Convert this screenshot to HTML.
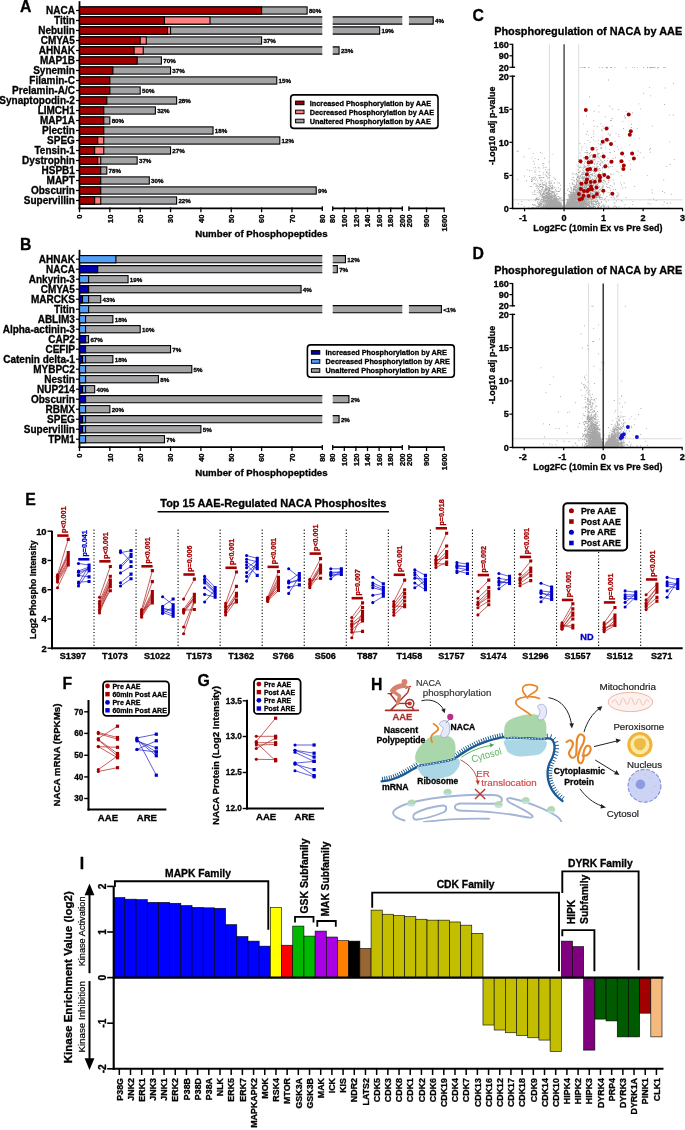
<!DOCTYPE html>
<html><head><meta charset="utf-8"><style>
html,body{margin:0;padding:0;background:#fff;}
svg{display:block;will-change:transform;}
text{font-family:"Liberation Sans",sans-serif;}
</style></head><body>
<svg width="685" height="1130" viewBox="0 0 685 1130">
<rect width="685" height="1130" fill="#fff"/>
<text x="20.10" y="11.90" font-size="15.8" font-weight="bold" stroke="#000" stroke-width="0.3" text-anchor="start" fill="#000">A</text>
<line x1="79.50" y1="1.20" x2="79.50" y2="209.20" stroke="#000" stroke-width="1.8"/>
<line x1="76.00" y1="10.50" x2="79.50" y2="10.50" stroke="#000" stroke-width="1.2"/>
<text x="74.90" y="14.00" font-size="10.0" font-weight="bold" stroke="#000" stroke-width="0.3" text-anchor="end" fill="#000">NACA</text>
<rect x="79.50" y="6.90" width="227.62" height="7.20" fill="#a3a3a6" stroke="#000" stroke-width="1.1"/>
<rect x="79.50" y="6.90" width="182.10" height="7.20" fill="#a00000" stroke="#000" stroke-width="1.1"/>
<line x1="79.50" y1="6.90" x2="79.50" y2="14.10" stroke="#000" stroke-width="1.1"/>
<text x="308.93" y="12.80" font-size="6.2" font-weight="bold" stroke="#000" stroke-width="0.3" text-anchor="start" fill="#000">80%</text>
<line x1="76.00" y1="20.50" x2="79.50" y2="20.50" stroke="#000" stroke-width="1.2"/>
<text x="74.90" y="24.00" font-size="10.0" font-weight="bold" stroke="#000" stroke-width="0.3" text-anchor="end" fill="#000">Titin</text>
<rect x="79.50" y="16.90" width="242.80" height="7.20" fill="#a3a3a6"/>
<line x1="79.50" y1="16.90" x2="322.30" y2="16.90" stroke="#000" stroke-width="1.1"/>
<line x1="79.50" y1="24.10" x2="322.30" y2="24.10" stroke="#000" stroke-width="1.1"/>
<rect x="332.70" y="16.90" width="69.60" height="7.20" fill="#a3a3a6"/>
<line x1="332.70" y1="16.90" x2="402.30" y2="16.90" stroke="#000" stroke-width="1.1"/>
<line x1="332.70" y1="24.10" x2="402.30" y2="24.10" stroke="#000" stroke-width="1.1"/>
<rect x="408.90" y="16.90" width="24.31" height="7.20" fill="#a3a3a6"/>
<path d="M408.90 16.90H433.21V24.10H408.90" fill="none" stroke="#000" stroke-width="1.1"/>
<rect x="79.50" y="16.90" width="130.50" height="7.20" fill="#ff8080" stroke="#000" stroke-width="1.1"/>
<rect x="79.50" y="16.90" width="84.98" height="7.20" fill="#a00000" stroke="#000" stroke-width="1.1"/>
<line x1="79.50" y1="16.90" x2="79.50" y2="24.10" stroke="#000" stroke-width="1.1"/>
<text x="435.01" y="22.80" font-size="6.2" font-weight="bold" stroke="#000" stroke-width="0.3" text-anchor="start" fill="#000">4%</text>
<line x1="76.00" y1="30.50" x2="79.50" y2="30.50" stroke="#000" stroke-width="1.2"/>
<text x="74.90" y="34.00" font-size="10.0" font-weight="bold" stroke="#000" stroke-width="0.3" text-anchor="end" fill="#000">Nebulin</text>
<rect x="79.50" y="26.90" width="242.80" height="7.20" fill="#a3a3a6"/>
<line x1="79.50" y1="26.90" x2="322.30" y2="26.90" stroke="#000" stroke-width="1.1"/>
<line x1="79.50" y1="34.10" x2="322.30" y2="34.10" stroke="#000" stroke-width="1.1"/>
<rect x="332.70" y="26.90" width="46.98" height="7.20" fill="#a3a3a6"/>
<path d="M332.70 26.90H379.68V34.10H332.70" fill="none" stroke="#000" stroke-width="1.1"/>
<rect x="79.50" y="26.90" width="91.05" height="7.20" fill="#ff8080" stroke="#000" stroke-width="1.1"/>
<rect x="79.50" y="26.90" width="88.01" height="7.20" fill="#a00000" stroke="#000" stroke-width="1.1"/>
<line x1="79.50" y1="26.90" x2="79.50" y2="34.10" stroke="#000" stroke-width="1.1"/>
<text x="381.48" y="32.80" font-size="6.2" font-weight="bold" stroke="#000" stroke-width="0.3" text-anchor="start" fill="#000">19%</text>
<line x1="76.00" y1="40.50" x2="79.50" y2="40.50" stroke="#000" stroke-width="1.2"/>
<text x="74.90" y="44.00" font-size="10.0" font-weight="bold" stroke="#000" stroke-width="0.3" text-anchor="end" fill="#000">CMYA5</text>
<rect x="79.50" y="36.90" width="182.10" height="7.20" fill="#a3a3a6" stroke="#000" stroke-width="1.1"/>
<rect x="79.50" y="36.90" width="66.77" height="7.20" fill="#ff8080" stroke="#000" stroke-width="1.1"/>
<rect x="79.50" y="36.90" width="60.70" height="7.20" fill="#a00000" stroke="#000" stroke-width="1.1"/>
<line x1="79.50" y1="36.90" x2="79.50" y2="44.10" stroke="#000" stroke-width="1.1"/>
<text x="263.40" y="42.80" font-size="6.2" font-weight="bold" stroke="#000" stroke-width="0.3" text-anchor="start" fill="#000">37%</text>
<line x1="76.00" y1="50.50" x2="79.50" y2="50.50" stroke="#000" stroke-width="1.2"/>
<text x="74.90" y="54.00" font-size="10.0" font-weight="bold" stroke="#000" stroke-width="0.3" text-anchor="end" fill="#000">AHNAK</text>
<rect x="79.50" y="46.90" width="242.80" height="7.20" fill="#a3a3a6"/>
<line x1="79.50" y1="46.90" x2="322.30" y2="46.90" stroke="#000" stroke-width="1.1"/>
<line x1="79.50" y1="54.10" x2="322.30" y2="54.10" stroke="#000" stroke-width="1.1"/>
<rect x="332.70" y="46.90" width="6.38" height="7.20" fill="#a3a3a6"/>
<path d="M332.70 46.90H339.08V54.10H332.70" fill="none" stroke="#000" stroke-width="1.1"/>
<rect x="79.50" y="46.90" width="63.74" height="7.20" fill="#ff8080" stroke="#000" stroke-width="1.1"/>
<rect x="79.50" y="46.90" width="54.63" height="7.20" fill="#a00000" stroke="#000" stroke-width="1.1"/>
<line x1="79.50" y1="46.90" x2="79.50" y2="54.10" stroke="#000" stroke-width="1.1"/>
<text x="340.88" y="52.80" font-size="6.2" font-weight="bold" stroke="#000" stroke-width="0.3" text-anchor="start" fill="#000">23%</text>
<line x1="76.00" y1="60.50" x2="79.50" y2="60.50" stroke="#000" stroke-width="1.2"/>
<text x="74.90" y="64.00" font-size="10.0" font-weight="bold" stroke="#000" stroke-width="0.3" text-anchor="end" fill="#000">MAP1B</text>
<rect x="79.50" y="56.90" width="81.94" height="7.20" fill="#a3a3a6" stroke="#000" stroke-width="1.1"/>
<rect x="79.50" y="56.90" width="57.67" height="7.20" fill="#a00000" stroke="#000" stroke-width="1.1"/>
<line x1="79.50" y1="56.90" x2="79.50" y2="64.10" stroke="#000" stroke-width="1.1"/>
<text x="163.25" y="62.80" font-size="6.2" font-weight="bold" stroke="#000" stroke-width="0.3" text-anchor="start" fill="#000">70%</text>
<line x1="76.00" y1="70.50" x2="79.50" y2="70.50" stroke="#000" stroke-width="1.2"/>
<text x="74.90" y="74.00" font-size="10.0" font-weight="bold" stroke="#000" stroke-width="0.3" text-anchor="end" fill="#000">Synemin</text>
<rect x="79.50" y="66.90" width="91.05" height="7.20" fill="#a3a3a6" stroke="#000" stroke-width="1.1"/>
<rect x="79.50" y="66.90" width="33.39" height="7.20" fill="#a00000" stroke="#000" stroke-width="1.1"/>
<line x1="79.50" y1="66.90" x2="79.50" y2="74.10" stroke="#000" stroke-width="1.1"/>
<text x="172.35" y="72.80" font-size="6.2" font-weight="bold" stroke="#000" stroke-width="0.3" text-anchor="start" fill="#000">37%</text>
<line x1="76.00" y1="80.50" x2="79.50" y2="80.50" stroke="#000" stroke-width="1.2"/>
<text x="74.90" y="84.00" font-size="10.0" font-weight="bold" stroke="#000" stroke-width="0.3" text-anchor="end" fill="#000">Filamin-C</text>
<rect x="79.50" y="76.90" width="197.27" height="7.20" fill="#a3a3a6" stroke="#000" stroke-width="1.1"/>
<rect x="79.50" y="76.90" width="30.35" height="7.20" fill="#a00000" stroke="#000" stroke-width="1.1"/>
<line x1="79.50" y1="76.90" x2="79.50" y2="84.10" stroke="#000" stroke-width="1.1"/>
<text x="278.57" y="82.80" font-size="6.2" font-weight="bold" stroke="#000" stroke-width="0.3" text-anchor="start" fill="#000">15%</text>
<line x1="76.00" y1="90.50" x2="79.50" y2="90.50" stroke="#000" stroke-width="1.2"/>
<text x="74.90" y="94.00" font-size="10.0" font-weight="bold" stroke="#000" stroke-width="0.3" text-anchor="end" fill="#000">Prelamin-A/C</text>
<rect x="79.50" y="86.90" width="60.70" height="7.20" fill="#a3a3a6" stroke="#000" stroke-width="1.1"/>
<rect x="79.50" y="86.90" width="30.35" height="7.20" fill="#a00000" stroke="#000" stroke-width="1.1"/>
<line x1="79.50" y1="86.90" x2="79.50" y2="94.10" stroke="#000" stroke-width="1.1"/>
<text x="142.00" y="92.80" font-size="6.2" font-weight="bold" stroke="#000" stroke-width="0.3" text-anchor="start" fill="#000">50%</text>
<line x1="76.00" y1="100.50" x2="79.50" y2="100.50" stroke="#000" stroke-width="1.2"/>
<text x="74.90" y="104.00" font-size="10.0" font-weight="bold" stroke="#000" stroke-width="0.3" text-anchor="end" fill="#000">Synaptopodin-2</text>
<rect x="79.50" y="96.90" width="97.12" height="7.20" fill="#a3a3a6" stroke="#000" stroke-width="1.1"/>
<rect x="79.50" y="96.90" width="27.31" height="7.20" fill="#a00000" stroke="#000" stroke-width="1.1"/>
<line x1="79.50" y1="96.90" x2="79.50" y2="104.10" stroke="#000" stroke-width="1.1"/>
<text x="178.42" y="102.80" font-size="6.2" font-weight="bold" stroke="#000" stroke-width="0.3" text-anchor="start" fill="#000">28%</text>
<line x1="76.00" y1="110.50" x2="79.50" y2="110.50" stroke="#000" stroke-width="1.2"/>
<text x="74.90" y="114.00" font-size="10.0" font-weight="bold" stroke="#000" stroke-width="0.3" text-anchor="end" fill="#000">LIMCH1</text>
<rect x="79.50" y="106.90" width="75.88" height="7.20" fill="#a3a3a6" stroke="#000" stroke-width="1.1"/>
<rect x="79.50" y="106.90" width="24.28" height="7.20" fill="#a00000" stroke="#000" stroke-width="1.1"/>
<line x1="79.50" y1="106.90" x2="79.50" y2="114.10" stroke="#000" stroke-width="1.1"/>
<text x="157.18" y="112.80" font-size="6.2" font-weight="bold" stroke="#000" stroke-width="0.3" text-anchor="start" fill="#000">32%</text>
<line x1="76.00" y1="120.50" x2="79.50" y2="120.50" stroke="#000" stroke-width="1.2"/>
<text x="74.90" y="124.00" font-size="10.0" font-weight="bold" stroke="#000" stroke-width="0.3" text-anchor="end" fill="#000">MAP1A</text>
<rect x="79.50" y="116.90" width="30.35" height="7.20" fill="#a3a3a6" stroke="#000" stroke-width="1.1"/>
<rect x="79.50" y="116.90" width="24.28" height="7.20" fill="#a00000" stroke="#000" stroke-width="1.1"/>
<line x1="79.50" y1="116.90" x2="79.50" y2="124.10" stroke="#000" stroke-width="1.1"/>
<text x="111.65" y="122.80" font-size="6.2" font-weight="bold" stroke="#000" stroke-width="0.3" text-anchor="start" fill="#000">80%</text>
<line x1="76.00" y1="130.50" x2="79.50" y2="130.50" stroke="#000" stroke-width="1.2"/>
<text x="74.90" y="134.00" font-size="10.0" font-weight="bold" stroke="#000" stroke-width="0.3" text-anchor="end" fill="#000">Plectin</text>
<rect x="79.50" y="126.90" width="133.54" height="7.20" fill="#a3a3a6" stroke="#000" stroke-width="1.1"/>
<rect x="79.50" y="126.90" width="24.28" height="7.20" fill="#a00000" stroke="#000" stroke-width="1.1"/>
<line x1="79.50" y1="126.90" x2="79.50" y2="134.10" stroke="#000" stroke-width="1.1"/>
<text x="214.84" y="132.80" font-size="6.2" font-weight="bold" stroke="#000" stroke-width="0.3" text-anchor="start" fill="#000">18%</text>
<line x1="76.00" y1="140.50" x2="79.50" y2="140.50" stroke="#000" stroke-width="1.2"/>
<text x="74.90" y="144.00" font-size="10.0" font-weight="bold" stroke="#000" stroke-width="0.3" text-anchor="end" fill="#000">SPEG</text>
<rect x="79.50" y="136.90" width="200.31" height="7.20" fill="#a3a3a6" stroke="#000" stroke-width="1.1"/>
<rect x="79.50" y="136.90" width="24.28" height="7.20" fill="#ff8080" stroke="#000" stroke-width="1.1"/>
<rect x="79.50" y="136.90" width="18.21" height="7.20" fill="#a00000" stroke="#000" stroke-width="1.1"/>
<line x1="79.50" y1="136.90" x2="79.50" y2="144.10" stroke="#000" stroke-width="1.1"/>
<text x="281.61" y="142.80" font-size="6.2" font-weight="bold" stroke="#000" stroke-width="0.3" text-anchor="start" fill="#000">12%</text>
<line x1="76.00" y1="150.50" x2="79.50" y2="150.50" stroke="#000" stroke-width="1.2"/>
<text x="74.90" y="154.00" font-size="10.0" font-weight="bold" stroke="#000" stroke-width="0.3" text-anchor="end" fill="#000">Tensin-1</text>
<rect x="79.50" y="146.90" width="91.05" height="7.20" fill="#a3a3a6" stroke="#000" stroke-width="1.1"/>
<rect x="79.50" y="146.90" width="24.28" height="7.20" fill="#ff8080" stroke="#000" stroke-width="1.1"/>
<rect x="79.50" y="146.90" width="15.17" height="7.20" fill="#a00000" stroke="#000" stroke-width="1.1"/>
<line x1="79.50" y1="146.90" x2="79.50" y2="154.10" stroke="#000" stroke-width="1.1"/>
<text x="172.35" y="152.80" font-size="6.2" font-weight="bold" stroke="#000" stroke-width="0.3" text-anchor="start" fill="#000">27%</text>
<line x1="76.00" y1="160.50" x2="79.50" y2="160.50" stroke="#000" stroke-width="1.2"/>
<text x="74.90" y="164.00" font-size="10.0" font-weight="bold" stroke="#000" stroke-width="0.3" text-anchor="end" fill="#000">Dystrophin</text>
<rect x="79.50" y="156.90" width="57.67" height="7.20" fill="#a3a3a6" stroke="#000" stroke-width="1.1"/>
<rect x="79.50" y="156.90" width="21.25" height="7.20" fill="#ff8080" stroke="#000" stroke-width="1.1"/>
<rect x="79.50" y="156.90" width="18.21" height="7.20" fill="#a00000" stroke="#000" stroke-width="1.1"/>
<line x1="79.50" y1="156.90" x2="79.50" y2="164.10" stroke="#000" stroke-width="1.1"/>
<text x="138.97" y="162.80" font-size="6.2" font-weight="bold" stroke="#000" stroke-width="0.3" text-anchor="start" fill="#000">37%</text>
<line x1="76.00" y1="170.50" x2="79.50" y2="170.50" stroke="#000" stroke-width="1.2"/>
<text x="74.90" y="174.00" font-size="10.0" font-weight="bold" stroke="#000" stroke-width="0.3" text-anchor="end" fill="#000">HSPB1</text>
<rect x="79.50" y="166.90" width="27.31" height="7.20" fill="#a3a3a6" stroke="#000" stroke-width="1.1"/>
<rect x="79.50" y="166.90" width="21.25" height="7.20" fill="#a00000" stroke="#000" stroke-width="1.1"/>
<line x1="79.50" y1="166.90" x2="79.50" y2="174.10" stroke="#000" stroke-width="1.1"/>
<text x="108.61" y="172.80" font-size="6.2" font-weight="bold" stroke="#000" stroke-width="0.3" text-anchor="start" fill="#000">78%</text>
<line x1="76.00" y1="180.50" x2="79.50" y2="180.50" stroke="#000" stroke-width="1.2"/>
<text x="74.90" y="184.00" font-size="10.0" font-weight="bold" stroke="#000" stroke-width="0.3" text-anchor="end" fill="#000">MAPT</text>
<rect x="79.50" y="176.90" width="69.81" height="7.20" fill="#a3a3a6" stroke="#000" stroke-width="1.1"/>
<rect x="79.50" y="176.90" width="21.25" height="7.20" fill="#a00000" stroke="#000" stroke-width="1.1"/>
<line x1="79.50" y1="176.90" x2="79.50" y2="184.10" stroke="#000" stroke-width="1.1"/>
<text x="151.11" y="182.80" font-size="6.2" font-weight="bold" stroke="#000" stroke-width="0.3" text-anchor="start" fill="#000">30%</text>
<line x1="76.00" y1="190.50" x2="79.50" y2="190.50" stroke="#000" stroke-width="1.2"/>
<text x="74.90" y="194.00" font-size="10.0" font-weight="bold" stroke="#000" stroke-width="0.3" text-anchor="end" fill="#000">Obscurin</text>
<rect x="79.50" y="186.90" width="236.73" height="7.20" fill="#a3a3a6" stroke="#000" stroke-width="1.1"/>
<rect x="79.50" y="186.90" width="21.25" height="7.20" fill="#a00000" stroke="#000" stroke-width="1.1"/>
<line x1="79.50" y1="186.90" x2="79.50" y2="194.10" stroke="#000" stroke-width="1.1"/>
<text x="318.03" y="192.80" font-size="6.2" font-weight="bold" stroke="#000" stroke-width="0.3" text-anchor="start" fill="#000">9%</text>
<line x1="76.00" y1="200.50" x2="79.50" y2="200.50" stroke="#000" stroke-width="1.2"/>
<text x="74.90" y="204.00" font-size="10.0" font-weight="bold" stroke="#000" stroke-width="0.3" text-anchor="end" fill="#000">Supervillin</text>
<rect x="79.50" y="196.90" width="97.12" height="7.20" fill="#a3a3a6" stroke="#000" stroke-width="1.1"/>
<rect x="79.50" y="196.90" width="21.25" height="7.20" fill="#ff8080" stroke="#000" stroke-width="1.1"/>
<rect x="79.50" y="196.90" width="15.17" height="7.20" fill="#a00000" stroke="#000" stroke-width="1.1"/>
<line x1="79.50" y1="196.90" x2="79.50" y2="204.10" stroke="#000" stroke-width="1.1"/>
<text x="178.42" y="202.80" font-size="6.2" font-weight="bold" stroke="#000" stroke-width="0.3" text-anchor="start" fill="#000">22%</text>
<line x1="78.60" y1="208.30" x2="322.30" y2="208.30" stroke="#000" stroke-width="1.8"/>
<line x1="332.70" y1="208.30" x2="402.30" y2="208.30" stroke="#000" stroke-width="1.8"/>
<line x1="408.90" y1="208.30" x2="444.20" y2="208.30" stroke="#000" stroke-width="1.8"/>
<line x1="79.50" y1="207.40" x2="79.50" y2="212.20" stroke="#000" stroke-width="1.3"/>
<text x="82.20" y="214.50" font-size="7.6" font-weight="bold" stroke="#000" stroke-width="0.3" text-anchor="end" fill="#000" transform="rotate(-90 82.20 214.50)">0</text>
<line x1="109.85" y1="207.40" x2="109.85" y2="212.20" stroke="#000" stroke-width="1.3"/>
<text x="112.55" y="214.50" font-size="7.6" font-weight="bold" stroke="#000" stroke-width="0.3" text-anchor="end" fill="#000" transform="rotate(-90 112.55 214.50)">10</text>
<line x1="140.20" y1="207.40" x2="140.20" y2="212.20" stroke="#000" stroke-width="1.3"/>
<text x="142.90" y="214.50" font-size="7.6" font-weight="bold" stroke="#000" stroke-width="0.3" text-anchor="end" fill="#000" transform="rotate(-90 142.90 214.50)">20</text>
<line x1="170.55" y1="207.40" x2="170.55" y2="212.20" stroke="#000" stroke-width="1.3"/>
<text x="173.25" y="214.50" font-size="7.6" font-weight="bold" stroke="#000" stroke-width="0.3" text-anchor="end" fill="#000" transform="rotate(-90 173.25 214.50)">30</text>
<line x1="200.90" y1="207.40" x2="200.90" y2="212.20" stroke="#000" stroke-width="1.3"/>
<text x="203.60" y="214.50" font-size="7.6" font-weight="bold" stroke="#000" stroke-width="0.3" text-anchor="end" fill="#000" transform="rotate(-90 203.60 214.50)">40</text>
<line x1="231.25" y1="207.40" x2="231.25" y2="212.20" stroke="#000" stroke-width="1.3"/>
<text x="233.95" y="214.50" font-size="7.6" font-weight="bold" stroke="#000" stroke-width="0.3" text-anchor="end" fill="#000" transform="rotate(-90 233.95 214.50)">50</text>
<line x1="261.60" y1="207.40" x2="261.60" y2="212.20" stroke="#000" stroke-width="1.3"/>
<text x="264.30" y="214.50" font-size="7.6" font-weight="bold" stroke="#000" stroke-width="0.3" text-anchor="end" fill="#000" transform="rotate(-90 264.30 214.50)">60</text>
<line x1="291.95" y1="207.40" x2="291.95" y2="212.20" stroke="#000" stroke-width="1.3"/>
<text x="294.65" y="214.50" font-size="7.6" font-weight="bold" stroke="#000" stroke-width="0.3" text-anchor="end" fill="#000" transform="rotate(-90 294.65 214.50)">70</text>
<line x1="322.30" y1="206.20" x2="322.30" y2="211.00" stroke="#000" stroke-width="1.3"/>
<text x="325.00" y="214.50" font-size="7.6" font-weight="bold" stroke="#000" stroke-width="0.3" text-anchor="end" fill="#000" transform="rotate(-90 325.00 214.50)">80</text>
<line x1="332.70" y1="206.20" x2="332.70" y2="211.00" stroke="#000" stroke-width="1.3"/>
<text x="335.40" y="214.50" font-size="7.6" font-weight="bold" stroke="#000" stroke-width="0.3" text-anchor="end" fill="#000" transform="rotate(-90 335.40 214.50)">80</text>
<line x1="344.30" y1="207.40" x2="344.30" y2="212.20" stroke="#000" stroke-width="1.3"/>
<text x="347.00" y="214.50" font-size="7.6" font-weight="bold" stroke="#000" stroke-width="0.3" text-anchor="end" fill="#000" transform="rotate(-90 347.00 214.50)">100</text>
<line x1="355.90" y1="207.40" x2="355.90" y2="212.20" stroke="#000" stroke-width="1.3"/>
<text x="358.60" y="214.50" font-size="7.6" font-weight="bold" stroke="#000" stroke-width="0.3" text-anchor="end" fill="#000" transform="rotate(-90 358.60 214.50)">120</text>
<line x1="367.50" y1="207.40" x2="367.50" y2="212.20" stroke="#000" stroke-width="1.3"/>
<text x="370.20" y="214.50" font-size="7.6" font-weight="bold" stroke="#000" stroke-width="0.3" text-anchor="end" fill="#000" transform="rotate(-90 370.20 214.50)">140</text>
<line x1="379.10" y1="207.40" x2="379.10" y2="212.20" stroke="#000" stroke-width="1.3"/>
<text x="381.80" y="214.50" font-size="7.6" font-weight="bold" stroke="#000" stroke-width="0.3" text-anchor="end" fill="#000" transform="rotate(-90 381.80 214.50)">160</text>
<line x1="390.70" y1="207.40" x2="390.70" y2="212.20" stroke="#000" stroke-width="1.3"/>
<text x="393.40" y="214.50" font-size="7.6" font-weight="bold" stroke="#000" stroke-width="0.3" text-anchor="end" fill="#000" transform="rotate(-90 393.40 214.50)">180</text>
<line x1="402.30" y1="206.20" x2="402.30" y2="211.00" stroke="#000" stroke-width="1.3"/>
<text x="405.00" y="214.50" font-size="7.6" font-weight="bold" stroke="#000" stroke-width="0.3" text-anchor="end" fill="#000" transform="rotate(-90 405.00 214.50)">200</text>
<line x1="408.90" y1="206.20" x2="408.90" y2="211.00" stroke="#000" stroke-width="1.3"/>
<text x="411.60" y="214.50" font-size="7.6" font-weight="bold" stroke="#000" stroke-width="0.3" text-anchor="end" fill="#000" transform="rotate(-90 411.60 214.50)">200</text>
<line x1="426.55" y1="207.40" x2="426.55" y2="212.20" stroke="#000" stroke-width="1.3"/>
<text x="429.25" y="214.50" font-size="7.6" font-weight="bold" stroke="#000" stroke-width="0.3" text-anchor="end" fill="#000" transform="rotate(-90 429.25 214.50)">900</text>
<line x1="444.20" y1="207.40" x2="444.20" y2="212.20" stroke="#000" stroke-width="1.3"/>
<text x="446.90" y="214.50" font-size="7.6" font-weight="bold" stroke="#000" stroke-width="0.3" text-anchor="end" fill="#000" transform="rotate(-90 446.90 214.50)">1600</text>
<text x="261.40" y="237.10" font-size="9.7" font-weight="bold" stroke="#000" stroke-width="0.3" text-anchor="middle" fill="#000">Number of Phosphopeptides</text>
<text x="20.10" y="249.80" font-size="15.8" font-weight="bold" stroke="#000" stroke-width="0.3" text-anchor="start" fill="#000">B</text>
<line x1="79.50" y1="249.80" x2="79.50" y2="448.10" stroke="#000" stroke-width="1.8"/>
<line x1="76.00" y1="259.20" x2="79.50" y2="259.20" stroke="#000" stroke-width="1.2"/>
<text x="74.90" y="262.70" font-size="10.0" font-weight="bold" stroke="#000" stroke-width="0.3" text-anchor="end" fill="#000">AHNAK</text>
<rect x="79.50" y="255.60" width="242.80" height="7.20" fill="#a3a3a6"/>
<line x1="79.50" y1="255.60" x2="322.30" y2="255.60" stroke="#000" stroke-width="1.1"/>
<line x1="79.50" y1="262.80" x2="322.30" y2="262.80" stroke="#000" stroke-width="1.1"/>
<rect x="332.70" y="255.60" width="12.76" height="7.20" fill="#a3a3a6"/>
<path d="M332.70 255.60H345.46V262.80H332.70" fill="none" stroke="#000" stroke-width="1.1"/>
<rect x="79.50" y="255.60" width="36.42" height="7.20" fill="#52a0fa" stroke="#000" stroke-width="1.1"/>
<line x1="79.50" y1="255.60" x2="79.50" y2="262.80" stroke="#000" stroke-width="1.1"/>
<text x="347.26" y="261.50" font-size="6.2" font-weight="bold" stroke="#000" stroke-width="0.3" text-anchor="start" fill="#000">12%</text>
<line x1="76.00" y1="269.20" x2="79.50" y2="269.20" stroke="#000" stroke-width="1.2"/>
<text x="74.90" y="272.70" font-size="10.0" font-weight="bold" stroke="#000" stroke-width="0.3" text-anchor="end" fill="#000">NACA</text>
<rect x="79.50" y="265.60" width="242.80" height="7.20" fill="#a3a3a6"/>
<line x1="79.50" y1="265.60" x2="322.30" y2="265.60" stroke="#000" stroke-width="1.1"/>
<line x1="79.50" y1="272.80" x2="322.30" y2="272.80" stroke="#000" stroke-width="1.1"/>
<rect x="332.70" y="265.60" width="4.64" height="7.20" fill="#a3a3a6"/>
<path d="M332.70 265.60H337.34V272.80H332.70" fill="none" stroke="#000" stroke-width="1.1"/>
<rect x="79.50" y="265.60" width="18.21" height="7.20" fill="#0000b4" stroke="#000" stroke-width="1.1"/>
<line x1="79.50" y1="265.60" x2="79.50" y2="272.80" stroke="#000" stroke-width="1.1"/>
<text x="339.14" y="271.50" font-size="6.2" font-weight="bold" stroke="#000" stroke-width="0.3" text-anchor="start" fill="#000">7%</text>
<line x1="76.00" y1="279.20" x2="79.50" y2="279.20" stroke="#000" stroke-width="1.2"/>
<text x="74.90" y="282.70" font-size="10.0" font-weight="bold" stroke="#000" stroke-width="0.3" text-anchor="end" fill="#000">Ankyrin-3</text>
<rect x="79.50" y="275.60" width="48.56" height="7.20" fill="#a3a3a6" stroke="#000" stroke-width="1.1"/>
<rect x="79.50" y="275.60" width="9.11" height="7.20" fill="#52a0fa" stroke="#000" stroke-width="1.1"/>
<line x1="79.50" y1="275.60" x2="79.50" y2="282.80" stroke="#000" stroke-width="1.1"/>
<text x="129.86" y="281.50" font-size="6.2" font-weight="bold" stroke="#000" stroke-width="0.3" text-anchor="start" fill="#000">19%</text>
<line x1="76.00" y1="289.20" x2="79.50" y2="289.20" stroke="#000" stroke-width="1.2"/>
<text x="74.90" y="292.70" font-size="10.0" font-weight="bold" stroke="#000" stroke-width="0.3" text-anchor="end" fill="#000">CMYA5</text>
<rect x="79.50" y="285.60" width="221.56" height="7.20" fill="#a3a3a6" stroke="#000" stroke-width="1.1"/>
<rect x="79.50" y="285.60" width="9.11" height="7.20" fill="#0000b4" stroke="#000" stroke-width="1.1"/>
<line x1="79.50" y1="285.60" x2="79.50" y2="292.80" stroke="#000" stroke-width="1.1"/>
<text x="302.86" y="291.50" font-size="6.2" font-weight="bold" stroke="#000" stroke-width="0.3" text-anchor="start" fill="#000">4%</text>
<line x1="76.00" y1="299.20" x2="79.50" y2="299.20" stroke="#000" stroke-width="1.2"/>
<text x="74.90" y="302.70" font-size="10.0" font-weight="bold" stroke="#000" stroke-width="0.3" text-anchor="end" fill="#000">MARCKS</text>
<rect x="79.50" y="295.60" width="21.25" height="7.20" fill="#a3a3a6" stroke="#000" stroke-width="1.1"/>
<rect x="79.50" y="295.60" width="9.11" height="7.20" fill="#52a0fa" stroke="#000" stroke-width="1.1"/>
<rect x="79.50" y="295.60" width="3.03" height="7.20" fill="#0000b4" stroke="#000" stroke-width="1.1"/>
<line x1="79.50" y1="295.60" x2="79.50" y2="302.80" stroke="#000" stroke-width="1.1"/>
<text x="102.55" y="301.50" font-size="6.2" font-weight="bold" stroke="#000" stroke-width="0.3" text-anchor="start" fill="#000">43%</text>
<line x1="76.00" y1="309.20" x2="79.50" y2="309.20" stroke="#000" stroke-width="1.2"/>
<text x="74.90" y="312.70" font-size="10.0" font-weight="bold" stroke="#000" stroke-width="0.3" text-anchor="end" fill="#000">Titin</text>
<rect x="79.50" y="305.60" width="242.80" height="7.20" fill="#a3a3a6"/>
<line x1="79.50" y1="305.60" x2="322.30" y2="305.60" stroke="#000" stroke-width="1.1"/>
<line x1="79.50" y1="312.80" x2="322.30" y2="312.80" stroke="#000" stroke-width="1.1"/>
<rect x="332.70" y="305.60" width="69.60" height="7.20" fill="#a3a3a6"/>
<line x1="332.70" y1="305.60" x2="402.30" y2="305.60" stroke="#000" stroke-width="1.1"/>
<line x1="332.70" y1="312.80" x2="402.30" y2="312.80" stroke="#000" stroke-width="1.1"/>
<rect x="408.90" y="305.60" width="32.50" height="7.20" fill="#a3a3a6"/>
<path d="M408.90 305.60H441.40V312.80H408.90" fill="none" stroke="#000" stroke-width="1.1"/>
<rect x="79.50" y="305.60" width="9.11" height="7.20" fill="#52a0fa" stroke="#000" stroke-width="1.1"/>
<line x1="79.50" y1="305.60" x2="79.50" y2="312.80" stroke="#000" stroke-width="1.1"/>
<text x="443.20" y="311.50" font-size="6.2" font-weight="bold" stroke="#000" stroke-width="0.3" text-anchor="start" fill="#000">&lt;1%</text>
<line x1="76.00" y1="319.20" x2="79.50" y2="319.20" stroke="#000" stroke-width="1.2"/>
<text x="74.90" y="322.70" font-size="10.0" font-weight="bold" stroke="#000" stroke-width="0.3" text-anchor="end" fill="#000">ABLIM3</text>
<rect x="79.50" y="315.60" width="33.39" height="7.20" fill="#a3a3a6" stroke="#000" stroke-width="1.1"/>
<rect x="79.50" y="315.60" width="6.07" height="7.20" fill="#52a0fa" stroke="#000" stroke-width="1.1"/>
<line x1="79.50" y1="315.60" x2="79.50" y2="322.80" stroke="#000" stroke-width="1.1"/>
<text x="114.69" y="321.50" font-size="6.2" font-weight="bold" stroke="#000" stroke-width="0.3" text-anchor="start" fill="#000">18%</text>
<line x1="76.00" y1="329.20" x2="79.50" y2="329.20" stroke="#000" stroke-width="1.2"/>
<text x="74.90" y="332.70" font-size="10.0" font-weight="bold" stroke="#000" stroke-width="0.3" text-anchor="end" fill="#000">Alpha-actinin-3</text>
<rect x="79.50" y="325.60" width="60.70" height="7.20" fill="#a3a3a6" stroke="#000" stroke-width="1.1"/>
<rect x="79.50" y="325.60" width="6.07" height="7.20" fill="#52a0fa" stroke="#000" stroke-width="1.1"/>
<line x1="79.50" y1="325.60" x2="79.50" y2="332.80" stroke="#000" stroke-width="1.1"/>
<text x="142.00" y="331.50" font-size="6.2" font-weight="bold" stroke="#000" stroke-width="0.3" text-anchor="start" fill="#000">10%</text>
<line x1="76.00" y1="339.20" x2="79.50" y2="339.20" stroke="#000" stroke-width="1.2"/>
<text x="74.90" y="342.70" font-size="10.0" font-weight="bold" stroke="#000" stroke-width="0.3" text-anchor="end" fill="#000">CAP2</text>
<rect x="79.50" y="335.60" width="9.11" height="7.20" fill="#a3a3a6" stroke="#000" stroke-width="1.1"/>
<rect x="79.50" y="335.60" width="6.07" height="7.20" fill="#0000b4" stroke="#000" stroke-width="1.1"/>
<line x1="79.50" y1="335.60" x2="79.50" y2="342.80" stroke="#000" stroke-width="1.1"/>
<text x="90.41" y="341.50" font-size="6.2" font-weight="bold" stroke="#000" stroke-width="0.3" text-anchor="start" fill="#000">67%</text>
<line x1="76.00" y1="349.20" x2="79.50" y2="349.20" stroke="#000" stroke-width="1.2"/>
<text x="74.90" y="352.70" font-size="10.0" font-weight="bold" stroke="#000" stroke-width="0.3" text-anchor="end" fill="#000">CEFIP</text>
<rect x="79.50" y="345.60" width="91.05" height="7.20" fill="#a3a3a6" stroke="#000" stroke-width="1.1"/>
<rect x="79.50" y="345.60" width="6.07" height="7.20" fill="#0000b4" stroke="#000" stroke-width="1.1"/>
<line x1="79.50" y1="345.60" x2="79.50" y2="352.80" stroke="#000" stroke-width="1.1"/>
<text x="172.35" y="351.50" font-size="6.2" font-weight="bold" stroke="#000" stroke-width="0.3" text-anchor="start" fill="#000">7%</text>
<line x1="76.00" y1="359.20" x2="79.50" y2="359.20" stroke="#000" stroke-width="1.2"/>
<text x="74.90" y="362.70" font-size="10.0" font-weight="bold" stroke="#000" stroke-width="0.3" text-anchor="end" fill="#000">Catenin delta-1</text>
<rect x="79.50" y="355.60" width="33.39" height="7.20" fill="#a3a3a6" stroke="#000" stroke-width="1.1"/>
<rect x="79.50" y="355.60" width="6.07" height="7.20" fill="#52a0fa" stroke="#000" stroke-width="1.1"/>
<rect x="79.50" y="355.60" width="3.03" height="7.20" fill="#0000b4" stroke="#000" stroke-width="1.1"/>
<line x1="79.50" y1="355.60" x2="79.50" y2="362.80" stroke="#000" stroke-width="1.1"/>
<text x="114.69" y="361.50" font-size="6.2" font-weight="bold" stroke="#000" stroke-width="0.3" text-anchor="start" fill="#000">18%</text>
<line x1="76.00" y1="369.20" x2="79.50" y2="369.20" stroke="#000" stroke-width="1.2"/>
<text x="74.90" y="372.70" font-size="10.0" font-weight="bold" stroke="#000" stroke-width="0.3" text-anchor="end" fill="#000">MYBPC2</text>
<rect x="79.50" y="365.60" width="112.30" height="7.20" fill="#a3a3a6" stroke="#000" stroke-width="1.1"/>
<rect x="79.50" y="365.60" width="6.07" height="7.20" fill="#52a0fa" stroke="#000" stroke-width="1.1"/>
<line x1="79.50" y1="365.60" x2="79.50" y2="372.80" stroke="#000" stroke-width="1.1"/>
<text x="193.60" y="371.50" font-size="6.2" font-weight="bold" stroke="#000" stroke-width="0.3" text-anchor="start" fill="#000">5%</text>
<line x1="76.00" y1="379.20" x2="79.50" y2="379.20" stroke="#000" stroke-width="1.2"/>
<text x="74.90" y="382.70" font-size="10.0" font-weight="bold" stroke="#000" stroke-width="0.3" text-anchor="end" fill="#000">Nestin</text>
<rect x="79.50" y="375.60" width="78.91" height="7.20" fill="#a3a3a6" stroke="#000" stroke-width="1.1"/>
<rect x="79.50" y="375.60" width="6.07" height="7.20" fill="#52a0fa" stroke="#000" stroke-width="1.1"/>
<line x1="79.50" y1="375.60" x2="79.50" y2="382.80" stroke="#000" stroke-width="1.1"/>
<text x="160.21" y="381.50" font-size="6.2" font-weight="bold" stroke="#000" stroke-width="0.3" text-anchor="start" fill="#000">8%</text>
<line x1="76.00" y1="389.20" x2="79.50" y2="389.20" stroke="#000" stroke-width="1.2"/>
<text x="74.90" y="392.70" font-size="10.0" font-weight="bold" stroke="#000" stroke-width="0.3" text-anchor="end" fill="#000">NUP214</text>
<rect x="79.50" y="385.60" width="15.17" height="7.20" fill="#a3a3a6" stroke="#000" stroke-width="1.1"/>
<rect x="79.50" y="385.60" width="6.07" height="7.20" fill="#52a0fa" stroke="#000" stroke-width="1.1"/>
<rect x="79.50" y="385.60" width="3.03" height="7.20" fill="#0000b4" stroke="#000" stroke-width="1.1"/>
<line x1="79.50" y1="385.60" x2="79.50" y2="392.80" stroke="#000" stroke-width="1.1"/>
<text x="96.47" y="391.50" font-size="6.2" font-weight="bold" stroke="#000" stroke-width="0.3" text-anchor="start" fill="#000">40%</text>
<line x1="76.00" y1="399.20" x2="79.50" y2="399.20" stroke="#000" stroke-width="1.2"/>
<text x="74.90" y="402.70" font-size="10.0" font-weight="bold" stroke="#000" stroke-width="0.3" text-anchor="end" fill="#000">Obscurin</text>
<rect x="79.50" y="395.60" width="242.80" height="7.20" fill="#a3a3a6"/>
<line x1="79.50" y1="395.60" x2="322.30" y2="395.60" stroke="#000" stroke-width="1.1"/>
<line x1="79.50" y1="402.80" x2="322.30" y2="402.80" stroke="#000" stroke-width="1.1"/>
<rect x="332.70" y="395.60" width="16.24" height="7.20" fill="#a3a3a6"/>
<path d="M332.70 395.60H348.94V402.80H332.70" fill="none" stroke="#000" stroke-width="1.1"/>
<rect x="79.50" y="395.60" width="6.07" height="7.20" fill="#0000b4" stroke="#000" stroke-width="1.1"/>
<line x1="79.50" y1="395.60" x2="79.50" y2="402.80" stroke="#000" stroke-width="1.1"/>
<text x="350.74" y="401.50" font-size="6.2" font-weight="bold" stroke="#000" stroke-width="0.3" text-anchor="start" fill="#000">2%</text>
<line x1="76.00" y1="409.20" x2="79.50" y2="409.20" stroke="#000" stroke-width="1.2"/>
<text x="74.90" y="412.70" font-size="10.0" font-weight="bold" stroke="#000" stroke-width="0.3" text-anchor="end" fill="#000">RBMX</text>
<rect x="79.50" y="405.60" width="30.35" height="7.20" fill="#a3a3a6" stroke="#000" stroke-width="1.1"/>
<rect x="79.50" y="405.60" width="6.07" height="7.20" fill="#52a0fa" stroke="#000" stroke-width="1.1"/>
<line x1="79.50" y1="405.60" x2="79.50" y2="412.80" stroke="#000" stroke-width="1.1"/>
<text x="111.65" y="411.50" font-size="6.2" font-weight="bold" stroke="#000" stroke-width="0.3" text-anchor="start" fill="#000">20%</text>
<line x1="76.00" y1="419.20" x2="79.50" y2="419.20" stroke="#000" stroke-width="1.2"/>
<text x="74.90" y="422.70" font-size="10.0" font-weight="bold" stroke="#000" stroke-width="0.3" text-anchor="end" fill="#000">SPEG</text>
<rect x="79.50" y="415.60" width="242.80" height="7.20" fill="#a3a3a6"/>
<line x1="79.50" y1="415.60" x2="322.30" y2="415.60" stroke="#000" stroke-width="1.1"/>
<line x1="79.50" y1="422.80" x2="322.30" y2="422.80" stroke="#000" stroke-width="1.1"/>
<rect x="332.70" y="415.60" width="6.38" height="7.20" fill="#a3a3a6"/>
<path d="M332.70 415.60H339.08V422.80H332.70" fill="none" stroke="#000" stroke-width="1.1"/>
<rect x="79.50" y="415.60" width="6.07" height="7.20" fill="#52a0fa" stroke="#000" stroke-width="1.1"/>
<rect x="79.50" y="415.60" width="3.03" height="7.20" fill="#0000b4" stroke="#000" stroke-width="1.1"/>
<line x1="79.50" y1="415.60" x2="79.50" y2="422.80" stroke="#000" stroke-width="1.1"/>
<text x="340.88" y="421.50" font-size="6.2" font-weight="bold" stroke="#000" stroke-width="0.3" text-anchor="start" fill="#000">2%</text>
<line x1="76.00" y1="429.20" x2="79.50" y2="429.20" stroke="#000" stroke-width="1.2"/>
<text x="74.90" y="432.70" font-size="10.0" font-weight="bold" stroke="#000" stroke-width="0.3" text-anchor="end" fill="#000">Supervillin</text>
<rect x="79.50" y="425.60" width="121.40" height="7.20" fill="#a3a3a6" stroke="#000" stroke-width="1.1"/>
<rect x="79.50" y="425.60" width="6.07" height="7.20" fill="#52a0fa" stroke="#000" stroke-width="1.1"/>
<rect x="79.50" y="425.60" width="3.03" height="7.20" fill="#0000b4" stroke="#000" stroke-width="1.1"/>
<line x1="79.50" y1="425.60" x2="79.50" y2="432.80" stroke="#000" stroke-width="1.1"/>
<text x="202.70" y="431.50" font-size="6.2" font-weight="bold" stroke="#000" stroke-width="0.3" text-anchor="start" fill="#000">5%</text>
<line x1="76.00" y1="439.20" x2="79.50" y2="439.20" stroke="#000" stroke-width="1.2"/>
<text x="74.90" y="442.70" font-size="10.0" font-weight="bold" stroke="#000" stroke-width="0.3" text-anchor="end" fill="#000">TPM1</text>
<rect x="79.50" y="435.60" width="84.98" height="7.20" fill="#a3a3a6" stroke="#000" stroke-width="1.1"/>
<rect x="79.50" y="435.60" width="6.07" height="7.20" fill="#52a0fa" stroke="#000" stroke-width="1.1"/>
<line x1="79.50" y1="435.60" x2="79.50" y2="442.80" stroke="#000" stroke-width="1.1"/>
<text x="166.28" y="441.50" font-size="6.2" font-weight="bold" stroke="#000" stroke-width="0.3" text-anchor="start" fill="#000">7%</text>
<line x1="78.60" y1="447.20" x2="322.30" y2="447.20" stroke="#000" stroke-width="1.8"/>
<line x1="332.70" y1="447.20" x2="402.30" y2="447.20" stroke="#000" stroke-width="1.8"/>
<line x1="408.90" y1="447.20" x2="444.20" y2="447.20" stroke="#000" stroke-width="1.8"/>
<line x1="79.50" y1="446.30" x2="79.50" y2="451.10" stroke="#000" stroke-width="1.3"/>
<text x="82.20" y="453.40" font-size="7.6" font-weight="bold" stroke="#000" stroke-width="0.3" text-anchor="end" fill="#000" transform="rotate(-90 82.20 453.40)">0</text>
<line x1="109.85" y1="446.30" x2="109.85" y2="451.10" stroke="#000" stroke-width="1.3"/>
<text x="112.55" y="453.40" font-size="7.6" font-weight="bold" stroke="#000" stroke-width="0.3" text-anchor="end" fill="#000" transform="rotate(-90 112.55 453.40)">10</text>
<line x1="140.20" y1="446.30" x2="140.20" y2="451.10" stroke="#000" stroke-width="1.3"/>
<text x="142.90" y="453.40" font-size="7.6" font-weight="bold" stroke="#000" stroke-width="0.3" text-anchor="end" fill="#000" transform="rotate(-90 142.90 453.40)">20</text>
<line x1="170.55" y1="446.30" x2="170.55" y2="451.10" stroke="#000" stroke-width="1.3"/>
<text x="173.25" y="453.40" font-size="7.6" font-weight="bold" stroke="#000" stroke-width="0.3" text-anchor="end" fill="#000" transform="rotate(-90 173.25 453.40)">30</text>
<line x1="200.90" y1="446.30" x2="200.90" y2="451.10" stroke="#000" stroke-width="1.3"/>
<text x="203.60" y="453.40" font-size="7.6" font-weight="bold" stroke="#000" stroke-width="0.3" text-anchor="end" fill="#000" transform="rotate(-90 203.60 453.40)">40</text>
<line x1="231.25" y1="446.30" x2="231.25" y2="451.10" stroke="#000" stroke-width="1.3"/>
<text x="233.95" y="453.40" font-size="7.6" font-weight="bold" stroke="#000" stroke-width="0.3" text-anchor="end" fill="#000" transform="rotate(-90 233.95 453.40)">50</text>
<line x1="261.60" y1="446.30" x2="261.60" y2="451.10" stroke="#000" stroke-width="1.3"/>
<text x="264.30" y="453.40" font-size="7.6" font-weight="bold" stroke="#000" stroke-width="0.3" text-anchor="end" fill="#000" transform="rotate(-90 264.30 453.40)">60</text>
<line x1="291.95" y1="446.30" x2="291.95" y2="451.10" stroke="#000" stroke-width="1.3"/>
<text x="294.65" y="453.40" font-size="7.6" font-weight="bold" stroke="#000" stroke-width="0.3" text-anchor="end" fill="#000" transform="rotate(-90 294.65 453.40)">70</text>
<line x1="322.30" y1="445.10" x2="322.30" y2="449.90" stroke="#000" stroke-width="1.3"/>
<text x="325.00" y="453.40" font-size="7.6" font-weight="bold" stroke="#000" stroke-width="0.3" text-anchor="end" fill="#000" transform="rotate(-90 325.00 453.40)">80</text>
<line x1="332.70" y1="445.10" x2="332.70" y2="449.90" stroke="#000" stroke-width="1.3"/>
<text x="335.40" y="453.40" font-size="7.6" font-weight="bold" stroke="#000" stroke-width="0.3" text-anchor="end" fill="#000" transform="rotate(-90 335.40 453.40)">80</text>
<line x1="344.30" y1="446.30" x2="344.30" y2="451.10" stroke="#000" stroke-width="1.3"/>
<text x="347.00" y="453.40" font-size="7.6" font-weight="bold" stroke="#000" stroke-width="0.3" text-anchor="end" fill="#000" transform="rotate(-90 347.00 453.40)">100</text>
<line x1="355.90" y1="446.30" x2="355.90" y2="451.10" stroke="#000" stroke-width="1.3"/>
<text x="358.60" y="453.40" font-size="7.6" font-weight="bold" stroke="#000" stroke-width="0.3" text-anchor="end" fill="#000" transform="rotate(-90 358.60 453.40)">120</text>
<line x1="367.50" y1="446.30" x2="367.50" y2="451.10" stroke="#000" stroke-width="1.3"/>
<text x="370.20" y="453.40" font-size="7.6" font-weight="bold" stroke="#000" stroke-width="0.3" text-anchor="end" fill="#000" transform="rotate(-90 370.20 453.40)">140</text>
<line x1="379.10" y1="446.30" x2="379.10" y2="451.10" stroke="#000" stroke-width="1.3"/>
<text x="381.80" y="453.40" font-size="7.6" font-weight="bold" stroke="#000" stroke-width="0.3" text-anchor="end" fill="#000" transform="rotate(-90 381.80 453.40)">160</text>
<line x1="390.70" y1="446.30" x2="390.70" y2="451.10" stroke="#000" stroke-width="1.3"/>
<text x="393.40" y="453.40" font-size="7.6" font-weight="bold" stroke="#000" stroke-width="0.3" text-anchor="end" fill="#000" transform="rotate(-90 393.40 453.40)">180</text>
<line x1="402.30" y1="445.10" x2="402.30" y2="449.90" stroke="#000" stroke-width="1.3"/>
<text x="405.00" y="453.40" font-size="7.6" font-weight="bold" stroke="#000" stroke-width="0.3" text-anchor="end" fill="#000" transform="rotate(-90 405.00 453.40)">200</text>
<line x1="408.90" y1="445.10" x2="408.90" y2="449.90" stroke="#000" stroke-width="1.3"/>
<text x="411.60" y="453.40" font-size="7.6" font-weight="bold" stroke="#000" stroke-width="0.3" text-anchor="end" fill="#000" transform="rotate(-90 411.60 453.40)">200</text>
<line x1="426.55" y1="446.30" x2="426.55" y2="451.10" stroke="#000" stroke-width="1.3"/>
<text x="429.25" y="453.40" font-size="7.6" font-weight="bold" stroke="#000" stroke-width="0.3" text-anchor="end" fill="#000" transform="rotate(-90 429.25 453.40)">900</text>
<line x1="444.20" y1="446.30" x2="444.20" y2="451.10" stroke="#000" stroke-width="1.3"/>
<text x="446.90" y="453.40" font-size="7.6" font-weight="bold" stroke="#000" stroke-width="0.3" text-anchor="end" fill="#000" transform="rotate(-90 446.90 453.40)">1600</text>
<text x="261.40" y="476.00" font-size="9.7" font-weight="bold" stroke="#000" stroke-width="0.3" text-anchor="middle" fill="#000">Number of Phosphopeptides</text>
<rect x="290.70" y="94.90" width="147.30" height="33.50" rx="3.2" fill="#fff" stroke="#000" stroke-width="1.6"/>
<rect x="295.60" y="101.10" width="8.40" height="3.60" fill="#a00000" stroke="#000" stroke-width="1"/>
<text x="309.80" y="105.60" font-size="7.3" font-weight="bold" stroke="#000" stroke-width="0.3" text-anchor="start" fill="#000">Increased Phosphorylation by AAE</text>
<rect x="295.60" y="110.15" width="8.40" height="3.60" fill="#ff8080" stroke="#000" stroke-width="1"/>
<text x="309.80" y="114.65" font-size="7.3" font-weight="bold" stroke="#000" stroke-width="0.3" text-anchor="start" fill="#000">Decreased Phosphorylation by AAE</text>
<rect x="295.60" y="119.20" width="8.40" height="3.60" fill="#a3a3a6" stroke="#000" stroke-width="1"/>
<text x="309.80" y="123.70" font-size="7.3" font-weight="bold" stroke="#000" stroke-width="0.3" text-anchor="start" fill="#000">Unaltered Phosphorylation by AAE</text>
<rect x="307.40" y="344.90" width="146.90" height="32.30" rx="3.2" fill="#fff" stroke="#000" stroke-width="1.6"/>
<rect x="311.40" y="350.60" width="8.40" height="3.60" fill="#0000b4" stroke="#000" stroke-width="1"/>
<text x="325.60" y="355.10" font-size="7.3" font-weight="bold" stroke="#000" stroke-width="0.3" text-anchor="start" fill="#000">Increased Phosphorylation by ARE</text>
<rect x="311.40" y="359.65" width="8.40" height="3.60" fill="#52a0fa" stroke="#000" stroke-width="1"/>
<text x="325.60" y="364.15" font-size="7.3" font-weight="bold" stroke="#000" stroke-width="0.3" text-anchor="start" fill="#000">Decreased Phosphorylation by ARE</text>
<rect x="311.40" y="368.70" width="8.40" height="3.60" fill="#a3a3a6" stroke="#000" stroke-width="1"/>
<text x="325.60" y="373.20" font-size="7.3" font-weight="bold" stroke="#000" stroke-width="0.3" text-anchor="start" fill="#000">Unaltered Phosphorylation by ARE</text>
<text x="472.50" y="20.60" font-size="15.8" font-weight="bold" stroke="#000" stroke-width="0.3" text-anchor="start" fill="#000">C</text>
<text x="588.20" y="35.30" font-size="10.9" font-weight="bold" stroke="#000" stroke-width="0.3" text-anchor="middle" fill="#000">Phosphoregulation of NACA by AAE</text>
<line x1="549.49" y1="44.30" x2="549.49" y2="208.40" stroke="#d0d0d0" stroke-width="0.75"/>
<line x1="578.72" y1="44.30" x2="578.72" y2="208.40" stroke="#d0d0d0" stroke-width="0.75"/>
<line x1="512.60" y1="199.81" x2="682.70" y2="199.81" stroke="#d0d0d0" stroke-width="0.75"/>
<path d="M576.4 202.7h.9v.9h-.9zM569.1 205.2h.9v.9h-.9zM550.1 205.1h.9v.9h-.9zM581.4 208.1h.9v.9h-.9zM539.8 193.8h.9v.9h-.9zM588.7 207.1h.9v.9h-.9zM575.3 200.5h.9v.9h-.9zM582.5 196.6h.9v.9h-.9zM568.8 207.3h.9v.9h-.9zM535.9 185.9h.9v.9h-.9zM576.3 207.4h.9v.9h-.9zM563.5 208.0h.9v.9h-.9zM550.9 206.1h.9v.9h-.9zM555.4 204.1h.9v.9h-.9zM566.2 208.0h.9v.9h-.9zM567.2 199.4h.9v.9h-.9zM575.3 207.7h.9v.9h-.9zM546.6 195.7h.9v.9h-.9zM574.5 200.3h.9v.9h-.9zM568.4 206.8h.9v.9h-.9zM548.8 196.5h.9v.9h-.9zM570.1 199.0h.9v.9h-.9zM582.8 202.7h.9v.9h-.9zM554.2 207.8h.9v.9h-.9zM568.0 205.4h.9v.9h-.9zM579.8 194.2h.9v.9h-.9zM579.9 206.3h.9v.9h-.9zM548.6 206.5h.9v.9h-.9zM546.2 189.3h.9v.9h-.9zM557.6 208.0h.9v.9h-.9zM583.1 189.2h.9v.9h-.9zM581.8 204.4h.9v.9h-.9zM574.4 206.1h.9v.9h-.9zM584.3 204.0h.9v.9h-.9zM550.7 204.9h.9v.9h-.9zM581.6 199.2h.9v.9h-.9zM582.3 173.6h.9v.9h-.9zM557.8 206.0h.9v.9h-.9zM577.2 188.6h.9v.9h-.9zM549.5 198.2h.9v.9h-.9zM574.0 196.7h.9v.9h-.9zM570.4 200.8h.9v.9h-.9zM555.1 203.3h.9v.9h-.9zM565.7 207.4h.9v.9h-.9zM580.7 202.0h.9v.9h-.9zM558.8 203.3h.9v.9h-.9zM575.5 202.3h.9v.9h-.9zM560.9 205.3h.9v.9h-.9zM577.6 194.7h.9v.9h-.9zM565.0 208.2h.9v.9h-.9zM562.0 206.0h.9v.9h-.9zM584.5 186.9h.9v.9h-.9zM586.8 160.1h.9v.9h-.9zM582.8 193.3h.9v.9h-.9zM571.2 194.0h.9v.9h-.9zM558.9 206.2h.9v.9h-.9zM574.1 194.5h.9v.9h-.9zM545.0 206.0h.9v.9h-.9zM574.0 201.2h.9v.9h-.9zM557.9 202.1h.9v.9h-.9zM554.0 208.2h.9v.9h-.9zM539.1 190.1h.9v.9h-.9zM575.7 206.9h.9v.9h-.9zM595.7 198.5h.9v.9h-.9zM590.1 189.7h.9v.9h-.9zM559.1 205.1h.9v.9h-.9zM548.3 204.8h.9v.9h-.9zM570.3 207.1h.9v.9h-.9zM565.5 206.7h.9v.9h-.9zM575.6 198.8h.9v.9h-.9zM535.4 169.5h.9v.9h-.9zM567.9 201.8h.9v.9h-.9zM573.7 199.8h.9v.9h-.9zM562.2 208.0h.9v.9h-.9zM546.4 199.7h.9v.9h-.9zM600.3 178.0h.9v.9h-.9zM577.6 194.1h.9v.9h-.9zM553.0 202.7h.9v.9h-.9zM576.6 208.2h.9v.9h-.9zM538.0 203.6h.9v.9h-.9zM576.6 206.8h.9v.9h-.9zM571.7 204.7h.9v.9h-.9zM557.9 208.0h.9v.9h-.9zM566.1 206.2h.9v.9h-.9zM562.1 207.3h.9v.9h-.9zM568.7 196.9h.9v.9h-.9zM592.4 199.4h.9v.9h-.9zM579.3 191.1h.9v.9h-.9zM603.9 173.4h.9v.9h-.9zM579.6 201.8h.9v.9h-.9zM542.1 197.2h.9v.9h-.9zM545.5 200.5h.9v.9h-.9zM571.6 193.5h.9v.9h-.9zM572.2 199.0h.9v.9h-.9zM541.6 208.0h.9v.9h-.9zM577.6 198.4h.9v.9h-.9zM571.4 201.2h.9v.9h-.9zM566.8 207.8h.9v.9h-.9zM565.3 207.7h.9v.9h-.9zM579.2 190.6h.9v.9h-.9zM562.0 207.2h.9v.9h-.9zM549.7 181.6h.9v.9h-.9zM553.8 192.4h.9v.9h-.9zM598.3 203.8h.9v.9h-.9zM573.9 207.7h.9v.9h-.9zM563.4 208.3h.9v.9h-.9zM574.3 206.3h.9v.9h-.9zM533.4 206.9h.9v.9h-.9zM575.8 200.8h.9v.9h-.9zM579.9 207.9h.9v.9h-.9zM567.3 207.9h.9v.9h-.9zM581.2 149.5h.9v.9h-.9zM548.7 188.8h.9v.9h-.9zM576.1 203.0h.9v.9h-.9zM566.6 208.4h.9v.9h-.9zM548.3 202.4h.9v.9h-.9zM555.4 207.1h.9v.9h-.9zM598.4 161.1h.9v.9h-.9zM543.9 203.1h.9v.9h-.9zM584.5 183.1h.9v.9h-.9zM590.7 185.5h.9v.9h-.9zM563.2 206.8h.9v.9h-.9zM549.6 205.4h.9v.9h-.9zM544.5 197.3h.9v.9h-.9zM565.4 206.5h.9v.9h-.9zM590.6 199.1h.9v.9h-.9zM559.9 207.1h.9v.9h-.9zM558.8 205.5h.9v.9h-.9zM540.3 186.2h.9v.9h-.9zM572.3 206.5h.9v.9h-.9zM582.0 176.8h.9v.9h-.9zM581.9 194.4h.9v.9h-.9zM560.4 208.3h.9v.9h-.9zM575.4 193.2h.9v.9h-.9zM568.5 205.2h.9v.9h-.9zM600.0 179.6h.9v.9h-.9zM566.5 207.7h.9v.9h-.9zM557.1 203.2h.9v.9h-.9zM583.4 207.8h.9v.9h-.9zM575.5 197.2h.9v.9h-.9zM528.6 148.2h.9v.9h-.9zM584.9 197.5h.9v.9h-.9zM550.7 183.1h.9v.9h-.9zM555.6 198.1h.9v.9h-.9zM586.8 187.8h.9v.9h-.9zM588.0 204.9h.9v.9h-.9zM569.1 207.3h.9v.9h-.9zM569.8 202.3h.9v.9h-.9zM538.8 204.0h.9v.9h-.9zM590.3 192.7h.9v.9h-.9zM572.9 195.2h.9v.9h-.9zM565.4 208.2h.9v.9h-.9zM599.6 163.3h.9v.9h-.9zM583.3 196.0h.9v.9h-.9zM543.2 207.1h.9v.9h-.9zM568.9 205.5h.9v.9h-.9zM567.6 206.8h.9v.9h-.9zM549.4 207.3h.9v.9h-.9zM560.7 208.0h.9v.9h-.9zM574.1 198.4h.9v.9h-.9zM544.1 196.8h.9v.9h-.9zM543.7 202.4h.9v.9h-.9zM578.3 207.5h.9v.9h-.9zM569.8 206.2h.9v.9h-.9zM546.2 193.2h.9v.9h-.9zM569.3 198.4h.9v.9h-.9zM581.6 182.0h.9v.9h-.9zM588.0 178.2h.9v.9h-.9zM534.8 198.9h.9v.9h-.9zM553.4 202.5h.9v.9h-.9zM546.4 203.2h.9v.9h-.9zM567.9 205.8h.9v.9h-.9zM571.2 204.2h.9v.9h-.9zM555.6 201.5h.9v.9h-.9zM551.4 200.8h.9v.9h-.9zM579.3 198.7h.9v.9h-.9zM541.9 183.2h.9v.9h-.9zM590.9 154.3h.9v.9h-.9zM571.1 201.6h.9v.9h-.9zM550.9 192.7h.9v.9h-.9zM576.2 204.9h.9v.9h-.9zM555.4 205.1h.9v.9h-.9zM555.6 206.9h.9v.9h-.9zM558.8 205.8h.9v.9h-.9zM535.9 197.8h.9v.9h-.9zM570.2 206.7h.9v.9h-.9zM586.2 146.7h.9v.9h-.9zM578.9 197.7h.9v.9h-.9zM579.0 202.8h.9v.9h-.9zM564.5 208.4h.9v.9h-.9zM567.2 203.1h.9v.9h-.9zM580.6 203.6h.9v.9h-.9zM572.1 207.2h.9v.9h-.9zM573.8 193.7h.9v.9h-.9zM572.5 203.9h.9v.9h-.9zM593.8 201.1h.9v.9h-.9zM587.4 203.2h.9v.9h-.9zM594.0 196.4h.9v.9h-.9zM566.3 204.8h.9v.9h-.9zM551.0 201.6h.9v.9h-.9zM580.2 200.5h.9v.9h-.9zM580.5 201.6h.9v.9h-.9zM562.3 206.2h.9v.9h-.9zM569.0 202.8h.9v.9h-.9zM584.4 195.1h.9v.9h-.9zM573.0 206.9h.9v.9h-.9zM580.1 191.7h.9v.9h-.9zM555.7 201.5h.9v.9h-.9zM538.6 201.7h.9v.9h-.9zM568.8 202.4h.9v.9h-.9zM573.5 204.2h.9v.9h-.9zM572.9 202.0h.9v.9h-.9zM565.5 205.5h.9v.9h-.9zM551.8 204.1h.9v.9h-.9zM550.3 197.5h.9v.9h-.9zM595.0 201.5h.9v.9h-.9zM572.5 199.0h.9v.9h-.9zM569.4 200.9h.9v.9h-.9zM580.7 195.5h.9v.9h-.9zM562.8 208.1h.9v.9h-.9zM547.4 207.2h.9v.9h-.9zM552.4 204.7h.9v.9h-.9zM553.9 206.6h.9v.9h-.9zM583.2 206.8h.9v.9h-.9zM559.5 204.3h.9v.9h-.9zM547.7 204.8h.9v.9h-.9zM586.3 183.7h.9v.9h-.9zM548.2 202.3h.9v.9h-.9zM570.2 200.2h.9v.9h-.9zM565.7 205.7h.9v.9h-.9zM554.6 201.1h.9v.9h-.9zM558.1 205.6h.9v.9h-.9zM567.7 207.6h.9v.9h-.9zM548.4 193.8h.9v.9h-.9zM550.0 204.8h.9v.9h-.9zM571.9 199.9h.9v.9h-.9zM569.6 199.0h.9v.9h-.9zM586.6 194.7h.9v.9h-.9zM573.0 173.2h.9v.9h-.9zM554.3 199.9h.9v.9h-.9zM581.7 196.1h.9v.9h-.9zM547.1 207.0h.9v.9h-.9zM589.0 96.3h.9v.9h-.9zM555.2 195.1h.9v.9h-.9zM569.8 208.4h.9v.9h-.9zM569.1 205.7h.9v.9h-.9zM581.3 200.0h.9v.9h-.9zM567.3 208.3h.9v.9h-.9zM538.8 171.1h.9v.9h-.9zM566.2 205.5h.9v.9h-.9zM551.0 198.1h.9v.9h-.9zM546.1 202.6h.9v.9h-.9zM586.3 195.8h.9v.9h-.9zM583.2 207.7h.9v.9h-.9zM540.7 197.9h.9v.9h-.9zM554.6 207.7h.9v.9h-.9zM565.4 207.6h.9v.9h-.9zM570.6 207.3h.9v.9h-.9zM568.7 208.1h.9v.9h-.9zM539.6 185.7h.9v.9h-.9zM577.8 196.2h.9v.9h-.9zM579.3 191.3h.9v.9h-.9zM579.4 208.4h.9v.9h-.9zM572.2 207.8h.9v.9h-.9zM547.9 204.5h.9v.9h-.9zM577.8 187.7h.9v.9h-.9zM578.8 184.2h.9v.9h-.9zM577.7 180.1h.9v.9h-.9zM546.0 195.7h.9v.9h-.9zM585.9 133.5h.9v.9h-.9zM570.3 201.1h.9v.9h-.9zM589.1 193.8h.9v.9h-.9zM542.5 207.0h.9v.9h-.9zM543.1 207.5h.9v.9h-.9zM569.0 206.5h.9v.9h-.9zM576.7 180.2h.9v.9h-.9zM565.1 208.0h.9v.9h-.9zM567.2 200.9h.9v.9h-.9zM572.1 196.9h.9v.9h-.9zM566.4 208.3h.9v.9h-.9zM573.3 192.6h.9v.9h-.9zM571.1 204.5h.9v.9h-.9zM568.4 202.6h.9v.9h-.9zM542.5 187.6h.9v.9h-.9zM586.9 204.7h.9v.9h-.9zM568.8 205.0h.9v.9h-.9zM560.4 204.8h.9v.9h-.9zM557.9 207.6h.9v.9h-.9zM545.6 202.3h.9v.9h-.9zM578.0 199.8h.9v.9h-.9zM567.4 205.6h.9v.9h-.9zM589.7 176.7h.9v.9h-.9zM580.0 206.3h.9v.9h-.9zM564.8 207.9h.9v.9h-.9zM576.4 192.6h.9v.9h-.9zM571.9 206.6h.9v.9h-.9zM573.9 204.1h.9v.9h-.9zM557.2 204.1h.9v.9h-.9zM578.1 205.0h.9v.9h-.9zM567.6 206.3h.9v.9h-.9zM566.2 207.8h.9v.9h-.9zM542.2 186.4h.9v.9h-.9zM545.7 185.8h.9v.9h-.9zM576.5 204.2h.9v.9h-.9zM571.7 207.6h.9v.9h-.9zM593.9 175.0h.9v.9h-.9zM574.9 203.3h.9v.9h-.9zM584.7 200.8h.9v.9h-.9zM552.8 204.2h.9v.9h-.9zM544.3 190.4h.9v.9h-.9zM563.3 208.1h.9v.9h-.9zM581.1 193.3h.9v.9h-.9zM571.1 201.6h.9v.9h-.9zM577.4 197.2h.9v.9h-.9zM586.1 174.0h.9v.9h-.9zM548.9 207.3h.9v.9h-.9zM555.2 208.3h.9v.9h-.9zM574.3 185.4h.9v.9h-.9zM551.9 206.3h.9v.9h-.9zM559.6 202.1h.9v.9h-.9zM544.2 200.5h.9v.9h-.9zM582.4 191.0h.9v.9h-.9zM585.6 201.5h.9v.9h-.9zM583.8 207.7h.9v.9h-.9zM565.4 208.2h.9v.9h-.9zM551.9 190.9h.9v.9h-.9zM577.7 188.1h.9v.9h-.9zM569.8 205.9h.9v.9h-.9zM570.8 208.1h.9v.9h-.9zM565.4 207.3h.9v.9h-.9zM554.6 189.4h.9v.9h-.9zM569.0 203.9h.9v.9h-.9zM550.0 206.9h.9v.9h-.9zM572.1 204.0h.9v.9h-.9zM566.2 208.0h.9v.9h-.9zM568.6 203.7h.9v.9h-.9zM583.6 194.8h.9v.9h-.9zM568.0 206.1h.9v.9h-.9zM543.3 200.6h.9v.9h-.9zM572.1 202.4h.9v.9h-.9zM565.5 207.9h.9v.9h-.9zM566.4 204.6h.9v.9h-.9zM571.7 204.5h.9v.9h-.9zM585.2 192.4h.9v.9h-.9zM549.6 202.6h.9v.9h-.9zM567.5 203.1h.9v.9h-.9zM563.8 208.4h.9v.9h-.9zM565.7 207.7h.9v.9h-.9zM548.0 204.5h.9v.9h-.9zM551.0 200.6h.9v.9h-.9zM576.0 189.8h.9v.9h-.9zM565.1 207.5h.9v.9h-.9zM554.7 194.5h.9v.9h-.9zM571.5 204.1h.9v.9h-.9zM549.0 199.9h.9v.9h-.9zM565.4 208.0h.9v.9h-.9zM556.7 206.9h.9v.9h-.9zM581.0 205.1h.9v.9h-.9zM579.8 190.0h.9v.9h-.9zM571.2 202.6h.9v.9h-.9zM590.1 207.8h.9v.9h-.9zM572.8 204.1h.9v.9h-.9zM551.2 200.9h.9v.9h-.9zM576.4 200.9h.9v.9h-.9zM568.3 203.2h.9v.9h-.9zM549.8 204.0h.9v.9h-.9zM550.5 208.3h.9v.9h-.9zM602.5 204.9h.9v.9h-.9zM560.8 206.7h.9v.9h-.9zM548.6 195.7h.9v.9h-.9zM583.9 183.9h.9v.9h-.9zM545.9 208.1h.9v.9h-.9zM564.5 208.2h.9v.9h-.9zM547.7 203.6h.9v.9h-.9zM578.2 206.0h.9v.9h-.9zM563.5 208.3h.9v.9h-.9zM595.3 191.8h.9v.9h-.9zM582.3 208.1h.9v.9h-.9zM584.8 197.8h.9v.9h-.9zM564.7 208.2h.9v.9h-.9zM596.6 190.9h.9v.9h-.9zM580.4 167.1h.9v.9h-.9zM583.7 200.6h.9v.9h-.9zM553.2 201.4h.9v.9h-.9zM555.6 200.5h.9v.9h-.9zM542.5 187.2h.9v.9h-.9zM550.2 206.4h.9v.9h-.9zM584.5 180.0h.9v.9h-.9zM573.6 206.2h.9v.9h-.9zM541.4 185.8h.9v.9h-.9zM551.8 200.5h.9v.9h-.9zM548.5 208.1h.9v.9h-.9zM561.2 207.5h.9v.9h-.9zM540.8 203.4h.9v.9h-.9zM564.1 208.3h.9v.9h-.9zM568.5 207.3h.9v.9h-.9zM552.6 204.1h.9v.9h-.9zM547.9 190.3h.9v.9h-.9zM549.4 206.5h.9v.9h-.9zM573.8 201.4h.9v.9h-.9zM569.2 195.8h.9v.9h-.9zM582.3 191.6h.9v.9h-.9zM586.9 173.3h.9v.9h-.9zM567.5 207.5h.9v.9h-.9zM564.9 208.3h.9v.9h-.9zM573.9 204.5h.9v.9h-.9zM559.2 207.1h.9v.9h-.9zM591.7 192.9h.9v.9h-.9zM570.2 200.9h.9v.9h-.9zM562.3 207.5h.9v.9h-.9zM577.0 189.9h.9v.9h-.9zM590.4 190.4h.9v.9h-.9zM574.3 207.4h.9v.9h-.9zM593.2 197.3h.9v.9h-.9zM543.1 186.9h.9v.9h-.9zM588.0 202.1h.9v.9h-.9zM562.1 207.5h.9v.9h-.9zM552.1 207.9h.9v.9h-.9zM552.5 200.1h.9v.9h-.9zM574.6 206.5h.9v.9h-.9zM572.5 202.5h.9v.9h-.9zM556.9 201.5h.9v.9h-.9zM549.8 198.8h.9v.9h-.9zM546.7 206.7h.9v.9h-.9zM565.6 204.6h.9v.9h-.9zM579.7 177.8h.9v.9h-.9zM578.6 186.5h.9v.9h-.9zM568.6 205.6h.9v.9h-.9zM569.4 208.4h.9v.9h-.9zM568.9 205.7h.9v.9h-.9zM572.8 207.5h.9v.9h-.9zM555.1 207.6h.9v.9h-.9zM556.8 207.5h.9v.9h-.9zM555.7 206.8h.9v.9h-.9zM569.9 202.2h.9v.9h-.9zM580.0 201.5h.9v.9h-.9zM584.7 189.0h.9v.9h-.9zM567.2 204.7h.9v.9h-.9zM585.3 200.2h.9v.9h-.9zM561.0 205.2h.9v.9h-.9zM585.8 199.7h.9v.9h-.9zM584.0 189.2h.9v.9h-.9zM550.8 206.4h.9v.9h-.9zM551.2 202.0h.9v.9h-.9zM544.8 201.0h.9v.9h-.9zM578.9 202.1h.9v.9h-.9zM572.4 206.4h.9v.9h-.9zM549.4 198.3h.9v.9h-.9zM567.2 206.7h.9v.9h-.9zM560.6 206.2h.9v.9h-.9zM562.8 206.9h.9v.9h-.9zM548.1 200.8h.9v.9h-.9zM570.8 199.6h.9v.9h-.9zM571.0 204.2h.9v.9h-.9zM546.9 194.2h.9v.9h-.9zM551.4 199.3h.9v.9h-.9zM550.4 202.9h.9v.9h-.9zM592.1 189.0h.9v.9h-.9zM567.0 205.1h.9v.9h-.9zM577.4 201.5h.9v.9h-.9zM569.9 208.0h.9v.9h-.9zM569.9 205.1h.9v.9h-.9zM582.5 195.9h.9v.9h-.9zM573.9 207.2h.9v.9h-.9zM539.3 174.9h.9v.9h-.9zM569.9 202.9h.9v.9h-.9zM581.5 185.3h.9v.9h-.9zM552.1 203.0h.9v.9h-.9zM582.4 172.1h.9v.9h-.9zM549.7 202.9h.9v.9h-.9zM574.8 188.8h.9v.9h-.9zM569.1 200.9h.9v.9h-.9zM559.5 204.3h.9v.9h-.9zM569.6 205.2h.9v.9h-.9zM564.4 208.2h.9v.9h-.9zM571.8 197.7h.9v.9h-.9zM566.8 207.1h.9v.9h-.9zM583.8 198.7h.9v.9h-.9zM577.4 190.8h.9v.9h-.9zM577.0 208.3h.9v.9h-.9zM585.4 191.3h.9v.9h-.9zM570.4 199.3h.9v.9h-.9zM566.4 205.7h.9v.9h-.9zM582.2 201.4h.9v.9h-.9zM563.2 207.9h.9v.9h-.9zM573.2 195.6h.9v.9h-.9zM554.3 195.4h.9v.9h-.9zM552.8 199.3h.9v.9h-.9zM565.2 207.2h.9v.9h-.9zM532.8 177.0h.9v.9h-.9zM593.2 191.6h.9v.9h-.9zM533.5 207.0h.9v.9h-.9zM563.3 208.0h.9v.9h-.9zM570.0 205.8h.9v.9h-.9zM547.5 190.3h.9v.9h-.9zM554.8 207.6h.9v.9h-.9zM588.7 176.2h.9v.9h-.9zM564.8 207.1h.9v.9h-.9zM583.9 208.1h.9v.9h-.9zM564.9 206.5h.9v.9h-.9zM571.1 202.5h.9v.9h-.9zM574.8 201.2h.9v.9h-.9zM571.4 204.4h.9v.9h-.9zM564.3 208.3h.9v.9h-.9zM557.6 203.5h.9v.9h-.9zM556.8 205.8h.9v.9h-.9zM573.4 206.7h.9v.9h-.9zM580.0 196.0h.9v.9h-.9zM564.7 207.7h.9v.9h-.9zM559.8 207.4h.9v.9h-.9zM545.7 185.3h.9v.9h-.9zM570.6 205.2h.9v.9h-.9zM590.9 137.0h.9v.9h-.9zM539.8 201.6h.9v.9h-.9zM567.8 208.0h.9v.9h-.9zM562.4 207.2h.9v.9h-.9zM563.8 207.9h.9v.9h-.9zM586.3 204.1h.9v.9h-.9zM588.8 200.5h.9v.9h-.9zM575.1 199.2h.9v.9h-.9zM573.2 199.4h.9v.9h-.9zM542.7 165.3h.9v.9h-.9zM570.4 204.4h.9v.9h-.9zM539.1 204.2h.9v.9h-.9zM584.8 186.2h.9v.9h-.9zM565.0 207.3h.9v.9h-.9zM561.3 207.5h.9v.9h-.9zM580.2 184.8h.9v.9h-.9zM535.7 205.4h.9v.9h-.9zM599.4 177.5h.9v.9h-.9zM540.2 207.1h.9v.9h-.9zM581.5 197.3h.9v.9h-.9zM549.0 207.9h.9v.9h-.9zM580.6 196.6h.9v.9h-.9zM580.8 191.5h.9v.9h-.9zM586.4 186.0h.9v.9h-.9zM555.0 206.1h.9v.9h-.9zM567.4 206.2h.9v.9h-.9zM537.1 186.6h.9v.9h-.9zM567.8 204.4h.9v.9h-.9zM572.5 208.0h.9v.9h-.9zM577.9 206.9h.9v.9h-.9zM549.4 208.2h.9v.9h-.9zM554.7 204.6h.9v.9h-.9zM551.0 207.8h.9v.9h-.9zM536.3 198.3h.9v.9h-.9zM574.1 195.7h.9v.9h-.9zM564.6 208.2h.9v.9h-.9zM556.6 199.7h.9v.9h-.9zM580.1 194.7h.9v.9h-.9zM554.0 198.7h.9v.9h-.9zM566.8 204.8h.9v.9h-.9zM576.2 201.3h.9v.9h-.9zM557.5 206.3h.9v.9h-.9zM575.9 206.2h.9v.9h-.9zM585.8 198.6h.9v.9h-.9zM543.3 206.3h.9v.9h-.9zM549.6 198.9h.9v.9h-.9zM571.7 193.6h.9v.9h-.9zM575.9 200.6h.9v.9h-.9zM597.7 201.3h.9v.9h-.9zM595.4 184.7h.9v.9h-.9zM580.7 191.8h.9v.9h-.9zM549.6 194.7h.9v.9h-.9zM553.9 206.6h.9v.9h-.9zM581.6 174.7h.9v.9h-.9zM579.2 207.6h.9v.9h-.9zM577.5 196.3h.9v.9h-.9zM570.1 205.0h.9v.9h-.9zM546.2 207.4h.9v.9h-.9zM576.8 204.7h.9v.9h-.9zM568.2 206.0h.9v.9h-.9zM542.4 195.0h.9v.9h-.9zM556.1 198.5h.9v.9h-.9zM537.8 196.7h.9v.9h-.9zM578.7 187.8h.9v.9h-.9zM582.9 183.8h.9v.9h-.9zM568.1 207.9h.9v.9h-.9zM574.1 204.9h.9v.9h-.9zM566.6 205.1h.9v.9h-.9zM567.3 203.2h.9v.9h-.9zM564.9 208.1h.9v.9h-.9zM549.1 169.3h.9v.9h-.9zM546.1 175.2h.9v.9h-.9zM583.6 199.0h.9v.9h-.9zM589.9 188.2h.9v.9h-.9zM571.2 204.3h.9v.9h-.9zM586.9 199.3h.9v.9h-.9zM566.4 206.5h.9v.9h-.9zM554.4 203.1h.9v.9h-.9zM571.5 207.3h.9v.9h-.9zM592.3 197.3h.9v.9h-.9zM549.3 196.2h.9v.9h-.9zM565.6 205.4h.9v.9h-.9zM566.1 205.7h.9v.9h-.9zM571.1 206.2h.9v.9h-.9zM543.8 200.4h.9v.9h-.9zM547.4 199.6h.9v.9h-.9zM544.6 197.8h.9v.9h-.9zM577.2 199.3h.9v.9h-.9zM579.1 195.3h.9v.9h-.9zM552.8 200.8h.9v.9h-.9zM597.4 196.6h.9v.9h-.9zM568.8 204.3h.9v.9h-.9zM542.1 207.1h.9v.9h-.9zM549.4 200.7h.9v.9h-.9zM590.0 193.8h.9v.9h-.9zM573.7 206.6h.9v.9h-.9zM549.5 184.7h.9v.9h-.9zM557.9 206.9h.9v.9h-.9zM565.1 207.5h.9v.9h-.9zM597.0 200.4h.9v.9h-.9zM562.3 207.6h.9v.9h-.9zM572.7 198.9h.9v.9h-.9zM584.1 199.4h.9v.9h-.9zM551.1 197.6h.9v.9h-.9zM573.2 208.0h.9v.9h-.9zM579.6 195.8h.9v.9h-.9zM568.4 205.1h.9v.9h-.9zM545.0 188.3h.9v.9h-.9zM561.7 206.1h.9v.9h-.9zM551.1 181.7h.9v.9h-.9zM582.2 206.8h.9v.9h-.9zM566.8 205.7h.9v.9h-.9zM556.8 198.4h.9v.9h-.9zM559.2 208.0h.9v.9h-.9zM597.4 207.2h.9v.9h-.9zM573.1 198.5h.9v.9h-.9zM565.9 205.7h.9v.9h-.9zM565.3 207.7h.9v.9h-.9zM573.7 208.1h.9v.9h-.9zM579.4 200.3h.9v.9h-.9zM596.8 126.0h.9v.9h-.9zM567.0 204.5h.9v.9h-.9zM572.6 193.0h.9v.9h-.9zM565.7 205.5h.9v.9h-.9zM579.6 203.2h.9v.9h-.9zM564.2 208.3h.9v.9h-.9zM556.8 200.4h.9v.9h-.9zM575.5 200.3h.9v.9h-.9zM599.4 185.7h.9v.9h-.9zM566.5 207.9h.9v.9h-.9zM540.1 193.2h.9v.9h-.9zM570.6 202.2h.9v.9h-.9zM585.2 186.4h.9v.9h-.9zM569.3 206.1h.9v.9h-.9zM577.2 176.1h.9v.9h-.9zM578.5 197.0h.9v.9h-.9zM547.0 200.5h.9v.9h-.9zM550.1 203.8h.9v.9h-.9zM571.2 205.0h.9v.9h-.9zM542.1 196.9h.9v.9h-.9zM545.0 197.7h.9v.9h-.9zM568.5 204.3h.9v.9h-.9zM554.4 201.4h.9v.9h-.9zM584.4 188.6h.9v.9h-.9zM589.5 169.5h.9v.9h-.9zM575.4 204.8h.9v.9h-.9zM556.5 207.0h.9v.9h-.9zM566.5 208.3h.9v.9h-.9zM571.7 206.0h.9v.9h-.9zM545.6 206.0h.9v.9h-.9zM592.0 162.3h.9v.9h-.9zM570.1 208.3h.9v.9h-.9zM547.6 197.6h.9v.9h-.9zM559.5 206.7h.9v.9h-.9zM570.5 196.1h.9v.9h-.9zM578.3 206.7h.9v.9h-.9zM570.6 199.6h.9v.9h-.9zM564.2 208.2h.9v.9h-.9zM553.2 205.4h.9v.9h-.9zM547.6 169.2h.9v.9h-.9zM569.9 200.4h.9v.9h-.9zM573.8 196.9h.9v.9h-.9zM570.9 208.2h.9v.9h-.9zM590.1 174.1h.9v.9h-.9zM577.0 194.0h.9v.9h-.9zM572.8 191.7h.9v.9h-.9zM566.2 206.6h.9v.9h-.9zM569.8 205.8h.9v.9h-.9zM584.6 189.9h.9v.9h-.9zM591.4 179.0h.9v.9h-.9zM566.4 202.5h.9v.9h-.9zM557.6 206.4h.9v.9h-.9zM565.1 207.6h.9v.9h-.9zM572.1 198.3h.9v.9h-.9zM584.4 207.9h.9v.9h-.9zM555.8 207.3h.9v.9h-.9zM544.9 199.4h.9v.9h-.9zM558.7 204.8h.9v.9h-.9zM533.5 179.1h.9v.9h-.9zM575.7 182.1h.9v.9h-.9zM567.1 203.8h.9v.9h-.9zM528.8 208.0h.9v.9h-.9zM565.2 208.2h.9v.9h-.9zM586.1 186.0h.9v.9h-.9zM569.2 205.5h.9v.9h-.9zM553.6 204.6h.9v.9h-.9zM567.6 203.2h.9v.9h-.9zM578.2 202.3h.9v.9h-.9zM575.9 195.3h.9v.9h-.9zM587.8 198.0h.9v.9h-.9zM553.2 208.2h.9v.9h-.9zM577.0 206.0h.9v.9h-.9zM581.6 167.4h.9v.9h-.9zM573.9 204.2h.9v.9h-.9zM563.3 208.4h.9v.9h-.9zM568.3 206.3h.9v.9h-.9zM547.4 177.5h.9v.9h-.9zM570.7 192.1h.9v.9h-.9zM578.3 201.8h.9v.9h-.9zM557.8 206.7h.9v.9h-.9zM560.4 205.4h.9v.9h-.9zM564.3 208.3h.9v.9h-.9zM606.2 183.5h.9v.9h-.9zM584.0 162.6h.9v.9h-.9zM566.1 206.1h.9v.9h-.9zM575.7 191.6h.9v.9h-.9zM577.1 205.9h.9v.9h-.9zM583.7 194.1h.9v.9h-.9zM551.5 197.5h.9v.9h-.9zM576.8 208.1h.9v.9h-.9zM553.5 208.1h.9v.9h-.9zM563.0 208.4h.9v.9h-.9zM573.5 207.1h.9v.9h-.9zM570.9 207.4h.9v.9h-.9zM570.7 202.0h.9v.9h-.9zM565.6 208.3h.9v.9h-.9zM578.6 208.3h.9v.9h-.9zM557.8 205.4h.9v.9h-.9zM545.8 188.5h.9v.9h-.9zM568.7 208.3h.9v.9h-.9zM570.3 193.9h.9v.9h-.9zM546.6 202.3h.9v.9h-.9zM550.7 194.9h.9v.9h-.9zM546.1 199.3h.9v.9h-.9zM542.8 191.5h.9v.9h-.9zM544.9 194.5h.9v.9h-.9zM564.8 208.3h.9v.9h-.9zM540.8 201.0h.9v.9h-.9zM569.5 205.6h.9v.9h-.9zM544.9 201.7h.9v.9h-.9zM545.4 202.0h.9v.9h-.9zM574.9 208.4h.9v.9h-.9zM571.0 193.3h.9v.9h-.9zM539.6 202.0h.9v.9h-.9zM571.4 203.2h.9v.9h-.9zM570.6 204.7h.9v.9h-.9zM562.8 208.2h.9v.9h-.9zM545.9 196.6h.9v.9h-.9zM586.3 203.5h.9v.9h-.9zM561.7 206.2h.9v.9h-.9zM577.6 199.3h.9v.9h-.9zM555.1 202.5h.9v.9h-.9zM587.2 207.8h.9v.9h-.9zM581.6 207.4h.9v.9h-.9zM585.6 166.6h.9v.9h-.9zM587.2 169.3h.9v.9h-.9zM560.9 205.6h.9v.9h-.9zM544.6 191.6h.9v.9h-.9zM552.2 202.4h.9v.9h-.9zM564.6 208.2h.9v.9h-.9zM585.4 175.4h.9v.9h-.9zM549.3 203.4h.9v.9h-.9zM578.8 193.1h.9v.9h-.9zM565.0 207.8h.9v.9h-.9zM543.4 207.2h.9v.9h-.9zM548.4 200.3h.9v.9h-.9zM576.2 205.5h.9v.9h-.9zM581.0 208.3h.9v.9h-.9zM555.2 207.5h.9v.9h-.9zM551.1 199.8h.9v.9h-.9zM567.3 208.2h.9v.9h-.9zM553.3 196.4h.9v.9h-.9zM590.8 188.5h.9v.9h-.9zM549.7 208.1h.9v.9h-.9zM566.0 205.4h.9v.9h-.9zM572.5 197.2h.9v.9h-.9zM556.2 203.2h.9v.9h-.9zM550.4 201.9h.9v.9h-.9zM579.0 192.7h.9v.9h-.9zM566.0 208.1h.9v.9h-.9zM550.6 204.4h.9v.9h-.9zM552.3 207.7h.9v.9h-.9zM585.2 180.1h.9v.9h-.9zM556.1 206.9h.9v.9h-.9zM554.3 201.5h.9v.9h-.9zM567.4 206.5h.9v.9h-.9zM543.1 194.2h.9v.9h-.9zM566.2 205.9h.9v.9h-.9zM565.8 204.3h.9v.9h-.9zM546.7 199.4h.9v.9h-.9zM573.1 194.9h.9v.9h-.9zM553.6 207.1h.9v.9h-.9zM568.1 208.2h.9v.9h-.9zM575.6 196.1h.9v.9h-.9zM567.8 207.0h.9v.9h-.9zM572.0 208.1h.9v.9h-.9zM548.8 206.7h.9v.9h-.9zM592.5 173.2h.9v.9h-.9zM567.3 206.9h.9v.9h-.9zM566.1 204.6h.9v.9h-.9zM594.8 190.8h.9v.9h-.9zM576.9 199.7h.9v.9h-.9zM584.7 204.2h.9v.9h-.9zM562.3 206.9h.9v.9h-.9zM556.5 203.5h.9v.9h-.9zM545.8 196.9h.9v.9h-.9zM571.3 205.1h.9v.9h-.9zM549.5 207.0h.9v.9h-.9zM590.1 184.8h.9v.9h-.9zM567.0 207.3h.9v.9h-.9zM558.6 198.0h.9v.9h-.9zM570.5 199.7h.9v.9h-.9zM573.1 193.0h.9v.9h-.9zM559.2 207.3h.9v.9h-.9zM574.4 206.5h.9v.9h-.9zM579.6 187.4h.9v.9h-.9zM596.1 193.4h.9v.9h-.9zM589.1 206.6h.9v.9h-.9zM543.4 206.8h.9v.9h-.9zM579.3 179.9h.9v.9h-.9zM555.1 205.2h.9v.9h-.9zM564.6 208.0h.9v.9h-.9zM565.0 207.9h.9v.9h-.9zM568.3 207.4h.9v.9h-.9zM577.2 201.0h.9v.9h-.9zM579.6 199.2h.9v.9h-.9zM550.0 204.5h.9v.9h-.9zM572.9 199.1h.9v.9h-.9zM554.7 207.6h.9v.9h-.9zM575.9 198.5h.9v.9h-.9zM546.6 202.5h.9v.9h-.9zM551.6 204.3h.9v.9h-.9zM572.4 205.5h.9v.9h-.9zM541.7 187.8h.9v.9h-.9zM539.5 196.1h.9v.9h-.9zM546.2 198.2h.9v.9h-.9zM553.3 199.1h.9v.9h-.9zM553.6 205.7h.9v.9h-.9zM576.1 191.6h.9v.9h-.9zM545.7 190.6h.9v.9h-.9zM575.7 207.9h.9v.9h-.9zM564.5 208.1h.9v.9h-.9zM591.6 195.9h.9v.9h-.9zM568.9 208.2h.9v.9h-.9zM573.5 208.2h.9v.9h-.9zM597.7 191.0h.9v.9h-.9zM572.8 207.6h.9v.9h-.9zM559.7 207.2h.9v.9h-.9zM563.1 207.4h.9v.9h-.9zM552.9 205.4h.9v.9h-.9zM564.9 207.6h.9v.9h-.9zM538.6 186.7h.9v.9h-.9zM578.1 199.8h.9v.9h-.9zM581.4 195.3h.9v.9h-.9zM575.5 200.2h.9v.9h-.9zM576.1 205.4h.9v.9h-.9zM541.2 204.8h.9v.9h-.9zM570.6 208.2h.9v.9h-.9zM553.1 203.0h.9v.9h-.9zM593.4 133.5h.9v.9h-.9zM566.8 205.3h.9v.9h-.9zM569.5 203.4h.9v.9h-.9zM574.7 199.0h.9v.9h-.9zM548.4 205.8h.9v.9h-.9zM565.8 207.9h.9v.9h-.9zM551.7 207.6h.9v.9h-.9zM572.6 208.3h.9v.9h-.9zM576.1 173.0h.9v.9h-.9zM598.3 105.3h.9v.9h-.9zM564.0 208.3h.9v.9h-.9zM573.4 193.4h.9v.9h-.9zM571.2 198.8h.9v.9h-.9zM579.3 143.1h.9v.9h-.9zM542.7 197.5h.9v.9h-.9zM591.2 159.9h.9v.9h-.9zM548.4 194.5h.9v.9h-.9zM601.7 197.6h.9v.9h-.9zM557.2 207.0h.9v.9h-.9zM535.6 174.4h.9v.9h-.9zM556.3 204.5h.9v.9h-.9zM554.7 208.4h.9v.9h-.9zM575.4 204.6h.9v.9h-.9zM566.9 207.1h.9v.9h-.9zM585.4 192.3h.9v.9h-.9zM569.0 208.0h.9v.9h-.9zM539.8 175.2h.9v.9h-.9zM562.3 207.1h.9v.9h-.9zM542.3 208.3h.9v.9h-.9zM567.3 206.8h.9v.9h-.9zM596.0 178.1h.9v.9h-.9zM563.9 208.3h.9v.9h-.9zM560.8 206.8h.9v.9h-.9zM570.4 193.8h.9v.9h-.9zM572.5 207.0h.9v.9h-.9zM570.7 201.9h.9v.9h-.9zM578.4 191.9h.9v.9h-.9zM567.4 208.4h.9v.9h-.9zM582.4 198.2h.9v.9h-.9zM573.8 207.5h.9v.9h-.9zM570.8 191.9h.9v.9h-.9zM564.0 208.4h.9v.9h-.9zM587.7 156.8h.9v.9h-.9zM550.3 201.7h.9v.9h-.9zM554.4 198.2h.9v.9h-.9zM571.5 196.9h.9v.9h-.9zM571.0 207.1h.9v.9h-.9zM567.6 205.6h.9v.9h-.9zM534.5 176.5h.9v.9h-.9zM577.3 198.8h.9v.9h-.9zM597.1 201.0h.9v.9h-.9zM551.4 196.6h.9v.9h-.9zM590.6 197.0h.9v.9h-.9zM592.1 207.5h.9v.9h-.9zM590.0 206.2h.9v.9h-.9zM553.2 201.4h.9v.9h-.9zM564.6 208.2h.9v.9h-.9zM583.0 190.4h.9v.9h-.9zM575.4 190.0h.9v.9h-.9zM540.6 207.5h.9v.9h-.9zM589.7 180.5h.9v.9h-.9zM552.7 205.5h.9v.9h-.9zM587.9 193.8h.9v.9h-.9zM584.3 184.4h.9v.9h-.9zM577.3 195.8h.9v.9h-.9zM539.4 202.3h.9v.9h-.9zM544.7 206.0h.9v.9h-.9zM599.2 164.0h.9v.9h-.9zM585.2 172.9h.9v.9h-.9zM574.2 192.2h.9v.9h-.9zM584.2 202.9h.9v.9h-.9zM565.1 208.3h.9v.9h-.9zM586.4 175.3h.9v.9h-.9zM578.8 202.5h.9v.9h-.9zM541.0 194.9h.9v.9h-.9zM539.5 204.5h.9v.9h-.9zM566.2 206.6h.9v.9h-.9zM571.2 208.2h.9v.9h-.9zM594.9 176.1h.9v.9h-.9zM581.9 188.9h.9v.9h-.9zM550.9 207.1h.9v.9h-.9zM580.1 202.1h.9v.9h-.9zM571.4 207.6h.9v.9h-.9zM565.4 207.4h.9v.9h-.9zM573.1 200.8h.9v.9h-.9zM586.4 190.1h.9v.9h-.9zM593.0 182.7h.9v.9h-.9zM549.5 207.7h.9v.9h-.9zM554.3 205.2h.9v.9h-.9zM594.6 191.9h.9v.9h-.9zM545.5 197.4h.9v.9h-.9zM565.2 208.1h.9v.9h-.9zM571.5 204.0h.9v.9h-.9zM570.8 197.4h.9v.9h-.9zM559.3 208.2h.9v.9h-.9zM558.4 207.9h.9v.9h-.9zM580.3 207.2h.9v.9h-.9zM588.6 169.3h.9v.9h-.9zM555.5 206.4h.9v.9h-.9zM560.9 206.7h.9v.9h-.9zM578.8 178.6h.9v.9h-.9zM556.2 208.2h.9v.9h-.9zM574.5 204.4h.9v.9h-.9zM577.8 190.7h.9v.9h-.9zM550.3 199.2h.9v.9h-.9zM571.4 203.7h.9v.9h-.9zM568.0 204.6h.9v.9h-.9zM586.5 187.5h.9v.9h-.9zM589.2 201.8h.9v.9h-.9zM552.5 208.1h.9v.9h-.9zM575.4 191.8h.9v.9h-.9zM575.4 204.5h.9v.9h-.9zM544.0 195.8h.9v.9h-.9zM589.3 191.2h.9v.9h-.9zM564.7 208.1h.9v.9h-.9zM542.8 205.8h.9v.9h-.9zM567.2 202.5h.9v.9h-.9zM568.0 205.4h.9v.9h-.9zM560.4 207.8h.9v.9h-.9zM574.5 186.3h.9v.9h-.9zM565.0 208.0h.9v.9h-.9zM576.3 205.7h.9v.9h-.9zM577.3 207.2h.9v.9h-.9zM582.6 181.2h.9v.9h-.9zM561.9 207.7h.9v.9h-.9zM572.3 201.2h.9v.9h-.9zM590.3 189.4h.9v.9h-.9zM552.9 201.2h.9v.9h-.9zM552.0 197.3h.9v.9h-.9zM551.2 199.1h.9v.9h-.9zM576.9 196.8h.9v.9h-.9zM561.4 207.6h.9v.9h-.9zM560.0 206.7h.9v.9h-.9zM554.3 201.3h.9v.9h-.9zM558.3 203.8h.9v.9h-.9zM564.8 208.3h.9v.9h-.9zM545.6 203.9h.9v.9h-.9zM579.9 186.6h.9v.9h-.9zM599.1 189.4h.9v.9h-.9zM555.6 205.3h.9v.9h-.9zM578.9 198.5h.9v.9h-.9zM571.6 203.2h.9v.9h-.9zM589.5 201.2h.9v.9h-.9zM577.5 196.5h.9v.9h-.9zM573.6 205.2h.9v.9h-.9zM566.3 207.5h.9v.9h-.9zM563.3 207.5h.9v.9h-.9zM588.9 198.6h.9v.9h-.9zM572.4 202.7h.9v.9h-.9zM580.7 190.1h.9v.9h-.9zM564.8 207.7h.9v.9h-.9zM578.2 197.1h.9v.9h-.9zM577.1 207.9h.9v.9h-.9zM551.4 206.4h.9v.9h-.9zM576.4 206.4h.9v.9h-.9zM584.2 192.9h.9v.9h-.9zM560.3 207.1h.9v.9h-.9zM553.8 205.5h.9v.9h-.9zM594.5 171.8h.9v.9h-.9zM573.0 205.3h.9v.9h-.9zM582.1 204.0h.9v.9h-.9zM572.1 201.9h.9v.9h-.9zM575.3 207.1h.9v.9h-.9zM560.1 207.7h.9v.9h-.9zM572.0 208.2h.9v.9h-.9zM568.1 207.2h.9v.9h-.9zM555.3 201.0h.9v.9h-.9zM557.2 205.5h.9v.9h-.9zM543.8 205.9h.9v.9h-.9zM547.8 198.4h.9v.9h-.9zM566.8 204.7h.9v.9h-.9zM585.8 202.8h.9v.9h-.9zM559.0 207.9h.9v.9h-.9zM540.4 203.1h.9v.9h-.9zM568.3 201.4h.9v.9h-.9zM566.2 208.1h.9v.9h-.9zM551.2 204.2h.9v.9h-.9zM568.3 205.3h.9v.9h-.9zM554.6 203.8h.9v.9h-.9zM567.2 203.2h.9v.9h-.9zM544.9 205.7h.9v.9h-.9zM576.9 188.2h.9v.9h-.9zM551.9 197.5h.9v.9h-.9zM538.1 207.0h.9v.9h-.9zM578.5 206.4h.9v.9h-.9zM579.8 201.4h.9v.9h-.9zM581.7 193.8h.9v.9h-.9zM568.3 204.5h.9v.9h-.9zM563.9 208.3h.9v.9h-.9zM536.3 184.8h.9v.9h-.9zM556.7 207.9h.9v.9h-.9zM550.9 194.9h.9v.9h-.9zM567.8 206.8h.9v.9h-.9zM545.9 204.1h.9v.9h-.9zM567.2 203.8h.9v.9h-.9zM546.5 196.7h.9v.9h-.9zM568.2 206.4h.9v.9h-.9zM559.8 205.4h.9v.9h-.9zM584.1 194.9h.9v.9h-.9zM540.0 152.0h.9v.9h-.9zM551.4 193.7h.9v.9h-.9zM567.3 200.2h.9v.9h-.9zM548.6 201.7h.9v.9h-.9zM565.8 205.4h.9v.9h-.9zM572.1 206.4h.9v.9h-.9zM565.9 206.9h.9v.9h-.9zM591.5 190.7h.9v.9h-.9zM548.3 195.6h.9v.9h-.9zM591.2 207.6h.9v.9h-.9zM556.3 201.0h.9v.9h-.9zM545.0 205.5h.9v.9h-.9zM565.1 207.5h.9v.9h-.9zM575.1 208.2h.9v.9h-.9zM574.3 198.4h.9v.9h-.9zM570.2 201.6h.9v.9h-.9zM579.8 189.1h.9v.9h-.9zM545.5 204.3h.9v.9h-.9zM567.9 206.1h.9v.9h-.9zM571.2 198.5h.9v.9h-.9zM572.4 199.5h.9v.9h-.9zM555.2 203.7h.9v.9h-.9zM560.1 208.2h.9v.9h-.9zM567.9 208.4h.9v.9h-.9zM543.7 195.9h.9v.9h-.9zM554.1 202.0h.9v.9h-.9zM566.7 205.3h.9v.9h-.9zM573.9 186.6h.9v.9h-.9zM575.8 189.0h.9v.9h-.9zM544.9 189.3h.9v.9h-.9zM569.2 208.2h.9v.9h-.9zM579.3 204.3h.9v.9h-.9zM577.1 198.1h.9v.9h-.9zM549.2 193.8h.9v.9h-.9zM583.3 198.3h.9v.9h-.9zM560.7 207.2h.9v.9h-.9zM579.9 193.8h.9v.9h-.9zM565.6 208.1h.9v.9h-.9zM599.2 168.0h.9v.9h-.9zM573.5 204.7h.9v.9h-.9zM567.6 205.8h.9v.9h-.9zM573.7 194.6h.9v.9h-.9zM570.8 198.6h.9v.9h-.9zM574.6 207.9h.9v.9h-.9zM597.2 187.1h.9v.9h-.9zM562.7 208.3h.9v.9h-.9zM566.5 206.6h.9v.9h-.9zM570.9 204.7h.9v.9h-.9zM571.5 206.3h.9v.9h-.9zM546.5 176.0h.9v.9h-.9zM573.3 201.0h.9v.9h-.9zM567.7 208.3h.9v.9h-.9zM573.3 191.2h.9v.9h-.9zM563.2 208.4h.9v.9h-.9zM541.2 199.1h.9v.9h-.9zM569.3 207.1h.9v.9h-.9zM553.3 201.1h.9v.9h-.9zM554.0 198.7h.9v.9h-.9zM565.3 208.2h.9v.9h-.9zM577.8 207.9h.9v.9h-.9zM554.1 199.3h.9v.9h-.9zM577.4 191.8h.9v.9h-.9zM574.8 206.3h.9v.9h-.9zM573.1 204.3h.9v.9h-.9zM574.9 197.8h.9v.9h-.9zM553.1 204.9h.9v.9h-.9zM549.4 201.8h.9v.9h-.9zM555.0 208.0h.9v.9h-.9zM544.3 206.3h.9v.9h-.9zM546.2 202.9h.9v.9h-.9zM546.5 192.6h.9v.9h-.9zM551.4 193.1h.9v.9h-.9zM542.5 207.5h.9v.9h-.9zM559.9 206.4h.9v.9h-.9zM587.3 195.1h.9v.9h-.9zM548.6 197.6h.9v.9h-.9zM593.2 200.5h.9v.9h-.9zM565.4 206.9h.9v.9h-.9zM572.1 207.7h.9v.9h-.9zM556.2 206.2h.9v.9h-.9zM573.8 206.0h.9v.9h-.9zM579.5 197.7h.9v.9h-.9zM545.1 198.1h.9v.9h-.9zM578.5 208.3h.9v.9h-.9zM577.7 195.9h.9v.9h-.9zM571.1 203.0h.9v.9h-.9zM572.5 206.6h.9v.9h-.9zM565.3 206.5h.9v.9h-.9zM568.5 204.2h.9v.9h-.9zM568.0 205.0h.9v.9h-.9zM602.7 182.3h.9v.9h-.9zM573.5 206.3h.9v.9h-.9zM588.5 191.2h.9v.9h-.9zM547.7 205.0h.9v.9h-.9zM580.2 184.2h.9v.9h-.9zM606.1 186.2h.9v.9h-.9zM557.3 207.9h.9v.9h-.9zM573.7 195.0h.9v.9h-.9zM573.2 207.9h.9v.9h-.9zM581.5 198.1h.9v.9h-.9zM591.3 180.1h.9v.9h-.9zM557.9 207.8h.9v.9h-.9zM585.4 199.1h.9v.9h-.9zM538.4 205.6h.9v.9h-.9zM582.1 194.6h.9v.9h-.9zM566.9 207.9h.9v.9h-.9zM558.5 200.3h.9v.9h-.9zM566.0 204.9h.9v.9h-.9zM548.2 208.2h.9v.9h-.9zM580.6 195.4h.9v.9h-.9zM578.5 199.0h.9v.9h-.9zM536.7 192.2h.9v.9h-.9zM571.2 207.3h.9v.9h-.9zM549.6 207.4h.9v.9h-.9zM582.1 205.1h.9v.9h-.9zM571.2 206.9h.9v.9h-.9zM575.3 195.3h.9v.9h-.9zM545.7 206.8h.9v.9h-.9zM565.4 207.5h.9v.9h-.9zM576.0 207.2h.9v.9h-.9zM571.1 199.3h.9v.9h-.9zM538.6 167.8h.9v.9h-.9zM567.4 206.8h.9v.9h-.9zM575.2 201.0h.9v.9h-.9zM578.0 158.9h.9v.9h-.9zM578.5 196.6h.9v.9h-.9zM558.8 205.4h.9v.9h-.9zM570.4 200.7h.9v.9h-.9zM573.2 200.3h.9v.9h-.9zM552.9 203.1h.9v.9h-.9zM541.8 195.6h.9v.9h-.9zM578.8 203.9h.9v.9h-.9zM565.6 206.8h.9v.9h-.9zM545.7 195.6h.9v.9h-.9zM569.9 208.0h.9v.9h-.9zM547.6 197.5h.9v.9h-.9zM565.2 207.8h.9v.9h-.9zM545.2 194.9h.9v.9h-.9zM541.6 208.1h.9v.9h-.9zM577.5 166.2h.9v.9h-.9zM576.2 193.9h.9v.9h-.9zM594.8 206.9h.9v.9h-.9zM553.9 193.0h.9v.9h-.9zM566.8 200.7h.9v.9h-.9zM541.8 182.2h.9v.9h-.9zM552.0 207.8h.9v.9h-.9zM574.3 201.4h.9v.9h-.9zM589.5 163.2h.9v.9h-.9zM583.9 200.0h.9v.9h-.9zM576.1 192.8h.9v.9h-.9zM551.7 203.9h.9v.9h-.9zM548.0 196.1h.9v.9h-.9zM548.0 199.0h.9v.9h-.9zM561.7 208.3h.9v.9h-.9zM568.3 208.1h.9v.9h-.9zM570.7 204.3h.9v.9h-.9zM589.4 156.8h.9v.9h-.9zM547.5 198.1h.9v.9h-.9zM583.7 196.9h.9v.9h-.9zM546.9 201.2h.9v.9h-.9zM567.8 204.8h.9v.9h-.9zM598.3 203.9h.9v.9h-.9zM571.4 199.7h.9v.9h-.9zM542.9 205.4h.9v.9h-.9zM582.7 194.7h.9v.9h-.9zM567.4 207.7h.9v.9h-.9zM579.7 194.3h.9v.9h-.9zM579.3 178.4h.9v.9h-.9zM580.0 199.5h.9v.9h-.9zM568.0 208.0h.9v.9h-.9zM575.0 201.9h.9v.9h-.9zM572.3 206.2h.9v.9h-.9zM584.0 167.0h.9v.9h-.9zM547.6 202.5h.9v.9h-.9zM585.7 192.8h.9v.9h-.9zM585.0 195.5h.9v.9h-.9zM571.7 195.6h.9v.9h-.9zM572.3 194.4h.9v.9h-.9zM567.9 207.2h.9v.9h-.9zM553.9 206.6h.9v.9h-.9zM540.1 204.2h.9v.9h-.9zM565.3 206.9h.9v.9h-.9zM548.7 193.9h.9v.9h-.9zM582.5 177.2h.9v.9h-.9zM551.8 208.3h.9v.9h-.9zM555.1 198.3h.9v.9h-.9zM577.5 193.0h.9v.9h-.9zM579.3 202.8h.9v.9h-.9zM585.9 208.4h.9v.9h-.9zM547.3 208.0h.9v.9h-.9zM576.5 207.6h.9v.9h-.9zM570.1 205.7h.9v.9h-.9zM574.8 196.6h.9v.9h-.9zM575.2 194.3h.9v.9h-.9zM584.6 152.1h.9v.9h-.9zM595.8 201.0h.9v.9h-.9zM553.0 205.8h.9v.9h-.9zM582.9 192.9h.9v.9h-.9zM568.7 207.5h.9v.9h-.9zM590.3 189.8h.9v.9h-.9zM571.8 207.5h.9v.9h-.9zM553.4 200.2h.9v.9h-.9zM547.2 202.6h.9v.9h-.9zM571.6 196.0h.9v.9h-.9zM538.1 199.1h.9v.9h-.9zM544.3 195.7h.9v.9h-.9zM583.9 203.9h.9v.9h-.9zM565.4 206.5h.9v.9h-.9zM555.2 208.1h.9v.9h-.9zM558.1 206.0h.9v.9h-.9zM578.3 204.9h.9v.9h-.9zM553.9 202.2h.9v.9h-.9zM575.5 200.8h.9v.9h-.9zM558.1 204.9h.9v.9h-.9zM545.5 194.5h.9v.9h-.9zM572.2 202.0h.9v.9h-.9zM551.8 197.2h.9v.9h-.9zM578.6 193.5h.9v.9h-.9zM549.6 199.4h.9v.9h-.9zM552.0 186.7h.9v.9h-.9zM558.1 207.1h.9v.9h-.9zM571.3 199.6h.9v.9h-.9zM563.0 208.4h.9v.9h-.9zM583.8 171.6h.9v.9h-.9zM577.3 203.7h.9v.9h-.9zM554.5 196.5h.9v.9h-.9zM543.7 181.5h.9v.9h-.9zM567.6 194.7h.9v.9h-.9zM562.0 207.6h.9v.9h-.9zM573.1 195.8h.9v.9h-.9zM584.9 161.1h.9v.9h-.9zM557.4 207.7h.9v.9h-.9zM588.5 207.8h.9v.9h-.9zM582.6 192.7h.9v.9h-.9zM580.1 180.7h.9v.9h-.9zM547.4 205.9h.9v.9h-.9zM546.6 195.3h.9v.9h-.9zM537.5 202.8h.9v.9h-.9zM535.4 183.6h.9v.9h-.9zM548.3 204.7h.9v.9h-.9zM588.2 208.1h.9v.9h-.9zM587.1 198.6h.9v.9h-.9zM550.8 200.4h.9v.9h-.9zM532.5 194.0h.9v.9h-.9zM544.1 202.6h.9v.9h-.9zM564.4 208.3h.9v.9h-.9zM546.2 199.5h.9v.9h-.9zM552.9 204.9h.9v.9h-.9zM573.8 205.0h.9v.9h-.9zM542.0 206.9h.9v.9h-.9zM569.7 207.8h.9v.9h-.9zM550.9 207.1h.9v.9h-.9zM554.4 199.3h.9v.9h-.9zM588.5 207.1h.9v.9h-.9zM560.4 207.1h.9v.9h-.9zM577.4 196.8h.9v.9h-.9zM534.9 208.1h.9v.9h-.9zM544.4 196.9h.9v.9h-.9zM594.6 179.8h.9v.9h-.9zM546.5 204.7h.9v.9h-.9zM549.4 202.9h.9v.9h-.9zM587.6 205.0h.9v.9h-.9zM559.5 202.5h.9v.9h-.9zM564.4 208.2h.9v.9h-.9zM571.1 204.9h.9v.9h-.9zM553.2 207.5h.9v.9h-.9zM585.6 181.2h.9v.9h-.9zM553.5 202.0h.9v.9h-.9zM587.6 188.9h.9v.9h-.9zM554.5 203.4h.9v.9h-.9zM567.1 208.0h.9v.9h-.9zM574.1 189.4h.9v.9h-.9zM594.0 172.9h.9v.9h-.9zM582.6 206.6h.9v.9h-.9zM565.1 206.6h.9v.9h-.9zM578.7 189.7h.9v.9h-.9zM564.3 208.3h.9v.9h-.9zM553.1 203.1h.9v.9h-.9zM564.5 208.1h.9v.9h-.9zM551.6 204.5h.9v.9h-.9zM574.3 204.5h.9v.9h-.9zM573.1 192.7h.9v.9h-.9zM542.3 201.3h.9v.9h-.9zM566.3 206.2h.9v.9h-.9zM565.7 206.4h.9v.9h-.9zM582.1 207.4h.9v.9h-.9zM593.5 183.3h.9v.9h-.9zM566.0 208.1h.9v.9h-.9zM582.2 189.4h.9v.9h-.9zM561.2 207.4h.9v.9h-.9zM548.6 194.7h.9v.9h-.9zM559.4 205.1h.9v.9h-.9zM562.2 206.3h.9v.9h-.9zM558.8 203.8h.9v.9h-.9zM543.3 201.5h.9v.9h-.9zM547.8 203.5h.9v.9h-.9zM573.3 202.0h.9v.9h-.9zM550.5 204.4h.9v.9h-.9zM547.5 172.6h.9v.9h-.9zM534.9 200.4h.9v.9h-.9zM567.6 207.9h.9v.9h-.9zM566.4 206.9h.9v.9h-.9zM578.2 200.3h.9v.9h-.9zM562.2 208.2h.9v.9h-.9zM569.0 206.8h.9v.9h-.9zM553.3 200.2h.9v.9h-.9zM547.6 193.4h.9v.9h-.9zM571.9 194.4h.9v.9h-.9zM567.9 203.4h.9v.9h-.9zM573.8 202.0h.9v.9h-.9zM586.5 182.0h.9v.9h-.9zM578.0 186.8h.9v.9h-.9zM574.5 196.9h.9v.9h-.9zM570.9 201.6h.9v.9h-.9zM567.5 205.8h.9v.9h-.9zM556.3 198.5h.9v.9h-.9zM571.4 202.5h.9v.9h-.9zM581.2 198.0h.9v.9h-.9zM583.2 204.9h.9v.9h-.9zM572.5 202.5h.9v.9h-.9zM568.9 205.7h.9v.9h-.9zM561.2 208.3h.9v.9h-.9zM568.2 207.0h.9v.9h-.9zM550.6 201.1h.9v.9h-.9zM593.2 139.6h.9v.9h-.9zM549.8 207.8h.9v.9h-.9zM570.9 203.0h.9v.9h-.9zM570.1 200.6h.9v.9h-.9zM577.8 200.9h.9v.9h-.9zM571.9 195.9h.9v.9h-.9zM571.4 208.4h.9v.9h-.9zM540.8 191.3h.9v.9h-.9zM584.7 208.2h.9v.9h-.9zM576.3 181.6h.9v.9h-.9zM580.1 204.8h.9v.9h-.9zM572.2 205.7h.9v.9h-.9zM559.2 206.5h.9v.9h-.9zM577.4 208.3h.9v.9h-.9zM572.1 195.5h.9v.9h-.9zM542.9 172.3h.9v.9h-.9zM590.1 168.9h.9v.9h-.9zM564.3 208.2h.9v.9h-.9zM561.8 207.6h.9v.9h-.9zM549.9 205.9h.9v.9h-.9zM590.8 206.9h.9v.9h-.9zM566.5 207.4h.9v.9h-.9zM562.4 208.0h.9v.9h-.9zM560.6 207.0h.9v.9h-.9zM560.1 207.2h.9v.9h-.9zM573.6 203.8h.9v.9h-.9zM573.4 198.4h.9v.9h-.9zM583.2 203.3h.9v.9h-.9zM570.6 203.9h.9v.9h-.9zM548.5 191.0h.9v.9h-.9zM552.0 200.9h.9v.9h-.9zM573.0 194.2h.9v.9h-.9zM551.5 195.3h.9v.9h-.9zM561.5 205.1h.9v.9h-.9zM577.2 188.4h.9v.9h-.9zM577.8 202.5h.9v.9h-.9zM551.6 208.3h.9v.9h-.9zM545.3 195.7h.9v.9h-.9zM545.6 182.3h.9v.9h-.9zM589.4 206.0h.9v.9h-.9zM573.3 208.3h.9v.9h-.9zM583.4 177.6h.9v.9h-.9zM573.9 193.4h.9v.9h-.9zM551.2 193.8h.9v.9h-.9zM564.2 208.4h.9v.9h-.9zM575.7 205.7h.9v.9h-.9zM585.5 205.5h.9v.9h-.9zM559.2 205.3h.9v.9h-.9zM548.8 201.2h.9v.9h-.9zM592.7 185.3h.9v.9h-.9zM600.4 123.3h.9v.9h-.9zM543.1 192.7h.9v.9h-.9zM576.4 187.5h.9v.9h-.9zM574.8 205.4h.9v.9h-.9zM569.9 202.5h.9v.9h-.9zM553.1 207.5h.9v.9h-.9zM575.6 201.3h.9v.9h-.9zM577.6 188.0h.9v.9h-.9zM580.2 205.1h.9v.9h-.9zM573.9 207.0h.9v.9h-.9zM555.8 207.9h.9v.9h-.9zM556.3 205.4h.9v.9h-.9zM582.4 199.4h.9v.9h-.9zM563.3 207.8h.9v.9h-.9zM572.2 206.1h.9v.9h-.9zM538.2 175.3h.9v.9h-.9zM564.0 208.4h.9v.9h-.9zM545.7 196.7h.9v.9h-.9zM563.6 208.1h.9v.9h-.9zM571.3 207.2h.9v.9h-.9zM576.1 192.6h.9v.9h-.9zM564.2 208.2h.9v.9h-.9zM581.6 172.6h.9v.9h-.9zM553.5 203.9h.9v.9h-.9zM548.7 189.5h.9v.9h-.9zM564.2 208.3h.9v.9h-.9zM550.6 200.7h.9v.9h-.9zM567.3 208.2h.9v.9h-.9zM579.6 206.0h.9v.9h-.9zM595.8 195.7h.9v.9h-.9zM568.5 196.4h.9v.9h-.9zM543.7 207.3h.9v.9h-.9zM544.6 196.5h.9v.9h-.9zM570.5 201.2h.9v.9h-.9zM569.3 208.3h.9v.9h-.9zM568.2 199.0h.9v.9h-.9zM548.3 201.1h.9v.9h-.9zM580.2 208.3h.9v.9h-.9zM581.6 200.3h.9v.9h-.9zM591.9 195.7h.9v.9h-.9zM551.2 196.5h.9v.9h-.9zM552.6 202.4h.9v.9h-.9zM592.4 179.3h.9v.9h-.9zM586.0 180.8h.9v.9h-.9zM584.4 195.1h.9v.9h-.9zM573.3 198.5h.9v.9h-.9zM571.5 205.9h.9v.9h-.9zM603.1 185.5h.9v.9h-.9zM583.6 198.7h.9v.9h-.9zM567.7 205.8h.9v.9h-.9zM593.5 159.7h.9v.9h-.9zM565.2 207.6h.9v.9h-.9zM574.3 204.6h.9v.9h-.9zM547.2 202.4h.9v.9h-.9zM553.2 202.7h.9v.9h-.9zM552.1 197.7h.9v.9h-.9zM568.3 206.9h.9v.9h-.9zM566.1 206.5h.9v.9h-.9zM578.0 207.3h.9v.9h-.9zM579.3 205.2h.9v.9h-.9zM556.8 198.8h.9v.9h-.9zM572.0 203.1h.9v.9h-.9zM557.2 204.1h.9v.9h-.9zM568.8 203.3h.9v.9h-.9zM531.1 181.0h.9v.9h-.9zM549.5 206.5h.9v.9h-.9zM552.5 198.0h.9v.9h-.9zM571.7 204.5h.9v.9h-.9zM552.5 199.6h.9v.9h-.9zM568.0 207.9h.9v.9h-.9zM548.1 189.4h.9v.9h-.9zM570.5 202.4h.9v.9h-.9zM572.8 196.0h.9v.9h-.9zM583.6 206.3h.9v.9h-.9zM579.1 205.7h.9v.9h-.9zM554.9 206.3h.9v.9h-.9zM566.8 208.1h.9v.9h-.9zM568.9 204.6h.9v.9h-.9zM578.6 186.5h.9v.9h-.9zM585.5 187.3h.9v.9h-.9zM575.7 200.0h.9v.9h-.9zM587.4 153.7h.9v.9h-.9zM575.2 197.9h.9v.9h-.9zM552.2 207.9h.9v.9h-.9zM547.5 193.8h.9v.9h-.9zM538.2 208.1h.9v.9h-.9zM577.1 196.5h.9v.9h-.9zM582.6 190.3h.9v.9h-.9zM587.5 195.8h.9v.9h-.9zM559.1 207.8h.9v.9h-.9zM557.2 202.2h.9v.9h-.9zM574.8 204.5h.9v.9h-.9zM552.5 153.7h.9v.9h-.9zM552.3 200.5h.9v.9h-.9zM560.9 205.7h.9v.9h-.9zM581.9 194.1h.9v.9h-.9zM547.2 206.6h.9v.9h-.9zM579.6 194.6h.9v.9h-.9zM547.2 198.8h.9v.9h-.9zM582.5 183.0h.9v.9h-.9zM540.4 207.2h.9v.9h-.9zM574.0 207.5h.9v.9h-.9zM554.6 206.9h.9v.9h-.9zM562.6 208.1h.9v.9h-.9zM552.9 207.8h.9v.9h-.9zM582.7 184.6h.9v.9h-.9zM578.0 176.8h.9v.9h-.9zM564.8 208.4h.9v.9h-.9zM583.9 199.0h.9v.9h-.9zM557.2 206.0h.9v.9h-.9zM580.2 185.5h.9v.9h-.9zM575.6 192.5h.9v.9h-.9zM572.4 179.6h.9v.9h-.9zM594.2 158.9h.9v.9h-.9zM570.2 199.9h.9v.9h-.9zM582.8 204.8h.9v.9h-.9zM538.7 208.2h.9v.9h-.9zM578.8 166.9h.9v.9h-.9zM567.0 208.4h.9v.9h-.9zM554.0 194.9h.9v.9h-.9zM572.5 201.4h.9v.9h-.9zM583.7 198.1h.9v.9h-.9zM536.4 187.9h.9v.9h-.9zM624.6 204.6h.9v.9h-.9zM581.6 203.1h.9v.9h-.9zM581.7 199.9h.9v.9h-.9zM572.5 176.8h.9v.9h-.9zM547.0 204.4h.9v.9h-.9zM565.5 206.6h.9v.9h-.9zM581.3 199.9h.9v.9h-.9zM589.6 141.5h.9v.9h-.9zM565.8 207.0h.9v.9h-.9zM576.3 193.6h.9v.9h-.9zM573.0 201.6h.9v.9h-.9zM566.7 203.4h.9v.9h-.9zM575.9 206.4h.9v.9h-.9zM537.9 166.9h.9v.9h-.9zM570.9 202.1h.9v.9h-.9zM568.4 205.9h.9v.9h-.9zM556.3 197.7h.9v.9h-.9zM546.4 171.0h.9v.9h-.9zM568.1 204.8h.9v.9h-.9zM570.1 201.8h.9v.9h-.9zM575.9 195.9h.9v.9h-.9zM589.1 201.7h.9v.9h-.9zM577.0 181.0h.9v.9h-.9zM550.0 199.8h.9v.9h-.9zM573.1 199.0h.9v.9h-.9zM587.2 194.6h.9v.9h-.9zM575.7 203.3h.9v.9h-.9zM574.7 206.8h.9v.9h-.9zM585.2 198.0h.9v.9h-.9zM576.9 192.7h.9v.9h-.9zM572.1 200.5h.9v.9h-.9zM562.2 208.3h.9v.9h-.9zM573.2 200.3h.9v.9h-.9zM577.9 207.7h.9v.9h-.9zM540.7 205.0h.9v.9h-.9zM566.1 205.8h.9v.9h-.9zM574.0 205.2h.9v.9h-.9zM563.7 208.2h.9v.9h-.9zM567.1 206.7h.9v.9h-.9zM586.0 205.8h.9v.9h-.9zM576.9 193.1h.9v.9h-.9zM557.3 200.6h.9v.9h-.9zM572.3 196.7h.9v.9h-.9zM546.5 192.7h.9v.9h-.9zM559.3 204.3h.9v.9h-.9zM598.9 196.1h.9v.9h-.9zM574.6 187.6h.9v.9h-.9zM568.6 202.5h.9v.9h-.9zM558.0 205.1h.9v.9h-.9zM569.9 201.3h.9v.9h-.9zM548.3 161.4h.9v.9h-.9zM548.8 206.5h.9v.9h-.9zM575.9 203.9h.9v.9h-.9zM549.9 208.2h.9v.9h-.9zM563.4 207.7h.9v.9h-.9zM597.3 153.6h.9v.9h-.9zM574.3 193.5h.9v.9h-.9zM591.9 196.5h.9v.9h-.9zM575.1 200.6h.9v.9h-.9zM576.3 204.1h.9v.9h-.9zM579.0 202.6h.9v.9h-.9zM573.6 207.4h.9v.9h-.9zM571.8 207.7h.9v.9h-.9zM575.4 189.1h.9v.9h-.9zM567.9 204.9h.9v.9h-.9zM547.3 194.4h.9v.9h-.9zM581.4 205.6h.9v.9h-.9zM577.3 174.6h.9v.9h-.9zM570.5 203.9h.9v.9h-.9zM568.0 205.7h.9v.9h-.9zM548.8 194.8h.9v.9h-.9zM553.8 200.5h.9v.9h-.9zM535.3 185.9h.9v.9h-.9zM559.9 208.3h.9v.9h-.9zM569.3 205.5h.9v.9h-.9zM562.0 207.4h.9v.9h-.9zM585.9 208.1h.9v.9h-.9zM568.7 205.3h.9v.9h-.9zM587.7 201.5h.9v.9h-.9zM565.9 206.5h.9v.9h-.9zM591.8 187.1h.9v.9h-.9zM566.4 207.4h.9v.9h-.9zM575.0 197.2h.9v.9h-.9zM555.6 205.5h.9v.9h-.9zM563.6 208.3h.9v.9h-.9zM572.3 202.4h.9v.9h-.9zM540.1 180.4h.9v.9h-.9zM540.1 194.3h.9v.9h-.9zM567.0 206.9h.9v.9h-.9zM559.1 206.0h.9v.9h-.9zM543.6 199.5h.9v.9h-.9zM580.8 207.1h.9v.9h-.9zM586.2 176.1h.9v.9h-.9zM582.5 198.9h.9v.9h-.9zM585.0 204.6h.9v.9h-.9zM570.7 188.3h.9v.9h-.9zM576.9 177.3h.9v.9h-.9zM539.5 203.0h.9v.9h-.9zM550.6 192.4h.9v.9h-.9zM550.1 202.2h.9v.9h-.9zM553.8 196.0h.9v.9h-.9zM583.0 204.1h.9v.9h-.9zM569.9 198.6h.9v.9h-.9zM535.2 180.2h.9v.9h-.9zM550.4 205.2h.9v.9h-.9zM585.2 201.2h.9v.9h-.9zM541.6 199.0h.9v.9h-.9zM580.8 205.0h.9v.9h-.9zM545.9 197.6h.9v.9h-.9zM573.3 198.5h.9v.9h-.9zM573.9 195.9h.9v.9h-.9zM572.5 201.8h.9v.9h-.9zM581.2 203.0h.9v.9h-.9zM542.6 195.4h.9v.9h-.9zM581.6 207.9h.9v.9h-.9zM572.7 204.5h.9v.9h-.9zM560.4 205.2h.9v.9h-.9zM541.8 194.1h.9v.9h-.9zM593.8 176.6h.9v.9h-.9zM574.6 198.2h.9v.9h-.9zM576.2 186.9h.9v.9h-.9zM559.0 203.3h.9v.9h-.9zM562.9 207.6h.9v.9h-.9zM577.2 202.9h.9v.9h-.9zM545.6 205.1h.9v.9h-.9zM554.3 207.8h.9v.9h-.9zM551.3 202.5h.9v.9h-.9zM594.5 159.5h.9v.9h-.9zM576.6 164.7h.9v.9h-.9zM548.5 194.8h.9v.9h-.9zM545.7 167.1h.9v.9h-.9zM548.3 206.5h.9v.9h-.9zM547.7 187.1h.9v.9h-.9zM557.6 201.8h.9v.9h-.9zM556.1 207.1h.9v.9h-.9zM566.5 208.0h.9v.9h-.9zM559.2 206.4h.9v.9h-.9zM588.8 182.5h.9v.9h-.9zM539.8 205.6h.9v.9h-.9zM559.7 199.7h.9v.9h-.9zM578.5 193.0h.9v.9h-.9zM568.2 205.6h.9v.9h-.9zM580.0 200.5h.9v.9h-.9zM571.7 203.7h.9v.9h-.9zM551.3 206.9h.9v.9h-.9zM573.7 208.2h.9v.9h-.9zM539.1 206.3h.9v.9h-.9zM579.6 202.2h.9v.9h-.9zM554.4 198.7h.9v.9h-.9zM565.3 208.0h.9v.9h-.9zM564.0 208.4h.9v.9h-.9zM543.9 194.1h.9v.9h-.9zM546.7 208.3h.9v.9h-.9zM544.0 195.7h.9v.9h-.9zM564.8 207.3h.9v.9h-.9zM557.2 203.8h.9v.9h-.9zM559.6 203.4h.9v.9h-.9zM575.9 201.6h.9v.9h-.9zM541.9 185.9h.9v.9h-.9zM564.4 208.4h.9v.9h-.9zM589.8 192.1h.9v.9h-.9zM544.2 203.9h.9v.9h-.9zM573.4 192.3h.9v.9h-.9zM568.1 205.7h.9v.9h-.9zM546.6 200.1h.9v.9h-.9zM546.6 200.8h.9v.9h-.9zM578.6 199.1h.9v.9h-.9zM582.5 176.5h.9v.9h-.9zM558.2 187.6h.9v.9h-.9zM569.2 206.9h.9v.9h-.9zM549.1 208.4h.9v.9h-.9zM573.4 207.4h.9v.9h-.9zM597.8 192.0h.9v.9h-.9zM593.8 200.2h.9v.9h-.9zM569.9 192.0h.9v.9h-.9zM571.4 198.4h.9v.9h-.9zM550.7 204.7h.9v.9h-.9zM571.9 204.6h.9v.9h-.9zM575.1 207.1h.9v.9h-.9zM560.0 204.8h.9v.9h-.9zM579.4 182.2h.9v.9h-.9zM561.5 207.7h.9v.9h-.9zM560.2 207.6h.9v.9h-.9zM571.8 202.7h.9v.9h-.9zM577.3 201.6h.9v.9h-.9zM572.0 208.1h.9v.9h-.9zM568.7 204.3h.9v.9h-.9zM553.1 207.6h.9v.9h-.9zM574.9 200.3h.9v.9h-.9zM564.1 208.4h.9v.9h-.9zM584.5 194.4h.9v.9h-.9zM588.8 181.3h.9v.9h-.9zM558.7 206.0h.9v.9h-.9zM578.7 188.1h.9v.9h-.9zM567.1 207.0h.9v.9h-.9zM596.2 204.2h.9v.9h-.9zM542.3 197.3h.9v.9h-.9zM571.6 200.2h.9v.9h-.9zM549.0 207.0h.9v.9h-.9zM552.0 201.2h.9v.9h-.9zM543.6 197.2h.9v.9h-.9zM591.2 200.3h.9v.9h-.9zM554.1 198.0h.9v.9h-.9zM575.8 203.9h.9v.9h-.9zM567.7 208.1h.9v.9h-.9zM584.0 191.5h.9v.9h-.9zM561.8 208.1h.9v.9h-.9zM585.3 177.4h.9v.9h-.9zM569.1 206.6h.9v.9h-.9zM586.0 194.5h.9v.9h-.9zM577.9 192.5h.9v.9h-.9zM575.5 202.6h.9v.9h-.9zM555.6 198.7h.9v.9h-.9zM576.4 202.4h.9v.9h-.9zM579.0 199.1h.9v.9h-.9zM588.2 178.7h.9v.9h-.9zM575.9 203.9h.9v.9h-.9zM531.8 191.7h.9v.9h-.9zM564.9 207.7h.9v.9h-.9zM570.1 202.5h.9v.9h-.9zM543.7 191.4h.9v.9h-.9zM540.5 179.6h.9v.9h-.9zM571.0 196.6h.9v.9h-.9zM565.5 206.8h.9v.9h-.9zM564.5 208.3h.9v.9h-.9zM556.7 208.1h.9v.9h-.9zM542.5 204.0h.9v.9h-.9zM576.6 198.6h.9v.9h-.9zM575.0 206.4h.9v.9h-.9zM555.7 199.6h.9v.9h-.9zM574.8 206.3h.9v.9h-.9zM559.5 205.4h.9v.9h-.9zM587.9 165.5h.9v.9h-.9zM581.1 200.3h.9v.9h-.9zM547.2 192.4h.9v.9h-.9zM573.8 195.6h.9v.9h-.9zM571.9 205.7h.9v.9h-.9zM564.7 208.3h.9v.9h-.9zM566.6 206.5h.9v.9h-.9zM549.5 175.0h.9v.9h-.9zM571.9 201.2h.9v.9h-.9zM555.5 197.9h.9v.9h-.9zM570.4 204.9h.9v.9h-.9zM567.0 206.0h.9v.9h-.9zM546.7 207.6h.9v.9h-.9zM567.4 205.5h.9v.9h-.9zM579.2 207.8h.9v.9h-.9zM573.8 192.5h.9v.9h-.9zM564.1 208.4h.9v.9h-.9zM586.9 181.5h.9v.9h-.9zM569.7 208.3h.9v.9h-.9zM577.4 201.7h.9v.9h-.9zM584.2 203.2h.9v.9h-.9zM581.9 204.5h.9v.9h-.9zM559.9 207.1h.9v.9h-.9zM555.3 189.3h.9v.9h-.9zM566.5 206.2h.9v.9h-.9zM572.9 201.5h.9v.9h-.9zM556.4 206.3h.9v.9h-.9zM580.7 200.9h.9v.9h-.9zM551.5 207.5h.9v.9h-.9zM609.8 160.6h.9v.9h-.9zM550.9 206.4h.9v.9h-.9zM569.6 207.0h.9v.9h-.9zM572.5 205.2h.9v.9h-.9zM548.5 208.4h.9v.9h-.9zM539.7 193.2h.9v.9h-.9zM573.4 198.0h.9v.9h-.9zM544.8 187.4h.9v.9h-.9zM587.4 140.2h.9v.9h-.9zM549.6 208.3h.9v.9h-.9zM566.3 202.0h.9v.9h-.9zM564.2 208.4h.9v.9h-.9zM578.5 207.9h.9v.9h-.9zM542.3 199.4h.9v.9h-.9zM580.9 190.6h.9v.9h-.9zM552.8 185.9h.9v.9h-.9zM588.2 184.5h.9v.9h-.9zM565.8 207.8h.9v.9h-.9zM559.2 202.3h.9v.9h-.9zM569.8 204.7h.9v.9h-.9zM567.4 205.3h.9v.9h-.9zM570.1 207.7h.9v.9h-.9zM584.5 201.7h.9v.9h-.9zM548.7 187.3h.9v.9h-.9zM582.2 185.9h.9v.9h-.9zM581.2 202.4h.9v.9h-.9zM570.5 207.6h.9v.9h-.9zM575.1 196.1h.9v.9h-.9zM556.0 205.6h.9v.9h-.9zM566.5 205.1h.9v.9h-.9zM598.9 189.3h.9v.9h-.9zM546.5 206.4h.9v.9h-.9zM554.1 208.4h.9v.9h-.9zM568.1 207.5h.9v.9h-.9zM545.6 203.9h.9v.9h-.9zM569.0 197.5h.9v.9h-.9zM566.1 205.8h.9v.9h-.9zM573.0 207.5h.9v.9h-.9zM547.8 174.3h.9v.9h-.9zM575.9 205.8h.9v.9h-.9zM544.9 174.4h.9v.9h-.9zM583.1 194.5h.9v.9h-.9zM570.7 204.5h.9v.9h-.9zM548.5 182.5h.9v.9h-.9zM546.7 208.2h.9v.9h-.9zM554.6 203.4h.9v.9h-.9zM571.2 200.7h.9v.9h-.9zM556.4 205.6h.9v.9h-.9zM597.8 143.3h.9v.9h-.9zM546.9 203.7h.9v.9h-.9zM581.7 208.4h.9v.9h-.9zM554.1 207.8h.9v.9h-.9zM574.9 206.9h.9v.9h-.9zM579.3 205.1h.9v.9h-.9zM584.3 197.2h.9v.9h-.9zM580.1 207.0h.9v.9h-.9zM592.6 204.3h.9v.9h-.9zM586.1 152.0h.9v.9h-.9zM546.6 205.8h.9v.9h-.9zM539.5 177.1h.9v.9h-.9zM558.4 206.1h.9v.9h-.9zM563.4 208.0h.9v.9h-.9zM556.2 205.6h.9v.9h-.9zM578.1 201.3h.9v.9h-.9zM571.1 202.0h.9v.9h-.9zM573.5 207.5h.9v.9h-.9zM535.2 177.2h.9v.9h-.9zM559.4 206.8h.9v.9h-.9zM571.8 200.2h.9v.9h-.9zM534.0 190.6h.9v.9h-.9zM569.0 202.1h.9v.9h-.9zM556.0 197.2h.9v.9h-.9zM589.7 189.2h.9v.9h-.9zM579.8 205.7h.9v.9h-.9zM575.2 198.6h.9v.9h-.9zM558.1 203.7h.9v.9h-.9zM549.5 195.1h.9v.9h-.9zM554.1 204.4h.9v.9h-.9zM593.0 202.4h.9v.9h-.9zM578.2 191.1h.9v.9h-.9zM590.5 183.6h.9v.9h-.9zM544.4 206.5h.9v.9h-.9zM549.5 202.6h.9v.9h-.9zM557.7 205.7h.9v.9h-.9zM581.2 195.0h.9v.9h-.9zM582.0 208.3h.9v.9h-.9zM557.8 206.8h.9v.9h-.9zM559.3 206.4h.9v.9h-.9zM568.3 203.9h.9v.9h-.9zM564.9 208.2h.9v.9h-.9zM573.6 207.5h.9v.9h-.9zM565.2 207.4h.9v.9h-.9zM550.2 199.0h.9v.9h-.9zM567.7 207.0h.9v.9h-.9zM574.3 205.6h.9v.9h-.9zM564.1 208.4h.9v.9h-.9zM535.4 206.8h.9v.9h-.9zM548.1 206.8h.9v.9h-.9zM586.8 131.0h.9v.9h-.9zM580.4 185.5h.9v.9h-.9zM565.7 207.6h.9v.9h-.9zM548.4 202.1h.9v.9h-.9zM548.5 206.1h.9v.9h-.9zM577.0 177.1h.9v.9h-.9zM566.3 206.4h.9v.9h-.9zM562.3 207.3h.9v.9h-.9zM578.8 200.8h.9v.9h-.9zM558.1 207.5h.9v.9h-.9zM574.9 202.9h.9v.9h-.9zM555.4 200.8h.9v.9h-.9zM555.3 204.3h.9v.9h-.9zM569.8 203.7h.9v.9h-.9zM549.3 204.2h.9v.9h-.9zM583.3 199.4h.9v.9h-.9zM574.1 207.1h.9v.9h-.9zM549.7 202.9h.9v.9h-.9zM575.5 195.3h.9v.9h-.9zM551.5 201.2h.9v.9h-.9zM575.5 205.8h.9v.9h-.9zM586.2 206.9h.9v.9h-.9zM590.7 176.7h.9v.9h-.9zM570.8 207.8h.9v.9h-.9zM545.6 205.1h.9v.9h-.9zM542.2 196.4h.9v.9h-.9zM602.1 184.4h.9v.9h-.9zM584.3 192.4h.9v.9h-.9zM556.9 207.2h.9v.9h-.9zM563.3 208.3h.9v.9h-.9zM580.2 199.9h.9v.9h-.9zM580.2 197.4h.9v.9h-.9zM579.1 190.2h.9v.9h-.9zM572.0 199.9h.9v.9h-.9zM568.4 207.5h.9v.9h-.9zM551.8 196.4h.9v.9h-.9zM545.7 205.8h.9v.9h-.9zM575.5 191.4h.9v.9h-.9zM575.2 205.0h.9v.9h-.9zM545.3 195.5h.9v.9h-.9zM579.9 207.3h.9v.9h-.9zM566.4 207.7h.9v.9h-.9zM589.4 185.9h.9v.9h-.9zM564.7 208.4h.9v.9h-.9zM564.8 207.7h.9v.9h-.9zM597.7 153.3h.9v.9h-.9zM555.2 207.5h.9v.9h-.9zM570.2 205.6h.9v.9h-.9zM582.9 199.6h.9v.9h-.9zM543.9 200.2h.9v.9h-.9zM555.0 206.7h.9v.9h-.9zM579.2 186.4h.9v.9h-.9zM547.9 204.4h.9v.9h-.9zM543.1 199.9h.9v.9h-.9zM561.1 207.3h.9v.9h-.9zM588.1 204.1h.9v.9h-.9zM572.3 183.4h.9v.9h-.9zM565.7 207.1h.9v.9h-.9zM570.5 205.0h.9v.9h-.9zM568.2 204.3h.9v.9h-.9zM570.9 201.3h.9v.9h-.9zM574.2 195.9h.9v.9h-.9zM551.3 204.5h.9v.9h-.9zM544.5 196.7h.9v.9h-.9zM565.2 208.2h.9v.9h-.9zM569.9 203.6h.9v.9h-.9zM566.4 206.2h.9v.9h-.9zM585.2 183.3h.9v.9h-.9zM578.0 198.8h.9v.9h-.9zM559.1 208.0h.9v.9h-.9zM573.7 184.2h.9v.9h-.9zM550.4 201.9h.9v.9h-.9zM588.6 172.1h.9v.9h-.9zM584.1 203.6h.9v.9h-.9zM566.5 208.1h.9v.9h-.9zM593.6 194.7h.9v.9h-.9zM565.2 207.4h.9v.9h-.9zM566.6 207.9h.9v.9h-.9zM566.2 206.0h.9v.9h-.9zM560.0 204.1h.9v.9h-.9zM583.0 205.6h.9v.9h-.9zM548.9 208.1h.9v.9h-.9zM591.8 173.6h.9v.9h-.9zM574.4 207.0h.9v.9h-.9zM548.7 177.1h.9v.9h-.9zM559.1 206.1h.9v.9h-.9zM578.1 198.0h.9v.9h-.9zM575.9 206.5h.9v.9h-.9zM558.9 202.0h.9v.9h-.9zM570.3 205.8h.9v.9h-.9zM564.5 208.1h.9v.9h-.9zM557.5 202.8h.9v.9h-.9zM562.1 208.0h.9v.9h-.9zM580.5 204.7h.9v.9h-.9zM577.5 195.6h.9v.9h-.9zM579.7 152.5h.9v.9h-.9zM584.7 206.5h.9v.9h-.9zM554.3 208.0h.9v.9h-.9zM569.8 202.7h.9v.9h-.9zM585.8 194.8h.9v.9h-.9zM566.1 206.6h.9v.9h-.9zM575.3 207.0h.9v.9h-.9zM532.0 204.1h.9v.9h-.9zM579.6 186.0h.9v.9h-.9zM570.2 200.4h.9v.9h-.9zM577.5 188.6h.9v.9h-.9zM565.3 208.0h.9v.9h-.9zM560.9 205.2h.9v.9h-.9zM549.0 204.9h.9v.9h-.9zM566.6 204.9h.9v.9h-.9zM566.5 207.1h.9v.9h-.9zM563.1 208.0h.9v.9h-.9zM547.0 194.5h.9v.9h-.9zM549.5 182.9h.9v.9h-.9zM581.5 190.7h.9v.9h-.9zM596.4 196.2h.9v.9h-.9zM564.7 208.3h.9v.9h-.9zM559.5 207.3h.9v.9h-.9zM555.4 198.8h.9v.9h-.9zM586.7 187.6h.9v.9h-.9zM560.0 204.1h.9v.9h-.9zM549.1 199.5h.9v.9h-.9zM578.0 203.9h.9v.9h-.9zM573.6 204.0h.9v.9h-.9zM571.6 206.7h.9v.9h-.9zM573.8 196.6h.9v.9h-.9zM551.0 207.7h.9v.9h-.9zM540.6 191.0h.9v.9h-.9zM559.3 205.7h.9v.9h-.9zM546.0 197.1h.9v.9h-.9zM566.7 205.1h.9v.9h-.9zM577.0 192.4h.9v.9h-.9zM572.4 189.9h.9v.9h-.9zM572.6 202.9h.9v.9h-.9zM536.8 202.4h.9v.9h-.9zM570.6 199.7h.9v.9h-.9zM549.0 201.2h.9v.9h-.9zM549.6 206.1h.9v.9h-.9zM584.5 183.9h.9v.9h-.9zM569.3 204.5h.9v.9h-.9zM569.6 201.8h.9v.9h-.9zM590.6 173.7h.9v.9h-.9zM584.2 159.4h.9v.9h-.9zM558.0 204.0h.9v.9h-.9zM589.9 195.6h.9v.9h-.9zM550.1 203.5h.9v.9h-.9zM567.3 207.7h.9v.9h-.9zM590.1 188.7h.9v.9h-.9zM570.3 207.6h.9v.9h-.9zM576.6 207.8h.9v.9h-.9zM560.8 208.4h.9v.9h-.9zM601.0 129.5h.9v.9h-.9zM562.4 208.3h.9v.9h-.9zM557.4 208.4h.9v.9h-.9zM581.7 197.3h.9v.9h-.9zM552.1 202.2h.9v.9h-.9zM548.8 194.3h.9v.9h-.9zM552.9 206.1h.9v.9h-.9zM585.4 203.8h.9v.9h-.9zM566.8 200.5h.9v.9h-.9zM554.3 198.0h.9v.9h-.9zM586.5 190.3h.9v.9h-.9zM573.5 205.4h.9v.9h-.9zM587.7 206.9h.9v.9h-.9zM579.1 184.8h.9v.9h-.9zM558.4 207.8h.9v.9h-.9zM578.5 201.9h.9v.9h-.9zM576.2 191.2h.9v.9h-.9zM584.9 186.6h.9v.9h-.9zM575.7 191.9h.9v.9h-.9zM574.5 208.3h.9v.9h-.9zM588.7 198.5h.9v.9h-.9zM567.3 205.7h.9v.9h-.9zM534.8 171.5h.9v.9h-.9zM544.5 205.0h.9v.9h-.9zM552.0 205.2h.9v.9h-.9zM544.7 185.1h.9v.9h-.9zM577.1 204.0h.9v.9h-.9zM548.8 208.1h.9v.9h-.9zM596.6 154.2h.9v.9h-.9zM567.6 206.9h.9v.9h-.9zM569.2 207.3h.9v.9h-.9zM571.9 205.2h.9v.9h-.9zM584.2 186.7h.9v.9h-.9zM534.8 199.9h.9v.9h-.9zM569.3 206.9h.9v.9h-.9zM560.0 208.4h.9v.9h-.9zM546.9 194.2h.9v.9h-.9zM587.4 191.7h.9v.9h-.9zM579.9 201.3h.9v.9h-.9zM598.8 203.6h.9v.9h-.9zM577.7 208.4h.9v.9h-.9zM549.7 190.3h.9v.9h-.9zM542.7 174.4h.9v.9h-.9zM538.4 188.8h.9v.9h-.9zM569.8 204.9h.9v.9h-.9zM585.1 190.5h.9v.9h-.9zM547.5 203.9h.9v.9h-.9zM584.2 179.9h.9v.9h-.9zM560.6 208.1h.9v.9h-.9zM583.8 191.5h.9v.9h-.9zM559.1 203.8h.9v.9h-.9zM570.9 207.9h.9v.9h-.9zM584.2 202.4h.9v.9h-.9zM566.1 206.6h.9v.9h-.9zM555.6 197.3h.9v.9h-.9zM553.6 199.8h.9v.9h-.9zM592.8 207.0h.9v.9h-.9zM582.5 207.7h.9v.9h-.9zM585.4 187.9h.9v.9h-.9zM549.6 190.0h.9v.9h-.9zM594.9 200.6h.9v.9h-.9zM548.7 206.2h.9v.9h-.9zM545.9 208.1h.9v.9h-.9zM556.4 207.2h.9v.9h-.9zM561.3 208.3h.9v.9h-.9zM573.8 205.8h.9v.9h-.9zM567.6 208.3h.9v.9h-.9zM564.6 208.2h.9v.9h-.9zM544.8 197.2h.9v.9h-.9zM585.0 196.3h.9v.9h-.9zM556.8 204.9h.9v.9h-.9zM547.7 207.8h.9v.9h-.9zM552.1 202.4h.9v.9h-.9zM560.9 202.2h.9v.9h-.9zM543.3 207.6h.9v.9h-.9zM551.6 179.9h.9v.9h-.9zM574.2 200.9h.9v.9h-.9zM548.5 206.0h.9v.9h-.9zM557.6 202.5h.9v.9h-.9zM578.9 204.8h.9v.9h-.9zM538.3 199.2h.9v.9h-.9zM556.0 202.0h.9v.9h-.9zM550.2 203.1h.9v.9h-.9zM566.6 206.3h.9v.9h-.9zM551.5 208.2h.9v.9h-.9zM568.4 199.8h.9v.9h-.9zM581.6 208.1h.9v.9h-.9zM580.5 191.7h.9v.9h-.9zM579.5 203.5h.9v.9h-.9zM565.4 207.7h.9v.9h-.9zM584.4 177.3h.9v.9h-.9zM553.2 205.9h.9v.9h-.9zM580.6 196.2h.9v.9h-.9zM572.8 188.5h.9v.9h-.9zM544.8 184.8h.9v.9h-.9zM570.6 207.4h.9v.9h-.9zM571.6 197.9h.9v.9h-.9zM584.0 207.4h.9v.9h-.9zM568.2 205.5h.9v.9h-.9zM581.9 202.1h.9v.9h-.9zM549.0 202.1h.9v.9h-.9zM576.0 207.7h.9v.9h-.9zM565.3 208.4h.9v.9h-.9zM567.2 201.2h.9v.9h-.9zM565.0 208.0h.9v.9h-.9zM569.9 202.1h.9v.9h-.9zM580.9 205.2h.9v.9h-.9zM572.1 203.1h.9v.9h-.9zM568.4 205.9h.9v.9h-.9zM583.3 198.9h.9v.9h-.9zM567.9 202.3h.9v.9h-.9zM572.4 206.3h.9v.9h-.9zM589.4 180.1h.9v.9h-.9zM557.2 204.8h.9v.9h-.9zM546.1 194.7h.9v.9h-.9zM551.0 200.3h.9v.9h-.9zM567.4 207.5h.9v.9h-.9zM552.4 206.6h.9v.9h-.9zM589.3 198.3h.9v.9h-.9zM571.4 208.3h.9v.9h-.9zM561.2 205.5h.9v.9h-.9zM580.2 204.1h.9v.9h-.9zM571.9 193.7h.9v.9h-.9zM581.7 194.2h.9v.9h-.9zM541.7 207.2h.9v.9h-.9zM579.3 199.7h.9v.9h-.9zM570.5 208.2h.9v.9h-.9zM564.5 207.9h.9v.9h-.9zM567.8 208.4h.9v.9h-.9zM578.0 202.1h.9v.9h-.9zM552.1 201.8h.9v.9h-.9zM571.5 207.2h.9v.9h-.9zM564.5 208.2h.9v.9h-.9zM582.0 202.9h.9v.9h-.9zM587.0 168.6h.9v.9h-.9zM553.0 205.3h.9v.9h-.9zM570.6 208.2h.9v.9h-.9zM578.5 177.5h.9v.9h-.9zM560.7 208.4h.9v.9h-.9zM585.2 185.2h.9v.9h-.9zM580.0 188.6h.9v.9h-.9zM543.7 197.5h.9v.9h-.9zM581.8 198.8h.9v.9h-.9zM556.9 207.7h.9v.9h-.9zM560.0 207.9h.9v.9h-.9zM570.9 204.5h.9v.9h-.9zM572.4 196.2h.9v.9h-.9zM542.4 189.3h.9v.9h-.9zM597.6 207.4h.9v.9h-.9zM584.0 187.1h.9v.9h-.9zM542.1 201.4h.9v.9h-.9zM540.7 208.0h.9v.9h-.9zM578.0 181.9h.9v.9h-.9zM553.5 203.6h.9v.9h-.9zM573.7 205.2h.9v.9h-.9zM566.0 206.1h.9v.9h-.9zM566.6 205.2h.9v.9h-.9zM568.8 208.1h.9v.9h-.9zM570.6 205.4h.9v.9h-.9zM598.5 201.9h.9v.9h-.9zM552.5 196.1h.9v.9h-.9zM585.9 207.8h.9v.9h-.9zM572.5 202.1h.9v.9h-.9zM574.3 197.9h.9v.9h-.9zM575.1 206.2h.9v.9h-.9zM595.0 186.3h.9v.9h-.9zM568.4 201.9h.9v.9h-.9zM567.0 207.7h.9v.9h-.9zM572.7 203.9h.9v.9h-.9zM570.1 186.9h.9v.9h-.9zM580.3 187.5h.9v.9h-.9zM571.6 202.0h.9v.9h-.9zM579.6 203.2h.9v.9h-.9zM578.9 206.0h.9v.9h-.9zM567.5 208.4h.9v.9h-.9zM566.7 205.9h.9v.9h-.9zM570.6 207.9h.9v.9h-.9zM534.6 194.0h.9v.9h-.9zM566.5 207.4h.9v.9h-.9zM560.1 206.7h.9v.9h-.9zM564.2 208.4h.9v.9h-.9zM588.7 204.0h.9v.9h-.9zM563.3 208.2h.9v.9h-.9zM549.7 206.4h.9v.9h-.9zM556.7 196.2h.9v.9h-.9zM564.0 208.4h.9v.9h-.9zM573.1 205.6h.9v.9h-.9zM579.0 208.1h.9v.9h-.9zM569.0 197.8h.9v.9h-.9zM565.9 207.0h.9v.9h-.9zM582.8 199.8h.9v.9h-.9zM574.8 205.3h.9v.9h-.9zM595.5 208.4h.9v.9h-.9zM590.4 208.2h.9v.9h-.9zM573.3 205.8h.9v.9h-.9zM578.8 193.0h.9v.9h-.9zM574.0 197.3h.9v.9h-.9zM531.5 157.4h.9v.9h-.9zM574.0 206.4h.9v.9h-.9zM570.5 207.9h.9v.9h-.9zM576.7 206.4h.9v.9h-.9zM554.1 197.0h.9v.9h-.9zM575.7 190.9h.9v.9h-.9zM564.6 207.8h.9v.9h-.9zM548.0 200.3h.9v.9h-.9zM583.9 208.2h.9v.9h-.9zM583.9 206.3h.9v.9h-.9zM560.3 206.7h.9v.9h-.9zM564.3 208.1h.9v.9h-.9zM555.5 200.6h.9v.9h-.9zM549.5 194.9h.9v.9h-.9zM583.7 198.2h.9v.9h-.9zM566.2 208.4h.9v.9h-.9zM586.6 198.9h.9v.9h-.9zM545.8 201.3h.9v.9h-.9zM591.9 181.8h.9v.9h-.9zM544.1 157.8h.9v.9h-.9zM578.4 201.3h.9v.9h-.9zM567.6 205.6h.9v.9h-.9zM582.1 207.6h.9v.9h-.9zM575.6 204.1h.9v.9h-.9zM551.4 203.6h.9v.9h-.9zM554.4 206.1h.9v.9h-.9zM569.9 205.1h.9v.9h-.9zM575.8 195.0h.9v.9h-.9zM557.8 207.8h.9v.9h-.9zM570.5 207.8h.9v.9h-.9zM576.6 203.8h.9v.9h-.9zM585.2 201.1h.9v.9h-.9zM568.7 205.7h.9v.9h-.9zM594.9 206.6h.9v.9h-.9zM538.1 188.2h.9v.9h-.9zM565.6 207.2h.9v.9h-.9zM587.3 200.5h.9v.9h-.9zM554.2 196.1h.9v.9h-.9zM581.5 198.8h.9v.9h-.9zM555.3 203.1h.9v.9h-.9zM554.4 195.2h.9v.9h-.9zM578.4 199.4h.9v.9h-.9zM550.4 186.5h.9v.9h-.9zM581.0 207.9h.9v.9h-.9zM576.9 207.8h.9v.9h-.9zM576.2 202.9h.9v.9h-.9zM583.2 193.8h.9v.9h-.9zM549.7 201.8h.9v.9h-.9zM575.1 186.6h.9v.9h-.9zM590.5 207.2h.9v.9h-.9zM576.2 200.7h.9v.9h-.9zM568.3 204.4h.9v.9h-.9zM556.0 206.8h.9v.9h-.9zM588.4 207.6h.9v.9h-.9zM546.5 207.4h.9v.9h-.9zM559.4 203.2h.9v.9h-.9zM566.1 207.7h.9v.9h-.9zM542.7 196.7h.9v.9h-.9zM563.9 208.2h.9v.9h-.9zM545.7 208.2h.9v.9h-.9zM580.6 207.0h.9v.9h-.9zM560.8 204.6h.9v.9h-.9zM549.6 207.4h.9v.9h-.9zM580.5 204.3h.9v.9h-.9zM575.3 192.3h.9v.9h-.9zM575.2 197.5h.9v.9h-.9zM592.4 157.6h.9v.9h-.9zM531.4 208.4h.9v.9h-.9zM566.4 207.4h.9v.9h-.9zM572.2 191.9h.9v.9h-.9zM574.0 201.8h.9v.9h-.9zM553.2 200.7h.9v.9h-.9zM553.0 206.0h.9v.9h-.9zM570.0 207.5h.9v.9h-.9zM590.1 187.2h.9v.9h-.9zM574.5 203.0h.9v.9h-.9zM554.9 205.5h.9v.9h-.9zM581.4 207.5h.9v.9h-.9zM565.3 208.4h.9v.9h-.9zM573.1 200.6h.9v.9h-.9zM541.8 208.3h.9v.9h-.9zM545.3 189.0h.9v.9h-.9zM556.6 208.0h.9v.9h-.9zM555.2 201.6h.9v.9h-.9zM552.0 196.7h.9v.9h-.9zM543.1 198.3h.9v.9h-.9zM567.7 205.3h.9v.9h-.9zM551.6 185.1h.9v.9h-.9zM552.2 203.7h.9v.9h-.9zM581.0 205.0h.9v.9h-.9zM546.7 191.7h.9v.9h-.9zM548.9 195.8h.9v.9h-.9zM555.4 196.4h.9v.9h-.9zM572.6 207.3h.9v.9h-.9zM597.1 207.4h.9v.9h-.9zM534.5 190.3h.9v.9h-.9zM543.8 197.2h.9v.9h-.9zM567.3 207.4h.9v.9h-.9zM564.5 207.1h.9v.9h-.9zM597.4 169.8h.9v.9h-.9zM564.7 207.5h.9v.9h-.9zM585.5 200.4h.9v.9h-.9zM584.7 198.3h.9v.9h-.9zM582.7 195.2h.9v.9h-.9zM576.6 204.9h.9v.9h-.9zM552.5 194.5h.9v.9h-.9zM584.9 188.2h.9v.9h-.9zM550.4 198.6h.9v.9h-.9zM566.3 205.8h.9v.9h-.9zM559.9 201.6h.9v.9h-.9zM565.2 208.2h.9v.9h-.9zM574.3 185.5h.9v.9h-.9zM567.1 204.0h.9v.9h-.9zM546.7 205.3h.9v.9h-.9zM567.9 200.6h.9v.9h-.9zM573.4 203.9h.9v.9h-.9zM576.7 179.4h.9v.9h-.9zM579.2 203.5h.9v.9h-.9zM545.1 197.1h.9v.9h-.9zM573.8 198.2h.9v.9h-.9zM566.2 206.4h.9v.9h-.9zM562.2 207.9h.9v.9h-.9zM581.0 207.5h.9v.9h-.9zM543.2 196.6h.9v.9h-.9zM570.0 201.8h.9v.9h-.9zM559.9 206.3h.9v.9h-.9zM583.1 192.6h.9v.9h-.9zM578.4 200.7h.9v.9h-.9zM567.1 207.9h.9v.9h-.9zM586.8 203.6h.9v.9h-.9zM572.7 193.8h.9v.9h-.9zM539.8 183.5h.9v.9h-.9zM565.5 208.2h.9v.9h-.9zM567.9 204.9h.9v.9h-.9zM580.7 191.6h.9v.9h-.9zM531.8 178.3h.9v.9h-.9zM550.3 196.9h.9v.9h-.9zM549.2 188.9h.9v.9h-.9zM585.1 197.9h.9v.9h-.9zM579.9 176.3h.9v.9h-.9zM579.0 186.8h.9v.9h-.9zM568.6 207.8h.9v.9h-.9zM528.3 208.3h.9v.9h-.9zM569.5 207.6h.9v.9h-.9zM554.7 208.1h.9v.9h-.9zM598.5 111.6h.9v.9h-.9zM570.9 194.4h.9v.9h-.9zM565.5 207.0h.9v.9h-.9zM574.8 208.3h.9v.9h-.9zM566.0 205.1h.9v.9h-.9zM598.8 196.7h.9v.9h-.9zM548.2 194.9h.9v.9h-.9zM577.4 207.2h.9v.9h-.9zM568.8 207.5h.9v.9h-.9zM578.5 204.6h.9v.9h-.9zM574.1 199.4h.9v.9h-.9zM546.9 196.1h.9v.9h-.9zM592.1 198.0h.9v.9h-.9zM567.8 206.2h.9v.9h-.9zM577.6 207.4h.9v.9h-.9zM579.0 205.1h.9v.9h-.9zM565.5 208.0h.9v.9h-.9zM556.3 200.7h.9v.9h-.9zM583.4 207.4h.9v.9h-.9zM583.5 197.9h.9v.9h-.9zM573.9 188.7h.9v.9h-.9zM605.5 204.4h.9v.9h-.9zM550.9 197.1h.9v.9h-.9zM586.0 115.6h.9v.9h-.9zM582.2 203.3h.9v.9h-.9zM547.1 194.3h.9v.9h-.9zM580.0 162.9h.9v.9h-.9zM568.8 203.0h.9v.9h-.9zM599.1 192.3h.9v.9h-.9zM561.4 204.9h.9v.9h-.9zM584.7 192.2h.9v.9h-.9zM550.1 208.4h.9v.9h-.9zM582.4 182.4h.9v.9h-.9zM580.0 201.6h.9v.9h-.9zM564.1 208.4h.9v.9h-.9zM578.9 191.5h.9v.9h-.9zM576.3 205.8h.9v.9h-.9zM576.3 178.3h.9v.9h-.9zM574.8 203.6h.9v.9h-.9zM568.7 205.9h.9v.9h-.9zM550.1 185.4h.9v.9h-.9zM557.5 206.1h.9v.9h-.9zM556.5 191.1h.9v.9h-.9zM559.3 202.9h.9v.9h-.9zM537.9 159.1h.9v.9h-.9zM571.8 199.3h.9v.9h-.9zM570.0 198.7h.9v.9h-.9zM580.5 199.5h.9v.9h-.9zM579.0 206.6h.9v.9h-.9zM575.5 195.4h.9v.9h-.9zM561.4 207.4h.9v.9h-.9zM550.5 204.4h.9v.9h-.9zM584.7 182.6h.9v.9h-.9zM571.4 195.3h.9v.9h-.9zM548.4 192.5h.9v.9h-.9zM571.3 205.7h.9v.9h-.9zM578.1 201.2h.9v.9h-.9zM578.8 207.0h.9v.9h-.9zM581.7 146.6h.9v.9h-.9zM578.5 208.0h.9v.9h-.9zM581.8 204.6h.9v.9h-.9zM559.6 202.8h.9v.9h-.9zM557.7 207.7h.9v.9h-.9zM608.9 161.8h.9v.9h-.9zM542.0 179.9h.9v.9h-.9zM566.0 207.4h.9v.9h-.9zM559.3 202.6h.9v.9h-.9zM572.8 206.8h.9v.9h-.9zM580.5 204.0h.9v.9h-.9zM598.8 175.7h.9v.9h-.9zM544.6 200.8h.9v.9h-.9zM539.4 204.1h.9v.9h-.9zM547.2 198.2h.9v.9h-.9zM597.7 177.1h.9v.9h-.9zM579.7 190.8h.9v.9h-.9zM573.4 203.1h.9v.9h-.9zM548.6 206.6h.9v.9h-.9zM551.7 202.5h.9v.9h-.9zM565.8 206.6h.9v.9h-.9zM561.8 205.8h.9v.9h-.9zM587.9 207.1h.9v.9h-.9zM577.9 208.3h.9v.9h-.9zM578.6 207.3h.9v.9h-.9zM565.0 208.0h.9v.9h-.9zM597.0 199.8h.9v.9h-.9zM552.6 201.1h.9v.9h-.9zM534.3 171.5h.9v.9h-.9zM570.1 198.6h.9v.9h-.9zM586.7 198.5h.9v.9h-.9zM580.6 186.0h.9v.9h-.9zM571.8 203.2h.9v.9h-.9zM550.5 199.8h.9v.9h-.9zM548.6 206.7h.9v.9h-.9zM584.0 185.6h.9v.9h-.9zM580.5 208.0h.9v.9h-.9zM572.1 202.7h.9v.9h-.9zM556.5 200.8h.9v.9h-.9zM572.1 208.1h.9v.9h-.9zM569.8 208.2h.9v.9h-.9zM574.1 204.0h.9v.9h-.9zM550.1 198.1h.9v.9h-.9zM542.6 199.9h.9v.9h-.9zM547.2 200.1h.9v.9h-.9zM569.4 207.4h.9v.9h-.9zM586.8 208.3h.9v.9h-.9zM569.7 201.4h.9v.9h-.9zM548.7 200.3h.9v.9h-.9zM588.0 188.5h.9v.9h-.9zM538.4 199.5h.9v.9h-.9zM574.4 200.6h.9v.9h-.9zM531.8 208.4h.9v.9h-.9zM553.4 192.0h.9v.9h-.9zM577.9 181.7h.9v.9h-.9zM572.6 202.3h.9v.9h-.9zM576.7 201.9h.9v.9h-.9zM557.5 208.1h.9v.9h-.9zM575.0 205.0h.9v.9h-.9zM563.9 208.1h.9v.9h-.9zM574.2 186.1h.9v.9h-.9zM570.1 202.6h.9v.9h-.9zM561.7 205.6h.9v.9h-.9zM589.6 191.6h.9v.9h-.9zM596.9 176.2h.9v.9h-.9zM578.6 199.3h.9v.9h-.9zM571.7 206.8h.9v.9h-.9zM588.4 167.3h.9v.9h-.9zM555.0 200.1h.9v.9h-.9zM577.9 207.9h.9v.9h-.9zM588.7 188.8h.9v.9h-.9zM557.1 208.4h.9v.9h-.9zM553.1 200.9h.9v.9h-.9zM540.1 189.9h.9v.9h-.9zM575.0 199.7h.9v.9h-.9zM569.6 195.3h.9v.9h-.9zM569.0 204.0h.9v.9h-.9zM572.9 207.4h.9v.9h-.9zM552.3 192.3h.9v.9h-.9zM582.2 205.5h.9v.9h-.9zM582.0 184.6h.9v.9h-.9zM575.3 206.7h.9v.9h-.9zM573.4 199.2h.9v.9h-.9zM573.4 207.2h.9v.9h-.9zM583.5 194.5h.9v.9h-.9zM573.8 206.4h.9v.9h-.9zM576.8 202.0h.9v.9h-.9zM579.9 196.0h.9v.9h-.9zM548.0 204.7h.9v.9h-.9zM552.0 206.8h.9v.9h-.9zM572.7 200.2h.9v.9h-.9zM577.9 204.9h.9v.9h-.9zM547.3 187.4h.9v.9h-.9zM571.2 206.7h.9v.9h-.9zM544.8 204.4h.9v.9h-.9zM555.8 206.0h.9v.9h-.9zM584.6 182.9h.9v.9h-.9zM572.7 207.3h.9v.9h-.9zM572.4 208.3h.9v.9h-.9zM580.6 203.7h.9v.9h-.9zM575.1 196.8h.9v.9h-.9zM573.8 195.1h.9v.9h-.9zM549.1 189.1h.9v.9h-.9zM572.7 201.9h.9v.9h-.9zM550.4 200.6h.9v.9h-.9zM551.9 199.7h.9v.9h-.9zM573.7 204.7h.9v.9h-.9zM550.5 190.6h.9v.9h-.9zM587.6 207.7h.9v.9h-.9zM551.8 188.6h.9v.9h-.9zM566.9 204.3h.9v.9h-.9zM609.0 149.2h.9v.9h-.9zM547.7 203.8h.9v.9h-.9zM533.8 163.5h.9v.9h-.9zM565.1 207.2h.9v.9h-.9zM570.3 197.3h.9v.9h-.9zM583.6 199.3h.9v.9h-.9zM583.1 206.2h.9v.9h-.9zM583.3 201.4h.9v.9h-.9zM563.9 208.4h.9v.9h-.9zM579.5 194.0h.9v.9h-.9zM579.8 198.1h.9v.9h-.9zM576.3 183.3h.9v.9h-.9zM583.8 200.8h.9v.9h-.9zM560.3 207.9h.9v.9h-.9zM568.5 208.4h.9v.9h-.9zM582.1 194.6h.9v.9h-.9zM587.5 203.4h.9v.9h-.9zM540.4 194.5h.9v.9h-.9zM546.6 208.4h.9v.9h-.9zM585.5 195.8h.9v.9h-.9zM553.8 203.8h.9v.9h-.9zM552.5 203.7h.9v.9h-.9zM547.7 187.0h.9v.9h-.9zM551.7 205.5h.9v.9h-.9zM551.1 205.1h.9v.9h-.9zM565.0 208.4h.9v.9h-.9zM576.8 208.4h.9v.9h-.9zM555.6 199.1h.9v.9h-.9zM578.2 199.9h.9v.9h-.9zM541.7 206.7h.9v.9h-.9zM576.3 206.6h.9v.9h-.9zM606.4 196.0h.9v.9h-.9zM569.5 201.1h.9v.9h-.9zM566.5 207.9h.9v.9h-.9zM581.0 192.4h.9v.9h-.9zM568.1 203.6h.9v.9h-.9zM553.7 201.5h.9v.9h-.9zM565.3 206.3h.9v.9h-.9zM565.0 208.3h.9v.9h-.9zM548.1 187.9h.9v.9h-.9zM562.2 208.0h.9v.9h-.9zM576.8 196.0h.9v.9h-.9zM575.6 185.4h.9v.9h-.9zM573.1 207.8h.9v.9h-.9zM556.7 206.7h.9v.9h-.9zM536.3 178.5h.9v.9h-.9zM570.9 206.5h.9v.9h-.9zM577.5 207.4h.9v.9h-.9zM553.1 200.0h.9v.9h-.9zM586.2 206.0h.9v.9h-.9zM549.0 207.4h.9v.9h-.9zM567.2 205.1h.9v.9h-.9zM547.7 204.9h.9v.9h-.9zM565.8 206.8h.9v.9h-.9zM554.7 203.9h.9v.9h-.9zM566.7 207.1h.9v.9h-.9zM581.6 202.7h.9v.9h-.9zM580.7 203.1h.9v.9h-.9zM568.0 204.7h.9v.9h-.9zM560.7 205.0h.9v.9h-.9zM583.4 180.2h.9v.9h-.9zM566.1 208.4h.9v.9h-.9zM565.9 208.3h.9v.9h-.9zM560.1 202.8h.9v.9h-.9zM548.1 205.4h.9v.9h-.9zM574.6 187.4h.9v.9h-.9zM553.4 198.0h.9v.9h-.9zM569.5 201.7h.9v.9h-.9zM565.3 206.1h.9v.9h-.9zM564.2 208.3h.9v.9h-.9zM591.7 199.1h.9v.9h-.9zM567.3 204.6h.9v.9h-.9zM554.3 194.2h.9v.9h-.9zM575.3 206.3h.9v.9h-.9zM584.4 184.5h.9v.9h-.9zM569.8 199.9h.9v.9h-.9zM550.1 197.6h.9v.9h-.9zM572.6 203.9h.9v.9h-.9zM561.5 208.3h.9v.9h-.9zM587.0 152.1h.9v.9h-.9zM574.0 195.3h.9v.9h-.9zM593.1 207.4h.9v.9h-.9zM567.7 205.7h.9v.9h-.9zM550.4 195.9h.9v.9h-.9zM576.3 204.0h.9v.9h-.9zM601.9 167.8h.9v.9h-.9zM568.4 202.0h.9v.9h-.9zM550.6 208.3h.9v.9h-.9zM573.2 203.0h.9v.9h-.9zM577.2 203.2h.9v.9h-.9zM570.3 195.9h.9v.9h-.9zM572.0 205.0h.9v.9h-.9zM543.3 193.5h.9v.9h-.9zM549.4 193.0h.9v.9h-.9zM540.7 200.2h.9v.9h-.9zM580.1 204.0h.9v.9h-.9zM579.8 189.3h.9v.9h-.9zM549.8 200.2h.9v.9h-.9zM570.4 206.3h.9v.9h-.9zM545.0 205.1h.9v.9h-.9zM549.6 196.1h.9v.9h-.9zM584.8 192.1h.9v.9h-.9zM566.0 204.8h.9v.9h-.9zM575.6 198.8h.9v.9h-.9zM552.6 195.3h.9v.9h-.9zM554.8 208.3h.9v.9h-.9zM581.9 206.1h.9v.9h-.9zM590.9 183.9h.9v.9h-.9zM559.8 206.5h.9v.9h-.9zM579.2 191.4h.9v.9h-.9zM580.0 206.9h.9v.9h-.9zM576.1 199.0h.9v.9h-.9zM566.4 203.9h.9v.9h-.9zM563.6 207.8h.9v.9h-.9zM552.2 196.6h.9v.9h-.9zM571.2 198.7h.9v.9h-.9zM567.1 207.0h.9v.9h-.9zM579.0 207.2h.9v.9h-.9zM574.9 201.0h.9v.9h-.9zM566.8 208.4h.9v.9h-.9zM574.3 207.6h.9v.9h-.9zM555.6 207.6h.9v.9h-.9zM573.4 207.7h.9v.9h-.9zM575.3 202.1h.9v.9h-.9zM579.5 206.2h.9v.9h-.9zM570.8 207.6h.9v.9h-.9zM558.6 206.5h.9v.9h-.9zM583.1 157.3h.9v.9h-.9zM552.4 191.3h.9v.9h-.9zM561.5 205.6h.9v.9h-.9zM552.2 203.8h.9v.9h-.9zM584.8 207.1h.9v.9h-.9zM577.8 201.0h.9v.9h-.9zM572.6 195.6h.9v.9h-.9zM555.2 206.3h.9v.9h-.9zM556.0 201.7h.9v.9h-.9zM551.2 207.9h.9v.9h-.9zM561.4 207.5h.9v.9h-.9zM551.8 191.7h.9v.9h-.9zM560.8 207.2h.9v.9h-.9zM573.2 205.3h.9v.9h-.9zM571.9 208.3h.9v.9h-.9zM571.2 207.0h.9v.9h-.9zM570.3 198.9h.9v.9h-.9zM576.9 199.1h.9v.9h-.9zM566.1 207.9h.9v.9h-.9zM542.6 195.6h.9v.9h-.9zM560.4 205.0h.9v.9h-.9zM595.5 202.0h.9v.9h-.9zM550.3 187.9h.9v.9h-.9zM550.1 185.7h.9v.9h-.9zM567.8 207.5h.9v.9h-.9zM584.5 201.6h.9v.9h-.9zM555.7 205.2h.9v.9h-.9zM587.8 206.6h.9v.9h-.9zM584.6 191.0h.9v.9h-.9zM550.9 203.3h.9v.9h-.9zM578.8 206.1h.9v.9h-.9zM569.5 205.7h.9v.9h-.9zM586.7 164.7h.9v.9h-.9zM552.1 205.9h.9v.9h-.9zM558.4 206.7h.9v.9h-.9zM568.6 205.6h.9v.9h-.9zM550.9 187.4h.9v.9h-.9zM569.0 206.3h.9v.9h-.9zM563.8 208.3h.9v.9h-.9zM587.5 207.9h.9v.9h-.9zM579.3 207.9h.9v.9h-.9zM568.4 208.2h.9v.9h-.9zM544.7 189.0h.9v.9h-.9zM569.7 198.7h.9v.9h-.9zM584.6 207.8h.9v.9h-.9zM564.1 208.4h.9v.9h-.9zM547.2 192.5h.9v.9h-.9zM584.2 205.9h.9v.9h-.9zM575.8 203.7h.9v.9h-.9zM568.4 204.4h.9v.9h-.9zM543.4 177.3h.9v.9h-.9zM586.5 183.4h.9v.9h-.9zM583.9 166.6h.9v.9h-.9zM542.6 177.0h.9v.9h-.9zM552.7 195.2h.9v.9h-.9zM549.3 201.0h.9v.9h-.9zM587.0 191.1h.9v.9h-.9zM594.7 178.2h.9v.9h-.9zM557.4 205.9h.9v.9h-.9zM575.7 207.2h.9v.9h-.9zM571.8 200.6h.9v.9h-.9zM553.3 208.2h.9v.9h-.9zM577.9 194.9h.9v.9h-.9zM561.8 207.7h.9v.9h-.9zM579.3 202.0h.9v.9h-.9zM538.5 191.4h.9v.9h-.9zM570.7 207.4h.9v.9h-.9zM585.4 207.7h.9v.9h-.9zM568.5 204.3h.9v.9h-.9zM547.9 190.0h.9v.9h-.9zM550.2 196.5h.9v.9h-.9zM579.8 198.2h.9v.9h-.9zM583.3 203.6h.9v.9h-.9zM586.0 207.9h.9v.9h-.9zM543.4 162.9h.9v.9h-.9zM571.3 196.9h.9v.9h-.9zM556.0 207.2h.9v.9h-.9zM576.5 205.0h.9v.9h-.9zM560.8 205.9h.9v.9h-.9zM574.3 207.4h.9v.9h-.9zM567.2 206.1h.9v.9h-.9zM578.7 201.6h.9v.9h-.9zM566.8 207.7h.9v.9h-.9zM554.4 196.8h.9v.9h-.9zM583.7 198.1h.9v.9h-.9zM566.6 208.3h.9v.9h-.9zM599.9 194.3h.9v.9h-.9zM573.5 203.3h.9v.9h-.9zM545.6 200.1h.9v.9h-.9zM565.3 207.8h.9v.9h-.9zM550.4 196.5h.9v.9h-.9zM550.6 207.1h.9v.9h-.9zM559.4 207.8h.9v.9h-.9zM554.2 182.5h.9v.9h-.9zM553.6 205.1h.9v.9h-.9zM574.1 198.4h.9v.9h-.9zM595.6 177.2h.9v.9h-.9zM548.8 172.5h.9v.9h-.9zM547.1 200.3h.9v.9h-.9zM585.6 185.1h.9v.9h-.9zM549.2 187.8h.9v.9h-.9zM554.1 198.4h.9v.9h-.9zM560.7 204.2h.9v.9h-.9zM577.7 208.0h.9v.9h-.9zM580.4 206.4h.9v.9h-.9zM579.4 203.1h.9v.9h-.9zM572.2 196.6h.9v.9h-.9zM536.7 205.9h.9v.9h-.9zM570.9 202.8h.9v.9h-.9zM578.5 175.8h.9v.9h-.9zM564.2 208.4h.9v.9h-.9zM576.6 202.2h.9v.9h-.9zM563.2 207.9h.9v.9h-.9zM587.6 195.6h.9v.9h-.9zM547.8 193.4h.9v.9h-.9zM585.6 166.6h.9v.9h-.9zM546.0 200.9h.9v.9h-.9zM585.9 203.0h.9v.9h-.9zM578.6 195.7h.9v.9h-.9zM593.3 179.4h.9v.9h-.9zM579.8 165.8h.9v.9h-.9zM551.5 199.8h.9v.9h-.9zM574.5 192.3h.9v.9h-.9zM582.8 202.2h.9v.9h-.9zM568.2 206.6h.9v.9h-.9zM581.1 201.9h.9v.9h-.9zM567.6 208.3h.9v.9h-.9zM536.7 185.0h.9v.9h-.9zM564.5 208.1h.9v.9h-.9zM571.0 195.6h.9v.9h-.9zM577.5 204.7h.9v.9h-.9zM576.3 198.1h.9v.9h-.9zM553.4 205.6h.9v.9h-.9zM542.4 196.9h.9v.9h-.9zM568.6 199.5h.9v.9h-.9zM544.0 199.6h.9v.9h-.9zM568.1 204.7h.9v.9h-.9zM565.7 206.8h.9v.9h-.9zM571.3 203.7h.9v.9h-.9zM534.5 157.9h.9v.9h-.9zM553.2 191.5h.9v.9h-.9zM593.3 135.9h.9v.9h-.9zM557.8 205.3h.9v.9h-.9zM553.5 194.6h.9v.9h-.9zM572.3 200.7h.9v.9h-.9zM545.0 192.8h.9v.9h-.9zM581.5 202.6h.9v.9h-.9zM587.8 134.7h.9v.9h-.9zM539.2 205.5h.9v.9h-.9zM576.1 207.4h.9v.9h-.9zM574.4 202.9h.9v.9h-.9zM575.2 192.4h.9v.9h-.9zM567.3 205.0h.9v.9h-.9zM564.5 208.1h.9v.9h-.9zM559.0 204.9h.9v.9h-.9zM547.2 185.9h.9v.9h-.9zM541.2 189.3h.9v.9h-.9zM578.4 193.4h.9v.9h-.9zM562.0 207.1h.9v.9h-.9zM548.6 194.4h.9v.9h-.9zM552.4 200.2h.9v.9h-.9zM572.8 206.9h.9v.9h-.9zM568.3 208.4h.9v.9h-.9zM554.2 203.9h.9v.9h-.9zM569.5 185.4h.9v.9h-.9zM541.0 206.7h.9v.9h-.9zM585.9 166.6h.9v.9h-.9zM549.7 207.9h.9v.9h-.9zM571.0 207.9h.9v.9h-.9zM574.7 202.0h.9v.9h-.9zM579.7 190.9h.9v.9h-.9zM569.7 206.5h.9v.9h-.9zM568.8 191.2h.9v.9h-.9zM586.9 175.3h.9v.9h-.9zM553.2 208.2h.9v.9h-.9zM575.0 185.0h.9v.9h-.9zM543.2 192.9h.9v.9h-.9zM551.1 207.3h.9v.9h-.9zM559.9 208.3h.9v.9h-.9zM558.0 207.9h.9v.9h-.9zM552.4 202.6h.9v.9h-.9zM551.8 208.0h.9v.9h-.9zM558.9 202.3h.9v.9h-.9zM548.7 203.3h.9v.9h-.9zM550.7 197.8h.9v.9h-.9zM538.0 207.8h.9v.9h-.9zM584.2 201.3h.9v.9h-.9zM556.9 206.1h.9v.9h-.9zM581.1 198.3h.9v.9h-.9zM586.4 190.3h.9v.9h-.9zM572.8 189.7h.9v.9h-.9zM576.6 205.3h.9v.9h-.9zM592.0 190.9h.9v.9h-.9zM540.7 186.0h.9v.9h-.9zM573.4 206.8h.9v.9h-.9zM564.6 208.4h.9v.9h-.9zM565.3 208.2h.9v.9h-.9zM580.5 204.1h.9v.9h-.9zM549.9 201.4h.9v.9h-.9zM584.0 206.5h.9v.9h-.9zM550.3 203.7h.9v.9h-.9zM563.5 208.4h.9v.9h-.9zM582.4 187.9h.9v.9h-.9zM576.9 202.1h.9v.9h-.9zM560.6 206.9h.9v.9h-.9zM564.9 207.8h.9v.9h-.9zM578.8 188.6h.9v.9h-.9zM580.4 207.9h.9v.9h-.9zM566.2 207.6h.9v.9h-.9zM565.8 206.4h.9v.9h-.9zM550.6 202.7h.9v.9h-.9zM568.1 208.1h.9v.9h-.9zM585.2 174.6h.9v.9h-.9zM575.1 192.3h.9v.9h-.9zM593.3 147.0h.9v.9h-.9zM564.7 208.1h.9v.9h-.9zM545.3 208.3h.9v.9h-.9zM539.3 191.8h.9v.9h-.9zM587.5 181.5h.9v.9h-.9zM547.6 208.4h.9v.9h-.9zM542.7 207.0h.9v.9h-.9zM576.4 201.2h.9v.9h-.9zM571.7 200.6h.9v.9h-.9zM581.9 169.5h.9v.9h-.9zM543.3 184.9h.9v.9h-.9zM574.5 207.7h.9v.9h-.9zM533.1 167.4h.9v.9h-.9zM557.1 204.2h.9v.9h-.9zM566.6 204.3h.9v.9h-.9zM573.3 201.1h.9v.9h-.9zM566.9 205.1h.9v.9h-.9zM574.7 173.8h.9v.9h-.9zM551.2 200.2h.9v.9h-.9zM566.8 207.0h.9v.9h-.9zM565.7 207.6h.9v.9h-.9zM578.4 206.0h.9v.9h-.9zM584.3 196.1h.9v.9h-.9zM598.1 204.7h.9v.9h-.9zM583.2 194.9h.9v.9h-.9zM545.1 206.3h.9v.9h-.9zM573.4 203.3h.9v.9h-.9zM568.4 206.5h.9v.9h-.9zM589.0 203.1h.9v.9h-.9zM568.8 205.0h.9v.9h-.9zM569.4 207.6h.9v.9h-.9zM557.9 204.2h.9v.9h-.9zM573.8 203.7h.9v.9h-.9zM563.4 208.4h.9v.9h-.9zM564.2 208.3h.9v.9h-.9zM569.1 208.3h.9v.9h-.9zM573.0 187.7h.9v.9h-.9zM546.7 198.0h.9v.9h-.9zM549.8 204.1h.9v.9h-.9zM585.2 206.3h.9v.9h-.9zM572.9 202.1h.9v.9h-.9zM544.0 197.8h.9v.9h-.9zM579.0 183.2h.9v.9h-.9zM572.8 192.1h.9v.9h-.9zM589.7 178.3h.9v.9h-.9zM553.3 207.6h.9v.9h-.9zM597.6 181.9h.9v.9h-.9zM576.0 208.4h.9v.9h-.9zM572.3 204.3h.9v.9h-.9zM579.6 197.0h.9v.9h-.9zM558.2 207.7h.9v.9h-.9zM564.2 208.4h.9v.9h-.9zM549.6 201.3h.9v.9h-.9zM554.1 193.9h.9v.9h-.9zM569.0 208.4h.9v.9h-.9zM593.3 170.7h.9v.9h-.9zM574.0 203.7h.9v.9h-.9zM547.2 193.0h.9v.9h-.9zM544.3 192.8h.9v.9h-.9zM564.7 208.1h.9v.9h-.9zM573.2 198.0h.9v.9h-.9zM590.9 190.0h.9v.9h-.9zM569.4 205.6h.9v.9h-.9zM575.5 186.6h.9v.9h-.9zM551.0 195.8h.9v.9h-.9zM564.5 208.4h.9v.9h-.9zM552.7 203.0h.9v.9h-.9zM557.8 207.8h.9v.9h-.9zM552.1 206.6h.9v.9h-.9zM584.0 194.4h.9v.9h-.9zM588.6 207.8h.9v.9h-.9zM565.1 207.8h.9v.9h-.9zM548.7 201.8h.9v.9h-.9zM593.0 207.5h.9v.9h-.9zM586.2 205.2h.9v.9h-.9zM571.5 208.4h.9v.9h-.9zM570.6 205.6h.9v.9h-.9zM583.0 182.7h.9v.9h-.9zM580.2 193.4h.9v.9h-.9zM532.0 180.8h.9v.9h-.9zM550.7 195.3h.9v.9h-.9zM566.6 208.1h.9v.9h-.9zM579.9 207.2h.9v.9h-.9zM577.7 183.2h.9v.9h-.9zM554.2 206.7h.9v.9h-.9zM571.6 200.9h.9v.9h-.9zM549.2 198.1h.9v.9h-.9zM553.5 182.5h.9v.9h-.9zM548.9 191.9h.9v.9h-.9zM546.0 172.3h.9v.9h-.9zM591.0 189.3h.9v.9h-.9zM536.6 194.4h.9v.9h-.9zM551.0 207.0h.9v.9h-.9zM578.2 198.3h.9v.9h-.9zM566.1 207.9h.9v.9h-.9zM548.0 196.9h.9v.9h-.9zM563.0 208.3h.9v.9h-.9zM540.2 184.0h.9v.9h-.9zM550.6 204.4h.9v.9h-.9zM575.6 207.1h.9v.9h-.9zM558.9 206.9h.9v.9h-.9zM554.7 198.8h.9v.9h-.9zM557.2 203.8h.9v.9h-.9zM571.2 207.7h.9v.9h-.9zM539.2 191.5h.9v.9h-.9zM577.9 205.7h.9v.9h-.9zM587.5 167.1h.9v.9h-.9zM559.0 204.7h.9v.9h-.9zM569.4 200.8h.9v.9h-.9zM579.5 187.6h.9v.9h-.9zM576.5 187.2h.9v.9h-.9zM546.5 208.0h.9v.9h-.9zM571.4 202.8h.9v.9h-.9zM560.9 203.6h.9v.9h-.9zM565.3 207.8h.9v.9h-.9zM554.7 199.3h.9v.9h-.9zM561.5 205.5h.9v.9h-.9zM582.0 201.7h.9v.9h-.9zM569.2 207.9h.9v.9h-.9zM578.4 198.4h.9v.9h-.9zM568.6 208.1h.9v.9h-.9zM581.4 192.5h.9v.9h-.9zM581.5 201.2h.9v.9h-.9zM558.6 204.9h.9v.9h-.9zM547.1 196.6h.9v.9h-.9zM555.0 194.8h.9v.9h-.9zM583.7 182.9h.9v.9h-.9zM570.4 204.9h.9v.9h-.9zM541.8 202.6h.9v.9h-.9zM574.4 202.5h.9v.9h-.9zM588.6 175.1h.9v.9h-.9zM544.5 206.8h.9v.9h-.9zM578.7 198.9h.9v.9h-.9zM554.8 207.6h.9v.9h-.9zM588.0 199.0h.9v.9h-.9zM550.8 206.2h.9v.9h-.9zM590.0 192.9h.9v.9h-.9zM552.0 199.4h.9v.9h-.9zM583.2 201.1h.9v.9h-.9zM552.8 197.9h.9v.9h-.9zM573.4 207.5h.9v.9h-.9zM552.7 208.2h.9v.9h-.9zM558.3 207.8h.9v.9h-.9zM567.3 206.5h.9v.9h-.9zM565.9 206.4h.9v.9h-.9zM581.3 208.3h.9v.9h-.9zM565.9 206.8h.9v.9h-.9zM561.2 204.8h.9v.9h-.9zM574.9 198.0h.9v.9h-.9zM561.9 207.8h.9v.9h-.9zM557.0 208.0h.9v.9h-.9zM573.0 200.9h.9v.9h-.9zM587.5 192.1h.9v.9h-.9zM580.6 207.1h.9v.9h-.9zM544.3 206.0h.9v.9h-.9zM576.7 189.5h.9v.9h-.9zM565.4 207.2h.9v.9h-.9zM573.1 198.6h.9v.9h-.9zM543.6 196.1h.9v.9h-.9zM578.1 203.5h.9v.9h-.9zM583.1 201.3h.9v.9h-.9zM561.1 204.0h.9v.9h-.9zM590.0 191.3h.9v.9h-.9zM558.9 206.8h.9v.9h-.9zM583.6 202.2h.9v.9h-.9zM581.6 195.7h.9v.9h-.9zM552.5 205.9h.9v.9h-.9zM571.9 207.6h.9v.9h-.9zM564.4 208.3h.9v.9h-.9zM550.8 199.4h.9v.9h-.9zM577.8 202.2h.9v.9h-.9zM578.4 198.5h.9v.9h-.9zM565.7 207.7h.9v.9h-.9zM569.6 204.3h.9v.9h-.9zM585.8 208.1h.9v.9h-.9zM569.7 205.4h.9v.9h-.9zM571.5 197.4h.9v.9h-.9zM570.5 197.8h.9v.9h-.9zM578.8 199.5h.9v.9h-.9zM575.8 197.5h.9v.9h-.9zM579.4 191.2h.9v.9h-.9zM565.2 207.7h.9v.9h-.9zM569.0 205.3h.9v.9h-.9zM551.1 202.8h.9v.9h-.9zM573.4 207.7h.9v.9h-.9zM540.1 207.5h.9v.9h-.9zM569.3 204.3h.9v.9h-.9zM553.6 204.8h.9v.9h-.9zM576.2 197.2h.9v.9h-.9zM579.6 207.9h.9v.9h-.9zM548.8 190.4h.9v.9h-.9zM545.9 200.6h.9v.9h-.9zM581.3 188.3h.9v.9h-.9zM544.4 189.3h.9v.9h-.9zM570.6 201.6h.9v.9h-.9zM553.5 208.4h.9v.9h-.9zM552.5 199.5h.9v.9h-.9zM546.7 188.2h.9v.9h-.9zM546.0 206.4h.9v.9h-.9zM552.6 205.3h.9v.9h-.9zM565.7 208.4h.9v.9h-.9zM545.2 207.2h.9v.9h-.9zM578.0 208.4h.9v.9h-.9zM571.4 202.9h.9v.9h-.9zM545.8 190.0h.9v.9h-.9zM567.9 208.0h.9v.9h-.9zM590.1 171.9h.9v.9h-.9zM573.5 203.0h.9v.9h-.9zM557.6 207.0h.9v.9h-.9zM545.9 192.4h.9v.9h-.9zM582.9 188.5h.9v.9h-.9zM574.1 197.6h.9v.9h-.9zM543.1 206.8h.9v.9h-.9zM566.7 205.8h.9v.9h-.9zM595.1 178.8h.9v.9h-.9zM576.1 191.0h.9v.9h-.9zM565.1 207.3h.9v.9h-.9zM540.5 192.5h.9v.9h-.9zM574.3 195.4h.9v.9h-.9zM542.2 201.1h.9v.9h-.9zM592.2 193.0h.9v.9h-.9zM587.1 177.9h.9v.9h-.9zM554.0 208.1h.9v.9h-.9zM546.7 205.3h.9v.9h-.9zM554.3 204.9h.9v.9h-.9zM550.1 202.9h.9v.9h-.9zM556.2 208.0h.9v.9h-.9zM578.6 204.1h.9v.9h-.9zM547.6 190.7h.9v.9h-.9zM571.7 201.0h.9v.9h-.9zM582.4 201.6h.9v.9h-.9zM556.5 208.1h.9v.9h-.9zM541.9 184.3h.9v.9h-.9zM548.0 208.1h.9v.9h-.9zM550.4 207.5h.9v.9h-.9zM555.3 206.7h.9v.9h-.9zM581.7 177.6h.9v.9h-.9zM560.0 206.4h.9v.9h-.9zM566.2 208.1h.9v.9h-.9zM563.9 208.1h.9v.9h-.9zM590.1 184.7h.9v.9h-.9zM582.9 208.4h.9v.9h-.9zM580.3 204.5h.9v.9h-.9zM583.5 192.7h.9v.9h-.9zM593.6 186.7h.9v.9h-.9zM571.8 198.2h.9v.9h-.9zM567.9 202.7h.9v.9h-.9zM546.2 201.8h.9v.9h-.9zM555.7 200.4h.9v.9h-.9zM540.5 180.6h.9v.9h-.9zM556.3 204.7h.9v.9h-.9zM586.0 189.4h.9v.9h-.9zM576.4 206.5h.9v.9h-.9zM572.2 194.3h.9v.9h-.9zM599.8 190.6h.9v.9h-.9zM583.0 202.4h.9v.9h-.9zM576.2 195.5h.9v.9h-.9zM576.3 189.5h.9v.9h-.9zM554.8 206.8h.9v.9h-.9zM554.0 202.1h.9v.9h-.9zM588.1 168.2h.9v.9h-.9zM581.8 205.1h.9v.9h-.9zM578.6 188.1h.9v.9h-.9zM578.2 198.8h.9v.9h-.9zM573.2 204.6h.9v.9h-.9zM603.5 207.9h.9v.9h-.9zM568.1 206.9h.9v.9h-.9zM574.0 205.8h.9v.9h-.9zM586.2 181.6h.9v.9h-.9zM575.8 197.0h.9v.9h-.9zM588.8 153.1h.9v.9h-.9zM552.8 206.6h.9v.9h-.9zM587.6 184.0h.9v.9h-.9zM575.0 200.3h.9v.9h-.9zM543.1 199.3h.9v.9h-.9zM567.1 207.3h.9v.9h-.9zM583.3 191.8h.9v.9h-.9zM576.6 208.4h.9v.9h-.9zM565.3 207.7h.9v.9h-.9zM574.2 207.9h.9v.9h-.9zM550.3 199.3h.9v.9h-.9zM570.3 204.1h.9v.9h-.9zM537.5 182.7h.9v.9h-.9zM569.3 206.5h.9v.9h-.9zM579.2 205.5h.9v.9h-.9zM575.5 194.4h.9v.9h-.9zM577.1 207.9h.9v.9h-.9zM574.1 206.3h.9v.9h-.9zM557.5 201.3h.9v.9h-.9zM551.1 205.8h.9v.9h-.9zM571.5 206.0h.9v.9h-.9zM566.3 207.1h.9v.9h-.9zM557.7 207.1h.9v.9h-.9zM570.4 192.0h.9v.9h-.9zM556.0 206.4h.9v.9h-.9zM554.2 203.0h.9v.9h-.9zM555.8 198.3h.9v.9h-.9zM551.5 204.3h.9v.9h-.9zM570.2 204.9h.9v.9h-.9zM566.7 207.0h.9v.9h-.9zM564.2 208.2h.9v.9h-.9zM596.9 193.1h.9v.9h-.9zM579.3 190.0h.9v.9h-.9zM562.1 207.2h.9v.9h-.9zM552.6 203.8h.9v.9h-.9zM552.2 205.3h.9v.9h-.9zM557.2 205.3h.9v.9h-.9zM547.5 198.5h.9v.9h-.9zM577.8 180.3h.9v.9h-.9zM547.6 208.3h.9v.9h-.9zM578.8 204.7h.9v.9h-.9zM547.7 203.1h.9v.9h-.9zM564.9 208.1h.9v.9h-.9zM581.5 198.5h.9v.9h-.9zM549.9 193.0h.9v.9h-.9zM573.8 196.7h.9v.9h-.9zM574.9 204.2h.9v.9h-.9zM556.6 200.6h.9v.9h-.9zM564.2 208.4h.9v.9h-.9zM573.0 205.0h.9v.9h-.9zM559.0 207.6h.9v.9h-.9zM574.3 203.8h.9v.9h-.9zM553.4 201.0h.9v.9h-.9zM548.0 206.8h.9v.9h-.9zM585.6 196.3h.9v.9h-.9zM561.0 207.2h.9v.9h-.9zM556.3 201.7h.9v.9h-.9zM573.6 199.0h.9v.9h-.9zM577.9 187.3h.9v.9h-.9zM566.7 205.3h.9v.9h-.9zM574.3 196.1h.9v.9h-.9zM571.9 207.4h.9v.9h-.9zM571.9 208.3h.9v.9h-.9zM581.3 192.5h.9v.9h-.9zM569.2 203.4h.9v.9h-.9zM587.1 170.7h.9v.9h-.9zM545.6 186.3h.9v.9h-.9zM573.7 207.4h.9v.9h-.9zM580.4 199.7h.9v.9h-.9zM550.8 191.0h.9v.9h-.9zM581.8 189.4h.9v.9h-.9zM567.1 207.9h.9v.9h-.9zM548.3 194.2h.9v.9h-.9zM566.7 205.8h.9v.9h-.9zM576.4 174.4h.9v.9h-.9zM573.1 204.0h.9v.9h-.9zM543.2 205.1h.9v.9h-.9zM577.7 199.7h.9v.9h-.9zM537.0 201.2h.9v.9h-.9zM545.8 203.6h.9v.9h-.9zM552.4 200.0h.9v.9h-.9zM547.7 200.2h.9v.9h-.9zM582.0 204.7h.9v.9h-.9zM548.8 192.6h.9v.9h-.9zM566.0 207.2h.9v.9h-.9zM570.3 207.3h.9v.9h-.9zM585.5 201.8h.9v.9h-.9zM596.5 196.9h.9v.9h-.9zM560.7 207.7h.9v.9h-.9zM577.9 207.6h.9v.9h-.9zM558.4 203.0h.9v.9h-.9zM550.4 203.2h.9v.9h-.9zM568.3 207.4h.9v.9h-.9zM581.3 203.8h.9v.9h-.9zM566.6 206.1h.9v.9h-.9zM579.5 203.4h.9v.9h-.9zM578.0 195.7h.9v.9h-.9zM555.3 202.6h.9v.9h-.9zM569.4 208.0h.9v.9h-.9zM542.5 197.2h.9v.9h-.9zM553.9 187.3h.9v.9h-.9zM576.8 206.5h.9v.9h-.9zM558.0 205.9h.9v.9h-.9zM549.0 197.9h.9v.9h-.9zM580.8 182.3h.9v.9h-.9zM558.0 205.5h.9v.9h-.9zM547.5 201.9h.9v.9h-.9zM564.6 207.7h.9v.9h-.9zM571.1 208.0h.9v.9h-.9zM590.2 206.6h.9v.9h-.9zM569.8 200.8h.9v.9h-.9zM583.8 207.7h.9v.9h-.9zM584.1 182.0h.9v.9h-.9zM576.8 207.0h.9v.9h-.9zM577.8 187.6h.9v.9h-.9zM570.0 206.4h.9v.9h-.9zM572.8 206.9h.9v.9h-.9zM581.7 205.7h.9v.9h-.9zM567.6 207.1h.9v.9h-.9zM573.3 207.0h.9v.9h-.9zM567.8 206.2h.9v.9h-.9zM543.3 201.4h.9v.9h-.9zM553.3 201.3h.9v.9h-.9zM573.0 201.9h.9v.9h-.9zM590.1 188.4h.9v.9h-.9zM583.1 203.9h.9v.9h-.9zM543.9 207.3h.9v.9h-.9zM549.2 206.7h.9v.9h-.9zM575.1 205.5h.9v.9h-.9zM555.1 208.1h.9v.9h-.9zM588.1 175.7h.9v.9h-.9zM540.1 202.7h.9v.9h-.9zM560.0 207.9h.9v.9h-.9zM574.2 200.8h.9v.9h-.9zM539.0 184.6h.9v.9h-.9zM578.9 167.4h.9v.9h-.9zM575.5 198.6h.9v.9h-.9zM589.8 202.5h.9v.9h-.9zM575.0 204.8h.9v.9h-.9zM564.9 207.8h.9v.9h-.9zM582.7 202.8h.9v.9h-.9zM581.8 208.4h.9v.9h-.9zM569.2 208.3h.9v.9h-.9zM579.5 196.1h.9v.9h-.9zM586.0 191.5h.9v.9h-.9zM568.9 203.9h.9v.9h-.9zM581.9 197.9h.9v.9h-.9zM590.5 195.6h.9v.9h-.9zM572.7 199.6h.9v.9h-.9zM576.8 190.6h.9v.9h-.9zM575.0 201.4h.9v.9h-.9zM566.3 208.1h.9v.9h-.9zM544.5 204.7h.9v.9h-.9zM569.6 203.9h.9v.9h-.9zM577.7 200.0h.9v.9h-.9zM583.8 204.9h.9v.9h-.9zM543.6 166.9h.9v.9h-.9zM586.4 170.3h.9v.9h-.9zM548.8 206.2h.9v.9h-.9zM558.6 206.1h.9v.9h-.9zM558.0 205.2h.9v.9h-.9zM584.3 199.4h.9v.9h-.9zM581.5 182.2h.9v.9h-.9zM569.3 207.0h.9v.9h-.9zM592.1 169.9h.9v.9h-.9zM538.7 204.9h.9v.9h-.9zM560.6 206.6h.9v.9h-.9zM558.2 203.3h.9v.9h-.9zM592.0 177.9h.9v.9h-.9zM578.2 186.4h.9v.9h-.9zM573.0 196.6h.9v.9h-.9zM572.9 191.7h.9v.9h-.9zM571.3 203.4h.9v.9h-.9zM588.4 173.5h.9v.9h-.9zM565.0 207.4h.9v.9h-.9zM570.5 206.8h.9v.9h-.9zM578.3 192.6h.9v.9h-.9zM571.4 205.8h.9v.9h-.9zM547.4 205.1h.9v.9h-.9zM577.6 202.5h.9v.9h-.9zM549.2 200.5h.9v.9h-.9zM583.5 206.5h.9v.9h-.9zM568.4 206.0h.9v.9h-.9zM551.7 206.6h.9v.9h-.9zM542.1 193.3h.9v.9h-.9zM567.5 204.7h.9v.9h-.9zM573.5 191.9h.9v.9h-.9zM581.9 196.6h.9v.9h-.9zM547.6 197.2h.9v.9h-.9zM577.1 190.5h.9v.9h-.9zM545.8 187.6h.9v.9h-.9zM576.0 205.9h.9v.9h-.9zM544.6 205.5h.9v.9h-.9zM576.1 201.5h.9v.9h-.9zM581.8 202.7h.9v.9h-.9zM571.0 198.8h.9v.9h-.9zM549.8 197.4h.9v.9h-.9zM565.4 206.2h.9v.9h-.9zM568.6 207.8h.9v.9h-.9zM577.7 199.2h.9v.9h-.9zM565.1 208.3h.9v.9h-.9zM598.4 157.6h.9v.9h-.9zM552.9 207.0h.9v.9h-.9zM551.3 200.9h.9v.9h-.9zM557.6 202.3h.9v.9h-.9zM574.9 186.5h.9v.9h-.9zM564.8 207.7h.9v.9h-.9zM559.0 205.4h.9v.9h-.9zM566.8 204.2h.9v.9h-.9zM564.9 207.4h.9v.9h-.9zM584.7 207.7h.9v.9h-.9zM544.7 205.0h.9v.9h-.9zM590.9 203.9h.9v.9h-.9zM571.5 195.0h.9v.9h-.9zM575.3 202.0h.9v.9h-.9zM586.6 193.5h.9v.9h-.9zM597.7 182.3h.9v.9h-.9zM552.2 201.4h.9v.9h-.9zM548.9 207.3h.9v.9h-.9zM581.4 200.2h.9v.9h-.9zM549.0 194.2h.9v.9h-.9zM578.4 202.4h.9v.9h-.9zM569.9 196.8h.9v.9h-.9zM548.9 203.8h.9v.9h-.9zM533.6 204.0h.9v.9h-.9zM585.1 198.4h.9v.9h-.9zM545.6 202.3h.9v.9h-.9zM568.0 206.6h.9v.9h-.9zM554.4 199.7h.9v.9h-.9zM572.3 202.9h.9v.9h-.9zM584.7 166.3h.9v.9h-.9zM583.7 203.0h.9v.9h-.9zM578.3 188.5h.9v.9h-.9zM573.2 190.2h.9v.9h-.9zM570.8 197.2h.9v.9h-.9zM569.6 204.4h.9v.9h-.9zM554.1 208.0h.9v.9h-.9zM579.3 198.4h.9v.9h-.9zM532.5 207.4h.9v.9h-.9zM545.1 200.2h.9v.9h-.9zM575.1 206.0h.9v.9h-.9zM563.0 206.9h.9v.9h-.9zM565.7 208.4h.9v.9h-.9zM583.5 207.3h.9v.9h-.9zM575.5 200.3h.9v.9h-.9zM607.6 192.2h.9v.9h-.9zM586.7 190.8h.9v.9h-.9zM577.6 207.6h.9v.9h-.9zM573.3 199.6h.9v.9h-.9zM580.5 200.3h.9v.9h-.9zM558.2 196.1h.9v.9h-.9zM547.8 207.7h.9v.9h-.9zM568.0 206.5h.9v.9h-.9zM573.6 208.2h.9v.9h-.9zM555.9 204.8h.9v.9h-.9zM567.1 208.4h.9v.9h-.9zM567.3 202.7h.9v.9h-.9zM574.1 201.4h.9v.9h-.9zM567.8 208.1h.9v.9h-.9zM572.7 207.4h.9v.9h-.9zM556.3 202.2h.9v.9h-.9zM565.0 207.7h.9v.9h-.9zM559.3 208.3h.9v.9h-.9zM572.0 199.5h.9v.9h-.9zM548.5 201.6h.9v.9h-.9zM555.1 204.5h.9v.9h-.9zM584.4 205.5h.9v.9h-.9zM586.1 195.0h.9v.9h-.9zM559.0 204.9h.9v.9h-.9zM576.6 193.2h.9v.9h-.9zM578.8 197.7h.9v.9h-.9zM566.0 207.9h.9v.9h-.9zM567.6 204.3h.9v.9h-.9zM549.3 189.5h.9v.9h-.9zM582.6 206.9h.9v.9h-.9zM566.7 208.1h.9v.9h-.9zM571.9 205.9h.9v.9h-.9zM547.9 191.0h.9v.9h-.9zM567.2 206.2h.9v.9h-.9zM554.7 205.0h.9v.9h-.9zM586.0 203.7h.9v.9h-.9zM590.9 196.5h.9v.9h-.9zM536.8 198.8h.9v.9h-.9zM559.8 204.3h.9v.9h-.9zM543.7 190.5h.9v.9h-.9zM550.5 206.3h.9v.9h-.9zM555.7 199.5h.9v.9h-.9zM585.7 199.4h.9v.9h-.9zM556.3 194.1h.9v.9h-.9zM583.8 156.9h.9v.9h-.9zM589.3 189.4h.9v.9h-.9zM576.3 207.1h.9v.9h-.9zM576.8 206.3h.9v.9h-.9zM578.4 198.9h.9v.9h-.9zM554.7 201.0h.9v.9h-.9zM559.3 208.3h.9v.9h-.9zM567.9 205.0h.9v.9h-.9zM545.3 200.3h.9v.9h-.9zM557.4 207.4h.9v.9h-.9zM565.6 207.0h.9v.9h-.9zM568.4 203.7h.9v.9h-.9zM552.1 207.8h.9v.9h-.9zM592.3 194.1h.9v.9h-.9zM536.5 198.4h.9v.9h-.9zM559.7 207.8h.9v.9h-.9zM593.2 182.9h.9v.9h-.9zM550.8 205.5h.9v.9h-.9zM569.6 204.8h.9v.9h-.9zM557.4 207.7h.9v.9h-.9zM578.5 194.4h.9v.9h-.9zM567.6 207.3h.9v.9h-.9zM553.2 207.4h.9v.9h-.9zM569.3 207.8h.9v.9h-.9zM589.4 192.4h.9v.9h-.9zM537.9 204.3h.9v.9h-.9zM583.3 183.7h.9v.9h-.9zM553.0 208.4h.9v.9h-.9zM548.0 206.7h.9v.9h-.9zM555.9 201.8h.9v.9h-.9zM554.3 206.5h.9v.9h-.9zM567.5 207.4h.9v.9h-.9zM566.7 208.0h.9v.9h-.9zM582.0 200.9h.9v.9h-.9zM568.8 208.2h.9v.9h-.9zM567.8 206.3h.9v.9h-.9zM590.2 206.6h.9v.9h-.9zM554.9 206.1h.9v.9h-.9zM587.6 204.5h.9v.9h-.9zM580.2 170.7h.9v.9h-.9zM574.6 202.7h.9v.9h-.9zM565.1 208.0h.9v.9h-.9zM582.2 207.5h.9v.9h-.9zM568.0 208.4h.9v.9h-.9zM580.6 199.2h.9v.9h-.9zM565.7 206.5h.9v.9h-.9zM570.3 202.7h.9v.9h-.9zM565.6 208.1h.9v.9h-.9zM547.2 202.3h.9v.9h-.9zM565.0 207.0h.9v.9h-.9zM587.9 208.3h.9v.9h-.9zM564.0 208.4h.9v.9h-.9zM569.1 205.2h.9v.9h-.9zM557.6 198.8h.9v.9h-.9zM579.7 191.1h.9v.9h-.9zM543.2 191.6h.9v.9h-.9zM584.3 192.1h.9v.9h-.9zM545.7 205.6h.9v.9h-.9zM578.8 190.8h.9v.9h-.9zM545.2 208.3h.9v.9h-.9zM571.4 198.5h.9v.9h-.9zM566.6 206.5h.9v.9h-.9zM582.4 174.0h.9v.9h-.9zM602.0 189.8h.9v.9h-.9zM583.8 204.4h.9v.9h-.9zM567.3 200.6h.9v.9h-.9zM572.5 200.8h.9v.9h-.9zM580.4 205.0h.9v.9h-.9zM566.2 203.6h.9v.9h-.9zM561.5 206.5h.9v.9h-.9zM545.4 197.5h.9v.9h-.9zM549.2 194.9h.9v.9h-.9zM573.2 186.3h.9v.9h-.9zM549.7 196.9h.9v.9h-.9zM551.2 205.4h.9v.9h-.9zM586.1 201.4h.9v.9h-.9zM547.8 191.8h.9v.9h-.9zM559.4 207.1h.9v.9h-.9zM575.4 207.8h.9v.9h-.9zM583.8 203.6h.9v.9h-.9zM573.2 201.1h.9v.9h-.9zM551.9 203.5h.9v.9h-.9zM577.7 200.2h.9v.9h-.9zM575.9 198.0h.9v.9h-.9zM567.5 208.0h.9v.9h-.9zM569.9 198.6h.9v.9h-.9zM573.9 199.8h.9v.9h-.9zM567.8 205.4h.9v.9h-.9zM534.2 183.2h.9v.9h-.9zM546.4 207.6h.9v.9h-.9zM581.2 204.6h.9v.9h-.9zM579.7 201.6h.9v.9h-.9zM551.9 206.1h.9v.9h-.9zM566.6 206.0h.9v.9h-.9zM559.7 206.1h.9v.9h-.9zM592.0 194.1h.9v.9h-.9zM555.1 198.4h.9v.9h-.9zM551.3 192.4h.9v.9h-.9zM559.9 203.1h.9v.9h-.9zM578.4 189.5h.9v.9h-.9zM583.7 203.2h.9v.9h-.9zM556.0 201.8h.9v.9h-.9zM571.4 204.6h.9v.9h-.9zM578.4 184.4h.9v.9h-.9zM583.2 196.5h.9v.9h-.9zM552.7 204.5h.9v.9h-.9zM568.0 208.3h.9v.9h-.9zM573.6 204.7h.9v.9h-.9zM555.9 202.8h.9v.9h-.9zM582.4 180.6h.9v.9h-.9zM569.5 208.0h.9v.9h-.9zM574.8 199.1h.9v.9h-.9zM547.1 189.2h.9v.9h-.9zM569.9 205.3h.9v.9h-.9zM572.4 206.8h.9v.9h-.9zM556.0 196.4h.9v.9h-.9zM578.6 195.9h.9v.9h-.9zM565.0 208.2h.9v.9h-.9zM546.5 188.6h.9v.9h-.9zM538.7 183.7h.9v.9h-.9zM577.5 208.4h.9v.9h-.9zM574.2 188.0h.9v.9h-.9zM561.7 205.8h.9v.9h-.9zM584.8 187.3h.9v.9h-.9zM584.5 186.7h.9v.9h-.9zM532.0 207.7h.9v.9h-.9zM572.2 203.2h.9v.9h-.9zM597.9 176.5h.9v.9h-.9zM578.5 187.0h.9v.9h-.9zM583.2 197.1h.9v.9h-.9zM564.2 208.4h.9v.9h-.9zM567.2 205.1h.9v.9h-.9zM568.5 207.9h.9v.9h-.9zM565.0 207.5h.9v.9h-.9zM571.1 196.9h.9v.9h-.9zM531.4 180.0h.9v.9h-.9zM570.6 202.3h.9v.9h-.9zM571.3 208.1h.9v.9h-.9zM561.8 206.3h.9v.9h-.9zM592.4 179.0h.9v.9h-.9zM570.5 198.6h.9v.9h-.9zM563.5 208.2h.9v.9h-.9zM535.1 167.2h.9v.9h-.9zM572.1 202.5h.9v.9h-.9zM582.3 186.0h.9v.9h-.9zM585.9 199.3h.9v.9h-.9zM565.0 206.2h.9v.9h-.9zM581.8 194.8h.9v.9h-.9zM565.4 206.6h.9v.9h-.9zM578.6 187.7h.9v.9h-.9zM557.9 207.5h.9v.9h-.9zM599.8 170.1h.9v.9h-.9zM561.4 207.2h.9v.9h-.9zM582.8 203.1h.9v.9h-.9zM575.3 195.9h.9v.9h-.9zM537.1 206.7h.9v.9h-.9zM571.1 201.9h.9v.9h-.9zM573.9 201.5h.9v.9h-.9zM548.5 194.1h.9v.9h-.9zM562.2 205.7h.9v.9h-.9zM567.8 205.7h.9v.9h-.9zM573.4 202.0h.9v.9h-.9zM574.0 196.3h.9v.9h-.9zM553.2 207.2h.9v.9h-.9zM558.8 207.7h.9v.9h-.9zM577.6 204.9h.9v.9h-.9zM574.8 205.2h.9v.9h-.9zM548.4 198.3h.9v.9h-.9zM570.2 207.1h.9v.9h-.9zM590.5 196.7h.9v.9h-.9zM590.7 193.1h.9v.9h-.9zM571.1 202.5h.9v.9h-.9zM574.1 207.1h.9v.9h-.9zM548.8 202.9h.9v.9h-.9zM565.1 206.2h.9v.9h-.9zM584.2 186.3h.9v.9h-.9zM556.2 190.5h.9v.9h-.9zM549.2 201.8h.9v.9h-.9zM581.0 205.7h.9v.9h-.9zM564.2 208.4h.9v.9h-.9zM573.7 180.0h.9v.9h-.9zM533.3 205.0h.9v.9h-.9zM561.0 208.1h.9v.9h-.9zM560.0 208.1h.9v.9h-.9zM578.4 201.4h.9v.9h-.9zM549.3 188.6h.9v.9h-.9zM576.1 181.9h.9v.9h-.9zM545.5 205.8h.9v.9h-.9zM552.2 205.8h.9v.9h-.9zM546.0 193.4h.9v.9h-.9zM574.9 206.2h.9v.9h-.9zM582.6 201.6h.9v.9h-.9zM541.8 208.2h.9v.9h-.9zM581.6 201.0h.9v.9h-.9zM583.1 195.3h.9v.9h-.9zM560.0 208.2h.9v.9h-.9zM583.7 192.1h.9v.9h-.9zM588.5 176.6h.9v.9h-.9zM548.8 176.9h.9v.9h-.9zM561.3 199.8h.9v.9h-.9zM557.9 201.2h.9v.9h-.9zM574.5 206.9h.9v.9h-.9zM573.3 205.4h.9v.9h-.9zM569.6 204.7h.9v.9h-.9zM549.0 205.0h.9v.9h-.9zM583.5 192.9h.9v.9h-.9zM582.9 190.0h.9v.9h-.9zM564.1 208.4h.9v.9h-.9zM558.3 206.1h.9v.9h-.9zM590.1 208.1h.9v.9h-.9zM567.8 206.3h.9v.9h-.9zM570.6 206.0h.9v.9h-.9zM560.8 204.7h.9v.9h-.9zM585.9 195.3h.9v.9h-.9zM547.6 196.1h.9v.9h-.9zM580.2 207.7h.9v.9h-.9zM546.1 192.5h.9v.9h-.9zM568.0 206.7h.9v.9h-.9zM542.5 193.0h.9v.9h-.9zM575.9 207.9h.9v.9h-.9zM543.8 206.7h.9v.9h-.9zM584.2 189.0h.9v.9h-.9zM570.4 207.7h.9v.9h-.9zM577.8 203.9h.9v.9h-.9zM566.3 208.2h.9v.9h-.9zM555.8 187.4h.9v.9h-.9zM580.6 201.1h.9v.9h-.9zM568.2 206.7h.9v.9h-.9zM547.8 201.7h.9v.9h-.9zM590.9 198.2h.9v.9h-.9zM567.9 204.3h.9v.9h-.9zM576.0 179.1h.9v.9h-.9zM591.2 208.1h.9v.9h-.9zM571.7 191.9h.9v.9h-.9zM556.8 206.6h.9v.9h-.9zM564.4 208.2h.9v.9h-.9zM548.6 203.7h.9v.9h-.9zM591.9 203.6h.9v.9h-.9zM567.2 203.6h.9v.9h-.9zM554.6 206.0h.9v.9h-.9zM590.5 196.6h.9v.9h-.9zM545.2 190.0h.9v.9h-.9zM554.0 202.9h.9v.9h-.9zM593.8 163.0h.9v.9h-.9zM593.5 200.4h.9v.9h-.9zM574.5 189.3h.9v.9h-.9zM542.5 167.7h.9v.9h-.9zM584.6 200.6h.9v.9h-.9zM586.6 196.1h.9v.9h-.9zM586.8 188.6h.9v.9h-.9zM535.3 198.5h.9v.9h-.9zM543.1 184.1h.9v.9h-.9zM541.6 194.0h.9v.9h-.9zM552.9 203.3h.9v.9h-.9zM555.9 201.4h.9v.9h-.9zM546.7 202.2h.9v.9h-.9zM548.5 201.2h.9v.9h-.9zM570.9 189.5h.9v.9h-.9zM558.2 205.5h.9v.9h-.9zM581.0 197.1h.9v.9h-.9zM581.0 187.2h.9v.9h-.9zM556.5 201.3h.9v.9h-.9zM570.1 203.7h.9v.9h-.9zM561.7 208.2h.9v.9h-.9zM558.9 191.1h.9v.9h-.9zM583.5 171.5h.9v.9h-.9zM577.6 202.6h.9v.9h-.9zM571.9 200.4h.9v.9h-.9zM588.5 198.6h.9v.9h-.9zM590.6 195.2h.9v.9h-.9zM575.1 196.1h.9v.9h-.9zM559.2 208.3h.9v.9h-.9zM574.5 194.8h.9v.9h-.9zM591.4 187.2h.9v.9h-.9zM587.8 162.6h.9v.9h-.9zM564.4 208.3h.9v.9h-.9zM558.3 204.7h.9v.9h-.9zM571.1 206.0h.9v.9h-.9zM587.9 179.1h.9v.9h-.9zM549.3 207.3h.9v.9h-.9zM555.7 205.7h.9v.9h-.9zM541.2 177.2h.9v.9h-.9zM572.0 198.4h.9v.9h-.9zM578.4 204.4h.9v.9h-.9zM568.8 205.9h.9v.9h-.9zM549.9 193.1h.9v.9h-.9zM542.4 189.8h.9v.9h-.9zM551.9 188.2h.9v.9h-.9zM570.7 203.6h.9v.9h-.9zM573.6 200.0h.9v.9h-.9zM554.7 208.1h.9v.9h-.9zM587.1 194.0h.9v.9h-.9zM596.9 200.6h.9v.9h-.9zM568.4 208.0h.9v.9h-.9zM578.9 182.5h.9v.9h-.9zM545.7 184.2h.9v.9h-.9zM561.6 208.3h.9v.9h-.9zM569.6 207.0h.9v.9h-.9zM551.6 203.1h.9v.9h-.9zM575.0 187.2h.9v.9h-.9zM569.0 207.7h.9v.9h-.9zM549.2 199.5h.9v.9h-.9zM588.5 197.1h.9v.9h-.9zM567.0 205.7h.9v.9h-.9zM597.4 156.2h.9v.9h-.9zM572.8 196.9h.9v.9h-.9zM582.8 198.2h.9v.9h-.9zM583.2 171.6h.9v.9h-.9zM577.3 202.1h.9v.9h-.9zM575.6 203.1h.9v.9h-.9zM579.9 207.6h.9v.9h-.9zM552.7 206.9h.9v.9h-.9zM583.8 207.9h.9v.9h-.9zM555.5 203.7h.9v.9h-.9zM540.3 200.3h.9v.9h-.9zM572.0 204.2h.9v.9h-.9zM578.8 204.6h.9v.9h-.9zM576.4 185.1h.9v.9h-.9zM577.7 206.3h.9v.9h-.9zM562.5 207.5h.9v.9h-.9zM569.7 208.4h.9v.9h-.9zM566.1 207.4h.9v.9h-.9zM572.9 198.9h.9v.9h-.9zM586.2 197.3h.9v.9h-.9zM579.0 192.8h.9v.9h-.9zM564.9 207.9h.9v.9h-.9zM562.6 206.4h.9v.9h-.9zM580.2 181.6h.9v.9h-.9zM574.2 206.0h.9v.9h-.9zM578.4 201.0h.9v.9h-.9zM586.6 178.8h.9v.9h-.9zM582.9 187.2h.9v.9h-.9zM574.0 195.6h.9v.9h-.9zM551.9 206.5h.9v.9h-.9zM597.6 176.3h.9v.9h-.9zM574.1 208.0h.9v.9h-.9zM558.3 203.6h.9v.9h-.9zM570.5 203.9h.9v.9h-.9zM538.3 206.0h.9v.9h-.9zM573.1 206.1h.9v.9h-.9zM559.0 207.8h.9v.9h-.9zM546.0 201.7h.9v.9h-.9zM550.5 199.9h.9v.9h-.9zM592.9 197.9h.9v.9h-.9zM582.7 200.9h.9v.9h-.9zM545.1 204.0h.9v.9h-.9zM560.5 205.5h.9v.9h-.9zM546.4 207.7h.9v.9h-.9zM578.7 207.4h.9v.9h-.9zM571.0 201.3h.9v.9h-.9zM543.1 204.7h.9v.9h-.9zM564.5 208.3h.9v.9h-.9zM538.6 204.4h.9v.9h-.9zM599.6 189.2h.9v.9h-.9zM586.6 205.2h.9v.9h-.9zM579.1 206.8h.9v.9h-.9zM587.3 159.1h.9v.9h-.9zM583.6 202.6h.9v.9h-.9zM591.4 194.5h.9v.9h-.9zM565.4 208.3h.9v.9h-.9zM562.1 206.6h.9v.9h-.9zM564.8 207.6h.9v.9h-.9zM592.5 208.0h.9v.9h-.9zM558.0 191.1h.9v.9h-.9zM564.3 208.1h.9v.9h-.9zM552.3 201.8h.9v.9h-.9zM586.8 195.4h.9v.9h-.9zM568.9 206.4h.9v.9h-.9zM573.7 188.8h.9v.9h-.9zM572.8 208.4h.9v.9h-.9zM584.4 143.2h.9v.9h-.9zM574.6 205.9h.9v.9h-.9zM597.2 206.7h.9v.9h-.9zM571.2 179.2h.9v.9h-.9zM546.3 205.9h.9v.9h-.9zM571.0 196.6h.9v.9h-.9zM560.4 206.5h.9v.9h-.9zM567.6 207.3h.9v.9h-.9zM591.0 203.4h.9v.9h-.9zM583.5 179.9h.9v.9h-.9zM575.1 197.1h.9v.9h-.9zM576.0 201.4h.9v.9h-.9zM595.6 140.9h.9v.9h-.9zM566.5 208.4h.9v.9h-.9zM555.2 202.2h.9v.9h-.9zM558.4 207.3h.9v.9h-.9zM541.6 153.2h.9v.9h-.9zM574.5 208.1h.9v.9h-.9zM574.2 201.2h.9v.9h-.9zM584.1 198.2h.9v.9h-.9zM548.3 181.3h.9v.9h-.9zM549.2 204.2h.9v.9h-.9zM549.3 200.2h.9v.9h-.9zM564.8 208.4h.9v.9h-.9zM555.4 201.5h.9v.9h-.9zM579.0 208.0h.9v.9h-.9zM547.4 193.0h.9v.9h-.9zM544.9 179.7h.9v.9h-.9zM562.4 206.3h.9v.9h-.9zM570.8 205.7h.9v.9h-.9zM560.0 206.0h.9v.9h-.9zM581.4 185.4h.9v.9h-.9zM575.8 195.6h.9v.9h-.9zM575.4 204.2h.9v.9h-.9zM573.0 206.4h.9v.9h-.9zM545.8 195.7h.9v.9h-.9zM547.8 208.0h.9v.9h-.9zM559.1 203.7h.9v.9h-.9zM574.9 190.6h.9v.9h-.9zM550.1 198.8h.9v.9h-.9zM556.6 199.4h.9v.9h-.9zM579.6 199.4h.9v.9h-.9zM573.1 189.6h.9v.9h-.9zM585.8 208.0h.9v.9h-.9zM558.3 202.4h.9v.9h-.9zM538.6 208.1h.9v.9h-.9zM577.5 194.4h.9v.9h-.9zM583.3 193.2h.9v.9h-.9zM540.2 177.7h.9v.9h-.9zM556.6 200.6h.9v.9h-.9zM558.9 207.6h.9v.9h-.9zM550.0 208.2h.9v.9h-.9zM566.7 207.6h.9v.9h-.9zM548.7 200.8h.9v.9h-.9zM583.9 197.9h.9v.9h-.9zM575.4 198.7h.9v.9h-.9zM549.6 203.6h.9v.9h-.9zM565.0 208.2h.9v.9h-.9zM587.6 183.4h.9v.9h-.9zM586.5 175.5h.9v.9h-.9zM559.1 201.5h.9v.9h-.9zM579.7 195.0h.9v.9h-.9zM547.8 204.2h.9v.9h-.9zM570.9 208.0h.9v.9h-.9zM550.8 200.7h.9v.9h-.9zM542.1 206.8h.9v.9h-.9zM550.9 207.8h.9v.9h-.9zM588.3 207.5h.9v.9h-.9zM569.9 200.8h.9v.9h-.9zM577.0 190.8h.9v.9h-.9zM577.9 193.4h.9v.9h-.9zM561.0 204.9h.9v.9h-.9zM573.9 197.4h.9v.9h-.9zM555.3 205.7h.9v.9h-.9zM547.0 208.4h.9v.9h-.9zM543.3 199.8h.9v.9h-.9zM581.1 177.3h.9v.9h-.9zM589.2 189.9h.9v.9h-.9zM556.9 196.2h.9v.9h-.9zM551.5 207.8h.9v.9h-.9zM541.0 202.6h.9v.9h-.9zM577.7 204.0h.9v.9h-.9zM573.9 207.2h.9v.9h-.9zM576.0 197.2h.9v.9h-.9zM586.6 207.6h.9v.9h-.9zM571.5 194.3h.9v.9h-.9zM577.1 192.7h.9v.9h-.9zM539.7 186.5h.9v.9h-.9zM579.9 190.5h.9v.9h-.9zM585.2 203.2h.9v.9h-.9zM581.0 197.6h.9v.9h-.9zM545.7 203.7h.9v.9h-.9zM550.8 207.4h.9v.9h-.9zM584.2 203.4h.9v.9h-.9zM576.1 191.5h.9v.9h-.9zM550.9 206.6h.9v.9h-.9zM553.1 191.3h.9v.9h-.9zM571.3 202.8h.9v.9h-.9zM543.2 203.5h.9v.9h-.9zM571.3 206.5h.9v.9h-.9zM546.5 205.5h.9v.9h-.9zM588.7 165.0h.9v.9h-.9zM570.8 204.3h.9v.9h-.9zM564.3 208.1h.9v.9h-.9zM590.0 180.6h.9v.9h-.9zM570.1 204.8h.9v.9h-.9zM587.7 203.6h.9v.9h-.9zM555.5 203.4h.9v.9h-.9zM555.6 200.9h.9v.9h-.9zM587.5 207.3h.9v.9h-.9zM593.7 190.9h.9v.9h-.9zM578.6 204.9h.9v.9h-.9zM581.1 173.8h.9v.9h-.9zM565.0 208.2h.9v.9h-.9zM571.8 205.9h.9v.9h-.9zM558.7 207.1h.9v.9h-.9zM548.2 203.1h.9v.9h-.9zM581.2 205.5h.9v.9h-.9zM565.5 207.9h.9v.9h-.9zM553.3 207.8h.9v.9h-.9zM535.0 198.9h.9v.9h-.9zM548.7 206.1h.9v.9h-.9zM586.2 204.1h.9v.9h-.9zM578.1 206.3h.9v.9h-.9zM566.0 207.0h.9v.9h-.9zM585.1 189.3h.9v.9h-.9zM546.6 193.4h.9v.9h-.9zM560.1 198.0h.9v.9h-.9zM562.7 208.4h.9v.9h-.9zM555.5 204.1h.9v.9h-.9zM543.5 198.7h.9v.9h-.9zM567.8 204.0h.9v.9h-.9zM573.9 207.2h.9v.9h-.9zM568.5 203.9h.9v.9h-.9zM577.3 201.8h.9v.9h-.9zM566.3 204.8h.9v.9h-.9zM570.7 195.6h.9v.9h-.9zM582.9 207.0h.9v.9h-.9zM557.3 203.0h.9v.9h-.9zM577.6 188.4h.9v.9h-.9zM554.4 202.5h.9v.9h-.9zM573.4 195.6h.9v.9h-.9zM580.7 184.4h.9v.9h-.9zM569.0 199.6h.9v.9h-.9zM572.3 206.7h.9v.9h-.9zM551.7 199.2h.9v.9h-.9zM564.1 208.4h.9v.9h-.9zM541.4 196.8h.9v.9h-.9zM556.0 207.2h.9v.9h-.9zM582.4 198.5h.9v.9h-.9zM590.0 198.1h.9v.9h-.9zM543.3 207.1h.9v.9h-.9zM547.4 199.6h.9v.9h-.9zM575.7 187.1h.9v.9h-.9zM550.2 205.0h.9v.9h-.9zM576.7 201.8h.9v.9h-.9zM549.8 206.8h.9v.9h-.9zM600.4 205.9h.9v.9h-.9zM564.3 208.3h.9v.9h-.9zM549.4 204.6h.9v.9h-.9zM569.0 207.5h.9v.9h-.9zM574.7 196.3h.9v.9h-.9zM576.1 183.6h.9v.9h-.9zM548.2 205.3h.9v.9h-.9zM572.5 205.0h.9v.9h-.9zM547.0 196.4h.9v.9h-.9zM568.7 202.3h.9v.9h-.9zM547.9 200.7h.9v.9h-.9zM580.5 197.5h.9v.9h-.9zM569.2 205.3h.9v.9h-.9zM563.3 207.5h.9v.9h-.9zM575.0 201.7h.9v.9h-.9zM572.0 182.5h.9v.9h-.9zM550.1 205.4h.9v.9h-.9zM575.9 205.1h.9v.9h-.9zM553.0 206.5h.9v.9h-.9zM545.0 205.4h.9v.9h-.9zM586.0 184.4h.9v.9h-.9zM552.3 202.9h.9v.9h-.9zM600.8 147.3h.9v.9h-.9zM552.7 207.2h.9v.9h-.9zM573.0 177.0h.9v.9h-.9zM589.6 206.7h.9v.9h-.9zM542.6 177.0h.9v.9h-.9zM589.1 205.7h.9v.9h-.9zM554.2 204.6h.9v.9h-.9zM580.5 202.8h.9v.9h-.9zM542.3 205.8h.9v.9h-.9zM590.7 160.2h.9v.9h-.9zM562.5 207.2h.9v.9h-.9zM564.5 207.7h.9v.9h-.9zM552.9 207.4h.9v.9h-.9zM572.1 199.5h.9v.9h-.9zM579.6 203.3h.9v.9h-.9zM580.2 196.9h.9v.9h-.9zM573.3 205.7h.9v.9h-.9zM572.1 200.7h.9v.9h-.9zM573.5 197.2h.9v.9h-.9zM554.6 201.5h.9v.9h-.9zM578.6 196.7h.9v.9h-.9zM564.5 208.3h.9v.9h-.9zM564.9 207.7h.9v.9h-.9zM550.3 193.6h.9v.9h-.9zM558.3 198.8h.9v.9h-.9zM572.6 206.6h.9v.9h-.9zM589.5 208.4h.9v.9h-.9zM576.0 197.7h.9v.9h-.9zM566.4 206.9h.9v.9h-.9zM547.0 204.1h.9v.9h-.9zM581.8 193.6h.9v.9h-.9zM568.2 201.4h.9v.9h-.9zM537.4 206.0h.9v.9h-.9zM554.8 207.4h.9v.9h-.9zM574.9 200.5h.9v.9h-.9zM582.5 178.4h.9v.9h-.9zM556.1 200.2h.9v.9h-.9zM563.9 208.3h.9v.9h-.9zM582.6 178.3h.9v.9h-.9zM550.7 201.5h.9v.9h-.9zM574.4 204.3h.9v.9h-.9zM565.4 207.6h.9v.9h-.9zM566.9 205.1h.9v.9h-.9zM579.6 190.6h.9v.9h-.9zM581.2 195.0h.9v.9h-.9zM568.8 198.3h.9v.9h-.9zM557.4 205.3h.9v.9h-.9zM590.9 147.6h.9v.9h-.9zM547.3 208.4h.9v.9h-.9zM564.2 208.3h.9v.9h-.9zM576.2 202.3h.9v.9h-.9zM572.8 208.3h.9v.9h-.9zM595.3 204.5h.9v.9h-.9zM548.5 196.0h.9v.9h-.9zM570.8 206.1h.9v.9h-.9zM579.5 205.3h.9v.9h-.9zM578.2 172.0h.9v.9h-.9zM542.4 163.3h.9v.9h-.9zM560.6 205.5h.9v.9h-.9zM576.1 191.6h.9v.9h-.9zM553.5 201.0h.9v.9h-.9zM567.1 205.9h.9v.9h-.9zM547.7 203.1h.9v.9h-.9zM540.8 204.3h.9v.9h-.9zM549.3 197.4h.9v.9h-.9zM573.0 197.8h.9v.9h-.9zM565.2 208.0h.9v.9h-.9zM568.5 206.1h.9v.9h-.9zM577.8 200.9h.9v.9h-.9zM569.3 206.8h.9v.9h-.9zM582.0 201.4h.9v.9h-.9zM571.0 204.3h.9v.9h-.9zM571.6 204.3h.9v.9h-.9zM567.8 207.9h.9v.9h-.9zM555.3 198.6h.9v.9h-.9zM540.9 206.9h.9v.9h-.9zM568.1 202.0h.9v.9h-.9zM558.0 205.7h.9v.9h-.9zM575.2 196.2h.9v.9h-.9zM567.4 200.9h.9v.9h-.9zM579.0 189.4h.9v.9h-.9zM534.1 178.5h.9v.9h-.9zM576.8 198.7h.9v.9h-.9zM569.0 201.9h.9v.9h-.9zM576.5 202.5h.9v.9h-.9zM568.2 202.7h.9v.9h-.9zM574.6 204.3h.9v.9h-.9zM548.2 201.6h.9v.9h-.9zM575.9 197.9h.9v.9h-.9zM552.4 202.4h.9v.9h-.9zM567.3 205.3h.9v.9h-.9zM575.6 200.4h.9v.9h-.9zM584.2 183.4h.9v.9h-.9zM570.5 204.1h.9v.9h-.9zM571.0 206.0h.9v.9h-.9zM568.0 206.8h.9v.9h-.9zM591.3 199.2h.9v.9h-.9zM555.7 207.7h.9v.9h-.9zM567.2 204.8h.9v.9h-.9zM581.9 180.4h.9v.9h-.9zM589.1 204.9h.9v.9h-.9zM576.4 196.9h.9v.9h-.9zM576.9 185.7h.9v.9h-.9zM549.1 205.5h.9v.9h-.9zM543.8 184.0h.9v.9h-.9zM596.3 168.2h.9v.9h-.9zM584.2 198.8h.9v.9h-.9zM571.4 203.6h.9v.9h-.9zM573.7 205.7h.9v.9h-.9zM545.6 207.1h.9v.9h-.9zM538.5 192.4h.9v.9h-.9zM545.1 204.4h.9v.9h-.9zM589.0 207.4h.9v.9h-.9zM571.7 202.0h.9v.9h-.9zM579.6 201.7h.9v.9h-.9zM554.4 207.1h.9v.9h-.9zM574.1 200.6h.9v.9h-.9zM587.9 203.5h.9v.9h-.9zM546.0 186.1h.9v.9h-.9zM589.8 169.0h.9v.9h-.9zM568.8 205.9h.9v.9h-.9zM579.4 180.8h.9v.9h-.9zM573.4 190.4h.9v.9h-.9zM597.3 161.4h.9v.9h-.9zM588.9 205.3h.9v.9h-.9zM575.1 202.8h.9v.9h-.9zM581.1 196.7h.9v.9h-.9zM560.9 207.1h.9v.9h-.9zM550.0 203.5h.9v.9h-.9zM570.1 207.1h.9v.9h-.9zM552.1 202.9h.9v.9h-.9zM563.0 208.0h.9v.9h-.9zM555.0 202.7h.9v.9h-.9zM583.2 201.3h.9v.9h-.9zM588.9 175.8h.9v.9h-.9zM590.7 202.7h.9v.9h-.9zM577.8 194.2h.9v.9h-.9zM582.3 198.8h.9v.9h-.9zM543.3 197.4h.9v.9h-.9zM579.3 177.8h.9v.9h-.9zM578.5 198.9h.9v.9h-.9zM567.7 208.2h.9v.9h-.9zM543.8 206.5h.9v.9h-.9zM569.6 207.6h.9v.9h-.9zM568.0 203.9h.9v.9h-.9zM579.7 171.2h.9v.9h-.9zM565.2 206.0h.9v.9h-.9zM569.3 207.7h.9v.9h-.9zM552.7 195.4h.9v.9h-.9zM575.4 198.3h.9v.9h-.9zM547.0 197.0h.9v.9h-.9zM564.2 208.3h.9v.9h-.9zM594.6 185.7h.9v.9h-.9zM552.8 196.3h.9v.9h-.9zM572.1 199.6h.9v.9h-.9zM551.6 203.2h.9v.9h-.9zM550.5 199.6h.9v.9h-.9zM533.3 161.0h.9v.9h-.9zM555.3 205.9h.9v.9h-.9zM578.3 193.4h.9v.9h-.9zM566.7 207.1h.9v.9h-.9zM558.1 201.7h.9v.9h-.9zM592.7 203.6h.9v.9h-.9zM547.4 193.4h.9v.9h-.9zM588.4 160.2h.9v.9h-.9zM575.5 206.9h.9v.9h-.9zM579.4 206.5h.9v.9h-.9zM550.6 208.3h.9v.9h-.9zM578.6 198.7h.9v.9h-.9zM570.3 207.7h.9v.9h-.9zM558.6 201.8h.9v.9h-.9zM548.4 191.2h.9v.9h-.9zM536.0 199.3h.9v.9h-.9zM564.4 208.2h.9v.9h-.9zM585.1 180.3h.9v.9h-.9zM578.3 208.1h.9v.9h-.9zM581.6 178.6h.9v.9h-.9zM592.1 175.0h.9v.9h-.9zM601.0 202.1h.9v.9h-.9zM581.8 195.5h.9v.9h-.9zM589.6 187.7h.9v.9h-.9zM579.3 203.8h.9v.9h-.9zM600.2 143.3h.9v.9h-.9zM612.4 160.7h.9v.9h-.9zM616.4 195.5h.9v.9h-.9zM596.9 168.0h.9v.9h-.9zM610.2 173.4h.9v.9h-.9zM592.4 175.7h.9v.9h-.9zM576.0 184.2h.9v.9h-.9zM587.7 199.8h.9v.9h-.9zM600.6 173.9h.9v.9h-.9zM576.4 191.9h.9v.9h-.9zM590.9 184.1h.9v.9h-.9zM596.0 178.7h.9v.9h-.9zM576.5 195.8h.9v.9h-.9zM613.5 182.4h.9v.9h-.9zM599.1 205.0h.9v.9h-.9zM603.5 127.9h.9v.9h-.9zM574.6 198.1h.9v.9h-.9zM612.5 158.1h.9v.9h-.9zM597.6 207.1h.9v.9h-.9zM596.9 184.0h.9v.9h-.9zM591.0 204.3h.9v.9h-.9zM594.8 186.3h.9v.9h-.9zM597.4 194.7h.9v.9h-.9zM593.2 179.2h.9v.9h-.9zM583.2 123.4h.9v.9h-.9zM567.8 207.5h.9v.9h-.9zM609.7 162.7h.9v.9h-.9zM576.8 185.4h.9v.9h-.9zM592.3 157.1h.9v.9h-.9zM597.4 203.0h.9v.9h-.9zM577.6 186.1h.9v.9h-.9zM591.1 195.6h.9v.9h-.9zM589.9 186.4h.9v.9h-.9zM581.5 201.3h.9v.9h-.9zM576.1 205.1h.9v.9h-.9zM598.4 194.7h.9v.9h-.9zM577.7 203.7h.9v.9h-.9zM582.6 164.6h.9v.9h-.9zM595.0 190.3h.9v.9h-.9zM582.4 185.0h.9v.9h-.9zM587.4 191.1h.9v.9h-.9zM587.4 179.5h.9v.9h-.9zM582.4 206.0h.9v.9h-.9zM608.9 140.1h.9v.9h-.9zM614.4 203.2h.9v.9h-.9zM570.2 201.7h.9v.9h-.9zM586.0 207.4h.9v.9h-.9zM587.5 188.6h.9v.9h-.9zM570.9 202.3h.9v.9h-.9zM602.4 161.2h.9v.9h-.9zM588.5 197.3h.9v.9h-.9zM603.1 204.6h.9v.9h-.9zM613.7 201.9h.9v.9h-.9zM587.3 151.7h.9v.9h-.9zM571.8 200.9h.9v.9h-.9zM600.3 207.3h.9v.9h-.9zM575.0 207.0h.9v.9h-.9zM580.3 199.9h.9v.9h-.9zM585.9 176.6h.9v.9h-.9zM588.5 203.3h.9v.9h-.9zM592.5 159.3h.9v.9h-.9zM606.2 166.6h.9v.9h-.9zM593.0 180.9h.9v.9h-.9zM592.3 186.9h.9v.9h-.9zM592.5 193.4h.9v.9h-.9zM583.6 176.4h.9v.9h-.9zM572.1 204.2h.9v.9h-.9zM565.2 205.2h.9v.9h-.9zM601.9 167.0h.9v.9h-.9zM581.3 197.3h.9v.9h-.9zM602.2 136.7h.9v.9h-.9zM578.2 198.6h.9v.9h-.9zM577.6 194.9h.9v.9h-.9zM597.8 176.2h.9v.9h-.9zM603.5 179.6h.9v.9h-.9zM587.1 197.0h.9v.9h-.9zM583.3 178.4h.9v.9h-.9zM573.0 203.0h.9v.9h-.9zM578.8 196.6h.9v.9h-.9zM570.9 203.9h.9v.9h-.9zM569.9 196.7h.9v.9h-.9zM599.5 177.3h.9v.9h-.9zM580.4 197.5h.9v.9h-.9zM610.0 120.0h.9v.9h-.9zM573.2 201.9h.9v.9h-.9zM573.3 204.9h.9v.9h-.9zM595.3 202.3h.9v.9h-.9zM594.0 191.7h.9v.9h-.9zM570.4 193.0h.9v.9h-.9zM583.2 205.3h.9v.9h-.9zM590.4 163.7h.9v.9h-.9zM592.1 166.7h.9v.9h-.9zM582.2 197.5h.9v.9h-.9zM596.0 197.1h.9v.9h-.9zM564.5 207.8h.9v.9h-.9zM605.4 166.7h.9v.9h-.9zM602.6 125.8h.9v.9h-.9zM588.2 190.4h.9v.9h-.9zM594.8 168.5h.9v.9h-.9zM575.7 196.4h.9v.9h-.9zM591.9 182.3h.9v.9h-.9zM586.9 193.5h.9v.9h-.9zM580.5 199.0h.9v.9h-.9zM595.5 195.4h.9v.9h-.9zM609.8 185.1h.9v.9h-.9zM565.3 207.6h.9v.9h-.9zM588.9 201.5h.9v.9h-.9zM614.2 197.8h.9v.9h-.9zM572.9 206.1h.9v.9h-.9zM596.4 191.4h.9v.9h-.9zM579.0 186.5h.9v.9h-.9zM593.9 181.2h.9v.9h-.9zM579.0 197.4h.9v.9h-.9zM600.0 194.5h.9v.9h-.9zM584.4 197.2h.9v.9h-.9zM596.3 194.4h.9v.9h-.9zM593.2 130.6h.9v.9h-.9zM617.0 146.4h.9v.9h-.9zM582.7 207.6h.9v.9h-.9zM603.4 206.3h.9v.9h-.9zM594.6 204.1h.9v.9h-.9zM597.3 202.9h.9v.9h-.9zM600.3 164.6h.9v.9h-.9zM600.2 155.8h.9v.9h-.9zM574.4 202.6h.9v.9h-.9zM609.2 194.8h.9v.9h-.9zM574.7 203.8h.9v.9h-.9zM578.7 188.1h.9v.9h-.9zM579.4 206.7h.9v.9h-.9zM583.1 185.4h.9v.9h-.9zM585.5 199.1h.9v.9h-.9zM605.0 146.7h.9v.9h-.9zM608.1 182.0h.9v.9h-.9zM597.6 193.8h.9v.9h-.9zM586.1 191.9h.9v.9h-.9zM580.5 183.8h.9v.9h-.9zM596.1 195.9h.9v.9h-.9zM585.5 188.8h.9v.9h-.9zM593.3 194.0h.9v.9h-.9zM589.2 175.0h.9v.9h-.9zM591.5 198.9h.9v.9h-.9zM594.1 189.1h.9v.9h-.9zM582.2 173.6h.9v.9h-.9zM597.6 183.0h.9v.9h-.9zM585.7 206.9h.9v.9h-.9zM581.9 187.6h.9v.9h-.9zM589.0 158.9h.9v.9h-.9zM595.9 188.5h.9v.9h-.9zM600.6 206.9h.9v.9h-.9zM597.2 186.1h.9v.9h-.9zM570.1 196.7h.9v.9h-.9zM568.8 198.2h.9v.9h-.9zM589.0 184.3h.9v.9h-.9zM598.3 182.6h.9v.9h-.9zM569.2 197.3h.9v.9h-.9zM599.0 197.0h.9v.9h-.9zM594.5 147.6h.9v.9h-.9zM608.2 206.8h.9v.9h-.9zM590.5 159.1h.9v.9h-.9zM585.1 188.3h.9v.9h-.9zM603.9 139.0h.9v.9h-.9zM586.7 193.9h.9v.9h-.9zM569.5 206.8h.9v.9h-.9zM588.4 184.3h.9v.9h-.9zM587.3 190.5h.9v.9h-.9zM584.7 183.6h.9v.9h-.9zM586.7 194.9h.9v.9h-.9zM593.2 197.3h.9v.9h-.9zM564.2 208.4h.9v.9h-.9zM591.4 190.2h.9v.9h-.9zM570.7 199.9h.9v.9h-.9zM597.3 149.2h.9v.9h-.9zM602.8 180.1h.9v.9h-.9zM577.5 198.3h.9v.9h-.9zM586.5 169.7h.9v.9h-.9zM596.7 189.6h.9v.9h-.9zM569.9 200.7h.9v.9h-.9zM568.5 204.1h.9v.9h-.9zM577.3 202.1h.9v.9h-.9zM597.3 183.9h.9v.9h-.9zM581.8 185.2h.9v.9h-.9zM616.7 171.1h.9v.9h-.9zM579.7 194.3h.9v.9h-.9zM592.9 182.1h.9v.9h-.9zM582.7 193.6h.9v.9h-.9zM594.8 186.3h.9v.9h-.9zM596.4 164.4h.9v.9h-.9zM587.6 203.3h.9v.9h-.9zM576.0 190.3h.9v.9h-.9zM586.2 201.8h.9v.9h-.9zM574.4 205.2h.9v.9h-.9zM581.8 178.2h.9v.9h-.9zM575.9 205.1h.9v.9h-.9zM579.5 199.3h.9v.9h-.9zM601.7 130.3h.9v.9h-.9zM597.0 200.6h.9v.9h-.9zM601.0 181.2h.9v.9h-.9zM595.8 165.7h.9v.9h-.9zM601.5 174.0h.9v.9h-.9zM573.5 184.1h.9v.9h-.9zM568.5 195.5h.9v.9h-.9zM579.3 194.2h.9v.9h-.9zM571.0 202.0h.9v.9h-.9zM597.8 202.7h.9v.9h-.9zM576.3 208.3h.9v.9h-.9zM583.2 206.3h.9v.9h-.9zM585.2 204.7h.9v.9h-.9zM586.9 208.3h.9v.9h-.9zM580.2 184.4h.9v.9h-.9zM582.1 198.7h.9v.9h-.9zM581.3 199.4h.9v.9h-.9zM567.5 198.8h.9v.9h-.9zM591.6 179.2h.9v.9h-.9zM594.3 195.9h.9v.9h-.9zM577.5 169.3h.9v.9h-.9zM565.0 207.7h.9v.9h-.9zM593.8 193.6h.9v.9h-.9zM581.1 193.5h.9v.9h-.9zM599.2 198.2h.9v.9h-.9zM584.0 207.0h.9v.9h-.9zM582.9 207.1h.9v.9h-.9zM580.0 175.0h.9v.9h-.9zM576.2 203.9h.9v.9h-.9zM590.0 152.1h.9v.9h-.9zM590.1 193.5h.9v.9h-.9zM570.2 200.9h.9v.9h-.9zM577.7 207.6h.9v.9h-.9zM564.8 207.8h.9v.9h-.9zM591.4 202.6h.9v.9h-.9zM590.6 193.9h.9v.9h-.9zM588.9 188.3h.9v.9h-.9zM607.0 187.2h.9v.9h-.9zM589.0 203.1h.9v.9h-.9zM595.3 204.7h.9v.9h-.9zM601.6 187.8h.9v.9h-.9zM594.9 194.8h.9v.9h-.9zM564.1 208.4h.9v.9h-.9zM589.5 196.9h.9v.9h-.9zM599.3 158.4h.9v.9h-.9zM597.7 156.6h.9v.9h-.9zM601.2 200.9h.9v.9h-.9zM598.2 182.0h.9v.9h-.9zM593.0 206.0h.9v.9h-.9zM568.3 204.6h.9v.9h-.9zM573.7 207.5h.9v.9h-.9zM602.8 175.6h.9v.9h-.9zM586.2 150.1h.9v.9h-.9zM567.1 206.6h.9v.9h-.9zM592.1 191.0h.9v.9h-.9zM589.6 205.5h.9v.9h-.9zM589.1 180.9h.9v.9h-.9zM578.1 205.8h.9v.9h-.9zM588.1 204.3h.9v.9h-.9zM594.7 184.2h.9v.9h-.9zM569.1 207.6h.9v.9h-.9zM581.0 207.9h.9v.9h-.9zM606.9 183.7h.9v.9h-.9zM605.6 200.4h.9v.9h-.9zM565.7 205.1h.9v.9h-.9zM572.4 201.9h.9v.9h-.9zM607.5 157.9h.9v.9h-.9zM584.0 176.2h.9v.9h-.9zM580.8 203.9h.9v.9h-.9zM581.1 193.7h.9v.9h-.9zM581.5 184.4h.9v.9h-.9zM590.6 170.9h.9v.9h-.9zM580.5 191.9h.9v.9h-.9zM585.0 202.0h.9v.9h-.9zM581.3 201.8h.9v.9h-.9zM589.3 178.6h.9v.9h-.9zM598.1 173.3h.9v.9h-.9zM570.7 203.5h.9v.9h-.9zM612.7 189.0h.9v.9h-.9zM602.6 176.9h.9v.9h-.9zM583.5 192.3h.9v.9h-.9zM602.6 153.9h.9v.9h-.9zM590.1 192.0h.9v.9h-.9zM584.5 203.2h.9v.9h-.9zM593.7 110.8h.9v.9h-.9zM580.6 196.2h.9v.9h-.9zM597.8 174.0h.9v.9h-.9zM572.3 202.1h.9v.9h-.9zM576.1 197.4h.9v.9h-.9zM607.8 205.5h.9v.9h-.9zM602.7 140.4h.9v.9h-.9zM567.8 203.9h.9v.9h-.9zM569.5 203.7h.9v.9h-.9zM600.3 177.0h.9v.9h-.9zM590.3 196.1h.9v.9h-.9zM573.3 201.7h.9v.9h-.9zM580.3 190.2h.9v.9h-.9zM583.2 194.4h.9v.9h-.9zM574.3 200.7h.9v.9h-.9zM582.2 200.4h.9v.9h-.9zM574.2 200.0h.9v.9h-.9zM591.2 170.0h.9v.9h-.9zM599.4 197.5h.9v.9h-.9zM579.0 182.4h.9v.9h-.9zM609.4 105.8h.9v.9h-.9zM571.9 206.3h.9v.9h-.9zM591.8 185.7h.9v.9h-.9zM592.9 182.4h.9v.9h-.9zM566.2 206.5h.9v.9h-.9zM619.3 159.8h.9v.9h-.9zM595.7 198.2h.9v.9h-.9zM586.4 186.8h.9v.9h-.9zM591.5 192.3h.9v.9h-.9zM565.5 207.8h.9v.9h-.9zM618.2 109.1h.9v.9h-.9zM590.1 182.3h.9v.9h-.9zM589.9 176.5h.9v.9h-.9zM585.0 197.6h.9v.9h-.9zM580.5 155.6h.9v.9h-.9zM581.8 207.4h.9v.9h-.9zM595.6 174.8h.9v.9h-.9zM578.9 206.6h.9v.9h-.9zM580.8 201.9h.9v.9h-.9zM571.8 205.7h.9v.9h-.9zM582.4 200.5h.9v.9h-.9zM565.5 204.1h.9v.9h-.9zM582.9 204.8h.9v.9h-.9zM570.5 198.4h.9v.9h-.9zM583.0 182.7h.9v.9h-.9zM582.0 190.3h.9v.9h-.9zM573.1 206.6h.9v.9h-.9zM573.1 196.5h.9v.9h-.9zM583.3 169.9h.9v.9h-.9zM593.8 193.9h.9v.9h-.9zM608.1 79.5h.9v.9h-.9zM569.8 196.1h.9v.9h-.9zM609.2 207.8h.9v.9h-.9zM591.1 180.0h.9v.9h-.9zM620.0 182.4h.9v.9h-.9zM576.9 192.6h.9v.9h-.9zM586.5 157.3h.9v.9h-.9zM586.5 184.9h.9v.9h-.9zM581.6 204.4h.9v.9h-.9zM583.1 167.8h.9v.9h-.9zM595.5 173.7h.9v.9h-.9zM584.8 169.3h.9v.9h-.9zM569.5 207.7h.9v.9h-.9zM590.2 177.7h.9v.9h-.9zM592.8 205.1h.9v.9h-.9zM603.4 179.6h.9v.9h-.9zM578.3 191.4h.9v.9h-.9zM589.4 198.6h.9v.9h-.9zM600.6 144.5h.9v.9h-.9zM584.4 194.7h.9v.9h-.9zM585.4 175.1h.9v.9h-.9zM592.8 183.5h.9v.9h-.9zM585.8 200.5h.9v.9h-.9zM572.1 198.9h.9v.9h-.9zM574.3 199.4h.9v.9h-.9zM591.5 208.0h.9v.9h-.9zM594.3 194.1h.9v.9h-.9zM600.3 162.9h.9v.9h-.9zM586.9 162.5h.9v.9h-.9zM601.8 187.3h.9v.9h-.9zM596.2 171.2h.9v.9h-.9zM592.8 206.0h.9v.9h-.9zM601.4 161.6h.9v.9h-.9zM596.4 178.7h.9v.9h-.9zM572.1 201.0h.9v.9h-.9zM592.6 201.1h.9v.9h-.9zM593.5 206.4h.9v.9h-.9zM587.8 185.3h.9v.9h-.9zM595.3 171.4h.9v.9h-.9zM602.2 181.7h.9v.9h-.9zM568.2 203.5h.9v.9h-.9zM570.5 201.3h.9v.9h-.9zM568.1 208.3h.9v.9h-.9zM572.0 205.8h.9v.9h-.9zM595.0 193.0h.9v.9h-.9zM600.0 188.6h.9v.9h-.9zM596.7 176.3h.9v.9h-.9zM571.8 199.9h.9v.9h-.9zM602.3 204.4h.9v.9h-.9zM600.8 146.9h.9v.9h-.9zM577.0 191.7h.9v.9h-.9zM597.5 163.3h.9v.9h-.9zM598.3 140.2h.9v.9h-.9zM604.6 206.8h.9v.9h-.9zM598.5 207.0h.9v.9h-.9zM581.4 197.9h.9v.9h-.9zM594.7 203.6h.9v.9h-.9zM584.5 202.5h.9v.9h-.9zM583.4 166.6h.9v.9h-.9zM566.8 204.6h.9v.9h-.9zM600.0 196.7h.9v.9h-.9zM617.2 192.3h.9v.9h-.9zM595.5 194.4h.9v.9h-.9zM596.0 203.6h.9v.9h-.9zM566.7 207.7h.9v.9h-.9zM568.2 207.3h.9v.9h-.9zM593.9 156.0h.9v.9h-.9zM577.3 191.0h.9v.9h-.9zM572.3 205.2h.9v.9h-.9zM592.7 197.9h.9v.9h-.9zM581.3 204.6h.9v.9h-.9zM585.3 183.3h.9v.9h-.9zM593.1 184.8h.9v.9h-.9zM579.1 206.0h.9v.9h-.9zM586.0 191.8h.9v.9h-.9zM589.3 169.9h.9v.9h-.9zM564.7 207.5h.9v.9h-.9zM590.6 199.8h.9v.9h-.9zM578.3 204.4h.9v.9h-.9zM597.3 185.8h.9v.9h-.9zM577.6 187.7h.9v.9h-.9zM594.8 207.4h.9v.9h-.9zM581.1 174.1h.9v.9h-.9zM581.1 205.6h.9v.9h-.9zM610.0 193.5h.9v.9h-.9zM582.1 197.3h.9v.9h-.9zM594.2 204.1h.9v.9h-.9zM570.3 205.1h.9v.9h-.9zM593.5 166.2h.9v.9h-.9zM596.8 168.4h.9v.9h-.9zM591.0 202.2h.9v.9h-.9zM579.5 192.3h.9v.9h-.9zM573.2 203.3h.9v.9h-.9zM589.8 192.4h.9v.9h-.9zM566.1 204.4h.9v.9h-.9zM610.8 174.1h.9v.9h-.9zM596.4 195.9h.9v.9h-.9zM595.1 185.0h.9v.9h-.9zM598.0 170.3h.9v.9h-.9zM576.8 201.5h.9v.9h-.9zM597.7 185.5h.9v.9h-.9zM599.8 176.4h.9v.9h-.9zM599.4 196.9h.9v.9h-.9zM571.8 173.5h.9v.9h-.9zM569.6 194.8h.9v.9h-.9zM590.1 207.4h.9v.9h-.9zM590.3 208.2h.9v.9h-.9zM567.2 205.2h.9v.9h-.9zM603.9 180.6h.9v.9h-.9zM578.0 205.7h.9v.9h-.9zM594.1 167.2h.9v.9h-.9zM591.7 201.3h.9v.9h-.9zM583.0 201.9h.9v.9h-.9zM609.5 152.1h.9v.9h-.9zM595.8 191.3h.9v.9h-.9zM580.7 205.2h.9v.9h-.9zM615.5 132.9h.9v.9h-.9zM584.2 164.8h.9v.9h-.9zM585.9 200.0h.9v.9h-.9zM585.5 182.5h.9v.9h-.9zM608.2 200.4h.9v.9h-.9zM566.9 202.9h.9v.9h-.9zM584.0 183.9h.9v.9h-.9zM570.3 194.7h.9v.9h-.9zM581.3 206.0h.9v.9h-.9zM603.2 194.4h.9v.9h-.9zM602.9 206.3h.9v.9h-.9zM584.0 203.6h.9v.9h-.9zM574.9 204.8h.9v.9h-.9zM582.6 195.2h.9v.9h-.9zM585.8 176.0h.9v.9h-.9zM591.0 174.6h.9v.9h-.9zM607.3 176.6h.9v.9h-.9zM588.1 170.6h.9v.9h-.9zM605.3 190.8h.9v.9h-.9zM592.6 203.0h.9v.9h-.9zM588.7 189.6h.9v.9h-.9zM589.0 166.9h.9v.9h-.9zM565.2 207.8h.9v.9h-.9zM602.4 162.3h.9v.9h-.9zM586.0 198.3h.9v.9h-.9zM596.0 150.3h.9v.9h-.9zM599.6 169.4h.9v.9h-.9zM591.7 198.6h.9v.9h-.9zM582.2 196.1h.9v.9h-.9zM589.7 192.9h.9v.9h-.9zM583.6 179.5h.9v.9h-.9zM576.1 205.0h.9v.9h-.9zM609.9 152.4h.9v.9h-.9zM570.2 199.0h.9v.9h-.9zM609.5 191.9h.9v.9h-.9zM575.7 202.5h.9v.9h-.9zM604.8 116.3h.9v.9h-.9zM578.7 199.4h.9v.9h-.9zM579.6 193.2h.9v.9h-.9zM568.5 201.6h.9v.9h-.9zM594.9 154.5h.9v.9h-.9zM582.8 183.4h.9v.9h-.9zM594.8 193.4h.9v.9h-.9zM576.8 194.2h.9v.9h-.9zM613.9 183.5h.9v.9h-.9zM590.4 166.5h.9v.9h-.9zM580.0 199.1h.9v.9h-.9zM574.3 207.1h.9v.9h-.9zM586.6 159.5h.9v.9h-.9zM581.8 189.4h.9v.9h-.9zM590.4 205.5h.9v.9h-.9zM603.6 176.3h.9v.9h-.9zM575.3 194.1h.9v.9h-.9zM569.8 204.9h.9v.9h-.9zM570.6 204.5h.9v.9h-.9zM615.0 157.3h.9v.9h-.9zM568.4 204.9h.9v.9h-.9zM593.2 208.4h.9v.9h-.9zM618.5 193.6h.9v.9h-.9zM602.5 152.6h.9v.9h-.9zM597.0 205.6h.9v.9h-.9zM587.9 184.9h.9v.9h-.9zM572.3 198.3h.9v.9h-.9zM589.1 166.9h.9v.9h-.9zM574.9 201.4h.9v.9h-.9zM603.8 166.5h.9v.9h-.9zM617.2 208.2h.9v.9h-.9zM585.0 196.2h.9v.9h-.9zM572.4 197.8h.9v.9h-.9zM597.8 208.2h.9v.9h-.9zM577.1 191.2h.9v.9h-.9zM578.3 187.0h.9v.9h-.9zM582.6 196.6h.9v.9h-.9zM577.8 202.6h.9v.9h-.9zM609.9 134.3h.9v.9h-.9zM570.2 204.8h.9v.9h-.9zM566.7 208.1h.9v.9h-.9zM592.0 187.5h.9v.9h-.9zM585.8 201.5h.9v.9h-.9zM578.1 207.3h.9v.9h-.9zM585.9 198.0h.9v.9h-.9zM580.5 199.8h.9v.9h-.9zM589.4 180.6h.9v.9h-.9zM573.5 186.1h.9v.9h-.9zM572.6 198.5h.9v.9h-.9zM602.2 155.5h.9v.9h-.9zM566.5 205.6h.9v.9h-.9zM571.8 206.0h.9v.9h-.9zM577.3 192.3h.9v.9h-.9zM614.1 151.1h.9v.9h-.9zM564.3 208.3h.9v.9h-.9zM579.6 205.6h.9v.9h-.9zM587.8 173.5h.9v.9h-.9zM565.6 205.5h.9v.9h-.9zM612.3 185.9h.9v.9h-.9zM580.4 193.8h.9v.9h-.9zM582.9 202.9h.9v.9h-.9zM582.4 198.5h.9v.9h-.9zM582.6 192.1h.9v.9h-.9zM587.9 193.0h.9v.9h-.9zM584.5 189.7h.9v.9h-.9zM600.8 178.7h.9v.9h-.9zM582.1 200.1h.9v.9h-.9zM573.1 197.4h.9v.9h-.9zM602.6 182.0h.9v.9h-.9zM591.6 206.5h.9v.9h-.9zM612.8 173.6h.9v.9h-.9zM578.4 176.4h.9v.9h-.9zM598.5 168.5h.9v.9h-.9zM581.8 187.3h.9v.9h-.9zM581.3 184.2h.9v.9h-.9zM600.4 199.0h.9v.9h-.9zM597.6 197.2h.9v.9h-.9zM587.8 185.0h.9v.9h-.9zM584.8 157.1h.9v.9h-.9zM569.7 203.7h.9v.9h-.9zM596.4 196.2h.9v.9h-.9zM593.4 204.7h.9v.9h-.9zM583.6 208.0h.9v.9h-.9zM583.4 191.6h.9v.9h-.9zM591.7 174.2h.9v.9h-.9zM585.7 195.2h.9v.9h-.9zM595.3 168.4h.9v.9h-.9zM564.8 207.4h.9v.9h-.9zM595.1 181.1h.9v.9h-.9zM584.7 190.5h.9v.9h-.9zM599.6 196.3h.9v.9h-.9zM594.4 190.4h.9v.9h-.9zM582.9 208.1h.9v.9h-.9zM574.0 194.3h.9v.9h-.9zM565.6 206.0h.9v.9h-.9zM596.3 163.2h.9v.9h-.9zM587.5 204.8h.9v.9h-.9zM617.4 195.5h.9v.9h-.9zM593.9 206.1h.9v.9h-.9zM608.2 182.2h.9v.9h-.9zM566.6 206.2h.9v.9h-.9zM586.6 207.3h.9v.9h-.9zM601.2 190.9h.9v.9h-.9zM599.0 172.2h.9v.9h-.9zM568.4 201.9h.9v.9h-.9zM585.5 197.1h.9v.9h-.9zM588.8 153.6h.9v.9h-.9zM571.5 204.2h.9v.9h-.9zM601.2 147.8h.9v.9h-.9zM585.7 189.2h.9v.9h-.9zM587.6 171.6h.9v.9h-.9zM587.4 167.1h.9v.9h-.9zM574.5 196.7h.9v.9h-.9zM582.6 178.5h.9v.9h-.9zM576.2 204.0h.9v.9h-.9zM604.4 142.5h.9v.9h-.9zM570.9 203.5h.9v.9h-.9zM593.6 125.8h.9v.9h-.9zM586.9 202.6h.9v.9h-.9zM590.6 183.0h.9v.9h-.9zM597.2 167.6h.9v.9h-.9zM584.2 198.9h.9v.9h-.9zM584.2 188.5h.9v.9h-.9zM602.9 190.2h.9v.9h-.9zM566.1 204.9h.9v.9h-.9zM583.0 188.4h.9v.9h-.9zM585.1 192.3h.9v.9h-.9zM578.2 203.4h.9v.9h-.9zM588.3 195.7h.9v.9h-.9zM600.6 159.9h.9v.9h-.9zM585.3 191.2h.9v.9h-.9zM604.5 168.0h.9v.9h-.9zM577.1 203.5h.9v.9h-.9zM603.5 190.8h.9v.9h-.9zM570.8 197.5h.9v.9h-.9zM584.8 181.8h.9v.9h-.9zM583.8 182.3h.9v.9h-.9zM580.1 206.9h.9v.9h-.9zM600.0 165.1h.9v.9h-.9zM591.5 201.2h.9v.9h-.9zM585.3 168.3h.9v.9h-.9zM569.7 206.3h.9v.9h-.9zM602.0 171.6h.9v.9h-.9zM609.7 187.8h.9v.9h-.9zM579.6 193.8h.9v.9h-.9zM569.7 201.1h.9v.9h-.9zM589.2 183.7h.9v.9h-.9zM600.8 197.0h.9v.9h-.9zM598.0 187.7h.9v.9h-.9zM595.3 188.9h.9v.9h-.9zM598.0 153.6h.9v.9h-.9zM581.8 176.0h.9v.9h-.9zM584.0 189.9h.9v.9h-.9zM582.7 199.2h.9v.9h-.9zM574.1 195.0h.9v.9h-.9zM585.2 196.1h.9v.9h-.9zM582.8 207.8h.9v.9h-.9zM594.3 170.3h.9v.9h-.9zM608.4 167.3h.9v.9h-.9zM574.9 193.4h.9v.9h-.9zM596.3 196.0h.9v.9h-.9zM599.9 176.5h.9v.9h-.9zM569.4 202.7h.9v.9h-.9zM594.7 207.4h.9v.9h-.9zM593.0 120.3h.9v.9h-.9zM574.2 204.5h.9v.9h-.9zM574.3 203.2h.9v.9h-.9zM597.6 166.0h.9v.9h-.9zM573.1 202.1h.9v.9h-.9zM598.5 203.4h.9v.9h-.9zM600.1 159.6h.9v.9h-.9zM572.2 183.8h.9v.9h-.9zM565.7 206.7h.9v.9h-.9zM582.2 187.6h.9v.9h-.9zM592.0 188.4h.9v.9h-.9zM587.3 164.9h.9v.9h-.9zM583.7 172.3h.9v.9h-.9zM584.5 197.4h.9v.9h-.9zM617.6 198.7h.9v.9h-.9zM583.9 177.6h.9v.9h-.9zM592.6 185.1h.9v.9h-.9zM586.4 192.3h.9v.9h-.9zM572.5 202.8h.9v.9h-.9zM579.2 202.4h.9v.9h-.9zM589.8 188.5h.9v.9h-.9zM567.0 208.1h.9v.9h-.9zM580.5 193.7h.9v.9h-.9zM596.3 184.2h.9v.9h-.9zM596.3 178.6h.9v.9h-.9zM570.6 207.6h.9v.9h-.9zM599.0 192.6h.9v.9h-.9zM592.8 190.8h.9v.9h-.9zM570.5 205.6h.9v.9h-.9zM567.9 202.7h.9v.9h-.9zM606.3 196.1h.9v.9h-.9zM575.8 202.1h.9v.9h-.9zM618.5 172.3h.9v.9h-.9zM588.3 201.2h.9v.9h-.9zM605.1 181.5h.9v.9h-.9zM616.0 207.2h.9v.9h-.9zM611.8 108.6h.9v.9h-.9zM579.7 187.1h.9v.9h-.9zM570.5 205.8h.9v.9h-.9zM594.5 206.0h.9v.9h-.9zM608.1 180.1h.9v.9h-.9zM595.3 170.3h.9v.9h-.9zM578.9 186.6h.9v.9h-.9zM585.3 166.3h.9v.9h-.9zM588.2 197.4h.9v.9h-.9zM581.6 197.3h.9v.9h-.9zM583.0 202.2h.9v.9h-.9zM616.1 208.3h.9v.9h-.9zM580.0 175.4h.9v.9h-.9zM586.5 202.1h.9v.9h-.9zM571.6 207.8h.9v.9h-.9zM593.9 149.2h.9v.9h-.9zM553.4 177.2h.9v.9h-.9zM609.7 166.0h.9v.9h-.9zM552.1 184.8h.9v.9h-.9zM516.7 151.1h.9v.9h-.9zM664.0 104.0h.9v.9h-.9zM579.2 197.6h.9v.9h-.9zM560.0 184.8h.9v.9h-.9zM596.4 147.1h.9v.9h-.9zM560.1 207.9h.9v.9h-.9zM608.3 208.3h.9v.9h-.9zM591.0 207.3h.9v.9h-.9zM600.2 162.7h.9v.9h-.9zM643.5 207.7h.9v.9h-.9zM577.5 189.2h.9v.9h-.9zM565.0 207.7h.9v.9h-.9zM595.5 198.8h.9v.9h-.9zM673.1 82.8h.9v.9h-.9zM559.5 205.0h.9v.9h-.9zM558.4 204.7h.9v.9h-.9zM652.0 125.7h.9v.9h-.9zM579.4 192.7h.9v.9h-.9zM548.6 184.8h.9v.9h-.9zM529.7 186.2h.9v.9h-.9zM589.4 182.4h.9v.9h-.9zM598.3 196.4h.9v.9h-.9zM593.3 206.2h.9v.9h-.9zM617.9 194.7h.9v.9h-.9zM523.4 156.5h.9v.9h-.9zM674.0 159.2h.9v.9h-.9zM564.9 192.9h.9v.9h-.9zM579.9 193.9h.9v.9h-.9zM538.0 186.2h.9v.9h-.9zM567.4 206.3h.9v.9h-.9zM611.8 125.7h.9v.9h-.9zM594.8 161.4h.9v.9h-.9zM561.8 206.6h.9v.9h-.9zM577.2 196.5h.9v.9h-.9zM596.5 166.8h.9v.9h-.9zM551.4 187.3h.9v.9h-.9zM611.1 119.8h.9v.9h-.9zM531.1 186.0h.9v.9h-.9zM620.7 167.6h.9v.9h-.9zM594.3 206.3h.9v.9h-.9zM554.5 191.3h.9v.9h-.9zM576.1 172.9h.9v.9h-.9zM637.7 150.5h.9v.9h-.9zM591.7 205.7h.9v.9h-.9zM621.1 184.6h.9v.9h-.9zM556.5 206.5h.9v.9h-.9zM621.1 200.0h.9v.9h-.9zM651.6 192.6h.9v.9h-.9zM589.0 208.0h.9v.9h-.9zM597.1 208.4h.9v.9h-.9zM571.4 190.9h.9v.9h-.9zM629.1 144.4h.9v.9h-.9zM608.8 179.9h.9v.9h-.9zM589.5 155.6h.9v.9h-.9zM598.3 190.5h.9v.9h-.9zM541.3 189.5h.9v.9h-.9zM604.0 206.0h.9v.9h-.9zM590.0 205.6h.9v.9h-.9zM666.9 202.7h.9v.9h-.9zM571.7 183.4h.9v.9h-.9zM597.8 174.2h.9v.9h-.9zM625.8 110.9h.9v.9h-.9zM545.0 168.9h.9v.9h-.9zM632.2 204.2h.9v.9h-.9zM554.4 177.9h.9v.9h-.9zM592.9 148.7h.9v.9h-.9zM607.0 159.9h.9v.9h-.9zM556.6 192.9h.9v.9h-.9zM551.9 208.0h.9v.9h-.9zM599.5 179.1h.9v.9h-.9zM623.7 182.8h.9v.9h-.9zM523.8 206.3h.9v.9h-.9zM651.5 189.5h.9v.9h-.9zM545.5 182.9h.9v.9h-.9zM602.5 186.6h.9v.9h-.9zM588.4 206.4h.9v.9h-.9zM603.1 193.1h.9v.9h-.9zM558.6 204.6h.9v.9h-.9zM587.5 204.1h.9v.9h-.9zM517.8 150.5h.9v.9h-.9zM614.5 141.1h.9v.9h-.9zM530.0 208.3h.9v.9h-.9zM649.7 203.5h.9v.9h-.9zM585.6 208.3h.9v.9h-.9zM562.4 207.2h.9v.9h-.9zM567.7 207.3h.9v.9h-.9zM546.0 192.0h.9v.9h-.9zM589.1 172.2h.9v.9h-.9zM564.5 208.4h.9v.9h-.9zM669.7 164.1h.9v.9h-.9zM557.5 182.5h.9v.9h-.9zM528.5 199.9h.9v.9h-.9zM577.1 176.0h.9v.9h-.9zM608.5 126.4h.9v.9h-.9zM611.8 118.0h.9v.9h-.9zM624.8 117.0h.9v.9h-.9zM668.4 207.6h.9v.9h-.9zM536.2 206.9h.9v.9h-.9zM568.1 194.3h.9v.9h-.9zM670.8 193.8h.9v.9h-.9zM607.8 205.8h.9v.9h-.9zM552.5 187.6h.9v.9h-.9zM562.9 200.0h.9v.9h-.9zM559.0 207.7h.9v.9h-.9zM625.8 208.4h.9v.9h-.9zM625.4 197.1h.9v.9h-.9zM574.1 193.0h.9v.9h-.9zM537.2 180.3h.9v.9h-.9zM663.8 201.5h.9v.9h-.9zM662.5 204.7h.9v.9h-.9zM649.2 87.2h.9v.9h-.9zM572.9 206.8h.9v.9h-.9zM521.3 204.2h.9v.9h-.9zM571.6 207.5h.9v.9h-.9zM579.9 205.3h.9v.9h-.9zM643.5 208.3h.9v.9h-.9zM568.6 206.5h.9v.9h-.9zM597.2 155.4h.9v.9h-.9zM524.1 175.6h.9v.9h-.9zM605.4 129.7h.9v.9h-.9zM624.0 115.5h.9v.9h-.9zM586.5 194.5h.9v.9h-.9zM584.2 207.3h.9v.9h-.9zM569.5 190.8h.9v.9h-.9zM609.3 135.3h.9v.9h-.9zM552.3 204.9h.9v.9h-.9zM640.0 108.4h.9v.9h-.9zM572.0 200.0h.9v.9h-.9zM518.1 203.3h.9v.9h-.9zM624.9 187.0h.9v.9h-.9zM545.1 189.8h.9v.9h-.9zM602.4 198.4h.9v.9h-.9zM569.2 207.4h.9v.9h-.9zM566.9 201.7h.9v.9h-.9zM593.2 171.1h.9v.9h-.9zM620.9 175.3h.9v.9h-.9zM560.7 208.2h.9v.9h-.9zM653.0 198.6h.9v.9h-.9zM560.4 188.4h.9v.9h-.9zM559.7 189.6h.9v.9h-.9zM599.0 192.4h.9v.9h-.9zM601.6 186.3h.9v.9h-.9zM556.8 205.4h.9v.9h-.9zM599.4 203.1h.9v.9h-.9zM587.8 158.0h.9v.9h-.9zM570.0 207.1h.9v.9h-.9zM577.1 191.9h.9v.9h-.9zM663.3 179.6h.9v.9h-.9zM539.0 177.5h.9v.9h-.9zM566.0 208.2h.9v.9h-.9zM601.6 191.1h.9v.9h-.9zM569.2 208.4h.9v.9h-.9zM588.7 208.4h.9v.9h-.9zM604.0 160.2h.9v.9h-.9zM663.9 192.3h.9v.9h-.9zM630.0 169.1h.9v.9h-.9zM637.1 154.9h.9v.9h-.9zM555.1 179.1h.9v.9h-.9zM536.9 189.8h.9v.9h-.9zM572.3 207.3h.9v.9h-.9zM539.6 205.4h.9v.9h-.9zM605.8 201.5h.9v.9h-.9zM585.2 204.6h.9v.9h-.9zM588.3 176.7h.9v.9h-.9zM615.0 189.1h.9v.9h-.9zM578.7 206.8h.9v.9h-.9zM583.6 208.4h.9v.9h-.9zM600.3 147.8h.9v.9h-.9zM529.0 175.9h.9v.9h-.9zM570.8 198.9h.9v.9h-.9zM577.1 204.3h.9v.9h-.9zM551.9 190.9h.9v.9h-.9zM541.1 202.8h.9v.9h-.9zM567.2 201.6h.9v.9h-.9zM579.5 197.6h.9v.9h-.9zM595.8 157.6h.9v.9h-.9zM599.2 186.5h.9v.9h-.9zM601.4 144.3h.9v.9h-.9zM531.5 207.0h.9v.9h-.9zM612.9 196.4h.9v.9h-.9zM588.1 207.3h.9v.9h-.9zM610.6 208.0h.9v.9h-.9zM612.8 206.7h.9v.9h-.9zM560.2 205.8h.9v.9h-.9zM601.9 173.1h.9v.9h-.9zM517.0 178.9h.9v.9h-.9zM666.0 166.2h.9v.9h-.9zM531.2 179.2h.9v.9h-.9zM669.1 114.7h.9v.9h-.9zM598.0 206.1h.9v.9h-.9zM610.8 197.1h.9v.9h-.9zM597.2 151.7h.9v.9h-.9zM587.4 199.8h.9v.9h-.9zM553.4 205.2h.9v.9h-.9zM618.6 206.5h.9v.9h-.9zM634.2 186.0h.9v.9h-.9zM585.4 184.5h.9v.9h-.9zM632.1 112.6h.9v.9h-.9zM588.1 177.3h.9v.9h-.9zM631.5 208.0h.9v.9h-.9zM563.0 206.7h.9v.9h-.9zM583.4 204.3h.9v.9h-.9zM567.2 204.7h.9v.9h-.9zM566.5 198.9h.9v.9h-.9zM616.2 196.6h.9v.9h-.9zM636.8 127.8h.9v.9h-.9zM570.4 205.1h.9v.9h-.9zM596.0 166.9h.9v.9h-.9zM639.8 152.3h.9v.9h-.9zM655.7 200.1h.9v.9h-.9zM581.4 207.1h.9v.9h-.9zM587.1 185.1h.9v.9h-.9zM590.5 201.3h.9v.9h-.9zM559.0 198.0h.9v.9h-.9zM589.9 182.3h.9v.9h-.9zM554.9 208.1h.9v.9h-.9zM585.5 200.8h.9v.9h-.9zM527.8 207.4h.9v.9h-.9zM664.9 87.6h.9v.9h-.9zM577.8 207.5h.9v.9h-.9zM608.5 187.1h.9v.9h-.9zM646.8 175.2h.9v.9h-.9zM598.8 153.2h.9v.9h-.9zM537.2 199.1h.9v.9h-.9zM557.8 201.8h.9v.9h-.9zM619.0 162.8h.9v.9h-.9zM529.1 169.8h.9v.9h-.9zM620.8 147.7h.9v.9h-.9zM560.8 204.9h.9v.9h-.9zM586.9 193.8h.9v.9h-.9zM604.3 205.4h.9v.9h-.9zM578.6 196.2h.9v.9h-.9zM669.0 141.4h.9v.9h-.9zM615.9 207.7h.9v.9h-.9zM592.4 161.4h.9v.9h-.9zM531.5 176.9h.9v.9h-.9zM586.0 173.0h.9v.9h-.9zM597.8 208.0h.9v.9h-.9zM548.6 205.1h.9v.9h-.9zM546.0 182.7h.9v.9h-.9zM613.7 205.5h.9v.9h-.9zM649.9 151.8h.9v.9h-.9zM670.0 202.5h.9v.9h-.9zM601.2 205.8h.9v.9h-.9zM567.2 189.8h.9v.9h-.9zM594.2 163.8h.9v.9h-.9zM602.9 166.6h.9v.9h-.9zM575.9 192.2h.9v.9h-.9zM582.2 208.3h.9v.9h-.9zM573.4 208.3h.9v.9h-.9zM592.9 184.5h.9v.9h-.9zM521.4 201.1h.9v.9h-.9zM649.9 148.0h.9v.9h-.9zM586.9 205.1h.9v.9h-.9zM631.1 127.0h.9v.9h-.9zM618.2 149.1h.9v.9h-.9zM638.9 138.2h.9v.9h-.9zM580.6 188.5h.9v.9h-.9zM629.9 163.7h.9v.9h-.9zM531.4 170.2h.9v.9h-.9zM636.6 207.9h.9v.9h-.9zM607.8 163.8h.9v.9h-.9zM599.8 144.3h.9v.9h-.9zM544.5 206.6h.9v.9h-.9zM578.1 185.0h.9v.9h-.9zM596.7 149.1h.9v.9h-.9zM526.7 169.4h.9v.9h-.9zM583.5 174.3h.9v.9h-.9zM590.3 155.5h.9v.9h-.9zM538.6 198.3h.9v.9h-.9zM596.3 201.7h.9v.9h-.9zM560.8 197.2h.9v.9h-.9zM567.7 188.3h.9v.9h-.9zM589.8 206.6h.9v.9h-.9zM593.6 191.2h.9v.9h-.9zM542.2 207.2h.9v.9h-.9zM628.7 207.8h.9v.9h-.9zM592.1 199.2h.9v.9h-.9zM605.3 208.4h.9v.9h-.9zM662.0 191.0h.9v.9h-.9zM559.7 205.8h.9v.9h-.9zM532.9 152.9h.9v.9h-.9zM598.5 195.5h.9v.9h-.9zM577.0 203.3h.9v.9h-.9zM559.0 182.6h.9v.9h-.9zM577.3 187.9h.9v.9h-.9zM647.6 202.8h.9v.9h-.9zM559.3 196.8h.9v.9h-.9zM623.9 207.5h.9v.9h-.9zM672.8 114.6h.9v.9h-.9zM607.5 208.3h.9v.9h-.9zM526.0 180.3h.9v.9h-.9zM536.4 197.4h.9v.9h-.9zM632.4 201.2h.9v.9h-.9zM566.9 208.4h.9v.9h-.9zM610.0 189.9h.9v.9h-.9zM629.1 207.3h.9v.9h-.9zM608.6 207.5h.9v.9h-.9zM599.1 195.5h.9v.9h-.9zM618.5 136.0h.9v.9h-.9zM547.0 177.7h.9v.9h-.9zM604.0 199.3h.9v.9h-.9zM583.0 173.6h.9v.9h-.9zM581.0 163.1h.9v.9h-.9zM622.5 121.2h.9v.9h-.9zM606.7 208.0h.9v.9h-.9zM585.3 195.4h.9v.9h-.9zM595.3 195.1h.9v.9h-.9zM583.9 190.7h.9v.9h-.9zM618.1 134.2h.9v.9h-.9zM533.7 192.6h.9v.9h-.9zM638.5 103.4h.9v.9h-.9zM666.8 208.3h.9v.9h-.9zM569.2 200.3h.9v.9h-.9zM595.9 177.2h.9v.9h-.9zM534.7 204.8h.9v.9h-.9zM541.3 203.4h.9v.9h-.9zM643.4 157.2h.9v.9h-.9zM583.2 187.1h.9v.9h-.9zM569.2 182.7h.9v.9h-.9zM614.9 205.7h.9v.9h-.9zM596.3 184.8h.9v.9h-.9zM578.5 204.1h.9v.9h-.9zM620.0 165.7h.9v.9h-.9zM569.0 193.9h.9v.9h-.9zM542.5 201.3h.9v.9h-.9zM600.4 176.7h.9v.9h-.9zM568.7 202.9h.9v.9h-.9zM558.2 203.2h.9v.9h-.9zM595.5 157.7h.9v.9h-.9zM622.4 187.6h.9v.9h-.9zM579.0 171.8h.9v.9h-.9zM568.7 203.5h.9v.9h-.9zM607.8 133.6h.9v.9h-.9zM536.5 206.8h.9v.9h-.9zM573.8 180.6h.9v.9h-.9zM666.8 203.0h.9v.9h-.9zM567.4 203.7h.9v.9h-.9zM576.8 183.9h.9v.9h-.9zM576.9 191.5h.9v.9h-.9zM591.9 208.2h.9v.9h-.9zM577.6 198.7h.9v.9h-.9zM577.1 176.1h.9v.9h-.9zM624.6 117.6h.9v.9h-.9zM576.0 208.4h.9v.9h-.9zM623.9 155.8h.9v.9h-.9zM562.1 200.4h.9v.9h-.9zM608.2 208.3h.9v.9h-.9zM578.1 186.9h.9v.9h-.9zM540.7 205.7h.9v.9h-.9zM581.3 207.0h.9v.9h-.9zM597.5 192.5h.9v.9h-.9zM556.7 206.5h.9v.9h-.9zM612.3 165.9h.9v.9h-.9zM623.1 128.0h.9v.9h-.9zM551.7 187.1h.9v.9h-.9zM553.6 208.0h.9v.9h-.9zM573.7 208.4h.9v.9h-.9zM555.2 206.7h.9v.9h-.9zM649.0 149.3h.9v.9h-.9zM603.7 183.4h.9v.9h-.9zM631.0 123.8h.9v.9h-.9zM588.8 208.1h.9v.9h-.9zM597.9 178.6h.9v.9h-.9zM527.9 207.2h.9v.9h-.9zM577.7 171.8h.9v.9h-.9zM549.5 201.3h.9v.9h-.9zM552.5 208.2h.9v.9h-.9zM612.8 179.6h.9v.9h-.9zM607.8 166.3h.9v.9h-.9zM650.1 95.4h.9v.9h-.9zM598.8 207.5h.9v.9h-.9zM562.3 207.8h.9v.9h-.9zM571.0 187.3h.9v.9h-.9zM608.3 208.1h.9v.9h-.9zM606.5 206.6h.9v.9h-.9zM615.7 205.9h.9v.9h-.9zM570.2 200.4h.9v.9h-.9zM622.3 201.4h.9v.9h-.9zM643.2 92.8h.9v.9h-.9zM605.1 197.9h.9v.9h-.9zM551.2 188.5h.9v.9h-.9zM576.9 208.2h.9v.9h-.9zM628.8 160.4h.9v.9h-.9zM536.3 208.1h.9v.9h-.9zM590.4 208.3h.9v.9h-.9zM532.9 183.6h.9v.9h-.9zM649.0 199.4h.9v.9h-.9zM575.9 206.8h.9v.9h-.9zM615.9 200.6h.9v.9h-.9zM643.2 67.1h.9v.9h-.9zM583.8 67.1h.9v.9h-.9zM663.2 67.2h.9v.9h-.9zM636.9 67.2h.9v.9h-.9zM606.1 67.1h.9v.9h-.9zM614.6 67.2h.9v.9h-.9zM647.0 67.1h.9v.9h-.9zM599.2 67.2h.9v.9h-.9zM588.6 67.1h.9v.9h-.9zM606.4 67.1h.9v.9h-.9zM649.3 67.1h.9v.9h-.9zM610.8 67.1h.9v.9h-.9zM579.5 67.2h.9v.9h-.9zM663.7 67.2h.9v.9h-.9zM581.7 67.2h.9v.9h-.9zM601.8 67.1h.9v.9h-.9zM652.1 67.1h.9v.9h-.9zM584.3 67.1h.9v.9h-.9zM647.0 67.3h.9v.9h-.9zM632.0 67.2h.9v.9h-.9zM625.7 67.3h.9v.9h-.9zM650.3 67.1h.9v.9h-.9zM611.2 67.2h.9v.9h-.9zM649.5 67.2h.9v.9h-.9zM653.1 67.2h.9v.9h-.9zM581.4 67.2h.9v.9h-.9zM610.0 67.2h.9v.9h-.9zM582.2 67.2h.9v.9h-.9zM651.1 67.3h.9v.9h-.9zM653.9 67.2h.9v.9h-.9zM614.3 67.2h.9v.9h-.9zM658.1 67.3h.9v.9h-.9zM664.7 67.2h.9v.9h-.9zM584.8 67.2h.9v.9h-.9zM588.2 67.1h.9v.9h-.9zM657.1 67.3h.9v.9h-.9zM654.7 67.2h.9v.9h-.9zM605.7 67.3h.9v.9h-.9zM633.9 67.2h.9v.9h-.9zM606.9 67.3h.9v.9h-.9z" fill="#a6a6a6"/>
<line x1="564.10" y1="44.30" x2="564.10" y2="208.40" stroke="#666666" stroke-width="1.7"/>
<circle cx="585.8" cy="109.9" r="2.0" fill="#a80000"/>
<circle cx="628.7" cy="114.6" r="2.0" fill="#a80000"/>
<circle cx="606.6" cy="128.4" r="2.0" fill="#a80000"/>
<circle cx="630.8" cy="131.3" r="2.0" fill="#a80000"/>
<circle cx="629.8" cy="134.8" r="2.0" fill="#a80000"/>
<circle cx="602.7" cy="141.8" r="2.0" fill="#a80000"/>
<circle cx="606.9" cy="139.8" r="2.0" fill="#a80000"/>
<circle cx="611.0" cy="144.0" r="2.0" fill="#a80000"/>
<circle cx="592.4" cy="148.8" r="2.0" fill="#a80000"/>
<circle cx="622.1" cy="153.4" r="2.0" fill="#a80000"/>
<circle cx="632.1" cy="153.4" r="2.0" fill="#a80000"/>
<circle cx="633.9" cy="158.4" r="2.0" fill="#a80000"/>
<circle cx="594.3" cy="156.1" r="2.0" fill="#a80000"/>
<circle cx="603.6" cy="156.4" r="2.0" fill="#a80000"/>
<circle cx="586.5" cy="157.8" r="2.0" fill="#a80000"/>
<circle cx="580.5" cy="161.2" r="2.0" fill="#a80000"/>
<circle cx="588.7" cy="162.5" r="2.0" fill="#a80000"/>
<circle cx="591.3" cy="162.0" r="2.0" fill="#a80000"/>
<circle cx="611.5" cy="161.8" r="2.0" fill="#a80000"/>
<circle cx="621.5" cy="161.2" r="2.0" fill="#a80000"/>
<circle cx="605.4" cy="166.2" r="2.0" fill="#a80000"/>
<circle cx="623.8" cy="165.6" r="2.0" fill="#a80000"/>
<circle cx="623.4" cy="169.1" r="2.0" fill="#a80000"/>
<circle cx="587.5" cy="169.8" r="2.0" fill="#a80000"/>
<circle cx="590.1" cy="168.9" r="2.0" fill="#a80000"/>
<circle cx="595.5" cy="169.7" r="2.0" fill="#a80000"/>
<circle cx="586.9" cy="174.3" r="2.0" fill="#a80000"/>
<circle cx="604.3" cy="175.0" r="2.0" fill="#a80000"/>
<circle cx="599.3" cy="175.7" r="2.0" fill="#a80000"/>
<circle cx="608.1" cy="177.3" r="2.0" fill="#a80000"/>
<circle cx="600.1" cy="177.3" r="2.0" fill="#a80000"/>
<circle cx="586.9" cy="179.4" r="2.0" fill="#a80000"/>
<circle cx="599.8" cy="180.8" r="2.0" fill="#a80000"/>
<circle cx="586.1" cy="182.6" r="2.0" fill="#a80000"/>
<circle cx="590.7" cy="182.1" r="2.0" fill="#a80000"/>
<circle cx="594.9" cy="181.8" r="2.0" fill="#a80000"/>
<circle cx="581.4" cy="183.7" r="2.0" fill="#a80000"/>
<circle cx="591.0" cy="186.4" r="2.0" fill="#a80000"/>
<circle cx="596.5" cy="187.4" r="2.0" fill="#a80000"/>
<circle cx="580.9" cy="189.0" r="2.0" fill="#a80000"/>
<circle cx="592.0" cy="189.3" r="2.0" fill="#a80000"/>
<circle cx="584.0" cy="190.9" r="2.0" fill="#a80000"/>
<circle cx="587.5" cy="190.9" r="2.0" fill="#a80000"/>
<circle cx="588.9" cy="189.5" r="2.0" fill="#a80000"/>
<circle cx="603.3" cy="190.7" r="2.0" fill="#a80000"/>
<circle cx="612.4" cy="193.8" r="2.0" fill="#a80000"/>
<circle cx="578.9" cy="194.1" r="2.0" fill="#a80000"/>
<circle cx="583.5" cy="195.8" r="2.0" fill="#a80000"/>
<circle cx="588.7" cy="196.0" r="2.0" fill="#a80000"/>
<circle cx="593.7" cy="196.7" r="2.0" fill="#a80000"/>
<circle cx="596.9" cy="194.0" r="2.0" fill="#a80000"/>
<circle cx="579.7" cy="199.4" r="2.0" fill="#a80000"/>
<circle cx="582.0" cy="198.7" r="2.0" fill="#a80000"/>
<line x1="512.60" y1="43.80" x2="512.60" y2="67.90" stroke="#000" stroke-width="1.5"/>
<line x1="512.60" y1="75.60" x2="512.60" y2="209.15" stroke="#000" stroke-width="1.5"/>
<line x1="512.00" y1="67.30" x2="515.10" y2="67.30" stroke="#000" stroke-width="1.3"/>
<line x1="512.00" y1="76.20" x2="515.10" y2="76.20" stroke="#000" stroke-width="1.3"/>
<line x1="509.40" y1="44.30" x2="512.60" y2="44.30" stroke="#000" stroke-width="1.2"/>
<text x="508.80" y="47.60" font-size="9.1" font-weight="bold" stroke="#000" stroke-width="0.3" text-anchor="end" fill="#000">160</text>
<line x1="509.40" y1="55.80" x2="512.60" y2="55.80" stroke="#000" stroke-width="1.2"/>
<text x="508.80" y="59.10" font-size="9.1" font-weight="bold" stroke="#000" stroke-width="0.3" text-anchor="end" fill="#000">90</text>
<line x1="509.40" y1="67.30" x2="512.60" y2="67.30" stroke="#000" stroke-width="1.2"/>
<text x="508.80" y="70.60" font-size="9.1" font-weight="bold" stroke="#000" stroke-width="0.3" text-anchor="end" fill="#000">20</text>
<line x1="509.40" y1="208.40" x2="512.60" y2="208.40" stroke="#000" stroke-width="1.2"/>
<text x="508.80" y="211.70" font-size="9.1" font-weight="bold" stroke="#000" stroke-width="0.3" text-anchor="end" fill="#000">0</text>
<line x1="509.40" y1="175.35" x2="512.60" y2="175.35" stroke="#000" stroke-width="1.2"/>
<text x="508.80" y="178.65" font-size="9.1" font-weight="bold" stroke="#000" stroke-width="0.3" text-anchor="end" fill="#000">5</text>
<line x1="509.40" y1="142.30" x2="512.60" y2="142.30" stroke="#000" stroke-width="1.2"/>
<text x="508.80" y="145.60" font-size="9.1" font-weight="bold" stroke="#000" stroke-width="0.3" text-anchor="end" fill="#000">10</text>
<line x1="509.40" y1="109.25" x2="512.60" y2="109.25" stroke="#000" stroke-width="1.2"/>
<text x="508.80" y="112.55" font-size="9.1" font-weight="bold" stroke="#000" stroke-width="0.3" text-anchor="end" fill="#000">15</text>
<line x1="509.40" y1="76.20" x2="512.60" y2="76.20" stroke="#000" stroke-width="1.2"/>
<text x="508.80" y="79.50" font-size="9.1" font-weight="bold" stroke="#000" stroke-width="0.3" text-anchor="end" fill="#000">20</text>
<line x1="511.85" y1="208.40" x2="682.70" y2="208.40" stroke="#000" stroke-width="1.5"/>
<line x1="524.60" y1="208.40" x2="524.60" y2="211.20" stroke="#000" stroke-width="1.2"/>
<text x="523.10" y="221.40" font-size="9.1" font-weight="bold" stroke="#000" stroke-width="0.3" text-anchor="middle" fill="#000">-1</text>
<line x1="564.10" y1="208.40" x2="564.10" y2="211.20" stroke="#000" stroke-width="1.2"/>
<text x="564.10" y="221.40" font-size="9.1" font-weight="bold" stroke="#000" stroke-width="0.3" text-anchor="middle" fill="#000">0</text>
<line x1="603.60" y1="208.40" x2="603.60" y2="211.20" stroke="#000" stroke-width="1.2"/>
<text x="603.60" y="221.40" font-size="9.1" font-weight="bold" stroke="#000" stroke-width="0.3" text-anchor="middle" fill="#000">1</text>
<line x1="643.10" y1="208.40" x2="643.10" y2="211.20" stroke="#000" stroke-width="1.2"/>
<text x="643.10" y="221.40" font-size="9.1" font-weight="bold" stroke="#000" stroke-width="0.3" text-anchor="middle" fill="#000">2</text>
<line x1="682.60" y1="208.40" x2="682.60" y2="211.20" stroke="#000" stroke-width="1.2"/>
<text x="682.60" y="221.40" font-size="9.1" font-weight="bold" stroke="#000" stroke-width="0.3" text-anchor="middle" fill="#000">3</text>
<text x="597.90" y="230.80" font-size="8.95" font-weight="bold" stroke="#000" stroke-width="0.3" text-anchor="middle" fill="#000">Log2FC (10min Ex vs Pre Sed)</text>
<text x="495.20" y="125.85" font-size="8.95" font-weight="bold" stroke="#000" stroke-width="0.3" text-anchor="middle" fill="#000" transform="rotate(-90 495.20 125.85)">-Log10 adj p-value</text>
<text x="472.50" y="259.20" font-size="15.8" font-weight="bold" stroke="#000" stroke-width="0.3" text-anchor="start" fill="#000">D</text>
<text x="588.20" y="274.30" font-size="10.9" font-weight="bold" stroke="#000" stroke-width="0.3" text-anchor="middle" fill="#000">Phosphoregulation of NACA by ARE</text>
<line x1="588.59" y1="283.50" x2="588.59" y2="447.40" stroke="#d0d0d0" stroke-width="0.75"/>
<line x1="617.82" y1="283.50" x2="617.82" y2="447.40" stroke="#d0d0d0" stroke-width="0.75"/>
<line x1="512.60" y1="438.75" x2="682.70" y2="438.75" stroke="#d0d0d0" stroke-width="0.75"/>
<path d="M599.5 447.0h.9v.9h-.9zM598.2 434.8h.9v.9h-.9zM605.0 446.3h.9v.9h-.9zM598.1 434.4h.9v.9h-.9zM594.5 435.3h.9v.9h-.9zM602.9 447.4h.9v.9h-.9zM590.0 446.4h.9v.9h-.9zM613.8 442.9h.9v.9h-.9zM598.0 445.6h.9v.9h-.9zM614.5 433.4h.9v.9h-.9zM601.3 445.1h.9v.9h-.9zM587.2 400.8h.9v.9h-.9zM608.2 446.1h.9v.9h-.9zM609.8 446.3h.9v.9h-.9zM601.8 446.0h.9v.9h-.9zM592.9 439.8h.9v.9h-.9zM599.9 440.0h.9v.9h-.9zM598.4 440.1h.9v.9h-.9zM596.1 432.8h.9v.9h-.9zM598.7 445.2h.9v.9h-.9zM589.6 416.9h.9v.9h-.9zM591.0 444.7h.9v.9h-.9zM611.7 445.4h.9v.9h-.9zM608.7 447.4h.9v.9h-.9zM600.3 443.8h.9v.9h-.9zM590.8 422.2h.9v.9h-.9zM608.4 444.8h.9v.9h-.9zM598.1 437.2h.9v.9h-.9zM613.7 430.0h.9v.9h-.9zM589.5 428.6h.9v.9h-.9zM612.2 444.6h.9v.9h-.9zM610.0 440.3h.9v.9h-.9zM595.0 414.5h.9v.9h-.9zM602.9 447.0h.9v.9h-.9zM604.2 445.6h.9v.9h-.9zM606.3 446.4h.9v.9h-.9zM610.1 441.1h.9v.9h-.9zM614.8 440.6h.9v.9h-.9zM594.1 446.7h.9v.9h-.9zM599.9 434.7h.9v.9h-.9zM597.2 441.6h.9v.9h-.9zM607.6 445.1h.9v.9h-.9zM596.4 446.9h.9v.9h-.9zM598.2 443.4h.9v.9h-.9zM610.1 443.3h.9v.9h-.9zM592.0 436.0h.9v.9h-.9zM601.1 447.4h.9v.9h-.9zM595.9 439.5h.9v.9h-.9zM590.0 430.3h.9v.9h-.9zM602.1 444.9h.9v.9h-.9zM601.3 442.7h.9v.9h-.9zM602.7 447.1h.9v.9h-.9zM603.5 447.3h.9v.9h-.9zM605.4 446.2h.9v.9h-.9zM598.1 446.3h.9v.9h-.9zM599.1 447.3h.9v.9h-.9zM608.0 438.5h.9v.9h-.9zM587.6 442.8h.9v.9h-.9zM601.5 446.2h.9v.9h-.9zM604.1 447.1h.9v.9h-.9zM599.0 443.3h.9v.9h-.9zM613.0 444.6h.9v.9h-.9zM609.2 440.5h.9v.9h-.9zM613.5 440.2h.9v.9h-.9zM588.6 391.5h.9v.9h-.9zM594.5 443.1h.9v.9h-.9zM593.8 427.9h.9v.9h-.9zM594.1 441.3h.9v.9h-.9zM608.9 442.8h.9v.9h-.9zM601.3 444.1h.9v.9h-.9zM603.7 447.1h.9v.9h-.9zM606.4 444.9h.9v.9h-.9zM608.7 439.9h.9v.9h-.9zM605.7 446.5h.9v.9h-.9zM601.1 442.3h.9v.9h-.9zM612.6 446.7h.9v.9h-.9zM594.7 444.1h.9v.9h-.9zM598.1 439.5h.9v.9h-.9zM610.8 447.4h.9v.9h-.9zM590.1 444.2h.9v.9h-.9zM604.5 446.9h.9v.9h-.9zM589.3 400.9h.9v.9h-.9zM612.4 446.1h.9v.9h-.9zM589.1 430.6h.9v.9h-.9zM594.5 423.6h.9v.9h-.9zM611.3 445.2h.9v.9h-.9zM617.9 445.2h.9v.9h-.9zM605.6 447.0h.9v.9h-.9zM597.3 441.6h.9v.9h-.9zM611.0 444.8h.9v.9h-.9zM595.9 446.4h.9v.9h-.9zM600.9 446.2h.9v.9h-.9zM600.2 442.3h.9v.9h-.9zM598.4 443.6h.9v.9h-.9zM597.5 442.4h.9v.9h-.9zM609.6 439.8h.9v.9h-.9zM602.7 447.4h.9v.9h-.9zM614.7 431.8h.9v.9h-.9zM609.4 445.0h.9v.9h-.9zM593.3 445.3h.9v.9h-.9zM606.0 446.4h.9v.9h-.9zM608.8 444.5h.9v.9h-.9zM600.5 439.3h.9v.9h-.9zM602.9 447.2h.9v.9h-.9zM604.1 447.2h.9v.9h-.9zM584.6 406.5h.9v.9h-.9zM584.5 444.4h.9v.9h-.9zM606.6 446.5h.9v.9h-.9zM593.7 446.1h.9v.9h-.9zM593.9 424.4h.9v.9h-.9zM602.3 445.0h.9v.9h-.9zM593.9 399.2h.9v.9h-.9zM605.5 447.1h.9v.9h-.9zM611.8 441.7h.9v.9h-.9zM600.2 447.1h.9v.9h-.9zM615.6 417.9h.9v.9h-.9zM610.0 443.5h.9v.9h-.9zM597.0 431.0h.9v.9h-.9zM602.0 445.3h.9v.9h-.9zM601.5 446.5h.9v.9h-.9zM621.5 434.7h.9v.9h-.9zM615.3 442.3h.9v.9h-.9zM611.0 442.3h.9v.9h-.9zM616.9 444.1h.9v.9h-.9zM593.0 447.0h.9v.9h-.9zM616.2 445.6h.9v.9h-.9zM607.5 442.7h.9v.9h-.9zM615.3 442.5h.9v.9h-.9zM609.5 437.7h.9v.9h-.9zM615.5 445.6h.9v.9h-.9zM607.8 447.4h.9v.9h-.9zM609.4 443.4h.9v.9h-.9zM598.3 438.6h.9v.9h-.9zM584.2 438.6h.9v.9h-.9zM605.6 447.2h.9v.9h-.9zM588.4 428.2h.9v.9h-.9zM585.9 445.3h.9v.9h-.9zM602.5 445.9h.9v.9h-.9zM612.3 439.5h.9v.9h-.9zM583.0 384.4h.9v.9h-.9zM607.1 446.7h.9v.9h-.9zM590.4 409.3h.9v.9h-.9zM604.1 446.9h.9v.9h-.9zM606.4 446.1h.9v.9h-.9zM608.1 445.1h.9v.9h-.9zM593.4 437.9h.9v.9h-.9zM598.6 437.8h.9v.9h-.9zM604.8 446.8h.9v.9h-.9zM584.2 424.6h.9v.9h-.9zM615.7 445.1h.9v.9h-.9zM598.0 445.8h.9v.9h-.9zM607.7 446.8h.9v.9h-.9zM588.8 428.5h.9v.9h-.9zM586.9 407.4h.9v.9h-.9zM614.0 438.3h.9v.9h-.9zM592.8 446.8h.9v.9h-.9zM597.0 411.0h.9v.9h-.9zM609.6 439.6h.9v.9h-.9zM593.6 415.9h.9v.9h-.9zM585.0 447.3h.9v.9h-.9zM614.3 445.0h.9v.9h-.9zM586.6 434.4h.9v.9h-.9zM593.4 421.5h.9v.9h-.9zM616.4 427.4h.9v.9h-.9zM591.8 417.0h.9v.9h-.9zM595.8 438.3h.9v.9h-.9zM602.3 446.0h.9v.9h-.9zM590.1 415.8h.9v.9h-.9zM613.9 444.8h.9v.9h-.9zM614.5 437.7h.9v.9h-.9zM593.1 447.4h.9v.9h-.9zM588.2 421.8h.9v.9h-.9zM604.0 446.5h.9v.9h-.9zM621.5 444.1h.9v.9h-.9zM598.5 442.2h.9v.9h-.9zM597.8 447.0h.9v.9h-.9zM608.7 445.0h.9v.9h-.9zM612.6 447.0h.9v.9h-.9zM600.1 447.4h.9v.9h-.9zM598.0 443.3h.9v.9h-.9zM598.9 447.1h.9v.9h-.9zM587.9 417.0h.9v.9h-.9zM610.8 447.0h.9v.9h-.9zM607.3 447.2h.9v.9h-.9zM608.6 446.5h.9v.9h-.9zM609.2 447.2h.9v.9h-.9zM607.1 446.9h.9v.9h-.9zM600.7 446.8h.9v.9h-.9zM597.7 447.1h.9v.9h-.9zM587.4 411.2h.9v.9h-.9zM614.5 442.6h.9v.9h-.9zM586.2 446.7h.9v.9h-.9zM603.4 447.4h.9v.9h-.9zM621.1 436.6h.9v.9h-.9zM606.8 444.6h.9v.9h-.9zM601.3 444.0h.9v.9h-.9zM611.9 441.6h.9v.9h-.9zM601.5 444.4h.9v.9h-.9zM593.3 430.7h.9v.9h-.9zM601.2 446.2h.9v.9h-.9zM599.6 445.0h.9v.9h-.9zM597.2 436.2h.9v.9h-.9zM600.1 443.9h.9v.9h-.9zM593.1 424.2h.9v.9h-.9zM610.7 437.8h.9v.9h-.9zM599.3 443.1h.9v.9h-.9zM619.6 431.9h.9v.9h-.9zM603.9 447.3h.9v.9h-.9zM593.8 427.4h.9v.9h-.9zM600.6 447.3h.9v.9h-.9zM593.8 445.9h.9v.9h-.9zM593.0 432.7h.9v.9h-.9zM609.7 437.8h.9v.9h-.9zM594.9 441.3h.9v.9h-.9zM602.6 445.7h.9v.9h-.9zM605.9 447.3h.9v.9h-.9zM603.2 447.4h.9v.9h-.9zM602.5 446.2h.9v.9h-.9zM615.0 444.3h.9v.9h-.9zM586.2 428.6h.9v.9h-.9zM594.9 429.3h.9v.9h-.9zM624.6 402.3h.9v.9h-.9zM597.9 446.7h.9v.9h-.9zM584.8 434.3h.9v.9h-.9zM604.3 447.3h.9v.9h-.9zM614.7 433.0h.9v.9h-.9zM608.3 442.5h.9v.9h-.9zM602.6 446.2h.9v.9h-.9zM599.6 438.9h.9v.9h-.9zM587.6 438.9h.9v.9h-.9zM609.8 445.9h.9v.9h-.9zM592.8 443.7h.9v.9h-.9zM614.4 437.5h.9v.9h-.9zM593.1 437.5h.9v.9h-.9zM588.1 444.2h.9v.9h-.9zM591.4 436.9h.9v.9h-.9zM607.9 445.8h.9v.9h-.9zM610.3 442.5h.9v.9h-.9zM605.4 447.1h.9v.9h-.9zM592.7 446.2h.9v.9h-.9zM588.2 444.9h.9v.9h-.9zM613.8 447.4h.9v.9h-.9zM595.3 440.5h.9v.9h-.9zM602.4 446.8h.9v.9h-.9zM604.0 446.8h.9v.9h-.9zM591.3 442.4h.9v.9h-.9zM604.4 446.9h.9v.9h-.9zM599.2 435.4h.9v.9h-.9zM604.5 447.2h.9v.9h-.9zM606.0 445.5h.9v.9h-.9zM600.7 446.4h.9v.9h-.9zM588.3 440.2h.9v.9h-.9zM598.5 437.9h.9v.9h-.9zM610.1 446.9h.9v.9h-.9zM601.2 446.2h.9v.9h-.9zM611.0 436.3h.9v.9h-.9zM596.4 433.2h.9v.9h-.9zM589.9 419.5h.9v.9h-.9zM589.8 425.8h.9v.9h-.9zM593.2 438.7h.9v.9h-.9zM597.7 445.8h.9v.9h-.9zM599.4 439.1h.9v.9h-.9zM610.2 442.0h.9v.9h-.9zM592.7 446.8h.9v.9h-.9zM616.1 444.0h.9v.9h-.9zM592.5 447.4h.9v.9h-.9zM603.0 447.1h.9v.9h-.9zM622.1 406.5h.9v.9h-.9zM620.2 437.7h.9v.9h-.9zM628.9 447.4h.9v.9h-.9zM600.9 446.3h.9v.9h-.9zM598.3 447.2h.9v.9h-.9zM598.6 447.4h.9v.9h-.9zM589.7 428.4h.9v.9h-.9zM589.1 420.7h.9v.9h-.9zM613.4 437.8h.9v.9h-.9zM621.5 443.4h.9v.9h-.9zM587.8 435.0h.9v.9h-.9zM588.7 446.6h.9v.9h-.9zM594.1 444.2h.9v.9h-.9zM594.4 446.6h.9v.9h-.9zM617.2 433.4h.9v.9h-.9zM601.7 447.3h.9v.9h-.9zM595.4 435.0h.9v.9h-.9zM613.3 444.5h.9v.9h-.9zM589.7 426.4h.9v.9h-.9zM590.1 428.8h.9v.9h-.9zM604.9 445.7h.9v.9h-.9zM618.7 433.6h.9v.9h-.9zM591.2 432.1h.9v.9h-.9zM598.8 445.7h.9v.9h-.9zM587.0 436.7h.9v.9h-.9zM595.5 434.5h.9v.9h-.9zM615.9 429.6h.9v.9h-.9zM617.0 422.8h.9v.9h-.9zM607.0 445.1h.9v.9h-.9zM593.2 423.8h.9v.9h-.9zM591.8 428.9h.9v.9h-.9zM611.7 446.2h.9v.9h-.9zM612.9 443.2h.9v.9h-.9zM597.8 444.3h.9v.9h-.9zM610.7 442.7h.9v.9h-.9zM621.4 446.1h.9v.9h-.9zM604.6 446.7h.9v.9h-.9zM609.8 446.6h.9v.9h-.9zM611.9 447.1h.9v.9h-.9zM611.5 438.2h.9v.9h-.9zM601.5 446.7h.9v.9h-.9zM602.1 447.0h.9v.9h-.9zM591.3 446.1h.9v.9h-.9zM614.8 441.0h.9v.9h-.9zM608.8 447.4h.9v.9h-.9zM600.0 442.2h.9v.9h-.9zM596.0 445.6h.9v.9h-.9zM596.5 440.7h.9v.9h-.9zM609.4 443.7h.9v.9h-.9zM588.1 407.6h.9v.9h-.9zM606.0 444.5h.9v.9h-.9zM591.5 443.6h.9v.9h-.9zM606.3 441.6h.9v.9h-.9zM608.2 446.9h.9v.9h-.9zM609.9 441.6h.9v.9h-.9zM595.5 441.1h.9v.9h-.9zM613.9 441.2h.9v.9h-.9zM592.5 431.1h.9v.9h-.9zM598.6 445.7h.9v.9h-.9zM610.8 446.3h.9v.9h-.9zM600.5 445.0h.9v.9h-.9zM586.0 386.6h.9v.9h-.9zM588.5 399.3h.9v.9h-.9zM595.6 442.8h.9v.9h-.9zM595.9 446.6h.9v.9h-.9zM588.8 434.7h.9v.9h-.9zM602.4 444.6h.9v.9h-.9zM606.8 446.5h.9v.9h-.9zM596.5 446.5h.9v.9h-.9zM594.6 447.2h.9v.9h-.9zM611.2 447.2h.9v.9h-.9zM598.5 438.8h.9v.9h-.9zM578.6 439.8h.9v.9h-.9zM589.6 436.8h.9v.9h-.9zM607.3 446.8h.9v.9h-.9zM611.9 446.5h.9v.9h-.9zM595.0 445.3h.9v.9h-.9zM594.7 436.3h.9v.9h-.9zM603.6 446.9h.9v.9h-.9zM595.2 440.0h.9v.9h-.9zM597.0 446.7h.9v.9h-.9zM610.5 444.1h.9v.9h-.9zM597.1 432.5h.9v.9h-.9zM613.8 431.3h.9v.9h-.9zM595.7 443.6h.9v.9h-.9zM589.3 436.1h.9v.9h-.9zM600.6 446.6h.9v.9h-.9zM592.2 435.2h.9v.9h-.9zM593.8 442.5h.9v.9h-.9zM605.1 447.2h.9v.9h-.9zM594.0 441.5h.9v.9h-.9zM594.0 439.3h.9v.9h-.9zM597.3 444.2h.9v.9h-.9zM608.5 444.3h.9v.9h-.9zM613.8 446.6h.9v.9h-.9zM586.7 404.2h.9v.9h-.9zM610.5 443.2h.9v.9h-.9zM588.3 447.4h.9v.9h-.9zM601.5 445.4h.9v.9h-.9zM596.6 433.3h.9v.9h-.9zM619.3 445.2h.9v.9h-.9zM596.5 440.1h.9v.9h-.9zM601.9 447.0h.9v.9h-.9zM616.5 447.0h.9v.9h-.9zM592.2 433.8h.9v.9h-.9zM616.2 446.2h.9v.9h-.9zM603.3 447.3h.9v.9h-.9zM596.4 441.2h.9v.9h-.9zM616.9 447.2h.9v.9h-.9zM613.0 446.9h.9v.9h-.9zM605.1 447.0h.9v.9h-.9zM601.1 446.3h.9v.9h-.9zM598.5 439.6h.9v.9h-.9zM591.6 437.4h.9v.9h-.9zM622.4 446.2h.9v.9h-.9zM616.1 442.9h.9v.9h-.9zM614.5 432.3h.9v.9h-.9zM613.6 443.7h.9v.9h-.9zM600.6 445.9h.9v.9h-.9zM595.0 446.8h.9v.9h-.9zM614.9 445.8h.9v.9h-.9zM611.8 430.8h.9v.9h-.9zM597.4 441.1h.9v.9h-.9zM620.7 429.7h.9v.9h-.9zM595.9 438.4h.9v.9h-.9zM593.4 437.3h.9v.9h-.9zM610.7 446.9h.9v.9h-.9zM602.5 447.2h.9v.9h-.9zM595.5 445.7h.9v.9h-.9zM597.4 438.9h.9v.9h-.9zM583.8 386.7h.9v.9h-.9zM597.1 447.1h.9v.9h-.9zM601.9 447.3h.9v.9h-.9zM595.0 443.4h.9v.9h-.9zM609.5 446.4h.9v.9h-.9zM612.0 441.3h.9v.9h-.9zM592.9 446.5h.9v.9h-.9zM605.2 445.3h.9v.9h-.9zM609.9 442.3h.9v.9h-.9zM597.1 436.8h.9v.9h-.9zM615.7 446.0h.9v.9h-.9zM598.8 444.5h.9v.9h-.9zM594.7 437.7h.9v.9h-.9zM595.9 435.8h.9v.9h-.9zM599.1 441.6h.9v.9h-.9zM590.8 397.2h.9v.9h-.9zM593.9 444.3h.9v.9h-.9zM609.0 446.4h.9v.9h-.9zM595.3 416.8h.9v.9h-.9zM598.8 444.2h.9v.9h-.9zM590.0 440.6h.9v.9h-.9zM611.1 445.5h.9v.9h-.9zM592.9 446.8h.9v.9h-.9zM593.4 431.7h.9v.9h-.9zM593.3 425.5h.9v.9h-.9zM588.4 440.9h.9v.9h-.9zM589.1 438.4h.9v.9h-.9zM594.3 447.3h.9v.9h-.9zM605.8 443.8h.9v.9h-.9zM604.4 445.2h.9v.9h-.9zM599.0 446.8h.9v.9h-.9zM612.6 433.2h.9v.9h-.9zM588.2 421.1h.9v.9h-.9zM606.1 447.3h.9v.9h-.9zM612.0 445.7h.9v.9h-.9zM609.4 445.9h.9v.9h-.9zM612.8 441.1h.9v.9h-.9zM596.8 437.5h.9v.9h-.9zM589.8 403.7h.9v.9h-.9zM618.2 440.5h.9v.9h-.9zM622.2 445.7h.9v.9h-.9zM601.4 445.5h.9v.9h-.9zM603.7 447.0h.9v.9h-.9zM598.7 445.9h.9v.9h-.9zM591.8 430.0h.9v.9h-.9zM623.1 442.5h.9v.9h-.9zM617.3 440.8h.9v.9h-.9zM610.3 442.8h.9v.9h-.9zM585.0 407.5h.9v.9h-.9zM592.0 447.0h.9v.9h-.9zM599.3 441.3h.9v.9h-.9zM606.4 447.1h.9v.9h-.9zM614.0 432.4h.9v.9h-.9zM598.2 437.0h.9v.9h-.9zM592.7 438.0h.9v.9h-.9zM591.8 418.1h.9v.9h-.9zM596.6 442.1h.9v.9h-.9zM608.1 446.9h.9v.9h-.9zM592.3 429.8h.9v.9h-.9zM611.6 442.6h.9v.9h-.9zM610.8 436.6h.9v.9h-.9zM609.6 439.1h.9v.9h-.9zM580.3 437.9h.9v.9h-.9zM599.8 444.5h.9v.9h-.9zM591.4 444.6h.9v.9h-.9zM612.0 444.3h.9v.9h-.9zM595.2 429.8h.9v.9h-.9zM592.0 442.1h.9v.9h-.9zM592.2 445.7h.9v.9h-.9zM595.6 424.2h.9v.9h-.9zM595.4 435.7h.9v.9h-.9zM605.5 445.2h.9v.9h-.9zM597.1 446.1h.9v.9h-.9zM596.4 431.7h.9v.9h-.9zM618.3 435.6h.9v.9h-.9zM594.2 383.1h.9v.9h-.9zM617.2 439.4h.9v.9h-.9zM610.4 445.4h.9v.9h-.9zM595.1 434.7h.9v.9h-.9zM591.3 440.9h.9v.9h-.9zM610.9 435.7h.9v.9h-.9zM594.9 442.8h.9v.9h-.9zM595.2 418.9h.9v.9h-.9zM592.0 446.9h.9v.9h-.9zM609.9 439.3h.9v.9h-.9zM604.1 447.2h.9v.9h-.9zM597.5 439.3h.9v.9h-.9zM595.5 447.2h.9v.9h-.9zM605.3 444.0h.9v.9h-.9zM607.2 444.5h.9v.9h-.9zM596.3 414.4h.9v.9h-.9zM617.8 434.7h.9v.9h-.9zM614.2 446.1h.9v.9h-.9zM599.5 438.2h.9v.9h-.9zM598.2 442.3h.9v.9h-.9zM609.4 445.8h.9v.9h-.9zM593.3 440.5h.9v.9h-.9zM613.7 439.0h.9v.9h-.9zM603.1 447.1h.9v.9h-.9zM591.6 442.6h.9v.9h-.9zM597.4 446.8h.9v.9h-.9zM591.9 446.7h.9v.9h-.9zM607.0 446.5h.9v.9h-.9zM599.2 439.0h.9v.9h-.9zM616.2 439.6h.9v.9h-.9zM598.8 440.9h.9v.9h-.9zM589.2 428.7h.9v.9h-.9zM586.5 441.3h.9v.9h-.9zM609.2 446.3h.9v.9h-.9zM592.0 441.0h.9v.9h-.9zM592.8 441.2h.9v.9h-.9zM596.9 445.5h.9v.9h-.9zM604.1 447.0h.9v.9h-.9zM612.0 440.8h.9v.9h-.9zM585.2 421.0h.9v.9h-.9zM610.1 438.0h.9v.9h-.9zM598.5 429.0h.9v.9h-.9zM612.4 446.8h.9v.9h-.9zM586.0 446.1h.9v.9h-.9zM589.8 415.7h.9v.9h-.9zM595.5 428.6h.9v.9h-.9zM591.8 446.3h.9v.9h-.9zM592.1 444.6h.9v.9h-.9zM611.0 440.9h.9v.9h-.9zM593.8 437.0h.9v.9h-.9zM595.8 439.8h.9v.9h-.9zM590.3 396.7h.9v.9h-.9zM611.7 445.5h.9v.9h-.9zM598.6 439.8h.9v.9h-.9zM594.7 433.3h.9v.9h-.9zM597.0 443.5h.9v.9h-.9zM593.5 429.0h.9v.9h-.9zM593.9 414.2h.9v.9h-.9zM590.1 438.9h.9v.9h-.9zM611.2 443.1h.9v.9h-.9zM606.0 445.5h.9v.9h-.9zM592.6 438.4h.9v.9h-.9zM599.7 446.4h.9v.9h-.9zM611.7 431.5h.9v.9h-.9zM623.6 445.5h.9v.9h-.9zM585.4 436.8h.9v.9h-.9zM599.1 443.8h.9v.9h-.9zM599.9 437.8h.9v.9h-.9zM617.8 444.8h.9v.9h-.9zM589.8 436.1h.9v.9h-.9zM606.6 444.3h.9v.9h-.9zM592.4 444.7h.9v.9h-.9zM609.0 447.3h.9v.9h-.9zM600.5 441.2h.9v.9h-.9zM610.6 444.9h.9v.9h-.9zM611.4 445.8h.9v.9h-.9zM623.1 425.7h.9v.9h-.9zM591.0 441.3h.9v.9h-.9zM591.4 427.9h.9v.9h-.9zM595.7 444.6h.9v.9h-.9zM613.1 441.3h.9v.9h-.9zM593.4 435.3h.9v.9h-.9zM601.9 446.2h.9v.9h-.9zM614.0 428.6h.9v.9h-.9zM595.9 436.5h.9v.9h-.9zM593.7 435.0h.9v.9h-.9zM603.2 447.4h.9v.9h-.9zM618.4 439.1h.9v.9h-.9zM616.7 446.5h.9v.9h-.9zM590.8 425.4h.9v.9h-.9zM592.5 440.8h.9v.9h-.9zM598.8 444.8h.9v.9h-.9zM598.3 437.0h.9v.9h-.9zM605.6 445.6h.9v.9h-.9zM598.7 446.8h.9v.9h-.9zM610.0 444.8h.9v.9h-.9zM609.2 443.6h.9v.9h-.9zM591.3 443.8h.9v.9h-.9zM616.8 434.2h.9v.9h-.9zM599.6 441.8h.9v.9h-.9zM609.7 435.8h.9v.9h-.9zM611.3 433.9h.9v.9h-.9zM621.7 445.6h.9v.9h-.9zM592.5 446.0h.9v.9h-.9zM588.6 393.5h.9v.9h-.9zM616.0 442.8h.9v.9h-.9zM586.9 444.4h.9v.9h-.9zM610.6 438.3h.9v.9h-.9zM594.8 418.6h.9v.9h-.9zM599.7 446.4h.9v.9h-.9zM600.2 445.1h.9v.9h-.9zM617.7 424.4h.9v.9h-.9zM610.3 445.7h.9v.9h-.9zM585.3 427.7h.9v.9h-.9zM598.8 442.7h.9v.9h-.9zM611.3 424.0h.9v.9h-.9zM619.3 402.8h.9v.9h-.9zM607.9 446.4h.9v.9h-.9zM609.6 444.9h.9v.9h-.9zM604.9 445.4h.9v.9h-.9zM608.0 446.0h.9v.9h-.9zM598.6 440.6h.9v.9h-.9zM592.3 436.3h.9v.9h-.9zM600.6 441.4h.9v.9h-.9zM588.8 428.0h.9v.9h-.9zM616.7 420.9h.9v.9h-.9zM614.4 440.2h.9v.9h-.9zM613.9 433.9h.9v.9h-.9zM595.3 446.5h.9v.9h-.9zM608.2 439.4h.9v.9h-.9zM590.2 445.7h.9v.9h-.9zM596.5 443.5h.9v.9h-.9zM611.1 446.3h.9v.9h-.9zM606.0 447.0h.9v.9h-.9zM609.6 444.3h.9v.9h-.9zM594.5 425.3h.9v.9h-.9zM612.9 446.0h.9v.9h-.9zM610.8 441.6h.9v.9h-.9zM619.7 439.8h.9v.9h-.9zM602.7 446.4h.9v.9h-.9zM608.2 442.4h.9v.9h-.9zM599.9 445.2h.9v.9h-.9zM607.3 446.3h.9v.9h-.9zM599.2 446.1h.9v.9h-.9zM586.7 389.5h.9v.9h-.9zM592.6 434.0h.9v.9h-.9zM604.1 446.6h.9v.9h-.9zM596.5 427.9h.9v.9h-.9zM606.0 441.6h.9v.9h-.9zM610.7 444.7h.9v.9h-.9zM599.2 440.8h.9v.9h-.9zM592.2 446.4h.9v.9h-.9zM588.0 439.0h.9v.9h-.9zM593.0 423.2h.9v.9h-.9zM596.2 442.2h.9v.9h-.9zM594.2 445.2h.9v.9h-.9zM613.7 437.8h.9v.9h-.9zM608.8 446.4h.9v.9h-.9zM598.6 447.4h.9v.9h-.9zM598.1 441.1h.9v.9h-.9zM611.1 447.3h.9v.9h-.9zM586.9 433.1h.9v.9h-.9zM593.4 447.3h.9v.9h-.9zM623.0 423.1h.9v.9h-.9zM594.5 440.5h.9v.9h-.9zM607.6 446.8h.9v.9h-.9zM603.8 447.0h.9v.9h-.9zM614.5 425.4h.9v.9h-.9zM603.8 447.4h.9v.9h-.9zM614.9 445.5h.9v.9h-.9zM605.0 444.4h.9v.9h-.9zM599.2 441.5h.9v.9h-.9zM583.9 325.3h.9v.9h-.9zM605.4 446.7h.9v.9h-.9zM597.8 441.9h.9v.9h-.9zM620.9 447.3h.9v.9h-.9zM582.1 439.0h.9v.9h-.9zM594.4 432.2h.9v.9h-.9zM616.7 436.5h.9v.9h-.9zM590.7 439.8h.9v.9h-.9zM594.0 446.4h.9v.9h-.9zM604.4 447.4h.9v.9h-.9zM588.2 438.1h.9v.9h-.9zM613.0 426.6h.9v.9h-.9zM607.6 443.1h.9v.9h-.9zM609.9 443.5h.9v.9h-.9zM611.7 443.2h.9v.9h-.9zM608.7 444.2h.9v.9h-.9zM598.1 440.1h.9v.9h-.9zM584.0 438.2h.9v.9h-.9zM595.0 436.5h.9v.9h-.9zM593.9 435.6h.9v.9h-.9zM587.2 397.8h.9v.9h-.9zM602.8 447.2h.9v.9h-.9zM613.5 430.8h.9v.9h-.9zM592.2 446.4h.9v.9h-.9zM616.0 441.4h.9v.9h-.9zM609.5 442.6h.9v.9h-.9zM618.8 446.9h.9v.9h-.9zM616.7 442.1h.9v.9h-.9zM605.8 447.4h.9v.9h-.9zM593.9 447.0h.9v.9h-.9zM607.4 447.0h.9v.9h-.9zM612.7 445.2h.9v.9h-.9zM614.6 444.8h.9v.9h-.9zM598.6 435.5h.9v.9h-.9zM592.5 446.3h.9v.9h-.9zM608.8 446.4h.9v.9h-.9zM596.0 439.2h.9v.9h-.9zM600.5 443.6h.9v.9h-.9zM585.4 446.1h.9v.9h-.9zM591.1 446.9h.9v.9h-.9zM607.6 445.8h.9v.9h-.9zM610.8 446.5h.9v.9h-.9zM595.7 438.2h.9v.9h-.9zM611.8 441.4h.9v.9h-.9zM608.9 442.4h.9v.9h-.9zM596.8 445.9h.9v.9h-.9zM590.2 417.5h.9v.9h-.9zM605.4 446.9h.9v.9h-.9zM587.5 424.5h.9v.9h-.9zM622.2 446.1h.9v.9h-.9zM597.5 442.2h.9v.9h-.9zM610.2 439.3h.9v.9h-.9zM588.9 441.8h.9v.9h-.9zM605.0 446.5h.9v.9h-.9zM592.6 436.2h.9v.9h-.9zM583.5 384.1h.9v.9h-.9zM592.5 432.5h.9v.9h-.9zM594.5 435.1h.9v.9h-.9zM597.6 432.0h.9v.9h-.9zM595.6 440.4h.9v.9h-.9zM609.1 443.0h.9v.9h-.9zM621.2 395.2h.9v.9h-.9zM601.9 446.0h.9v.9h-.9zM586.7 403.6h.9v.9h-.9zM611.9 446.2h.9v.9h-.9zM596.2 436.0h.9v.9h-.9zM603.2 447.3h.9v.9h-.9zM591.0 427.6h.9v.9h-.9zM617.5 434.6h.9v.9h-.9zM609.2 435.7h.9v.9h-.9zM600.4 444.0h.9v.9h-.9zM586.9 417.5h.9v.9h-.9zM591.6 444.6h.9v.9h-.9zM611.1 440.2h.9v.9h-.9zM605.9 446.7h.9v.9h-.9zM621.8 447.3h.9v.9h-.9zM587.5 419.0h.9v.9h-.9zM596.1 432.5h.9v.9h-.9zM600.3 443.8h.9v.9h-.9zM607.3 446.6h.9v.9h-.9zM600.5 437.7h.9v.9h-.9zM616.7 446.7h.9v.9h-.9zM586.6 419.1h.9v.9h-.9zM602.1 447.0h.9v.9h-.9zM595.9 430.1h.9v.9h-.9zM598.9 447.1h.9v.9h-.9zM592.1 428.5h.9v.9h-.9zM615.6 447.3h.9v.9h-.9zM611.5 440.3h.9v.9h-.9zM598.4 441.4h.9v.9h-.9zM611.4 443.5h.9v.9h-.9zM592.7 438.2h.9v.9h-.9zM614.3 446.4h.9v.9h-.9zM602.3 446.9h.9v.9h-.9zM609.6 443.7h.9v.9h-.9zM607.4 440.2h.9v.9h-.9zM607.2 444.6h.9v.9h-.9zM599.9 446.7h.9v.9h-.9zM589.3 442.9h.9v.9h-.9zM621.3 435.9h.9v.9h-.9zM604.0 446.6h.9v.9h-.9zM591.6 446.5h.9v.9h-.9zM592.3 441.8h.9v.9h-.9zM602.9 447.1h.9v.9h-.9zM605.9 446.9h.9v.9h-.9zM617.6 431.0h.9v.9h-.9zM593.2 445.5h.9v.9h-.9zM615.9 442.2h.9v.9h-.9zM600.2 447.3h.9v.9h-.9zM595.4 443.1h.9v.9h-.9zM611.1 440.5h.9v.9h-.9zM620.0 429.0h.9v.9h-.9zM600.4 441.3h.9v.9h-.9zM591.3 440.8h.9v.9h-.9zM594.6 440.9h.9v.9h-.9zM596.4 419.2h.9v.9h-.9zM591.9 393.8h.9v.9h-.9zM615.4 435.8h.9v.9h-.9zM592.1 434.8h.9v.9h-.9zM611.1 435.0h.9v.9h-.9zM615.4 437.6h.9v.9h-.9zM604.3 447.0h.9v.9h-.9zM615.0 433.8h.9v.9h-.9zM588.7 446.7h.9v.9h-.9zM611.1 446.9h.9v.9h-.9zM591.1 398.8h.9v.9h-.9zM597.4 446.7h.9v.9h-.9zM592.8 447.0h.9v.9h-.9zM584.7 396.8h.9v.9h-.9zM591.6 443.2h.9v.9h-.9zM604.1 446.9h.9v.9h-.9zM595.1 437.7h.9v.9h-.9zM594.9 445.7h.9v.9h-.9zM610.0 446.9h.9v.9h-.9zM593.0 442.4h.9v.9h-.9zM591.1 427.0h.9v.9h-.9zM592.9 438.9h.9v.9h-.9zM599.8 445.5h.9v.9h-.9zM605.5 447.4h.9v.9h-.9zM611.9 433.2h.9v.9h-.9zM608.4 446.9h.9v.9h-.9zM592.9 433.7h.9v.9h-.9zM602.2 446.1h.9v.9h-.9zM593.3 439.4h.9v.9h-.9zM595.5 439.1h.9v.9h-.9zM596.1 440.4h.9v.9h-.9zM603.8 446.9h.9v.9h-.9zM601.2 444.3h.9v.9h-.9zM611.6 444.2h.9v.9h-.9zM597.6 445.6h.9v.9h-.9zM590.7 418.8h.9v.9h-.9zM594.5 435.1h.9v.9h-.9zM618.1 444.6h.9v.9h-.9zM595.9 443.8h.9v.9h-.9zM614.2 443.4h.9v.9h-.9zM598.7 445.8h.9v.9h-.9zM616.6 440.8h.9v.9h-.9zM615.4 442.5h.9v.9h-.9zM607.4 443.5h.9v.9h-.9zM596.0 436.4h.9v.9h-.9zM613.3 446.6h.9v.9h-.9zM598.9 444.3h.9v.9h-.9zM612.8 438.5h.9v.9h-.9zM602.1 447.3h.9v.9h-.9zM613.6 432.3h.9v.9h-.9zM601.3 444.7h.9v.9h-.9zM595.7 442.7h.9v.9h-.9zM611.1 443.8h.9v.9h-.9zM591.9 435.2h.9v.9h-.9zM590.0 444.4h.9v.9h-.9zM585.6 406.1h.9v.9h-.9zM601.3 445.1h.9v.9h-.9zM586.2 444.9h.9v.9h-.9zM599.8 439.5h.9v.9h-.9zM599.6 444.2h.9v.9h-.9zM600.2 440.9h.9v.9h-.9zM603.1 447.4h.9v.9h-.9zM617.9 446.4h.9v.9h-.9zM606.9 444.3h.9v.9h-.9zM623.2 420.1h.9v.9h-.9zM587.7 438.9h.9v.9h-.9zM589.3 434.0h.9v.9h-.9zM590.3 426.6h.9v.9h-.9zM592.0 444.8h.9v.9h-.9zM620.0 443.4h.9v.9h-.9zM596.5 440.2h.9v.9h-.9zM596.4 439.2h.9v.9h-.9zM614.9 433.2h.9v.9h-.9zM603.1 447.4h.9v.9h-.9zM610.9 446.1h.9v.9h-.9zM592.7 444.0h.9v.9h-.9zM591.1 423.0h.9v.9h-.9zM598.6 447.3h.9v.9h-.9zM597.4 442.1h.9v.9h-.9zM598.3 441.1h.9v.9h-.9zM606.2 445.4h.9v.9h-.9zM611.2 443.0h.9v.9h-.9zM613.8 442.9h.9v.9h-.9zM594.7 441.5h.9v.9h-.9zM612.4 447.4h.9v.9h-.9zM583.9 427.9h.9v.9h-.9zM597.9 444.3h.9v.9h-.9zM585.3 447.4h.9v.9h-.9zM597.9 429.1h.9v.9h-.9zM600.0 445.3h.9v.9h-.9zM612.9 444.8h.9v.9h-.9zM597.6 445.9h.9v.9h-.9zM593.4 436.6h.9v.9h-.9zM586.2 436.7h.9v.9h-.9zM613.7 437.0h.9v.9h-.9zM610.1 446.2h.9v.9h-.9zM593.5 446.0h.9v.9h-.9zM614.6 443.5h.9v.9h-.9zM593.6 434.0h.9v.9h-.9zM619.3 439.1h.9v.9h-.9zM612.6 442.0h.9v.9h-.9zM584.0 430.9h.9v.9h-.9zM601.3 442.7h.9v.9h-.9zM593.5 414.8h.9v.9h-.9zM597.2 447.1h.9v.9h-.9zM592.0 439.1h.9v.9h-.9zM616.0 443.0h.9v.9h-.9zM617.3 437.7h.9v.9h-.9zM603.7 447.1h.9v.9h-.9zM597.3 447.1h.9v.9h-.9zM606.3 446.3h.9v.9h-.9zM590.1 402.6h.9v.9h-.9zM593.2 441.0h.9v.9h-.9zM594.4 433.1h.9v.9h-.9zM619.6 398.4h.9v.9h-.9zM594.6 428.0h.9v.9h-.9zM591.9 439.6h.9v.9h-.9zM608.7 446.0h.9v.9h-.9zM598.7 442.0h.9v.9h-.9zM596.2 442.3h.9v.9h-.9zM614.4 432.5h.9v.9h-.9zM592.4 443.6h.9v.9h-.9zM597.3 444.4h.9v.9h-.9zM599.9 436.7h.9v.9h-.9zM597.0 432.0h.9v.9h-.9zM593.4 433.8h.9v.9h-.9zM598.9 429.4h.9v.9h-.9zM588.4 442.5h.9v.9h-.9zM591.0 425.2h.9v.9h-.9zM595.0 447.1h.9v.9h-.9zM599.8 444.1h.9v.9h-.9zM597.4 443.7h.9v.9h-.9zM612.7 447.2h.9v.9h-.9zM599.5 447.4h.9v.9h-.9zM594.2 432.0h.9v.9h-.9zM612.6 445.9h.9v.9h-.9zM620.2 440.6h.9v.9h-.9zM593.2 442.7h.9v.9h-.9zM621.5 441.2h.9v.9h-.9zM598.0 447.2h.9v.9h-.9zM614.3 439.5h.9v.9h-.9zM595.7 438.4h.9v.9h-.9zM594.2 435.4h.9v.9h-.9zM611.9 446.8h.9v.9h-.9zM600.4 444.8h.9v.9h-.9zM612.5 437.7h.9v.9h-.9zM613.1 447.2h.9v.9h-.9zM614.9 445.4h.9v.9h-.9zM608.7 447.4h.9v.9h-.9zM613.3 446.8h.9v.9h-.9zM612.9 441.0h.9v.9h-.9zM586.9 416.5h.9v.9h-.9zM588.1 411.2h.9v.9h-.9zM615.1 440.1h.9v.9h-.9zM612.7 444.3h.9v.9h-.9zM608.1 445.4h.9v.9h-.9zM602.9 446.7h.9v.9h-.9zM594.0 444.0h.9v.9h-.9zM597.7 443.5h.9v.9h-.9zM602.4 446.8h.9v.9h-.9zM591.5 412.1h.9v.9h-.9zM590.3 417.5h.9v.9h-.9zM601.4 443.6h.9v.9h-.9zM612.0 445.1h.9v.9h-.9zM619.9 446.0h.9v.9h-.9zM590.3 445.2h.9v.9h-.9zM590.6 442.4h.9v.9h-.9zM591.7 436.9h.9v.9h-.9zM612.6 443.3h.9v.9h-.9zM595.8 433.7h.9v.9h-.9zM589.4 433.6h.9v.9h-.9zM600.0 446.9h.9v.9h-.9zM593.9 426.5h.9v.9h-.9zM589.3 425.5h.9v.9h-.9zM592.4 441.2h.9v.9h-.9zM602.9 446.8h.9v.9h-.9zM591.1 447.4h.9v.9h-.9zM595.0 441.8h.9v.9h-.9zM608.9 444.3h.9v.9h-.9zM584.7 436.5h.9v.9h-.9zM595.4 435.8h.9v.9h-.9zM594.4 407.6h.9v.9h-.9zM611.9 445.8h.9v.9h-.9zM606.5 443.6h.9v.9h-.9zM609.8 444.3h.9v.9h-.9zM592.2 416.6h.9v.9h-.9zM607.0 444.6h.9v.9h-.9zM606.6 446.0h.9v.9h-.9zM600.6 445.5h.9v.9h-.9zM609.8 445.4h.9v.9h-.9zM586.3 431.4h.9v.9h-.9zM598.7 440.7h.9v.9h-.9zM593.4 403.3h.9v.9h-.9zM589.4 412.1h.9v.9h-.9zM596.9 441.1h.9v.9h-.9zM614.3 438.0h.9v.9h-.9zM609.4 438.6h.9v.9h-.9zM599.6 445.0h.9v.9h-.9zM606.0 447.2h.9v.9h-.9zM593.5 439.5h.9v.9h-.9zM600.1 447.0h.9v.9h-.9zM595.4 443.6h.9v.9h-.9zM623.4 440.8h.9v.9h-.9zM588.7 417.9h.9v.9h-.9zM594.4 446.6h.9v.9h-.9zM594.9 445.0h.9v.9h-.9zM590.1 435.0h.9v.9h-.9zM598.5 444.5h.9v.9h-.9zM587.0 433.2h.9v.9h-.9zM596.7 430.4h.9v.9h-.9zM595.8 431.5h.9v.9h-.9zM596.5 444.6h.9v.9h-.9zM589.8 440.4h.9v.9h-.9zM618.2 437.0h.9v.9h-.9zM608.5 447.3h.9v.9h-.9zM586.9 444.9h.9v.9h-.9zM593.4 435.2h.9v.9h-.9zM588.7 447.3h.9v.9h-.9zM598.3 445.0h.9v.9h-.9zM598.6 444.0h.9v.9h-.9zM620.7 443.0h.9v.9h-.9zM595.5 446.9h.9v.9h-.9zM615.6 442.3h.9v.9h-.9zM592.2 445.3h.9v.9h-.9zM594.7 427.2h.9v.9h-.9zM604.5 444.9h.9v.9h-.9zM612.2 436.7h.9v.9h-.9zM590.5 439.8h.9v.9h-.9zM607.1 446.0h.9v.9h-.9zM593.2 443.6h.9v.9h-.9zM611.6 441.2h.9v.9h-.9zM608.7 446.4h.9v.9h-.9zM599.2 447.4h.9v.9h-.9zM593.4 439.5h.9v.9h-.9zM598.9 447.3h.9v.9h-.9zM607.2 445.9h.9v.9h-.9zM587.8 440.2h.9v.9h-.9zM600.1 446.7h.9v.9h-.9zM592.5 419.4h.9v.9h-.9zM598.8 447.4h.9v.9h-.9zM607.1 442.0h.9v.9h-.9zM592.5 433.8h.9v.9h-.9zM589.8 423.2h.9v.9h-.9zM614.9 428.6h.9v.9h-.9zM589.0 418.9h.9v.9h-.9zM594.0 447.3h.9v.9h-.9zM610.9 435.6h.9v.9h-.9zM615.6 447.0h.9v.9h-.9zM611.9 440.6h.9v.9h-.9zM591.6 444.1h.9v.9h-.9zM590.8 445.4h.9v.9h-.9zM599.8 434.4h.9v.9h-.9zM615.2 435.4h.9v.9h-.9zM612.8 431.4h.9v.9h-.9zM599.3 444.8h.9v.9h-.9zM593.8 438.9h.9v.9h-.9zM605.5 445.3h.9v.9h-.9zM597.3 436.2h.9v.9h-.9zM608.6 447.3h.9v.9h-.9zM612.4 447.4h.9v.9h-.9zM586.9 426.0h.9v.9h-.9zM599.7 432.8h.9v.9h-.9zM614.5 441.1h.9v.9h-.9zM598.6 440.1h.9v.9h-.9zM600.9 447.4h.9v.9h-.9zM590.8 441.7h.9v.9h-.9zM614.5 442.5h.9v.9h-.9zM609.5 441.1h.9v.9h-.9zM604.8 446.9h.9v.9h-.9zM599.1 436.6h.9v.9h-.9zM592.7 447.2h.9v.9h-.9zM601.3 445.8h.9v.9h-.9zM589.8 430.9h.9v.9h-.9zM591.4 419.2h.9v.9h-.9zM608.4 442.1h.9v.9h-.9zM616.5 438.8h.9v.9h-.9zM593.4 446.7h.9v.9h-.9zM594.7 432.5h.9v.9h-.9zM595.4 438.6h.9v.9h-.9zM616.7 425.1h.9v.9h-.9zM609.8 443.2h.9v.9h-.9zM599.5 441.8h.9v.9h-.9zM587.4 413.9h.9v.9h-.9zM591.5 442.2h.9v.9h-.9zM591.9 444.8h.9v.9h-.9zM591.6 440.0h.9v.9h-.9zM591.3 443.0h.9v.9h-.9zM606.1 444.2h.9v.9h-.9zM588.2 442.9h.9v.9h-.9zM611.4 443.2h.9v.9h-.9zM605.7 443.7h.9v.9h-.9zM604.2 447.4h.9v.9h-.9zM620.3 446.7h.9v.9h-.9zM614.7 446.4h.9v.9h-.9zM612.4 441.3h.9v.9h-.9zM598.6 440.2h.9v.9h-.9zM614.3 444.1h.9v.9h-.9zM611.6 447.0h.9v.9h-.9zM591.1 441.1h.9v.9h-.9zM592.6 438.8h.9v.9h-.9zM595.3 444.4h.9v.9h-.9zM593.1 442.8h.9v.9h-.9zM592.0 446.1h.9v.9h-.9zM593.0 446.8h.9v.9h-.9zM594.6 445.6h.9v.9h-.9zM588.9 436.3h.9v.9h-.9zM609.6 442.1h.9v.9h-.9zM590.6 418.4h.9v.9h-.9zM602.3 447.3h.9v.9h-.9zM589.1 445.4h.9v.9h-.9zM614.7 429.8h.9v.9h-.9zM595.7 438.6h.9v.9h-.9zM608.1 446.7h.9v.9h-.9zM607.2 442.4h.9v.9h-.9zM606.2 444.9h.9v.9h-.9zM595.6 438.1h.9v.9h-.9zM618.0 446.0h.9v.9h-.9zM613.9 433.4h.9v.9h-.9zM606.1 444.5h.9v.9h-.9zM596.2 441.5h.9v.9h-.9zM596.7 446.5h.9v.9h-.9zM603.9 446.8h.9v.9h-.9zM597.8 443.4h.9v.9h-.9zM594.6 420.4h.9v.9h-.9zM603.0 447.3h.9v.9h-.9zM609.2 441.2h.9v.9h-.9zM609.2 445.7h.9v.9h-.9zM597.2 435.8h.9v.9h-.9zM596.7 441.0h.9v.9h-.9zM620.7 436.4h.9v.9h-.9zM590.4 409.8h.9v.9h-.9zM614.4 433.6h.9v.9h-.9zM616.4 422.4h.9v.9h-.9zM606.2 446.6h.9v.9h-.9zM611.6 441.5h.9v.9h-.9zM595.4 444.0h.9v.9h-.9zM592.8 441.4h.9v.9h-.9zM597.0 444.7h.9v.9h-.9zM586.0 441.1h.9v.9h-.9zM591.4 442.0h.9v.9h-.9zM593.9 439.7h.9v.9h-.9zM595.8 446.3h.9v.9h-.9zM600.1 447.0h.9v.9h-.9zM615.4 440.2h.9v.9h-.9zM597.7 441.1h.9v.9h-.9zM606.7 441.1h.9v.9h-.9zM609.2 436.7h.9v.9h-.9zM598.4 439.8h.9v.9h-.9zM612.2 446.9h.9v.9h-.9zM590.7 439.9h.9v.9h-.9zM595.5 446.7h.9v.9h-.9zM599.3 438.4h.9v.9h-.9zM600.7 442.0h.9v.9h-.9zM598.8 445.5h.9v.9h-.9zM591.6 439.7h.9v.9h-.9zM630.6 443.4h.9v.9h-.9zM600.8 443.5h.9v.9h-.9zM589.6 434.1h.9v.9h-.9zM598.2 436.1h.9v.9h-.9zM612.1 433.8h.9v.9h-.9zM623.1 436.2h.9v.9h-.9zM596.9 427.6h.9v.9h-.9zM613.9 443.9h.9v.9h-.9zM602.2 447.0h.9v.9h-.9zM614.9 438.8h.9v.9h-.9zM598.6 447.3h.9v.9h-.9zM619.0 443.1h.9v.9h-.9zM595.2 433.3h.9v.9h-.9zM590.1 402.1h.9v.9h-.9zM611.2 433.6h.9v.9h-.9zM598.8 447.2h.9v.9h-.9zM608.2 446.4h.9v.9h-.9zM613.9 444.3h.9v.9h-.9zM617.1 437.3h.9v.9h-.9zM590.6 447.1h.9v.9h-.9zM595.4 434.2h.9v.9h-.9zM597.2 439.1h.9v.9h-.9zM603.2 447.4h.9v.9h-.9zM609.6 443.6h.9v.9h-.9zM593.4 446.5h.9v.9h-.9zM599.5 442.4h.9v.9h-.9zM618.4 435.5h.9v.9h-.9zM603.1 447.4h.9v.9h-.9zM606.7 443.8h.9v.9h-.9zM595.8 447.2h.9v.9h-.9zM595.9 437.2h.9v.9h-.9zM592.9 432.1h.9v.9h-.9zM598.1 447.2h.9v.9h-.9zM593.2 444.0h.9v.9h-.9zM595.2 436.5h.9v.9h-.9zM597.8 445.2h.9v.9h-.9zM616.9 439.3h.9v.9h-.9zM603.4 447.0h.9v.9h-.9zM599.9 446.9h.9v.9h-.9zM595.6 440.3h.9v.9h-.9zM595.2 443.2h.9v.9h-.9zM612.5 437.7h.9v.9h-.9zM616.6 445.5h.9v.9h-.9zM611.7 446.1h.9v.9h-.9zM610.3 445.2h.9v.9h-.9zM588.1 418.1h.9v.9h-.9zM611.3 438.7h.9v.9h-.9zM600.3 440.2h.9v.9h-.9zM594.7 441.4h.9v.9h-.9zM602.0 444.5h.9v.9h-.9zM591.9 419.7h.9v.9h-.9zM590.4 444.6h.9v.9h-.9zM591.2 440.5h.9v.9h-.9zM604.7 446.6h.9v.9h-.9zM605.8 446.2h.9v.9h-.9zM599.0 437.8h.9v.9h-.9zM595.0 447.1h.9v.9h-.9zM587.7 447.0h.9v.9h-.9zM596.0 440.7h.9v.9h-.9zM593.0 434.7h.9v.9h-.9zM617.6 436.1h.9v.9h-.9zM608.3 443.8h.9v.9h-.9zM589.5 433.1h.9v.9h-.9zM616.3 432.2h.9v.9h-.9zM595.7 440.1h.9v.9h-.9zM609.0 445.3h.9v.9h-.9zM609.5 445.6h.9v.9h-.9zM623.0 425.2h.9v.9h-.9zM597.4 435.9h.9v.9h-.9zM599.8 443.9h.9v.9h-.9zM589.1 421.3h.9v.9h-.9zM595.4 441.4h.9v.9h-.9zM610.8 446.6h.9v.9h-.9zM599.5 442.1h.9v.9h-.9zM612.6 446.1h.9v.9h-.9zM620.2 445.5h.9v.9h-.9zM602.1 447.4h.9v.9h-.9zM585.7 443.6h.9v.9h-.9zM589.5 429.4h.9v.9h-.9zM614.9 435.0h.9v.9h-.9zM600.9 444.3h.9v.9h-.9zM606.5 444.0h.9v.9h-.9zM616.7 443.0h.9v.9h-.9zM615.7 439.5h.9v.9h-.9zM598.8 439.5h.9v.9h-.9zM598.9 441.8h.9v.9h-.9zM599.0 438.7h.9v.9h-.9zM611.8 442.4h.9v.9h-.9zM614.0 443.4h.9v.9h-.9zM587.4 442.9h.9v.9h-.9zM619.8 443.4h.9v.9h-.9zM604.1 447.1h.9v.9h-.9zM605.2 446.5h.9v.9h-.9zM600.2 442.3h.9v.9h-.9zM590.9 436.6h.9v.9h-.9zM595.1 425.0h.9v.9h-.9zM599.0 445.0h.9v.9h-.9zM595.6 425.6h.9v.9h-.9zM589.3 446.8h.9v.9h-.9zM597.7 446.3h.9v.9h-.9zM604.5 447.0h.9v.9h-.9zM597.6 436.2h.9v.9h-.9zM598.0 445.5h.9v.9h-.9zM609.2 445.3h.9v.9h-.9zM590.8 443.3h.9v.9h-.9zM597.5 446.1h.9v.9h-.9zM595.5 436.0h.9v.9h-.9zM592.8 431.7h.9v.9h-.9zM595.6 426.8h.9v.9h-.9zM606.1 442.3h.9v.9h-.9zM593.8 443.3h.9v.9h-.9zM592.7 428.0h.9v.9h-.9zM594.2 441.7h.9v.9h-.9zM590.8 447.3h.9v.9h-.9zM591.6 445.0h.9v.9h-.9zM601.0 446.3h.9v.9h-.9zM601.1 445.6h.9v.9h-.9zM612.4 442.4h.9v.9h-.9zM596.6 431.5h.9v.9h-.9zM595.6 442.6h.9v.9h-.9zM598.1 443.2h.9v.9h-.9zM588.5 434.5h.9v.9h-.9zM593.9 433.3h.9v.9h-.9zM598.2 436.9h.9v.9h-.9zM607.7 447.1h.9v.9h-.9zM591.7 419.5h.9v.9h-.9zM608.1 447.2h.9v.9h-.9zM600.4 446.7h.9v.9h-.9zM599.8 444.2h.9v.9h-.9zM594.2 436.6h.9v.9h-.9zM593.6 446.0h.9v.9h-.9zM595.1 433.9h.9v.9h-.9zM610.6 446.1h.9v.9h-.9zM596.2 446.9h.9v.9h-.9zM615.3 428.4h.9v.9h-.9zM612.9 443.9h.9v.9h-.9zM609.2 431.9h.9v.9h-.9zM592.5 438.5h.9v.9h-.9zM608.8 447.2h.9v.9h-.9zM589.5 426.6h.9v.9h-.9zM610.2 442.0h.9v.9h-.9zM596.4 431.5h.9v.9h-.9zM589.8 443.6h.9v.9h-.9zM602.7 446.8h.9v.9h-.9zM600.1 444.7h.9v.9h-.9zM589.5 437.0h.9v.9h-.9zM608.0 444.6h.9v.9h-.9zM589.4 428.3h.9v.9h-.9zM590.8 414.3h.9v.9h-.9zM603.4 447.4h.9v.9h-.9zM597.9 435.4h.9v.9h-.9zM614.8 433.5h.9v.9h-.9zM592.6 424.7h.9v.9h-.9zM601.9 447.3h.9v.9h-.9zM595.6 434.3h.9v.9h-.9zM613.6 446.8h.9v.9h-.9zM591.6 430.6h.9v.9h-.9zM608.0 442.3h.9v.9h-.9zM596.3 444.9h.9v.9h-.9zM598.4 444.6h.9v.9h-.9zM600.9 447.3h.9v.9h-.9zM604.7 446.7h.9v.9h-.9zM590.8 441.5h.9v.9h-.9zM609.7 439.2h.9v.9h-.9zM588.9 442.3h.9v.9h-.9zM600.3 446.5h.9v.9h-.9zM615.5 438.4h.9v.9h-.9zM599.6 445.7h.9v.9h-.9zM590.4 442.8h.9v.9h-.9zM614.6 447.4h.9v.9h-.9zM614.1 444.9h.9v.9h-.9zM597.8 444.7h.9v.9h-.9zM617.0 432.1h.9v.9h-.9zM594.8 432.5h.9v.9h-.9zM604.9 442.6h.9v.9h-.9zM607.0 446.2h.9v.9h-.9zM600.7 443.7h.9v.9h-.9zM604.0 447.2h.9v.9h-.9zM595.9 446.4h.9v.9h-.9zM595.7 435.3h.9v.9h-.9zM612.6 441.5h.9v.9h-.9zM584.1 375.7h.9v.9h-.9zM596.9 445.4h.9v.9h-.9zM607.7 444.9h.9v.9h-.9zM602.3 445.4h.9v.9h-.9zM606.7 445.9h.9v.9h-.9zM598.1 445.7h.9v.9h-.9zM606.3 444.3h.9v.9h-.9zM591.0 418.2h.9v.9h-.9zM590.8 444.3h.9v.9h-.9zM596.5 438.9h.9v.9h-.9zM611.4 436.5h.9v.9h-.9zM599.3 445.0h.9v.9h-.9zM614.6 439.5h.9v.9h-.9zM622.2 447.2h.9v.9h-.9zM612.4 439.0h.9v.9h-.9zM598.2 435.9h.9v.9h-.9zM599.3 437.6h.9v.9h-.9zM616.9 433.9h.9v.9h-.9zM588.4 431.0h.9v.9h-.9zM603.1 447.3h.9v.9h-.9zM586.3 430.2h.9v.9h-.9zM612.9 444.5h.9v.9h-.9zM607.4 445.8h.9v.9h-.9zM602.8 447.2h.9v.9h-.9zM594.4 445.2h.9v.9h-.9zM593.1 446.5h.9v.9h-.9zM597.3 446.7h.9v.9h-.9zM600.0 447.0h.9v.9h-.9zM593.5 432.8h.9v.9h-.9zM611.6 440.6h.9v.9h-.9zM605.1 447.3h.9v.9h-.9zM605.0 446.9h.9v.9h-.9zM593.9 437.3h.9v.9h-.9zM611.1 445.7h.9v.9h-.9zM613.0 446.1h.9v.9h-.9zM602.7 446.2h.9v.9h-.9zM599.9 442.4h.9v.9h-.9zM596.2 445.0h.9v.9h-.9zM607.8 446.6h.9v.9h-.9zM596.0 443.9h.9v.9h-.9zM596.7 439.9h.9v.9h-.9zM591.0 443.2h.9v.9h-.9zM591.5 432.3h.9v.9h-.9zM612.5 428.3h.9v.9h-.9zM601.6 445.2h.9v.9h-.9zM600.1 444.6h.9v.9h-.9zM583.1 435.3h.9v.9h-.9zM609.4 446.9h.9v.9h-.9zM609.4 447.1h.9v.9h-.9zM612.0 446.8h.9v.9h-.9zM612.8 446.8h.9v.9h-.9zM589.8 424.6h.9v.9h-.9zM622.0 427.9h.9v.9h-.9zM601.4 444.5h.9v.9h-.9zM597.5 445.4h.9v.9h-.9zM600.7 446.1h.9v.9h-.9zM594.0 430.2h.9v.9h-.9zM593.8 445.8h.9v.9h-.9zM599.2 439.8h.9v.9h-.9zM608.9 444.0h.9v.9h-.9zM598.8 442.2h.9v.9h-.9zM605.1 443.9h.9v.9h-.9zM611.2 441.5h.9v.9h-.9zM598.2 440.7h.9v.9h-.9zM598.7 438.3h.9v.9h-.9zM599.6 446.6h.9v.9h-.9zM597.5 444.0h.9v.9h-.9zM609.9 440.4h.9v.9h-.9zM620.6 411.7h.9v.9h-.9zM595.6 398.1h.9v.9h-.9zM622.1 443.3h.9v.9h-.9zM618.7 435.8h.9v.9h-.9zM594.9 446.8h.9v.9h-.9zM599.1 434.8h.9v.9h-.9zM583.5 423.6h.9v.9h-.9zM611.7 435.2h.9v.9h-.9zM615.2 436.9h.9v.9h-.9zM598.0 442.1h.9v.9h-.9zM589.6 443.8h.9v.9h-.9zM614.8 439.0h.9v.9h-.9zM608.9 441.3h.9v.9h-.9zM607.6 444.7h.9v.9h-.9zM596.9 443.0h.9v.9h-.9zM620.7 445.0h.9v.9h-.9zM597.4 446.7h.9v.9h-.9zM593.6 447.4h.9v.9h-.9zM599.5 439.7h.9v.9h-.9zM586.7 433.8h.9v.9h-.9zM608.0 444.8h.9v.9h-.9zM614.1 445.5h.9v.9h-.9zM609.8 439.6h.9v.9h-.9zM618.0 437.4h.9v.9h-.9zM590.6 425.3h.9v.9h-.9zM585.8 426.4h.9v.9h-.9zM611.8 444.1h.9v.9h-.9zM598.7 436.1h.9v.9h-.9zM597.8 438.8h.9v.9h-.9zM593.8 440.4h.9v.9h-.9zM606.4 447.4h.9v.9h-.9zM618.6 445.6h.9v.9h-.9zM594.4 441.6h.9v.9h-.9zM612.2 419.9h.9v.9h-.9zM592.4 425.3h.9v.9h-.9zM608.2 445.1h.9v.9h-.9zM589.4 403.4h.9v.9h-.9zM592.2 432.0h.9v.9h-.9zM612.5 446.4h.9v.9h-.9zM597.0 446.7h.9v.9h-.9zM588.5 444.6h.9v.9h-.9zM591.6 405.1h.9v.9h-.9zM615.1 440.7h.9v.9h-.9zM611.7 446.8h.9v.9h-.9zM593.4 410.1h.9v.9h-.9zM603.2 447.4h.9v.9h-.9zM616.6 444.8h.9v.9h-.9zM596.0 441.4h.9v.9h-.9zM613.4 443.3h.9v.9h-.9zM609.3 439.8h.9v.9h-.9zM597.7 437.1h.9v.9h-.9zM612.5 439.0h.9v.9h-.9zM597.2 446.7h.9v.9h-.9zM595.7 446.8h.9v.9h-.9zM598.2 444.6h.9v.9h-.9zM608.8 445.9h.9v.9h-.9zM600.3 444.4h.9v.9h-.9zM596.4 443.5h.9v.9h-.9zM621.3 427.1h.9v.9h-.9zM590.9 421.3h.9v.9h-.9zM593.6 431.5h.9v.9h-.9zM618.9 433.1h.9v.9h-.9zM594.7 447.2h.9v.9h-.9zM591.1 447.0h.9v.9h-.9zM592.3 424.1h.9v.9h-.9zM595.9 447.0h.9v.9h-.9zM610.1 440.0h.9v.9h-.9zM589.1 404.2h.9v.9h-.9zM625.4 431.6h.9v.9h-.9zM601.5 446.2h.9v.9h-.9zM614.4 430.6h.9v.9h-.9zM594.6 445.7h.9v.9h-.9zM607.7 447.4h.9v.9h-.9zM594.3 433.4h.9v.9h-.9zM597.6 446.8h.9v.9h-.9zM584.1 446.1h.9v.9h-.9zM599.7 446.7h.9v.9h-.9zM591.2 436.4h.9v.9h-.9zM597.3 435.6h.9v.9h-.9zM605.2 447.4h.9v.9h-.9zM605.3 446.6h.9v.9h-.9zM592.6 445.1h.9v.9h-.9zM609.9 445.4h.9v.9h-.9zM597.7 442.0h.9v.9h-.9zM594.4 442.1h.9v.9h-.9zM614.1 439.8h.9v.9h-.9zM620.9 440.3h.9v.9h-.9zM615.1 446.7h.9v.9h-.9zM608.3 446.1h.9v.9h-.9zM622.0 436.5h.9v.9h-.9zM594.9 424.7h.9v.9h-.9zM593.7 442.8h.9v.9h-.9zM596.8 444.3h.9v.9h-.9zM601.4 445.7h.9v.9h-.9zM608.3 434.8h.9v.9h-.9zM590.4 437.4h.9v.9h-.9zM593.6 447.1h.9v.9h-.9zM602.4 447.1h.9v.9h-.9zM605.6 444.9h.9v.9h-.9zM590.6 439.7h.9v.9h-.9zM614.8 447.4h.9v.9h-.9zM601.0 443.2h.9v.9h-.9zM585.2 396.9h.9v.9h-.9zM609.1 441.8h.9v.9h-.9zM604.3 447.3h.9v.9h-.9zM610.7 446.2h.9v.9h-.9zM614.0 436.7h.9v.9h-.9zM594.1 432.7h.9v.9h-.9zM595.7 424.2h.9v.9h-.9zM596.4 427.7h.9v.9h-.9zM614.9 447.1h.9v.9h-.9zM590.3 417.5h.9v.9h-.9zM599.1 441.9h.9v.9h-.9zM617.9 426.7h.9v.9h-.9zM595.8 445.1h.9v.9h-.9zM606.6 445.1h.9v.9h-.9zM589.0 447.1h.9v.9h-.9zM598.7 444.3h.9v.9h-.9zM588.9 401.7h.9v.9h-.9zM616.6 442.5h.9v.9h-.9zM588.6 435.0h.9v.9h-.9zM597.0 420.7h.9v.9h-.9zM597.6 435.8h.9v.9h-.9zM603.5 447.3h.9v.9h-.9zM611.5 439.1h.9v.9h-.9zM588.1 415.0h.9v.9h-.9zM613.9 446.6h.9v.9h-.9zM608.9 440.6h.9v.9h-.9zM619.5 420.7h.9v.9h-.9zM609.2 440.1h.9v.9h-.9zM605.5 446.6h.9v.9h-.9zM590.4 430.6h.9v.9h-.9zM609.7 446.3h.9v.9h-.9zM603.5 447.1h.9v.9h-.9zM602.0 444.4h.9v.9h-.9zM598.5 436.0h.9v.9h-.9zM614.5 446.1h.9v.9h-.9zM617.8 437.1h.9v.9h-.9zM617.8 434.7h.9v.9h-.9zM599.6 438.6h.9v.9h-.9zM611.3 438.6h.9v.9h-.9zM593.3 437.8h.9v.9h-.9zM610.7 442.1h.9v.9h-.9zM597.3 432.0h.9v.9h-.9zM601.0 446.0h.9v.9h-.9zM596.2 446.7h.9v.9h-.9zM594.9 435.4h.9v.9h-.9zM613.9 429.3h.9v.9h-.9zM590.2 446.5h.9v.9h-.9zM593.5 437.5h.9v.9h-.9zM596.0 441.8h.9v.9h-.9zM613.7 436.1h.9v.9h-.9zM594.8 436.4h.9v.9h-.9zM591.0 434.4h.9v.9h-.9zM591.6 434.2h.9v.9h-.9zM599.8 446.2h.9v.9h-.9zM610.1 443.4h.9v.9h-.9zM588.9 446.8h.9v.9h-.9zM613.6 442.8h.9v.9h-.9zM603.2 447.4h.9v.9h-.9zM607.6 446.2h.9v.9h-.9zM587.9 419.8h.9v.9h-.9zM599.3 447.1h.9v.9h-.9zM586.6 392.6h.9v.9h-.9zM613.4 437.3h.9v.9h-.9zM615.1 436.8h.9v.9h-.9zM590.1 446.2h.9v.9h-.9zM592.7 444.4h.9v.9h-.9zM608.5 445.1h.9v.9h-.9zM590.9 425.4h.9v.9h-.9zM590.4 445.8h.9v.9h-.9zM593.6 429.6h.9v.9h-.9zM600.2 438.3h.9v.9h-.9zM591.8 434.1h.9v.9h-.9zM589.2 411.2h.9v.9h-.9zM586.6 437.7h.9v.9h-.9zM598.4 435.8h.9v.9h-.9zM601.5 444.8h.9v.9h-.9zM608.0 447.4h.9v.9h-.9zM590.6 435.9h.9v.9h-.9zM600.1 443.1h.9v.9h-.9zM606.9 440.8h.9v.9h-.9zM593.7 430.8h.9v.9h-.9zM585.1 422.7h.9v.9h-.9zM606.4 440.6h.9v.9h-.9zM596.5 445.7h.9v.9h-.9zM594.8 445.2h.9v.9h-.9zM594.4 442.0h.9v.9h-.9zM603.0 447.2h.9v.9h-.9zM594.9 438.1h.9v.9h-.9zM621.4 428.0h.9v.9h-.9zM608.6 444.7h.9v.9h-.9zM600.0 443.9h.9v.9h-.9zM593.2 430.9h.9v.9h-.9zM592.4 439.2h.9v.9h-.9zM593.2 432.1h.9v.9h-.9zM610.0 445.4h.9v.9h-.9zM598.8 433.5h.9v.9h-.9zM612.9 446.7h.9v.9h-.9zM614.1 443.7h.9v.9h-.9zM597.4 432.9h.9v.9h-.9zM605.1 446.3h.9v.9h-.9zM590.8 447.2h.9v.9h-.9zM626.1 430.2h.9v.9h-.9zM591.8 405.8h.9v.9h-.9zM596.6 426.7h.9v.9h-.9zM604.6 447.2h.9v.9h-.9zM591.3 408.8h.9v.9h-.9zM608.5 444.5h.9v.9h-.9zM592.1 442.2h.9v.9h-.9zM591.2 447.3h.9v.9h-.9zM584.2 387.5h.9v.9h-.9zM607.2 442.2h.9v.9h-.9zM589.6 394.6h.9v.9h-.9zM594.7 423.5h.9v.9h-.9zM598.8 447.4h.9v.9h-.9zM601.9 441.7h.9v.9h-.9zM608.4 437.3h.9v.9h-.9zM612.3 446.9h.9v.9h-.9zM591.3 441.2h.9v.9h-.9zM612.4 445.7h.9v.9h-.9zM612.9 428.9h.9v.9h-.9zM611.1 434.0h.9v.9h-.9zM595.7 435.8h.9v.9h-.9zM594.6 434.1h.9v.9h-.9zM604.9 447.3h.9v.9h-.9zM613.5 434.8h.9v.9h-.9zM596.5 444.5h.9v.9h-.9zM596.4 445.9h.9v.9h-.9zM624.3 443.6h.9v.9h-.9zM592.3 445.9h.9v.9h-.9zM612.5 437.3h.9v.9h-.9zM597.0 444.3h.9v.9h-.9zM605.3 444.1h.9v.9h-.9zM614.1 438.2h.9v.9h-.9zM593.9 426.8h.9v.9h-.9zM596.8 441.5h.9v.9h-.9zM621.0 439.5h.9v.9h-.9zM619.2 438.1h.9v.9h-.9zM591.8 433.7h.9v.9h-.9zM593.9 445.9h.9v.9h-.9zM606.8 447.1h.9v.9h-.9zM593.3 428.4h.9v.9h-.9zM619.9 446.5h.9v.9h-.9zM615.5 445.5h.9v.9h-.9zM617.6 415.9h.9v.9h-.9zM611.8 445.5h.9v.9h-.9zM600.6 445.5h.9v.9h-.9zM616.7 442.6h.9v.9h-.9zM607.6 440.2h.9v.9h-.9zM599.1 438.9h.9v.9h-.9zM596.1 442.3h.9v.9h-.9zM610.2 439.3h.9v.9h-.9zM602.6 446.5h.9v.9h-.9zM608.1 441.5h.9v.9h-.9zM599.6 445.6h.9v.9h-.9zM597.1 441.4h.9v.9h-.9zM599.7 439.8h.9v.9h-.9zM600.0 442.9h.9v.9h-.9zM596.4 441.1h.9v.9h-.9zM597.3 442.7h.9v.9h-.9zM594.3 445.3h.9v.9h-.9zM607.8 439.1h.9v.9h-.9zM610.3 441.2h.9v.9h-.9zM619.2 442.6h.9v.9h-.9zM595.5 438.1h.9v.9h-.9zM594.3 446.2h.9v.9h-.9zM610.7 439.5h.9v.9h-.9zM588.0 399.2h.9v.9h-.9zM600.8 442.6h.9v.9h-.9zM585.0 385.1h.9v.9h-.9zM605.9 444.2h.9v.9h-.9zM601.0 446.7h.9v.9h-.9zM602.3 446.8h.9v.9h-.9zM609.5 446.5h.9v.9h-.9zM586.4 421.4h.9v.9h-.9zM583.9 442.2h.9v.9h-.9zM598.7 440.7h.9v.9h-.9zM620.2 442.2h.9v.9h-.9zM599.1 442.0h.9v.9h-.9zM594.3 446.2h.9v.9h-.9zM604.4 445.3h.9v.9h-.9zM601.9 447.0h.9v.9h-.9zM606.8 441.6h.9v.9h-.9zM614.3 441.1h.9v.9h-.9zM612.4 446.5h.9v.9h-.9zM602.4 446.9h.9v.9h-.9zM595.4 442.7h.9v.9h-.9zM595.5 431.8h.9v.9h-.9zM590.5 436.7h.9v.9h-.9zM607.9 446.8h.9v.9h-.9zM591.8 443.9h.9v.9h-.9zM591.8 438.1h.9v.9h-.9zM610.0 441.7h.9v.9h-.9zM621.4 441.9h.9v.9h-.9zM596.3 445.2h.9v.9h-.9zM598.9 446.2h.9v.9h-.9zM609.1 444.2h.9v.9h-.9zM612.8 435.7h.9v.9h-.9zM593.7 441.8h.9v.9h-.9zM611.0 446.4h.9v.9h-.9zM598.6 433.7h.9v.9h-.9zM613.4 431.6h.9v.9h-.9zM592.0 447.3h.9v.9h-.9zM616.1 443.0h.9v.9h-.9zM618.4 446.8h.9v.9h-.9zM611.9 447.0h.9v.9h-.9zM598.6 445.5h.9v.9h-.9zM615.2 435.1h.9v.9h-.9zM617.8 444.1h.9v.9h-.9zM599.5 443.3h.9v.9h-.9zM594.1 442.9h.9v.9h-.9zM594.9 438.2h.9v.9h-.9zM612.3 443.2h.9v.9h-.9zM596.2 429.8h.9v.9h-.9zM609.2 446.1h.9v.9h-.9zM603.9 447.2h.9v.9h-.9zM588.8 438.1h.9v.9h-.9zM588.1 420.1h.9v.9h-.9zM605.5 446.3h.9v.9h-.9zM599.7 440.6h.9v.9h-.9zM594.4 441.4h.9v.9h-.9zM601.2 442.5h.9v.9h-.9zM608.3 446.1h.9v.9h-.9zM600.0 447.2h.9v.9h-.9zM612.9 443.7h.9v.9h-.9zM586.8 397.8h.9v.9h-.9zM618.4 428.7h.9v.9h-.9zM605.9 446.4h.9v.9h-.9zM596.6 434.1h.9v.9h-.9zM604.4 447.2h.9v.9h-.9zM590.6 429.6h.9v.9h-.9zM601.4 445.5h.9v.9h-.9zM617.1 439.9h.9v.9h-.9zM588.6 446.4h.9v.9h-.9zM595.2 444.1h.9v.9h-.9zM597.4 446.8h.9v.9h-.9zM611.8 446.0h.9v.9h-.9zM595.7 434.7h.9v.9h-.9zM588.4 416.1h.9v.9h-.9zM610.0 445.5h.9v.9h-.9zM596.9 442.6h.9v.9h-.9zM595.1 445.0h.9v.9h-.9zM612.1 444.2h.9v.9h-.9zM609.5 441.9h.9v.9h-.9zM597.5 442.6h.9v.9h-.9zM609.7 446.3h.9v.9h-.9zM613.5 443.4h.9v.9h-.9zM606.6 446.6h.9v.9h-.9zM607.4 447.2h.9v.9h-.9zM600.6 443.7h.9v.9h-.9zM602.0 447.3h.9v.9h-.9zM616.9 447.1h.9v.9h-.9zM595.8 416.9h.9v.9h-.9zM598.9 444.0h.9v.9h-.9zM589.6 446.4h.9v.9h-.9zM621.2 422.6h.9v.9h-.9zM607.9 446.8h.9v.9h-.9zM594.5 433.7h.9v.9h-.9zM591.2 438.0h.9v.9h-.9zM609.4 445.3h.9v.9h-.9zM598.1 436.7h.9v.9h-.9zM587.7 348.6h.9v.9h-.9zM593.8 432.1h.9v.9h-.9zM615.5 441.8h.9v.9h-.9zM592.3 435.0h.9v.9h-.9zM617.4 442.9h.9v.9h-.9zM590.2 443.5h.9v.9h-.9zM609.4 447.3h.9v.9h-.9zM592.2 446.2h.9v.9h-.9zM597.8 438.4h.9v.9h-.9zM615.2 443.5h.9v.9h-.9zM613.8 400.0h.9v.9h-.9zM585.1 430.1h.9v.9h-.9zM594.5 437.0h.9v.9h-.9zM606.9 442.3h.9v.9h-.9zM606.2 443.8h.9v.9h-.9zM612.8 445.4h.9v.9h-.9zM605.6 444.8h.9v.9h-.9zM594.1 441.4h.9v.9h-.9zM608.0 439.1h.9v.9h-.9zM612.4 443.7h.9v.9h-.9zM612.5 440.6h.9v.9h-.9zM607.0 447.3h.9v.9h-.9zM600.6 447.1h.9v.9h-.9zM617.2 433.6h.9v.9h-.9zM624.5 415.9h.9v.9h-.9zM610.0 443.4h.9v.9h-.9zM593.6 435.5h.9v.9h-.9zM608.6 442.3h.9v.9h-.9zM605.4 446.9h.9v.9h-.9zM600.7 445.8h.9v.9h-.9zM610.3 446.6h.9v.9h-.9zM616.6 435.4h.9v.9h-.9zM603.8 447.4h.9v.9h-.9zM594.9 439.2h.9v.9h-.9zM589.1 416.9h.9v.9h-.9zM616.4 430.0h.9v.9h-.9zM623.0 431.3h.9v.9h-.9zM601.3 446.7h.9v.9h-.9zM586.1 439.6h.9v.9h-.9zM607.4 445.1h.9v.9h-.9zM622.8 443.9h.9v.9h-.9zM599.9 445.9h.9v.9h-.9zM588.6 445.3h.9v.9h-.9zM607.1 443.5h.9v.9h-.9zM615.8 439.3h.9v.9h-.9zM613.9 438.4h.9v.9h-.9zM594.4 444.6h.9v.9h-.9zM603.1 447.4h.9v.9h-.9zM595.5 443.2h.9v.9h-.9zM605.0 447.3h.9v.9h-.9zM616.9 433.9h.9v.9h-.9zM601.1 445.0h.9v.9h-.9zM593.7 429.2h.9v.9h-.9zM614.2 444.2h.9v.9h-.9zM608.1 447.3h.9v.9h-.9zM597.7 427.1h.9v.9h-.9zM591.5 438.0h.9v.9h-.9zM594.7 434.9h.9v.9h-.9zM614.1 439.6h.9v.9h-.9zM598.3 433.3h.9v.9h-.9zM590.2 434.6h.9v.9h-.9zM594.5 428.0h.9v.9h-.9zM606.7 446.7h.9v.9h-.9zM592.0 431.9h.9v.9h-.9zM612.1 446.7h.9v.9h-.9zM609.0 443.2h.9v.9h-.9zM594.6 445.9h.9v.9h-.9zM600.9 445.4h.9v.9h-.9zM628.9 441.5h.9v.9h-.9zM619.7 438.1h.9v.9h-.9zM606.5 447.0h.9v.9h-.9zM604.3 447.4h.9v.9h-.9zM589.6 446.4h.9v.9h-.9zM599.4 435.7h.9v.9h-.9zM596.5 445.1h.9v.9h-.9zM617.5 447.1h.9v.9h-.9zM593.6 445.9h.9v.9h-.9zM610.5 445.8h.9v.9h-.9zM588.4 434.2h.9v.9h-.9zM608.8 440.5h.9v.9h-.9zM598.2 445.5h.9v.9h-.9zM609.3 446.4h.9v.9h-.9zM593.5 400.1h.9v.9h-.9zM609.0 441.6h.9v.9h-.9zM620.3 427.3h.9v.9h-.9zM617.2 447.0h.9v.9h-.9zM613.3 443.2h.9v.9h-.9zM597.5 445.9h.9v.9h-.9zM605.0 445.9h.9v.9h-.9zM617.5 442.1h.9v.9h-.9zM600.0 439.8h.9v.9h-.9zM600.2 447.1h.9v.9h-.9zM603.3 447.3h.9v.9h-.9zM605.0 446.3h.9v.9h-.9zM588.5 443.6h.9v.9h-.9zM615.1 440.1h.9v.9h-.9zM611.4 445.5h.9v.9h-.9zM614.6 434.0h.9v.9h-.9zM596.0 429.7h.9v.9h-.9zM594.3 426.2h.9v.9h-.9zM622.4 424.2h.9v.9h-.9zM616.0 445.4h.9v.9h-.9zM621.4 447.4h.9v.9h-.9zM595.3 439.6h.9v.9h-.9zM598.2 447.0h.9v.9h-.9zM592.2 445.3h.9v.9h-.9zM610.7 445.6h.9v.9h-.9zM598.0 436.4h.9v.9h-.9zM614.8 446.0h.9v.9h-.9zM615.1 446.8h.9v.9h-.9zM597.8 435.4h.9v.9h-.9zM595.7 446.6h.9v.9h-.9zM591.8 432.0h.9v.9h-.9zM590.3 445.8h.9v.9h-.9zM617.6 445.8h.9v.9h-.9zM620.0 442.6h.9v.9h-.9zM612.2 428.8h.9v.9h-.9zM590.4 437.2h.9v.9h-.9zM592.4 447.1h.9v.9h-.9zM606.6 443.2h.9v.9h-.9zM591.1 397.2h.9v.9h-.9zM588.2 412.8h.9v.9h-.9zM613.9 444.1h.9v.9h-.9zM601.6 445.3h.9v.9h-.9zM599.4 438.2h.9v.9h-.9zM596.3 430.6h.9v.9h-.9zM594.3 435.6h.9v.9h-.9zM585.8 435.3h.9v.9h-.9zM605.6 447.2h.9v.9h-.9zM629.0 430.8h.9v.9h-.9zM612.0 444.8h.9v.9h-.9zM607.0 444.5h.9v.9h-.9zM616.8 445.0h.9v.9h-.9zM599.3 447.2h.9v.9h-.9zM595.6 445.6h.9v.9h-.9zM607.7 445.0h.9v.9h-.9zM596.1 444.4h.9v.9h-.9zM592.3 447.2h.9v.9h-.9zM604.9 446.8h.9v.9h-.9zM597.9 424.9h.9v.9h-.9zM586.7 419.2h.9v.9h-.9zM586.6 435.3h.9v.9h-.9zM613.9 446.7h.9v.9h-.9zM603.4 447.3h.9v.9h-.9zM618.3 442.0h.9v.9h-.9zM585.1 447.2h.9v.9h-.9zM607.7 445.7h.9v.9h-.9zM597.1 440.4h.9v.9h-.9zM604.4 447.4h.9v.9h-.9zM595.6 434.6h.9v.9h-.9zM597.0 434.1h.9v.9h-.9zM605.1 447.3h.9v.9h-.9zM585.5 428.7h.9v.9h-.9zM602.3 447.4h.9v.9h-.9zM609.9 447.1h.9v.9h-.9zM605.1 446.2h.9v.9h-.9zM591.0 432.4h.9v.9h-.9zM590.1 440.8h.9v.9h-.9zM590.7 432.2h.9v.9h-.9zM592.9 439.4h.9v.9h-.9zM613.1 439.8h.9v.9h-.9zM594.7 418.2h.9v.9h-.9zM592.1 402.7h.9v.9h-.9zM612.5 443.7h.9v.9h-.9zM608.9 438.6h.9v.9h-.9zM607.9 438.7h.9v.9h-.9zM591.5 438.2h.9v.9h-.9zM605.0 445.8h.9v.9h-.9zM599.6 441.7h.9v.9h-.9zM606.7 447.0h.9v.9h-.9zM598.3 442.3h.9v.9h-.9zM595.6 439.6h.9v.9h-.9zM596.9 439.8h.9v.9h-.9zM592.1 408.7h.9v.9h-.9zM609.3 434.6h.9v.9h-.9zM593.5 427.8h.9v.9h-.9zM601.4 446.6h.9v.9h-.9zM593.3 416.5h.9v.9h-.9zM607.1 445.2h.9v.9h-.9zM593.7 443.0h.9v.9h-.9zM609.1 439.2h.9v.9h-.9zM597.9 447.3h.9v.9h-.9zM595.1 438.7h.9v.9h-.9zM601.5 446.4h.9v.9h-.9zM613.0 434.8h.9v.9h-.9zM595.8 427.6h.9v.9h-.9zM597.7 446.3h.9v.9h-.9zM606.0 444.8h.9v.9h-.9zM587.4 411.9h.9v.9h-.9zM610.8 444.2h.9v.9h-.9zM611.6 447.2h.9v.9h-.9zM596.6 431.5h.9v.9h-.9zM602.0 446.9h.9v.9h-.9zM595.7 446.3h.9v.9h-.9zM594.4 447.0h.9v.9h-.9zM602.0 447.2h.9v.9h-.9zM604.2 447.1h.9v.9h-.9zM603.4 447.1h.9v.9h-.9zM602.2 446.3h.9v.9h-.9zM595.8 433.5h.9v.9h-.9zM611.2 439.3h.9v.9h-.9zM591.1 437.4h.9v.9h-.9zM587.4 416.6h.9v.9h-.9zM601.2 446.8h.9v.9h-.9zM592.1 429.4h.9v.9h-.9zM606.3 446.1h.9v.9h-.9zM589.6 447.0h.9v.9h-.9zM611.4 439.6h.9v.9h-.9zM599.1 438.3h.9v.9h-.9zM613.4 441.9h.9v.9h-.9zM621.5 442.7h.9v.9h-.9zM602.4 446.5h.9v.9h-.9zM592.3 441.7h.9v.9h-.9zM597.4 442.3h.9v.9h-.9zM607.5 445.9h.9v.9h-.9zM618.9 420.2h.9v.9h-.9zM598.5 428.8h.9v.9h-.9zM602.8 446.9h.9v.9h-.9zM598.2 446.8h.9v.9h-.9zM604.1 447.2h.9v.9h-.9zM609.3 447.3h.9v.9h-.9zM604.7 447.0h.9v.9h-.9zM617.7 437.7h.9v.9h-.9zM611.3 444.6h.9v.9h-.9zM582.9 434.6h.9v.9h-.9zM595.1 436.7h.9v.9h-.9zM607.9 442.9h.9v.9h-.9zM628.5 446.7h.9v.9h-.9zM589.8 441.8h.9v.9h-.9zM601.0 443.2h.9v.9h-.9zM594.5 438.6h.9v.9h-.9zM591.7 417.6h.9v.9h-.9zM618.7 444.3h.9v.9h-.9zM591.3 434.4h.9v.9h-.9zM597.5 428.1h.9v.9h-.9zM594.5 438.9h.9v.9h-.9zM587.8 444.9h.9v.9h-.9zM591.4 444.4h.9v.9h-.9zM609.1 439.3h.9v.9h-.9zM610.7 438.3h.9v.9h-.9zM612.9 445.8h.9v.9h-.9zM590.5 445.5h.9v.9h-.9zM596.8 442.3h.9v.9h-.9zM603.1 447.2h.9v.9h-.9zM616.6 441.1h.9v.9h-.9zM598.7 440.4h.9v.9h-.9zM606.7 444.7h.9v.9h-.9zM608.6 444.1h.9v.9h-.9zM612.4 444.4h.9v.9h-.9zM601.8 445.6h.9v.9h-.9zM611.9 445.2h.9v.9h-.9zM616.8 434.7h.9v.9h-.9zM600.0 446.9h.9v.9h-.9zM607.6 446.7h.9v.9h-.9zM615.6 443.9h.9v.9h-.9zM609.4 445.8h.9v.9h-.9zM595.9 442.1h.9v.9h-.9zM596.3 443.8h.9v.9h-.9zM599.5 445.0h.9v.9h-.9zM598.3 447.2h.9v.9h-.9zM597.8 441.9h.9v.9h-.9zM599.5 446.1h.9v.9h-.9zM606.2 445.6h.9v.9h-.9zM604.5 446.8h.9v.9h-.9zM600.2 447.1h.9v.9h-.9zM600.9 446.0h.9v.9h-.9zM617.7 443.1h.9v.9h-.9zM609.4 439.9h.9v.9h-.9zM606.3 446.0h.9v.9h-.9zM612.8 445.1h.9v.9h-.9zM613.8 446.7h.9v.9h-.9zM594.3 442.2h.9v.9h-.9zM591.2 433.3h.9v.9h-.9zM618.8 427.5h.9v.9h-.9zM598.1 445.5h.9v.9h-.9zM603.1 447.4h.9v.9h-.9zM606.0 447.3h.9v.9h-.9zM589.0 441.4h.9v.9h-.9zM607.6 446.9h.9v.9h-.9zM600.0 447.1h.9v.9h-.9zM621.4 445.8h.9v.9h-.9zM613.4 430.2h.9v.9h-.9zM593.7 429.3h.9v.9h-.9zM606.1 446.7h.9v.9h-.9zM612.0 443.6h.9v.9h-.9zM600.2 445.0h.9v.9h-.9zM599.0 447.2h.9v.9h-.9zM614.3 438.6h.9v.9h-.9zM608.1 443.6h.9v.9h-.9zM609.2 447.0h.9v.9h-.9zM595.1 413.9h.9v.9h-.9zM602.5 446.8h.9v.9h-.9zM606.1 442.0h.9v.9h-.9zM591.1 425.3h.9v.9h-.9zM596.3 424.6h.9v.9h-.9zM606.3 447.3h.9v.9h-.9zM593.6 411.4h.9v.9h-.9zM588.3 441.8h.9v.9h-.9zM591.3 446.4h.9v.9h-.9zM599.6 437.8h.9v.9h-.9zM592.8 425.1h.9v.9h-.9zM599.2 445.8h.9v.9h-.9zM618.7 423.7h.9v.9h-.9zM613.2 431.6h.9v.9h-.9zM590.4 422.2h.9v.9h-.9zM611.8 443.3h.9v.9h-.9zM620.4 430.9h.9v.9h-.9zM601.7 446.3h.9v.9h-.9zM606.3 446.3h.9v.9h-.9zM592.4 443.9h.9v.9h-.9zM600.7 444.1h.9v.9h-.9zM608.4 442.3h.9v.9h-.9zM588.0 432.5h.9v.9h-.9zM602.1 442.5h.9v.9h-.9zM602.9 447.4h.9v.9h-.9zM599.0 446.1h.9v.9h-.9zM604.6 446.0h.9v.9h-.9zM608.8 446.0h.9v.9h-.9zM613.3 431.3h.9v.9h-.9zM594.3 446.4h.9v.9h-.9zM588.9 443.3h.9v.9h-.9zM616.0 446.2h.9v.9h-.9zM613.7 446.2h.9v.9h-.9zM602.8 447.2h.9v.9h-.9zM601.1 445.6h.9v.9h-.9zM598.4 446.1h.9v.9h-.9zM601.9 446.8h.9v.9h-.9zM597.2 435.2h.9v.9h-.9zM615.8 433.5h.9v.9h-.9zM605.5 447.2h.9v.9h-.9zM614.0 447.2h.9v.9h-.9zM592.7 440.9h.9v.9h-.9zM593.2 433.1h.9v.9h-.9zM595.3 440.5h.9v.9h-.9zM593.4 437.0h.9v.9h-.9zM594.0 438.6h.9v.9h-.9zM588.5 430.8h.9v.9h-.9zM587.1 409.5h.9v.9h-.9zM611.1 437.4h.9v.9h-.9zM609.5 442.1h.9v.9h-.9zM620.5 445.0h.9v.9h-.9zM594.5 447.4h.9v.9h-.9zM596.0 447.0h.9v.9h-.9zM599.3 439.5h.9v.9h-.9zM612.9 436.1h.9v.9h-.9zM613.9 446.1h.9v.9h-.9zM596.6 443.9h.9v.9h-.9zM613.0 437.4h.9v.9h-.9zM598.2 442.6h.9v.9h-.9zM592.1 422.8h.9v.9h-.9zM598.0 444.0h.9v.9h-.9zM609.4 445.6h.9v.9h-.9zM589.1 412.4h.9v.9h-.9zM598.6 438.3h.9v.9h-.9zM594.6 445.5h.9v.9h-.9zM616.4 431.4h.9v.9h-.9zM608.5 437.5h.9v.9h-.9zM589.4 440.3h.9v.9h-.9zM599.9 446.6h.9v.9h-.9zM610.0 443.1h.9v.9h-.9zM588.1 407.5h.9v.9h-.9zM604.1 446.7h.9v.9h-.9zM597.8 445.6h.9v.9h-.9zM622.9 434.0h.9v.9h-.9zM620.4 429.0h.9v.9h-.9zM594.5 425.7h.9v.9h-.9zM598.1 437.1h.9v.9h-.9zM608.7 446.7h.9v.9h-.9zM594.4 418.6h.9v.9h-.9zM590.5 432.9h.9v.9h-.9zM596.1 434.2h.9v.9h-.9zM587.1 437.5h.9v.9h-.9zM590.9 439.8h.9v.9h-.9zM588.6 441.3h.9v.9h-.9zM598.3 444.9h.9v.9h-.9zM615.2 443.8h.9v.9h-.9zM594.4 422.4h.9v.9h-.9zM612.7 437.8h.9v.9h-.9zM604.6 445.7h.9v.9h-.9zM596.9 423.2h.9v.9h-.9zM596.7 445.4h.9v.9h-.9zM607.1 444.4h.9v.9h-.9zM607.3 445.8h.9v.9h-.9zM608.0 446.7h.9v.9h-.9zM594.0 410.3h.9v.9h-.9zM611.2 440.6h.9v.9h-.9zM599.9 446.5h.9v.9h-.9zM591.4 427.4h.9v.9h-.9zM595.6 446.9h.9v.9h-.9zM592.5 445.5h.9v.9h-.9zM598.2 441.0h.9v.9h-.9zM606.0 444.9h.9v.9h-.9zM597.5 441.4h.9v.9h-.9zM607.8 438.8h.9v.9h-.9zM586.2 406.6h.9v.9h-.9zM592.4 441.5h.9v.9h-.9zM598.4 436.8h.9v.9h-.9zM616.1 427.4h.9v.9h-.9zM608.1 446.6h.9v.9h-.9zM592.1 442.0h.9v.9h-.9zM612.6 444.5h.9v.9h-.9zM605.4 446.4h.9v.9h-.9zM604.2 446.1h.9v.9h-.9zM603.5 447.2h.9v.9h-.9zM588.4 447.3h.9v.9h-.9zM611.3 446.5h.9v.9h-.9zM597.3 445.8h.9v.9h-.9zM617.4 441.1h.9v.9h-.9zM584.3 386.6h.9v.9h-.9zM622.8 430.9h.9v.9h-.9zM589.1 445.6h.9v.9h-.9zM605.3 443.2h.9v.9h-.9zM593.2 421.7h.9v.9h-.9zM606.8 443.8h.9v.9h-.9zM596.0 438.3h.9v.9h-.9zM593.4 432.2h.9v.9h-.9zM588.9 427.5h.9v.9h-.9zM589.3 428.6h.9v.9h-.9zM612.5 440.4h.9v.9h-.9zM617.6 441.3h.9v.9h-.9zM606.6 444.3h.9v.9h-.9zM591.7 443.3h.9v.9h-.9zM604.9 445.1h.9v.9h-.9zM603.7 446.6h.9v.9h-.9zM614.7 442.1h.9v.9h-.9zM592.1 428.2h.9v.9h-.9zM596.8 441.7h.9v.9h-.9zM592.7 446.7h.9v.9h-.9zM593.8 446.9h.9v.9h-.9zM596.8 439.0h.9v.9h-.9zM597.3 443.3h.9v.9h-.9zM599.7 436.2h.9v.9h-.9zM601.9 447.3h.9v.9h-.9zM614.7 447.1h.9v.9h-.9zM584.9 421.7h.9v.9h-.9zM592.1 425.3h.9v.9h-.9zM623.8 436.6h.9v.9h-.9zM617.4 422.6h.9v.9h-.9zM610.1 439.8h.9v.9h-.9zM609.6 443.9h.9v.9h-.9zM593.0 433.5h.9v.9h-.9zM593.4 439.7h.9v.9h-.9zM613.7 445.6h.9v.9h-.9zM603.2 447.4h.9v.9h-.9zM597.5 443.5h.9v.9h-.9zM610.6 432.9h.9v.9h-.9zM612.6 444.5h.9v.9h-.9zM594.6 401.4h.9v.9h-.9zM596.6 438.1h.9v.9h-.9zM610.2 429.7h.9v.9h-.9zM597.0 447.1h.9v.9h-.9zM598.6 442.2h.9v.9h-.9zM611.0 441.4h.9v.9h-.9zM588.5 437.2h.9v.9h-.9zM595.4 443.8h.9v.9h-.9zM595.6 435.9h.9v.9h-.9zM599.8 437.7h.9v.9h-.9zM599.6 440.3h.9v.9h-.9zM606.1 445.7h.9v.9h-.9zM589.9 447.1h.9v.9h-.9zM603.2 447.4h.9v.9h-.9zM590.6 445.1h.9v.9h-.9zM602.0 446.0h.9v.9h-.9zM601.8 447.2h.9v.9h-.9zM604.6 445.8h.9v.9h-.9zM605.8 446.9h.9v.9h-.9zM618.9 429.0h.9v.9h-.9zM587.9 438.7h.9v.9h-.9zM596.9 437.4h.9v.9h-.9zM605.8 445.2h.9v.9h-.9zM600.9 446.8h.9v.9h-.9zM618.7 443.1h.9v.9h-.9zM617.7 434.7h.9v.9h-.9zM602.5 446.8h.9v.9h-.9zM598.5 434.9h.9v.9h-.9zM592.2 447.0h.9v.9h-.9zM592.4 446.6h.9v.9h-.9zM598.4 441.6h.9v.9h-.9zM595.2 432.2h.9v.9h-.9zM617.5 443.1h.9v.9h-.9zM613.7 438.8h.9v.9h-.9zM594.1 437.0h.9v.9h-.9zM594.8 442.5h.9v.9h-.9zM600.0 445.6h.9v.9h-.9zM598.5 439.1h.9v.9h-.9zM604.3 447.1h.9v.9h-.9zM606.6 445.9h.9v.9h-.9zM588.5 429.0h.9v.9h-.9zM593.2 446.9h.9v.9h-.9zM590.2 429.4h.9v.9h-.9zM606.1 447.2h.9v.9h-.9zM592.7 425.3h.9v.9h-.9zM612.9 443.9h.9v.9h-.9zM597.3 440.7h.9v.9h-.9zM592.1 444.1h.9v.9h-.9zM594.6 427.3h.9v.9h-.9zM597.7 446.1h.9v.9h-.9zM604.7 446.8h.9v.9h-.9zM614.8 443.2h.9v.9h-.9zM613.6 445.6h.9v.9h-.9zM601.6 447.1h.9v.9h-.9zM612.7 445.4h.9v.9h-.9zM591.4 437.0h.9v.9h-.9zM598.3 445.6h.9v.9h-.9zM604.8 446.2h.9v.9h-.9zM592.5 430.7h.9v.9h-.9zM592.8 438.3h.9v.9h-.9zM600.2 446.3h.9v.9h-.9zM611.0 446.7h.9v.9h-.9zM592.7 444.9h.9v.9h-.9zM601.0 444.1h.9v.9h-.9zM594.2 425.4h.9v.9h-.9zM583.8 415.6h.9v.9h-.9zM604.1 446.6h.9v.9h-.9zM600.8 444.5h.9v.9h-.9zM606.2 446.4h.9v.9h-.9zM614.3 443.9h.9v.9h-.9zM588.7 439.7h.9v.9h-.9zM602.8 447.4h.9v.9h-.9zM596.6 430.6h.9v.9h-.9zM607.0 443.0h.9v.9h-.9zM613.9 447.1h.9v.9h-.9zM588.2 425.1h.9v.9h-.9zM604.1 447.4h.9v.9h-.9zM590.8 447.3h.9v.9h-.9zM614.5 430.1h.9v.9h-.9zM592.8 443.7h.9v.9h-.9zM594.9 441.2h.9v.9h-.9zM587.1 345.0h.9v.9h-.9zM599.4 442.1h.9v.9h-.9zM605.8 447.3h.9v.9h-.9zM598.6 446.9h.9v.9h-.9zM592.7 446.3h.9v.9h-.9zM608.4 444.7h.9v.9h-.9zM607.9 443.5h.9v.9h-.9zM595.9 433.1h.9v.9h-.9zM590.9 428.5h.9v.9h-.9zM596.2 445.5h.9v.9h-.9zM605.0 443.4h.9v.9h-.9zM586.5 420.4h.9v.9h-.9zM597.5 440.9h.9v.9h-.9zM598.4 438.7h.9v.9h-.9zM594.9 434.0h.9v.9h-.9zM589.6 436.9h.9v.9h-.9zM609.9 447.0h.9v.9h-.9zM591.4 435.7h.9v.9h-.9zM600.1 443.5h.9v.9h-.9zM597.9 440.4h.9v.9h-.9zM614.4 442.4h.9v.9h-.9zM594.8 431.9h.9v.9h-.9zM606.7 446.7h.9v.9h-.9zM591.6 442.3h.9v.9h-.9zM590.5 444.0h.9v.9h-.9zM586.4 446.4h.9v.9h-.9zM592.7 446.5h.9v.9h-.9zM610.7 446.7h.9v.9h-.9zM593.7 436.4h.9v.9h-.9zM587.1 446.2h.9v.9h-.9zM618.2 439.9h.9v.9h-.9zM599.9 446.4h.9v.9h-.9zM609.5 444.0h.9v.9h-.9zM608.8 445.4h.9v.9h-.9zM612.3 442.3h.9v.9h-.9zM601.9 446.9h.9v.9h-.9zM611.6 443.1h.9v.9h-.9zM614.6 439.4h.9v.9h-.9zM596.0 433.2h.9v.9h-.9zM615.3 443.6h.9v.9h-.9zM613.8 444.7h.9v.9h-.9zM613.4 446.0h.9v.9h-.9zM609.5 447.0h.9v.9h-.9zM601.8 447.3h.9v.9h-.9zM608.3 440.7h.9v.9h-.9zM595.1 438.4h.9v.9h-.9zM612.9 439.5h.9v.9h-.9zM610.9 446.6h.9v.9h-.9zM617.5 431.3h.9v.9h-.9zM607.8 440.9h.9v.9h-.9zM612.7 438.1h.9v.9h-.9zM596.7 447.3h.9v.9h-.9zM615.3 439.5h.9v.9h-.9zM588.3 446.9h.9v.9h-.9zM598.7 445.1h.9v.9h-.9zM594.9 430.9h.9v.9h-.9zM605.7 444.9h.9v.9h-.9zM592.7 437.8h.9v.9h-.9zM598.5 438.6h.9v.9h-.9zM597.4 446.2h.9v.9h-.9zM594.2 442.7h.9v.9h-.9zM615.4 447.4h.9v.9h-.9zM586.0 443.1h.9v.9h-.9zM599.4 445.5h.9v.9h-.9zM603.1 447.3h.9v.9h-.9zM598.0 444.7h.9v.9h-.9zM616.4 436.4h.9v.9h-.9zM604.8 444.9h.9v.9h-.9zM614.8 440.2h.9v.9h-.9zM600.4 447.0h.9v.9h-.9zM594.9 443.0h.9v.9h-.9zM624.0 429.6h.9v.9h-.9zM608.1 427.0h.9v.9h-.9zM608.6 442.8h.9v.9h-.9zM598.6 447.3h.9v.9h-.9zM612.1 447.3h.9v.9h-.9zM607.3 445.8h.9v.9h-.9zM594.8 434.1h.9v.9h-.9zM599.6 446.8h.9v.9h-.9zM595.0 430.6h.9v.9h-.9zM595.6 445.1h.9v.9h-.9zM601.7 445.7h.9v.9h-.9zM603.6 447.0h.9v.9h-.9zM613.3 436.1h.9v.9h-.9zM586.2 436.3h.9v.9h-.9zM604.0 447.0h.9v.9h-.9zM595.1 441.0h.9v.9h-.9zM599.8 443.7h.9v.9h-.9zM599.6 435.3h.9v.9h-.9zM620.5 442.0h.9v.9h-.9zM591.9 422.7h.9v.9h-.9zM612.0 434.9h.9v.9h-.9zM601.6 439.2h.9v.9h-.9zM603.8 447.0h.9v.9h-.9zM592.7 441.1h.9v.9h-.9zM614.5 432.5h.9v.9h-.9zM621.4 395.9h.9v.9h-.9zM598.8 440.4h.9v.9h-.9zM615.6 443.9h.9v.9h-.9zM594.2 445.2h.9v.9h-.9zM615.0 438.5h.9v.9h-.9zM598.5 447.2h.9v.9h-.9zM613.4 438.9h.9v.9h-.9zM585.2 439.3h.9v.9h-.9zM610.5 447.1h.9v.9h-.9zM594.5 415.3h.9v.9h-.9zM615.9 447.2h.9v.9h-.9zM600.3 444.1h.9v.9h-.9zM604.0 447.3h.9v.9h-.9zM594.1 447.2h.9v.9h-.9zM596.5 428.8h.9v.9h-.9zM611.9 447.0h.9v.9h-.9zM607.0 447.0h.9v.9h-.9zM598.1 431.3h.9v.9h-.9zM588.5 432.1h.9v.9h-.9zM610.9 444.1h.9v.9h-.9zM592.0 433.3h.9v.9h-.9zM590.3 426.2h.9v.9h-.9zM615.8 444.0h.9v.9h-.9zM598.2 435.2h.9v.9h-.9zM591.7 437.4h.9v.9h-.9zM608.9 445.9h.9v.9h-.9zM599.3 442.3h.9v.9h-.9zM595.4 418.6h.9v.9h-.9zM614.5 447.3h.9v.9h-.9zM609.3 441.2h.9v.9h-.9zM599.1 443.3h.9v.9h-.9zM601.2 445.4h.9v.9h-.9zM596.1 425.6h.9v.9h-.9zM625.6 444.4h.9v.9h-.9zM616.1 447.3h.9v.9h-.9zM590.9 427.9h.9v.9h-.9zM611.0 438.2h.9v.9h-.9zM598.1 433.1h.9v.9h-.9zM612.8 436.4h.9v.9h-.9zM601.7 446.3h.9v.9h-.9zM610.6 447.0h.9v.9h-.9zM610.1 444.8h.9v.9h-.9zM583.7 439.4h.9v.9h-.9zM603.0 447.3h.9v.9h-.9zM626.8 444.3h.9v.9h-.9zM591.4 446.8h.9v.9h-.9zM600.9 446.6h.9v.9h-.9zM596.6 445.9h.9v.9h-.9zM603.2 447.4h.9v.9h-.9zM595.5 428.9h.9v.9h-.9zM598.8 442.6h.9v.9h-.9zM607.0 447.0h.9v.9h-.9zM594.2 427.4h.9v.9h-.9zM596.8 428.8h.9v.9h-.9zM614.4 436.4h.9v.9h-.9zM600.7 441.8h.9v.9h-.9zM591.1 446.0h.9v.9h-.9zM591.5 442.9h.9v.9h-.9zM610.7 438.0h.9v.9h-.9zM596.6 444.7h.9v.9h-.9zM598.6 443.9h.9v.9h-.9zM594.9 440.7h.9v.9h-.9zM589.9 438.3h.9v.9h-.9zM595.9 436.5h.9v.9h-.9zM597.5 425.9h.9v.9h-.9zM598.2 434.2h.9v.9h-.9zM592.9 442.3h.9v.9h-.9zM611.7 445.1h.9v.9h-.9zM608.4 442.7h.9v.9h-.9zM606.7 444.2h.9v.9h-.9zM614.5 437.3h.9v.9h-.9zM618.2 437.6h.9v.9h-.9zM606.4 446.2h.9v.9h-.9zM598.3 432.9h.9v.9h-.9zM587.4 428.9h.9v.9h-.9zM600.1 440.9h.9v.9h-.9zM609.3 444.6h.9v.9h-.9zM594.5 447.3h.9v.9h-.9zM587.7 416.9h.9v.9h-.9zM616.1 440.2h.9v.9h-.9zM606.9 441.6h.9v.9h-.9zM600.7 447.3h.9v.9h-.9zM592.5 437.8h.9v.9h-.9zM590.2 447.4h.9v.9h-.9zM586.8 430.0h.9v.9h-.9zM618.2 424.7h.9v.9h-.9zM607.1 445.1h.9v.9h-.9zM588.6 435.8h.9v.9h-.9zM594.3 433.2h.9v.9h-.9zM587.7 434.1h.9v.9h-.9zM607.4 445.8h.9v.9h-.9zM591.8 440.3h.9v.9h-.9zM617.8 436.5h.9v.9h-.9zM593.8 424.1h.9v.9h-.9zM592.5 439.6h.9v.9h-.9zM599.1 443.2h.9v.9h-.9zM624.7 437.3h.9v.9h-.9zM592.6 446.2h.9v.9h-.9zM603.0 447.4h.9v.9h-.9zM606.5 445.2h.9v.9h-.9zM600.4 440.8h.9v.9h-.9zM609.4 443.0h.9v.9h-.9zM597.2 434.6h.9v.9h-.9zM591.4 446.4h.9v.9h-.9zM589.9 441.1h.9v.9h-.9zM589.9 420.5h.9v.9h-.9zM596.9 438.4h.9v.9h-.9zM618.2 419.6h.9v.9h-.9zM592.6 430.3h.9v.9h-.9zM607.0 444.9h.9v.9h-.9zM594.9 443.3h.9v.9h-.9zM597.8 445.4h.9v.9h-.9zM596.0 443.9h.9v.9h-.9zM612.2 433.7h.9v.9h-.9zM594.6 429.3h.9v.9h-.9zM596.6 433.3h.9v.9h-.9zM605.5 445.4h.9v.9h-.9zM601.3 442.8h.9v.9h-.9zM607.4 447.2h.9v.9h-.9zM600.5 441.7h.9v.9h-.9zM589.2 427.8h.9v.9h-.9zM606.6 444.1h.9v.9h-.9zM582.0 443.5h.9v.9h-.9zM589.7 419.8h.9v.9h-.9zM602.0 445.4h.9v.9h-.9zM610.2 446.6h.9v.9h-.9zM591.2 423.9h.9v.9h-.9zM612.8 428.6h.9v.9h-.9zM611.3 436.1h.9v.9h-.9zM612.8 442.9h.9v.9h-.9zM623.6 422.2h.9v.9h-.9zM588.1 429.0h.9v.9h-.9zM587.3 444.8h.9v.9h-.9zM591.9 445.7h.9v.9h-.9zM609.8 437.8h.9v.9h-.9zM595.2 435.0h.9v.9h-.9zM618.2 443.4h.9v.9h-.9zM591.9 421.8h.9v.9h-.9zM589.6 443.0h.9v.9h-.9zM615.3 436.8h.9v.9h-.9zM592.5 426.6h.9v.9h-.9zM599.2 444.4h.9v.9h-.9zM601.9 444.4h.9v.9h-.9zM587.0 387.7h.9v.9h-.9zM610.2 447.2h.9v.9h-.9zM609.8 440.9h.9v.9h-.9zM617.8 430.5h.9v.9h-.9zM615.3 440.8h.9v.9h-.9zM612.0 447.1h.9v.9h-.9zM603.7 447.0h.9v.9h-.9zM608.5 447.2h.9v.9h-.9zM602.6 446.8h.9v.9h-.9zM603.6 447.4h.9v.9h-.9zM616.7 445.7h.9v.9h-.9zM605.6 447.3h.9v.9h-.9zM598.6 441.5h.9v.9h-.9zM612.5 446.4h.9v.9h-.9zM593.1 428.6h.9v.9h-.9zM599.3 446.9h.9v.9h-.9zM612.0 441.2h.9v.9h-.9zM587.9 427.7h.9v.9h-.9zM612.2 439.1h.9v.9h-.9zM595.5 412.5h.9v.9h-.9zM596.9 441.6h.9v.9h-.9zM593.4 433.2h.9v.9h-.9zM594.0 433.3h.9v.9h-.9zM589.4 439.8h.9v.9h-.9zM601.0 444.1h.9v.9h-.9zM590.4 444.8h.9v.9h-.9zM618.2 426.8h.9v.9h-.9zM597.8 447.0h.9v.9h-.9zM609.1 444.8h.9v.9h-.9zM589.7 404.3h.9v.9h-.9zM600.8 443.8h.9v.9h-.9zM614.4 436.3h.9v.9h-.9zM586.8 418.6h.9v.9h-.9zM596.2 440.7h.9v.9h-.9zM589.7 428.7h.9v.9h-.9zM601.0 442.4h.9v.9h-.9zM612.3 438.0h.9v.9h-.9zM618.6 442.3h.9v.9h-.9zM598.7 441.7h.9v.9h-.9zM612.2 444.1h.9v.9h-.9zM594.2 447.2h.9v.9h-.9zM607.1 445.9h.9v.9h-.9zM602.5 446.6h.9v.9h-.9zM590.3 436.9h.9v.9h-.9zM603.2 447.4h.9v.9h-.9zM594.6 429.7h.9v.9h-.9zM611.2 444.7h.9v.9h-.9zM592.9 443.4h.9v.9h-.9zM593.4 439.3h.9v.9h-.9zM590.4 444.8h.9v.9h-.9zM605.5 447.2h.9v.9h-.9zM609.5 440.3h.9v.9h-.9zM616.8 446.7h.9v.9h-.9zM593.7 446.5h.9v.9h-.9zM609.1 447.0h.9v.9h-.9zM610.8 438.2h.9v.9h-.9zM609.1 437.4h.9v.9h-.9zM612.5 430.4h.9v.9h-.9zM611.9 441.5h.9v.9h-.9zM598.0 441.5h.9v.9h-.9zM594.0 445.3h.9v.9h-.9zM592.2 431.2h.9v.9h-.9zM613.9 444.9h.9v.9h-.9zM598.2 441.0h.9v.9h-.9zM604.4 446.7h.9v.9h-.9zM602.9 446.9h.9v.9h-.9zM616.3 426.6h.9v.9h-.9zM613.0 441.0h.9v.9h-.9zM606.4 441.4h.9v.9h-.9zM595.5 436.4h.9v.9h-.9zM589.1 444.8h.9v.9h-.9zM597.7 437.0h.9v.9h-.9zM585.7 443.6h.9v.9h-.9zM616.2 447.3h.9v.9h-.9zM597.9 441.3h.9v.9h-.9zM615.9 443.9h.9v.9h-.9zM593.0 433.9h.9v.9h-.9zM607.8 447.1h.9v.9h-.9zM595.8 439.2h.9v.9h-.9zM601.8 445.9h.9v.9h-.9zM611.0 445.1h.9v.9h-.9zM594.5 447.2h.9v.9h-.9zM588.6 417.5h.9v.9h-.9zM594.4 446.1h.9v.9h-.9zM606.4 438.1h.9v.9h-.9zM597.7 443.4h.9v.9h-.9zM613.9 440.5h.9v.9h-.9zM595.9 446.3h.9v.9h-.9zM611.5 444.0h.9v.9h-.9zM603.9 447.3h.9v.9h-.9zM613.6 440.2h.9v.9h-.9zM589.5 416.9h.9v.9h-.9zM603.1 447.3h.9v.9h-.9zM592.8 446.3h.9v.9h-.9zM600.2 443.2h.9v.9h-.9zM616.0 426.5h.9v.9h-.9zM604.6 446.5h.9v.9h-.9zM590.3 445.7h.9v.9h-.9zM587.6 418.2h.9v.9h-.9zM592.8 431.2h.9v.9h-.9zM611.4 441.2h.9v.9h-.9zM595.6 443.0h.9v.9h-.9zM597.3 415.8h.9v.9h-.9zM617.3 427.1h.9v.9h-.9zM586.7 415.9h.9v.9h-.9zM599.0 438.8h.9v.9h-.9zM601.6 441.7h.9v.9h-.9zM594.9 422.3h.9v.9h-.9zM602.3 446.8h.9v.9h-.9zM596.1 442.7h.9v.9h-.9zM591.5 444.3h.9v.9h-.9zM610.1 441.3h.9v.9h-.9zM593.4 445.6h.9v.9h-.9zM597.8 427.2h.9v.9h-.9zM593.1 417.8h.9v.9h-.9zM622.7 424.7h.9v.9h-.9zM589.2 434.2h.9v.9h-.9zM594.7 428.2h.9v.9h-.9zM601.8 443.9h.9v.9h-.9zM594.7 430.3h.9v.9h-.9zM605.3 446.7h.9v.9h-.9zM598.7 435.5h.9v.9h-.9zM603.0 447.2h.9v.9h-.9zM599.8 439.5h.9v.9h-.9zM610.9 446.6h.9v.9h-.9zM601.1 446.1h.9v.9h-.9zM586.9 441.7h.9v.9h-.9zM596.6 438.8h.9v.9h-.9zM591.1 416.4h.9v.9h-.9zM581.9 444.9h.9v.9h-.9zM596.5 435.7h.9v.9h-.9zM595.8 446.4h.9v.9h-.9zM605.7 443.7h.9v.9h-.9zM610.3 447.3h.9v.9h-.9zM589.9 435.6h.9v.9h-.9zM594.8 431.3h.9v.9h-.9zM594.0 435.5h.9v.9h-.9zM604.6 446.2h.9v.9h-.9zM595.3 447.3h.9v.9h-.9zM601.4 446.1h.9v.9h-.9zM599.5 441.1h.9v.9h-.9zM594.9 436.3h.9v.9h-.9zM598.2 446.2h.9v.9h-.9zM593.8 419.4h.9v.9h-.9zM599.9 444.5h.9v.9h-.9zM608.0 446.1h.9v.9h-.9zM589.8 421.4h.9v.9h-.9zM599.5 447.1h.9v.9h-.9zM611.0 439.4h.9v.9h-.9zM618.7 439.7h.9v.9h-.9zM611.4 443.0h.9v.9h-.9zM599.9 441.7h.9v.9h-.9zM596.7 444.3h.9v.9h-.9zM618.9 442.8h.9v.9h-.9zM614.3 434.5h.9v.9h-.9zM586.6 445.8h.9v.9h-.9zM596.3 405.8h.9v.9h-.9zM587.0 434.3h.9v.9h-.9zM597.0 429.5h.9v.9h-.9zM594.2 424.9h.9v.9h-.9zM589.2 447.2h.9v.9h-.9zM612.0 442.1h.9v.9h-.9zM601.0 439.8h.9v.9h-.9zM588.0 438.8h.9v.9h-.9zM592.4 434.8h.9v.9h-.9zM604.1 447.4h.9v.9h-.9zM612.4 447.2h.9v.9h-.9zM620.7 444.3h.9v.9h-.9zM592.6 434.5h.9v.9h-.9zM612.1 441.8h.9v.9h-.9zM598.0 440.3h.9v.9h-.9zM585.3 435.1h.9v.9h-.9zM600.6 441.1h.9v.9h-.9zM587.3 422.8h.9v.9h-.9zM595.4 432.6h.9v.9h-.9zM609.5 443.8h.9v.9h-.9zM601.6 439.1h.9v.9h-.9zM615.6 426.6h.9v.9h-.9zM609.7 439.9h.9v.9h-.9zM609.7 443.4h.9v.9h-.9zM605.6 446.5h.9v.9h-.9zM592.6 438.8h.9v.9h-.9zM616.2 435.1h.9v.9h-.9zM618.7 418.4h.9v.9h-.9zM599.0 424.6h.9v.9h-.9zM583.1 434.8h.9v.9h-.9zM602.1 446.2h.9v.9h-.9zM587.3 437.6h.9v.9h-.9zM595.6 446.3h.9v.9h-.9zM596.3 445.9h.9v.9h-.9zM608.7 444.2h.9v.9h-.9zM606.1 444.9h.9v.9h-.9zM614.4 437.3h.9v.9h-.9zM608.6 442.4h.9v.9h-.9zM622.1 442.2h.9v.9h-.9zM596.1 447.2h.9v.9h-.9zM592.9 435.9h.9v.9h-.9zM611.2 434.4h.9v.9h-.9zM592.0 445.0h.9v.9h-.9zM598.9 444.5h.9v.9h-.9zM605.3 446.1h.9v.9h-.9zM592.4 446.9h.9v.9h-.9zM612.5 441.8h.9v.9h-.9zM595.5 436.2h.9v.9h-.9zM610.0 445.3h.9v.9h-.9zM587.8 404.2h.9v.9h-.9zM611.1 446.4h.9v.9h-.9zM592.6 445.3h.9v.9h-.9zM606.3 445.6h.9v.9h-.9zM587.6 435.9h.9v.9h-.9zM600.8 442.3h.9v.9h-.9zM591.6 438.5h.9v.9h-.9zM604.2 447.4h.9v.9h-.9zM599.6 444.7h.9v.9h-.9zM593.6 446.0h.9v.9h-.9zM595.5 428.2h.9v.9h-.9zM599.7 447.2h.9v.9h-.9zM596.2 435.1h.9v.9h-.9zM592.0 436.1h.9v.9h-.9zM599.0 433.3h.9v.9h-.9zM620.3 415.6h.9v.9h-.9zM609.1 444.3h.9v.9h-.9zM601.4 444.5h.9v.9h-.9zM590.8 430.6h.9v.9h-.9zM601.8 446.5h.9v.9h-.9zM612.0 446.5h.9v.9h-.9zM591.5 444.3h.9v.9h-.9zM596.2 425.6h.9v.9h-.9zM616.3 441.5h.9v.9h-.9zM594.1 443.6h.9v.9h-.9zM608.3 447.1h.9v.9h-.9zM591.6 402.2h.9v.9h-.9zM598.5 443.4h.9v.9h-.9zM606.4 444.5h.9v.9h-.9zM592.6 442.5h.9v.9h-.9zM595.5 447.0h.9v.9h-.9zM598.0 444.9h.9v.9h-.9zM602.3 446.0h.9v.9h-.9zM612.0 440.3h.9v.9h-.9zM591.1 413.8h.9v.9h-.9zM599.2 439.6h.9v.9h-.9zM610.7 436.7h.9v.9h-.9zM600.3 444.4h.9v.9h-.9zM594.0 436.2h.9v.9h-.9zM590.5 447.1h.9v.9h-.9zM602.6 446.9h.9v.9h-.9zM597.1 442.2h.9v.9h-.9zM591.4 441.6h.9v.9h-.9zM587.8 408.3h.9v.9h-.9zM616.2 420.9h.9v.9h-.9zM595.3 445.1h.9v.9h-.9zM612.3 447.3h.9v.9h-.9zM596.1 421.9h.9v.9h-.9zM590.0 400.6h.9v.9h-.9zM606.6 446.4h.9v.9h-.9zM612.0 447.0h.9v.9h-.9zM616.7 441.0h.9v.9h-.9zM611.8 441.8h.9v.9h-.9zM613.0 446.6h.9v.9h-.9zM592.8 441.4h.9v.9h-.9zM613.5 444.2h.9v.9h-.9zM592.0 438.8h.9v.9h-.9zM623.7 426.8h.9v.9h-.9zM610.2 442.1h.9v.9h-.9zM591.9 426.9h.9v.9h-.9zM591.5 435.9h.9v.9h-.9zM618.1 427.8h.9v.9h-.9zM601.1 443.8h.9v.9h-.9zM589.5 412.2h.9v.9h-.9zM600.4 444.3h.9v.9h-.9zM591.8 416.5h.9v.9h-.9zM612.8 438.2h.9v.9h-.9zM595.2 437.3h.9v.9h-.9zM612.3 438.7h.9v.9h-.9zM602.4 446.1h.9v.9h-.9zM593.3 442.5h.9v.9h-.9zM612.9 444.2h.9v.9h-.9zM584.5 432.7h.9v.9h-.9zM618.7 447.4h.9v.9h-.9zM588.2 421.4h.9v.9h-.9zM589.1 427.5h.9v.9h-.9zM592.3 442.8h.9v.9h-.9zM603.6 447.3h.9v.9h-.9zM599.5 446.0h.9v.9h-.9zM594.5 429.7h.9v.9h-.9zM599.5 443.5h.9v.9h-.9zM612.5 444.2h.9v.9h-.9zM594.4 422.2h.9v.9h-.9zM609.8 446.5h.9v.9h-.9zM606.6 443.3h.9v.9h-.9zM600.9 446.7h.9v.9h-.9zM599.3 429.9h.9v.9h-.9zM593.5 431.5h.9v.9h-.9zM596.6 437.5h.9v.9h-.9zM618.0 436.3h.9v.9h-.9zM590.2 437.9h.9v.9h-.9zM605.7 442.0h.9v.9h-.9zM601.7 446.4h.9v.9h-.9zM617.8 438.2h.9v.9h-.9zM591.6 438.4h.9v.9h-.9zM611.6 438.6h.9v.9h-.9zM591.2 418.7h.9v.9h-.9zM608.0 446.3h.9v.9h-.9zM591.3 407.1h.9v.9h-.9zM609.6 447.2h.9v.9h-.9zM609.9 444.9h.9v.9h-.9zM621.3 434.1h.9v.9h-.9zM605.0 447.1h.9v.9h-.9zM598.4 445.4h.9v.9h-.9zM594.9 413.6h.9v.9h-.9zM605.8 447.4h.9v.9h-.9zM593.5 436.7h.9v.9h-.9zM597.9 442.6h.9v.9h-.9zM618.2 447.0h.9v.9h-.9zM596.1 440.9h.9v.9h-.9zM601.8 447.3h.9v.9h-.9zM597.3 439.7h.9v.9h-.9zM614.2 436.3h.9v.9h-.9zM596.6 440.4h.9v.9h-.9zM595.9 445.5h.9v.9h-.9zM589.6 436.3h.9v.9h-.9zM608.3 440.8h.9v.9h-.9zM582.8 422.1h.9v.9h-.9zM590.1 406.5h.9v.9h-.9zM611.6 445.9h.9v.9h-.9zM605.9 446.9h.9v.9h-.9zM615.5 428.9h.9v.9h-.9zM600.1 442.4h.9v.9h-.9zM597.5 446.3h.9v.9h-.9zM617.1 446.4h.9v.9h-.9zM595.9 435.4h.9v.9h-.9zM601.0 444.8h.9v.9h-.9zM610.8 441.0h.9v.9h-.9zM597.5 441.2h.9v.9h-.9zM602.2 447.0h.9v.9h-.9zM598.6 446.4h.9v.9h-.9zM616.9 447.2h.9v.9h-.9zM588.8 419.5h.9v.9h-.9zM591.5 441.1h.9v.9h-.9zM608.5 443.8h.9v.9h-.9zM589.3 446.9h.9v.9h-.9zM612.7 438.7h.9v.9h-.9zM600.5 446.2h.9v.9h-.9zM595.2 444.4h.9v.9h-.9zM595.9 432.4h.9v.9h-.9zM596.2 447.2h.9v.9h-.9zM589.2 421.1h.9v.9h-.9zM612.9 440.4h.9v.9h-.9zM604.7 446.4h.9v.9h-.9zM605.3 447.1h.9v.9h-.9zM604.0 446.9h.9v.9h-.9zM603.6 447.2h.9v.9h-.9zM597.0 432.2h.9v.9h-.9zM621.5 445.1h.9v.9h-.9zM614.4 442.1h.9v.9h-.9zM607.9 445.6h.9v.9h-.9zM612.5 447.2h.9v.9h-.9zM597.6 447.1h.9v.9h-.9zM594.9 440.8h.9v.9h-.9zM593.5 439.3h.9v.9h-.9zM595.3 446.9h.9v.9h-.9zM610.6 444.2h.9v.9h-.9zM591.8 431.4h.9v.9h-.9zM588.3 424.4h.9v.9h-.9zM612.5 443.5h.9v.9h-.9zM596.0 446.0h.9v.9h-.9zM591.0 419.3h.9v.9h-.9zM595.7 436.4h.9v.9h-.9zM587.3 439.9h.9v.9h-.9zM596.1 445.0h.9v.9h-.9zM602.8 447.2h.9v.9h-.9zM617.5 438.1h.9v.9h-.9zM594.2 441.9h.9v.9h-.9zM594.6 426.6h.9v.9h-.9zM615.0 441.8h.9v.9h-.9zM592.8 424.5h.9v.9h-.9zM595.4 447.0h.9v.9h-.9zM602.4 446.4h.9v.9h-.9zM602.9 447.1h.9v.9h-.9zM604.0 447.3h.9v.9h-.9zM613.0 445.2h.9v.9h-.9zM621.0 440.9h.9v.9h-.9zM605.1 447.1h.9v.9h-.9zM600.9 445.0h.9v.9h-.9zM594.6 446.9h.9v.9h-.9zM593.3 426.8h.9v.9h-.9zM606.8 444.1h.9v.9h-.9zM600.9 444.8h.9v.9h-.9zM594.0 399.1h.9v.9h-.9zM594.3 446.2h.9v.9h-.9zM598.8 444.3h.9v.9h-.9zM609.0 447.2h.9v.9h-.9zM602.2 442.6h.9v.9h-.9zM598.2 446.6h.9v.9h-.9zM596.1 432.4h.9v.9h-.9zM613.7 443.9h.9v.9h-.9zM593.1 417.0h.9v.9h-.9zM592.4 433.1h.9v.9h-.9zM597.6 446.2h.9v.9h-.9zM590.5 424.2h.9v.9h-.9zM606.5 438.8h.9v.9h-.9zM612.9 446.3h.9v.9h-.9zM613.9 447.1h.9v.9h-.9zM586.0 436.8h.9v.9h-.9zM610.0 440.7h.9v.9h-.9zM612.8 442.5h.9v.9h-.9zM618.4 431.9h.9v.9h-.9zM596.8 436.4h.9v.9h-.9zM613.5 439.5h.9v.9h-.9zM595.4 420.9h.9v.9h-.9zM591.2 443.6h.9v.9h-.9zM596.3 444.2h.9v.9h-.9zM604.8 447.4h.9v.9h-.9zM610.0 446.2h.9v.9h-.9zM607.0 447.0h.9v.9h-.9zM597.4 441.3h.9v.9h-.9zM599.4 442.8h.9v.9h-.9zM594.1 447.3h.9v.9h-.9zM596.7 436.6h.9v.9h-.9zM618.6 439.9h.9v.9h-.9zM608.3 446.4h.9v.9h-.9zM609.8 444.4h.9v.9h-.9zM597.5 443.0h.9v.9h-.9zM607.9 436.3h.9v.9h-.9zM598.2 433.9h.9v.9h-.9zM592.2 445.9h.9v.9h-.9zM620.5 434.0h.9v.9h-.9zM615.4 447.3h.9v.9h-.9zM598.5 447.3h.9v.9h-.9zM609.8 446.0h.9v.9h-.9zM587.0 441.0h.9v.9h-.9zM613.7 443.9h.9v.9h-.9zM594.9 440.3h.9v.9h-.9zM610.4 442.5h.9v.9h-.9zM599.6 443.0h.9v.9h-.9zM595.8 432.4h.9v.9h-.9zM586.3 446.0h.9v.9h-.9zM596.7 446.0h.9v.9h-.9zM610.6 445.0h.9v.9h-.9zM596.2 423.1h.9v.9h-.9zM592.4 443.4h.9v.9h-.9zM596.1 445.6h.9v.9h-.9zM605.8 447.1h.9v.9h-.9zM596.5 441.2h.9v.9h-.9zM586.1 446.9h.9v.9h-.9zM585.2 402.2h.9v.9h-.9zM611.2 439.8h.9v.9h-.9zM597.3 431.9h.9v.9h-.9zM614.2 447.3h.9v.9h-.9zM597.4 440.2h.9v.9h-.9zM602.4 445.2h.9v.9h-.9zM595.1 416.5h.9v.9h-.9zM599.5 433.6h.9v.9h-.9zM594.8 415.9h.9v.9h-.9zM619.6 428.1h.9v.9h-.9zM610.2 446.1h.9v.9h-.9zM603.7 446.9h.9v.9h-.9zM598.4 438.0h.9v.9h-.9zM601.9 445.3h.9v.9h-.9zM598.1 446.7h.9v.9h-.9zM590.1 437.5h.9v.9h-.9zM599.1 441.7h.9v.9h-.9zM590.4 434.0h.9v.9h-.9zM597.3 446.9h.9v.9h-.9zM595.3 424.8h.9v.9h-.9zM599.5 442.5h.9v.9h-.9zM603.3 447.4h.9v.9h-.9zM591.3 415.2h.9v.9h-.9zM598.9 446.5h.9v.9h-.9zM593.2 421.2h.9v.9h-.9zM613.6 445.9h.9v.9h-.9zM594.4 446.5h.9v.9h-.9zM609.3 435.2h.9v.9h-.9zM591.9 446.5h.9v.9h-.9zM592.9 431.3h.9v.9h-.9zM608.4 445.9h.9v.9h-.9zM593.6 443.2h.9v.9h-.9zM618.2 432.2h.9v.9h-.9zM591.3 444.1h.9v.9h-.9zM594.5 434.9h.9v.9h-.9zM590.8 437.2h.9v.9h-.9zM595.4 432.1h.9v.9h-.9zM622.9 418.9h.9v.9h-.9zM599.8 446.2h.9v.9h-.9zM603.9 446.4h.9v.9h-.9zM623.3 441.6h.9v.9h-.9zM611.4 431.3h.9v.9h-.9zM616.6 445.8h.9v.9h-.9zM607.8 443.5h.9v.9h-.9zM594.2 430.7h.9v.9h-.9zM594.5 442.6h.9v.9h-.9zM592.9 428.6h.9v.9h-.9zM593.7 419.3h.9v.9h-.9zM614.3 442.3h.9v.9h-.9zM593.1 447.4h.9v.9h-.9zM612.2 445.0h.9v.9h-.9zM619.7 432.7h.9v.9h-.9zM588.0 439.7h.9v.9h-.9zM615.8 447.0h.9v.9h-.9zM614.5 442.3h.9v.9h-.9zM594.7 446.2h.9v.9h-.9zM609.3 447.3h.9v.9h-.9zM597.4 447.0h.9v.9h-.9zM603.1 447.3h.9v.9h-.9zM589.6 432.0h.9v.9h-.9zM588.0 434.6h.9v.9h-.9zM602.7 446.4h.9v.9h-.9zM601.7 447.2h.9v.9h-.9zM600.6 441.6h.9v.9h-.9zM599.8 446.0h.9v.9h-.9zM608.5 440.0h.9v.9h-.9zM597.5 442.2h.9v.9h-.9zM594.2 440.0h.9v.9h-.9zM601.3 443.5h.9v.9h-.9zM613.3 443.5h.9v.9h-.9zM589.7 431.5h.9v.9h-.9zM606.0 442.9h.9v.9h-.9zM609.4 446.1h.9v.9h-.9zM594.5 445.9h.9v.9h-.9zM599.8 445.0h.9v.9h-.9zM614.7 447.4h.9v.9h-.9zM595.2 433.4h.9v.9h-.9zM612.1 443.1h.9v.9h-.9zM614.7 447.0h.9v.9h-.9zM615.7 445.6h.9v.9h-.9zM592.0 426.9h.9v.9h-.9zM610.6 442.5h.9v.9h-.9zM600.6 445.9h.9v.9h-.9zM599.6 444.6h.9v.9h-.9zM607.9 444.2h.9v.9h-.9zM594.9 438.3h.9v.9h-.9zM609.1 446.5h.9v.9h-.9zM617.2 428.9h.9v.9h-.9zM614.3 438.7h.9v.9h-.9zM614.4 444.9h.9v.9h-.9zM589.4 415.3h.9v.9h-.9zM600.9 446.0h.9v.9h-.9zM598.0 433.8h.9v.9h-.9zM599.9 441.8h.9v.9h-.9zM604.5 446.7h.9v.9h-.9zM588.1 416.4h.9v.9h-.9zM607.3 446.6h.9v.9h-.9zM604.2 446.2h.9v.9h-.9zM615.9 436.0h.9v.9h-.9zM618.8 439.4h.9v.9h-.9zM631.2 427.3h.9v.9h-.9zM604.2 444.5h.9v.9h-.9zM599.3 438.5h.9v.9h-.9zM593.4 431.0h.9v.9h-.9zM595.4 446.9h.9v.9h-.9zM595.6 447.3h.9v.9h-.9zM595.7 447.1h.9v.9h-.9zM590.1 426.3h.9v.9h-.9zM614.8 443.6h.9v.9h-.9zM585.5 421.2h.9v.9h-.9zM607.2 443.7h.9v.9h-.9zM619.5 444.1h.9v.9h-.9zM610.0 446.9h.9v.9h-.9zM610.9 447.2h.9v.9h-.9zM589.4 447.2h.9v.9h-.9zM589.9 444.0h.9v.9h-.9zM598.4 441.3h.9v.9h-.9zM599.9 437.0h.9v.9h-.9zM610.5 447.2h.9v.9h-.9zM599.3 439.2h.9v.9h-.9zM597.8 446.7h.9v.9h-.9zM612.6 446.7h.9v.9h-.9zM612.6 440.3h.9v.9h-.9zM605.8 446.3h.9v.9h-.9zM601.9 446.6h.9v.9h-.9zM594.7 446.3h.9v.9h-.9zM612.9 438.0h.9v.9h-.9zM599.0 442.6h.9v.9h-.9zM594.6 431.6h.9v.9h-.9zM613.6 431.4h.9v.9h-.9zM614.5 443.8h.9v.9h-.9zM602.4 446.1h.9v.9h-.9zM599.1 447.3h.9v.9h-.9zM607.2 445.3h.9v.9h-.9zM602.5 446.8h.9v.9h-.9zM615.0 447.0h.9v.9h-.9zM591.9 403.5h.9v.9h-.9zM590.4 399.5h.9v.9h-.9zM599.0 441.1h.9v.9h-.9zM595.9 435.3h.9v.9h-.9zM617.7 444.9h.9v.9h-.9zM598.5 439.2h.9v.9h-.9zM610.9 444.8h.9v.9h-.9zM609.7 443.5h.9v.9h-.9zM618.2 433.1h.9v.9h-.9zM611.6 437.3h.9v.9h-.9zM604.7 446.0h.9v.9h-.9zM594.9 445.9h.9v.9h-.9zM591.9 437.0h.9v.9h-.9zM605.1 444.9h.9v.9h-.9zM598.3 440.9h.9v.9h-.9zM629.9 446.1h.9v.9h-.9zM597.2 443.0h.9v.9h-.9zM610.6 441.1h.9v.9h-.9zM591.1 434.8h.9v.9h-.9zM606.3 447.0h.9v.9h-.9zM616.8 441.5h.9v.9h-.9zM587.7 420.9h.9v.9h-.9zM599.1 445.3h.9v.9h-.9zM598.6 442.6h.9v.9h-.9zM599.6 444.5h.9v.9h-.9zM590.8 444.0h.9v.9h-.9zM594.8 426.5h.9v.9h-.9zM591.0 424.7h.9v.9h-.9zM593.7 432.9h.9v.9h-.9zM610.7 446.1h.9v.9h-.9zM598.2 444.7h.9v.9h-.9zM600.9 446.0h.9v.9h-.9zM603.9 446.8h.9v.9h-.9zM585.0 428.9h.9v.9h-.9zM616.5 425.1h.9v.9h-.9zM595.9 446.5h.9v.9h-.9zM596.3 443.2h.9v.9h-.9zM622.1 425.9h.9v.9h-.9zM601.6 445.7h.9v.9h-.9zM610.7 441.6h.9v.9h-.9zM590.4 417.6h.9v.9h-.9zM610.0 445.6h.9v.9h-.9zM593.0 445.3h.9v.9h-.9zM613.5 438.2h.9v.9h-.9zM610.3 447.1h.9v.9h-.9zM608.4 446.8h.9v.9h-.9zM596.7 436.1h.9v.9h-.9zM598.6 445.6h.9v.9h-.9zM591.0 434.7h.9v.9h-.9zM610.8 439.5h.9v.9h-.9zM602.7 447.4h.9v.9h-.9zM614.3 442.2h.9v.9h-.9zM591.9 447.3h.9v.9h-.9zM605.5 443.5h.9v.9h-.9zM585.8 433.8h.9v.9h-.9zM590.4 446.7h.9v.9h-.9zM595.5 440.9h.9v.9h-.9zM593.1 432.7h.9v.9h-.9zM604.8 445.9h.9v.9h-.9zM606.5 444.1h.9v.9h-.9zM611.5 440.6h.9v.9h-.9zM598.1 440.1h.9v.9h-.9zM620.2 439.7h.9v.9h-.9zM600.4 447.2h.9v.9h-.9zM617.2 446.8h.9v.9h-.9zM601.0 446.9h.9v.9h-.9zM607.1 442.3h.9v.9h-.9zM618.2 447.0h.9v.9h-.9zM599.0 447.3h.9v.9h-.9zM608.8 445.5h.9v.9h-.9zM610.0 444.9h.9v.9h-.9zM592.8 411.5h.9v.9h-.9zM607.8 443.2h.9v.9h-.9zM609.7 443.0h.9v.9h-.9zM596.9 446.9h.9v.9h-.9zM606.0 444.2h.9v.9h-.9zM595.3 428.5h.9v.9h-.9zM584.0 430.3h.9v.9h-.9zM588.9 427.0h.9v.9h-.9zM586.0 422.8h.9v.9h-.9zM612.8 440.8h.9v.9h-.9zM602.1 446.0h.9v.9h-.9zM595.7 441.0h.9v.9h-.9zM602.1 444.8h.9v.9h-.9zM592.8 442.7h.9v.9h-.9zM613.9 439.8h.9v.9h-.9zM595.8 438.2h.9v.9h-.9zM591.4 445.5h.9v.9h-.9zM601.3 444.9h.9v.9h-.9zM595.3 405.6h.9v.9h-.9zM607.9 440.5h.9v.9h-.9zM600.8 447.0h.9v.9h-.9zM598.5 444.3h.9v.9h-.9zM591.8 435.1h.9v.9h-.9zM613.8 446.4h.9v.9h-.9zM610.4 439.6h.9v.9h-.9zM590.9 444.5h.9v.9h-.9zM602.8 447.3h.9v.9h-.9zM599.7 447.3h.9v.9h-.9zM596.9 445.5h.9v.9h-.9zM593.2 447.1h.9v.9h-.9zM590.6 426.2h.9v.9h-.9zM587.6 428.5h.9v.9h-.9zM597.0 434.8h.9v.9h-.9zM595.8 438.0h.9v.9h-.9zM611.0 446.3h.9v.9h-.9zM595.4 439.9h.9v.9h-.9zM610.1 441.3h.9v.9h-.9zM586.7 446.1h.9v.9h-.9zM602.8 446.9h.9v.9h-.9zM590.6 442.5h.9v.9h-.9zM597.9 441.8h.9v.9h-.9zM594.5 441.1h.9v.9h-.9zM600.3 444.0h.9v.9h-.9zM593.5 431.6h.9v.9h-.9zM596.0 430.3h.9v.9h-.9zM605.6 445.6h.9v.9h-.9zM597.2 447.1h.9v.9h-.9zM598.6 441.5h.9v.9h-.9zM613.0 445.8h.9v.9h-.9zM616.9 444.2h.9v.9h-.9zM620.0 426.2h.9v.9h-.9zM617.3 446.8h.9v.9h-.9zM598.6 437.7h.9v.9h-.9zM591.7 421.7h.9v.9h-.9zM601.6 444.3h.9v.9h-.9zM625.3 436.3h.9v.9h-.9zM598.8 443.6h.9v.9h-.9zM589.7 419.3h.9v.9h-.9zM592.6 431.0h.9v.9h-.9zM596.2 446.4h.9v.9h-.9zM602.3 446.1h.9v.9h-.9zM589.0 428.8h.9v.9h-.9zM592.9 445.8h.9v.9h-.9zM606.8 446.2h.9v.9h-.9zM607.5 441.8h.9v.9h-.9zM601.6 445.1h.9v.9h-.9zM598.6 420.9h.9v.9h-.9zM602.4 447.2h.9v.9h-.9zM600.3 445.4h.9v.9h-.9zM607.8 444.0h.9v.9h-.9zM602.2 446.6h.9v.9h-.9zM590.3 438.7h.9v.9h-.9zM611.3 443.0h.9v.9h-.9zM596.3 435.7h.9v.9h-.9zM597.9 438.6h.9v.9h-.9zM599.3 445.7h.9v.9h-.9zM596.6 446.6h.9v.9h-.9zM601.2 444.4h.9v.9h-.9zM595.7 445.5h.9v.9h-.9zM590.1 428.4h.9v.9h-.9zM594.6 436.9h.9v.9h-.9zM606.2 447.3h.9v.9h-.9zM595.5 437.9h.9v.9h-.9zM597.1 443.7h.9v.9h-.9zM597.6 441.9h.9v.9h-.9zM585.0 410.8h.9v.9h-.9zM597.3 446.9h.9v.9h-.9zM584.6 414.8h.9v.9h-.9zM590.4 418.3h.9v.9h-.9zM620.2 437.2h.9v.9h-.9zM597.6 442.6h.9v.9h-.9zM595.5 434.4h.9v.9h-.9zM615.7 443.3h.9v.9h-.9zM617.7 446.4h.9v.9h-.9zM598.3 434.9h.9v.9h-.9zM602.3 446.8h.9v.9h-.9zM606.4 447.4h.9v.9h-.9zM590.1 443.4h.9v.9h-.9zM590.8 427.4h.9v.9h-.9zM598.7 442.6h.9v.9h-.9zM605.9 445.1h.9v.9h-.9zM611.9 435.7h.9v.9h-.9zM607.5 446.7h.9v.9h-.9zM608.4 447.4h.9v.9h-.9zM615.6 433.4h.9v.9h-.9zM600.4 447.0h.9v.9h-.9zM588.9 443.3h.9v.9h-.9zM599.9 441.1h.9v.9h-.9zM589.2 427.1h.9v.9h-.9zM607.8 447.3h.9v.9h-.9zM597.8 443.8h.9v.9h-.9zM617.2 443.3h.9v.9h-.9zM596.1 434.3h.9v.9h-.9zM601.8 447.3h.9v.9h-.9zM594.2 445.9h.9v.9h-.9zM590.2 432.0h.9v.9h-.9zM603.2 447.4h.9v.9h-.9zM592.4 445.9h.9v.9h-.9zM592.7 447.1h.9v.9h-.9zM618.3 427.6h.9v.9h-.9zM610.0 440.7h.9v.9h-.9zM610.5 443.5h.9v.9h-.9zM605.2 447.2h.9v.9h-.9zM604.4 446.0h.9v.9h-.9zM587.5 426.9h.9v.9h-.9zM620.1 440.2h.9v.9h-.9zM607.4 442.1h.9v.9h-.9zM587.4 431.0h.9v.9h-.9zM604.3 446.0h.9v.9h-.9zM608.7 447.1h.9v.9h-.9zM592.0 439.2h.9v.9h-.9zM597.1 447.1h.9v.9h-.9zM598.9 436.3h.9v.9h-.9zM607.8 445.4h.9v.9h-.9zM605.6 445.3h.9v.9h-.9zM593.4 442.8h.9v.9h-.9zM602.0 445.9h.9v.9h-.9zM607.0 446.6h.9v.9h-.9zM607.8 444.2h.9v.9h-.9zM614.6 436.6h.9v.9h-.9zM595.3 433.6h.9v.9h-.9zM605.3 447.0h.9v.9h-.9zM606.2 445.8h.9v.9h-.9zM593.5 440.0h.9v.9h-.9zM616.1 446.7h.9v.9h-.9zM600.7 442.7h.9v.9h-.9zM593.9 447.2h.9v.9h-.9zM595.2 438.0h.9v.9h-.9zM592.1 425.5h.9v.9h-.9zM584.0 447.3h.9v.9h-.9zM601.3 445.7h.9v.9h-.9zM597.7 442.2h.9v.9h-.9zM584.0 421.0h.9v.9h-.9zM593.6 445.3h.9v.9h-.9zM615.1 446.8h.9v.9h-.9zM600.5 447.3h.9v.9h-.9zM609.2 445.4h.9v.9h-.9zM581.6 417.7h.9v.9h-.9zM599.2 443.3h.9v.9h-.9zM593.1 437.5h.9v.9h-.9zM611.9 446.0h.9v.9h-.9zM599.0 447.2h.9v.9h-.9zM598.8 443.4h.9v.9h-.9zM591.0 418.6h.9v.9h-.9zM590.7 445.3h.9v.9h-.9zM593.6 432.1h.9v.9h-.9zM617.9 445.3h.9v.9h-.9zM590.0 440.7h.9v.9h-.9zM596.1 439.7h.9v.9h-.9zM599.4 429.6h.9v.9h-.9zM612.3 445.1h.9v.9h-.9zM593.9 441.2h.9v.9h-.9zM597.7 419.4h.9v.9h-.9zM592.5 435.8h.9v.9h-.9zM592.6 446.9h.9v.9h-.9zM616.5 429.6h.9v.9h-.9zM606.7 445.8h.9v.9h-.9zM592.4 423.0h.9v.9h-.9zM610.7 446.8h.9v.9h-.9zM597.8 446.8h.9v.9h-.9zM591.1 417.0h.9v.9h-.9zM601.9 441.5h.9v.9h-.9zM593.9 446.5h.9v.9h-.9zM604.8 446.2h.9v.9h-.9zM590.5 405.8h.9v.9h-.9zM602.1 447.4h.9v.9h-.9zM596.7 441.2h.9v.9h-.9zM596.0 444.8h.9v.9h-.9zM602.0 447.4h.9v.9h-.9zM610.4 444.7h.9v.9h-.9zM603.6 447.3h.9v.9h-.9zM597.3 440.0h.9v.9h-.9zM601.5 445.6h.9v.9h-.9zM613.3 435.0h.9v.9h-.9zM613.7 440.6h.9v.9h-.9zM616.3 429.0h.9v.9h-.9zM594.7 436.7h.9v.9h-.9zM598.8 441.1h.9v.9h-.9zM595.6 443.7h.9v.9h-.9zM600.6 440.3h.9v.9h-.9zM610.0 439.9h.9v.9h-.9zM598.8 447.4h.9v.9h-.9zM613.0 438.6h.9v.9h-.9zM616.4 434.2h.9v.9h-.9zM598.1 445.7h.9v.9h-.9zM619.7 416.9h.9v.9h-.9zM609.2 446.6h.9v.9h-.9zM603.3 447.3h.9v.9h-.9zM614.1 442.3h.9v.9h-.9zM592.0 445.6h.9v.9h-.9zM608.4 446.4h.9v.9h-.9zM619.1 424.7h.9v.9h-.9zM612.7 443.3h.9v.9h-.9zM626.5 432.9h.9v.9h-.9zM615.0 444.4h.9v.9h-.9zM595.1 422.2h.9v.9h-.9zM592.8 445.1h.9v.9h-.9zM613.9 444.8h.9v.9h-.9zM588.9 440.1h.9v.9h-.9zM618.0 416.0h.9v.9h-.9zM594.3 426.5h.9v.9h-.9zM597.3 427.7h.9v.9h-.9zM592.9 440.8h.9v.9h-.9zM610.9 443.2h.9v.9h-.9zM597.8 442.7h.9v.9h-.9zM607.7 441.8h.9v.9h-.9zM609.1 443.8h.9v.9h-.9zM607.7 445.4h.9v.9h-.9zM591.2 435.5h.9v.9h-.9zM593.5 442.4h.9v.9h-.9zM610.0 447.3h.9v.9h-.9zM597.5 446.4h.9v.9h-.9zM596.1 432.6h.9v.9h-.9zM612.9 442.7h.9v.9h-.9zM601.3 441.8h.9v.9h-.9zM619.0 419.7h.9v.9h-.9zM587.3 415.3h.9v.9h-.9zM606.3 445.7h.9v.9h-.9zM612.2 436.1h.9v.9h-.9zM592.7 443.6h.9v.9h-.9zM591.0 426.2h.9v.9h-.9zM609.4 442.0h.9v.9h-.9zM589.3 430.5h.9v.9h-.9zM596.9 422.3h.9v.9h-.9zM595.7 442.4h.9v.9h-.9zM601.5 447.4h.9v.9h-.9zM600.6 444.7h.9v.9h-.9zM604.4 446.3h.9v.9h-.9zM601.5 444.1h.9v.9h-.9zM594.4 425.0h.9v.9h-.9zM601.8 441.1h.9v.9h-.9zM583.3 415.2h.9v.9h-.9zM589.2 440.8h.9v.9h-.9zM608.8 446.8h.9v.9h-.9zM592.3 446.0h.9v.9h-.9zM616.8 429.6h.9v.9h-.9zM593.4 444.2h.9v.9h-.9zM595.0 443.4h.9v.9h-.9zM595.2 445.3h.9v.9h-.9zM593.9 432.8h.9v.9h-.9zM608.4 442.8h.9v.9h-.9zM590.9 432.6h.9v.9h-.9zM605.4 446.8h.9v.9h-.9zM619.6 439.1h.9v.9h-.9zM589.8 404.3h.9v.9h-.9zM596.5 447.3h.9v.9h-.9zM619.6 439.6h.9v.9h-.9zM596.8 446.6h.9v.9h-.9zM592.0 445.5h.9v.9h-.9zM593.9 427.1h.9v.9h-.9zM587.3 432.1h.9v.9h-.9zM609.3 439.9h.9v.9h-.9zM590.9 445.9h.9v.9h-.9zM597.5 444.8h.9v.9h-.9zM600.0 443.8h.9v.9h-.9zM591.4 444.9h.9v.9h-.9zM595.9 435.5h.9v.9h-.9zM593.8 418.0h.9v.9h-.9zM590.2 432.4h.9v.9h-.9zM588.6 423.9h.9v.9h-.9zM613.9 441.4h.9v.9h-.9zM616.5 446.2h.9v.9h-.9zM606.1 446.4h.9v.9h-.9zM592.0 437.3h.9v.9h-.9zM623.0 416.4h.9v.9h-.9zM590.9 428.9h.9v.9h-.9zM610.8 447.4h.9v.9h-.9zM593.9 445.6h.9v.9h-.9zM609.9 446.6h.9v.9h-.9zM597.7 439.3h.9v.9h-.9zM606.4 444.7h.9v.9h-.9zM598.7 445.3h.9v.9h-.9zM598.6 440.3h.9v.9h-.9zM601.4 440.9h.9v.9h-.9zM591.7 429.9h.9v.9h-.9zM608.8 442.4h.9v.9h-.9zM594.3 446.3h.9v.9h-.9zM612.1 442.0h.9v.9h-.9zM604.7 446.8h.9v.9h-.9zM598.0 443.2h.9v.9h-.9zM593.9 411.3h.9v.9h-.9zM601.0 444.7h.9v.9h-.9zM604.7 447.0h.9v.9h-.9zM610.5 444.9h.9v.9h-.9zM610.7 446.1h.9v.9h-.9zM598.6 435.3h.9v.9h-.9zM610.2 441.3h.9v.9h-.9zM601.0 445.4h.9v.9h-.9zM593.9 442.4h.9v.9h-.9zM594.9 423.9h.9v.9h-.9zM617.3 437.5h.9v.9h-.9zM608.0 447.0h.9v.9h-.9zM601.4 443.5h.9v.9h-.9zM615.4 438.3h.9v.9h-.9zM599.1 440.6h.9v.9h-.9zM627.2 428.0h.9v.9h-.9zM595.1 442.4h.9v.9h-.9zM600.7 442.8h.9v.9h-.9zM596.3 438.1h.9v.9h-.9zM595.2 443.0h.9v.9h-.9zM614.0 447.1h.9v.9h-.9zM604.8 446.4h.9v.9h-.9zM587.5 399.9h.9v.9h-.9zM606.5 441.2h.9v.9h-.9zM606.7 443.6h.9v.9h-.9zM593.6 442.2h.9v.9h-.9zM608.3 446.5h.9v.9h-.9zM589.7 440.3h.9v.9h-.9zM600.7 442.3h.9v.9h-.9zM602.6 446.5h.9v.9h-.9zM600.7 444.6h.9v.9h-.9zM587.9 405.8h.9v.9h-.9zM597.4 431.8h.9v.9h-.9zM618.2 444.6h.9v.9h-.9zM578.4 447.4h.9v.9h-.9zM595.4 442.3h.9v.9h-.9zM600.6 443.4h.9v.9h-.9zM586.1 440.8h.9v.9h-.9zM616.9 423.8h.9v.9h-.9zM594.8 443.6h.9v.9h-.9zM592.6 437.1h.9v.9h-.9zM602.7 445.6h.9v.9h-.9zM607.1 444.2h.9v.9h-.9zM601.8 446.0h.9v.9h-.9zM602.4 447.2h.9v.9h-.9zM599.1 444.1h.9v.9h-.9zM606.6 445.4h.9v.9h-.9zM612.4 441.8h.9v.9h-.9zM608.6 443.9h.9v.9h-.9zM604.5 447.3h.9v.9h-.9zM594.2 439.9h.9v.9h-.9zM606.5 446.3h.9v.9h-.9zM604.0 446.8h.9v.9h-.9zM614.0 431.2h.9v.9h-.9zM592.5 426.4h.9v.9h-.9zM614.7 423.8h.9v.9h-.9zM613.9 439.3h.9v.9h-.9zM593.2 439.2h.9v.9h-.9zM609.2 446.5h.9v.9h-.9zM594.5 428.6h.9v.9h-.9zM591.1 447.0h.9v.9h-.9zM594.0 428.0h.9v.9h-.9zM605.9 445.5h.9v.9h-.9zM582.6 407.4h.9v.9h-.9zM601.9 446.4h.9v.9h-.9zM602.4 446.8h.9v.9h-.9zM598.5 437.3h.9v.9h-.9zM608.2 446.4h.9v.9h-.9zM610.0 445.7h.9v.9h-.9zM587.7 445.8h.9v.9h-.9zM620.0 446.5h.9v.9h-.9zM589.9 429.4h.9v.9h-.9zM607.9 443.9h.9v.9h-.9zM598.5 447.1h.9v.9h-.9zM614.5 446.6h.9v.9h-.9zM610.5 440.1h.9v.9h-.9zM608.4 447.4h.9v.9h-.9zM584.2 444.8h.9v.9h-.9zM600.9 446.3h.9v.9h-.9zM591.1 439.7h.9v.9h-.9zM594.1 446.1h.9v.9h-.9zM613.0 440.1h.9v.9h-.9zM599.6 434.5h.9v.9h-.9zM610.6 437.4h.9v.9h-.9zM588.8 446.6h.9v.9h-.9zM597.3 442.9h.9v.9h-.9zM610.0 444.0h.9v.9h-.9zM601.2 447.0h.9v.9h-.9zM607.9 445.3h.9v.9h-.9zM611.7 446.9h.9v.9h-.9zM585.0 426.2h.9v.9h-.9zM600.5 440.0h.9v.9h-.9zM593.8 447.0h.9v.9h-.9zM614.4 443.3h.9v.9h-.9zM584.6 394.5h.9v.9h-.9zM594.9 447.3h.9v.9h-.9zM602.4 443.5h.9v.9h-.9zM586.5 422.8h.9v.9h-.9zM594.0 438.1h.9v.9h-.9zM593.6 439.1h.9v.9h-.9zM585.5 444.0h.9v.9h-.9zM611.0 446.1h.9v.9h-.9zM610.3 446.5h.9v.9h-.9zM597.0 441.1h.9v.9h-.9zM614.2 411.7h.9v.9h-.9zM594.6 424.2h.9v.9h-.9zM604.2 445.7h.9v.9h-.9zM621.4 380.7h.9v.9h-.9zM609.8 444.4h.9v.9h-.9zM605.5 447.4h.9v.9h-.9zM590.8 438.2h.9v.9h-.9zM602.7 447.3h.9v.9h-.9zM603.6 447.2h.9v.9h-.9zM619.8 446.8h.9v.9h-.9zM581.2 382.8h.9v.9h-.9zM596.2 437.5h.9v.9h-.9zM623.5 445.4h.9v.9h-.9zM594.7 441.4h.9v.9h-.9zM610.8 445.6h.9v.9h-.9zM589.4 390.2h.9v.9h-.9zM609.0 439.9h.9v.9h-.9zM592.6 432.8h.9v.9h-.9zM610.8 442.3h.9v.9h-.9zM591.5 424.8h.9v.9h-.9zM605.7 445.9h.9v.9h-.9zM584.8 399.0h.9v.9h-.9zM594.4 424.2h.9v.9h-.9zM597.1 446.9h.9v.9h-.9zM591.4 421.7h.9v.9h-.9zM606.4 445.0h.9v.9h-.9zM596.6 441.8h.9v.9h-.9zM587.4 425.8h.9v.9h-.9zM610.0 447.0h.9v.9h-.9zM598.2 441.2h.9v.9h-.9zM601.6 447.1h.9v.9h-.9zM594.0 444.1h.9v.9h-.9zM590.2 422.9h.9v.9h-.9zM607.8 445.4h.9v.9h-.9zM594.1 443.1h.9v.9h-.9zM604.3 447.2h.9v.9h-.9zM606.6 446.6h.9v.9h-.9zM592.4 420.3h.9v.9h-.9zM613.6 446.1h.9v.9h-.9zM594.6 446.9h.9v.9h-.9zM595.1 438.1h.9v.9h-.9zM592.8 427.3h.9v.9h-.9zM619.5 446.4h.9v.9h-.9zM600.1 438.9h.9v.9h-.9zM602.1 444.8h.9v.9h-.9zM600.3 439.8h.9v.9h-.9zM617.7 446.2h.9v.9h-.9zM598.4 443.7h.9v.9h-.9zM605.3 447.0h.9v.9h-.9zM595.7 441.5h.9v.9h-.9zM604.6 447.2h.9v.9h-.9zM589.0 430.4h.9v.9h-.9zM594.2 442.4h.9v.9h-.9zM613.5 445.9h.9v.9h-.9zM610.5 438.9h.9v.9h-.9zM594.0 428.5h.9v.9h-.9zM590.8 437.7h.9v.9h-.9zM607.4 447.3h.9v.9h-.9zM602.7 447.2h.9v.9h-.9zM596.7 433.5h.9v.9h-.9zM596.7 425.2h.9v.9h-.9zM598.4 444.3h.9v.9h-.9zM592.1 411.4h.9v.9h-.9zM617.2 447.3h.9v.9h-.9zM612.0 446.1h.9v.9h-.9zM615.7 433.9h.9v.9h-.9zM613.7 439.8h.9v.9h-.9zM599.5 443.9h.9v.9h-.9zM612.3 441.6h.9v.9h-.9zM601.1 443.3h.9v.9h-.9zM607.0 446.6h.9v.9h-.9zM607.8 440.3h.9v.9h-.9zM600.6 439.6h.9v.9h-.9zM601.8 446.8h.9v.9h-.9zM602.7 446.6h.9v.9h-.9zM592.6 445.7h.9v.9h-.9zM610.3 443.5h.9v.9h-.9zM601.6 447.1h.9v.9h-.9zM593.2 444.3h.9v.9h-.9zM601.6 444.1h.9v.9h-.9zM608.8 444.8h.9v.9h-.9zM611.3 445.9h.9v.9h-.9zM605.9 444.6h.9v.9h-.9zM600.4 446.5h.9v.9h-.9zM615.4 445.9h.9v.9h-.9zM602.0 446.5h.9v.9h-.9zM594.2 427.5h.9v.9h-.9zM602.7 447.2h.9v.9h-.9zM589.3 446.3h.9v.9h-.9zM592.1 438.2h.9v.9h-.9zM598.2 443.1h.9v.9h-.9zM614.8 427.8h.9v.9h-.9zM606.6 445.0h.9v.9h-.9zM606.5 446.5h.9v.9h-.9zM617.4 430.7h.9v.9h-.9zM620.3 447.4h.9v.9h-.9zM594.7 438.9h.9v.9h-.9zM612.1 443.8h.9v.9h-.9zM602.3 445.9h.9v.9h-.9zM592.4 431.3h.9v.9h-.9zM594.7 435.5h.9v.9h-.9zM589.6 447.2h.9v.9h-.9zM594.6 431.9h.9v.9h-.9zM600.2 445.9h.9v.9h-.9zM597.1 445.9h.9v.9h-.9zM591.3 442.7h.9v.9h-.9zM593.3 447.2h.9v.9h-.9zM617.8 437.6h.9v.9h-.9zM612.4 442.0h.9v.9h-.9zM616.7 439.4h.9v.9h-.9zM607.9 447.3h.9v.9h-.9zM593.9 444.5h.9v.9h-.9zM604.1 446.2h.9v.9h-.9zM589.2 435.5h.9v.9h-.9zM606.2 444.5h.9v.9h-.9zM598.0 443.1h.9v.9h-.9zM611.8 434.0h.9v.9h-.9zM583.9 424.0h.9v.9h-.9zM589.7 431.0h.9v.9h-.9zM617.0 446.8h.9v.9h-.9zM611.2 441.1h.9v.9h-.9zM616.7 432.8h.9v.9h-.9zM589.5 443.9h.9v.9h-.9zM607.3 442.7h.9v.9h-.9zM599.4 428.6h.9v.9h-.9zM601.0 447.0h.9v.9h-.9zM599.8 445.6h.9v.9h-.9zM597.1 435.9h.9v.9h-.9zM597.2 438.9h.9v.9h-.9zM605.6 447.2h.9v.9h-.9zM602.7 446.6h.9v.9h-.9zM602.9 446.5h.9v.9h-.9zM595.4 441.9h.9v.9h-.9zM598.7 440.4h.9v.9h-.9zM603.3 447.4h.9v.9h-.9zM611.8 436.2h.9v.9h-.9zM588.5 427.9h.9v.9h-.9zM609.1 447.4h.9v.9h-.9zM591.4 425.8h.9v.9h-.9zM601.6 445.7h.9v.9h-.9zM617.6 437.9h.9v.9h-.9zM621.6 416.6h.9v.9h-.9zM613.6 439.8h.9v.9h-.9zM606.3 447.4h.9v.9h-.9zM598.9 432.1h.9v.9h-.9zM617.4 444.4h.9v.9h-.9zM598.4 435.4h.9v.9h-.9zM592.9 435.5h.9v.9h-.9zM599.9 442.2h.9v.9h-.9zM599.9 440.0h.9v.9h-.9zM599.7 438.5h.9v.9h-.9zM592.0 424.3h.9v.9h-.9zM608.1 446.9h.9v.9h-.9zM594.0 441.6h.9v.9h-.9zM608.5 441.3h.9v.9h-.9zM599.9 439.7h.9v.9h-.9zM620.5 444.0h.9v.9h-.9zM613.4 444.9h.9v.9h-.9zM600.8 443.4h.9v.9h-.9zM593.7 443.7h.9v.9h-.9zM611.6 445.2h.9v.9h-.9zM589.2 432.0h.9v.9h-.9zM595.9 430.2h.9v.9h-.9zM588.9 439.6h.9v.9h-.9zM610.9 444.1h.9v.9h-.9zM606.9 445.5h.9v.9h-.9zM587.5 400.9h.9v.9h-.9zM618.9 437.1h.9v.9h-.9zM598.3 441.6h.9v.9h-.9zM597.4 446.0h.9v.9h-.9zM590.6 444.9h.9v.9h-.9zM592.4 442.5h.9v.9h-.9zM606.3 444.6h.9v.9h-.9zM608.1 447.1h.9v.9h-.9zM599.9 443.4h.9v.9h-.9zM604.5 446.0h.9v.9h-.9zM596.4 433.7h.9v.9h-.9zM604.2 447.1h.9v.9h-.9zM615.3 436.1h.9v.9h-.9zM592.7 445.0h.9v.9h-.9zM596.2 445.9h.9v.9h-.9zM595.6 443.4h.9v.9h-.9zM590.5 438.6h.9v.9h-.9zM614.8 446.2h.9v.9h-.9zM587.1 399.2h.9v.9h-.9zM597.5 446.1h.9v.9h-.9zM613.6 445.7h.9v.9h-.9zM602.2 446.7h.9v.9h-.9zM611.6 445.4h.9v.9h-.9zM615.4 442.5h.9v.9h-.9zM613.8 447.3h.9v.9h-.9zM599.4 447.2h.9v.9h-.9zM607.8 447.4h.9v.9h-.9zM615.1 439.3h.9v.9h-.9zM608.9 444.7h.9v.9h-.9zM604.0 447.0h.9v.9h-.9zM598.9 442.7h.9v.9h-.9zM599.9 447.3h.9v.9h-.9zM589.5 418.3h.9v.9h-.9zM612.8 444.5h.9v.9h-.9zM594.5 437.6h.9v.9h-.9zM602.6 447.3h.9v.9h-.9zM601.8 445.0h.9v.9h-.9zM611.4 436.9h.9v.9h-.9zM602.1 445.3h.9v.9h-.9zM593.7 445.1h.9v.9h-.9zM615.2 437.9h.9v.9h-.9zM614.0 447.4h.9v.9h-.9zM624.8 447.4h.9v.9h-.9zM610.3 442.9h.9v.9h-.9zM618.0 434.0h.9v.9h-.9zM582.6 413.3h.9v.9h-.9zM600.7 447.1h.9v.9h-.9zM613.6 434.6h.9v.9h-.9zM607.6 447.4h.9v.9h-.9zM615.2 410.3h.9v.9h-.9zM587.5 432.4h.9v.9h-.9zM622.3 426.2h.9v.9h-.9zM597.8 441.1h.9v.9h-.9zM601.2 446.9h.9v.9h-.9zM599.3 446.4h.9v.9h-.9zM585.6 417.4h.9v.9h-.9zM611.4 446.8h.9v.9h-.9zM610.5 443.3h.9v.9h-.9zM614.6 439.8h.9v.9h-.9zM615.1 425.6h.9v.9h-.9zM612.2 447.2h.9v.9h-.9zM614.6 446.1h.9v.9h-.9zM594.0 443.7h.9v.9h-.9zM600.5 444.5h.9v.9h-.9zM598.7 443.6h.9v.9h-.9zM614.4 444.6h.9v.9h-.9zM583.8 434.1h.9v.9h-.9zM603.5 446.9h.9v.9h-.9zM617.1 434.6h.9v.9h-.9zM602.4 446.9h.9v.9h-.9zM584.7 435.5h.9v.9h-.9zM598.0 443.8h.9v.9h-.9zM585.1 443.1h.9v.9h-.9zM598.4 445.6h.9v.9h-.9zM621.8 444.9h.9v.9h-.9zM601.6 444.2h.9v.9h-.9zM595.3 446.8h.9v.9h-.9zM605.6 446.1h.9v.9h-.9zM602.4 446.1h.9v.9h-.9zM591.8 447.4h.9v.9h-.9zM592.4 398.9h.9v.9h-.9zM618.1 437.5h.9v.9h-.9zM597.0 439.3h.9v.9h-.9zM581.9 433.4h.9v.9h-.9zM619.1 424.5h.9v.9h-.9zM613.9 435.5h.9v.9h-.9zM593.2 443.2h.9v.9h-.9zM592.4 447.4h.9v.9h-.9zM586.0 440.1h.9v.9h-.9zM594.0 431.3h.9v.9h-.9zM543.0 443.5h.9v.9h-.9zM614.1 443.7h.9v.9h-.9zM610.8 443.3h.9v.9h-.9zM593.8 446.0h.9v.9h-.9zM619.1 435.0h.9v.9h-.9zM574.9 402.3h.9v.9h-.9zM576.7 445.1h.9v.9h-.9zM552.9 376.4h.9v.9h-.9zM592.5 447.0h.9v.9h-.9zM595.5 446.7h.9v.9h-.9zM544.3 446.7h.9v.9h-.9zM585.5 444.0h.9v.9h-.9zM568.9 447.4h.9v.9h-.9zM636.4 445.4h.9v.9h-.9zM614.2 441.8h.9v.9h-.9zM642.6 447.3h.9v.9h-.9zM602.5 439.0h.9v.9h-.9zM547.2 447.0h.9v.9h-.9zM623.7 444.9h.9v.9h-.9zM645.3 440.8h.9v.9h-.9zM611.3 439.5h.9v.9h-.9zM558.7 428.0h.9v.9h-.9zM543.0 423.4h.9v.9h-.9zM568.7 441.1h.9v.9h-.9zM608.7 439.9h.9v.9h-.9zM626.0 426.3h.9v.9h-.9zM599.1 438.4h.9v.9h-.9zM637.3 447.3h.9v.9h-.9zM617.3 447.1h.9v.9h-.9zM563.6 440.8h.9v.9h-.9zM567.1 412.2h.9v.9h-.9zM645.9 428.2h.9v.9h-.9zM540.6 367.4h.9v.9h-.9zM624.2 442.2h.9v.9h-.9zM630.9 416.4h.9v.9h-.9zM555.5 443.9h.9v.9h-.9zM626.0 447.0h.9v.9h-.9zM630.4 444.8h.9v.9h-.9zM588.0 435.8h.9v.9h-.9zM640.3 434.0h.9v.9h-.9zM642.3 447.0h.9v.9h-.9zM566.5 425.6h.9v.9h-.9zM627.4 445.2h.9v.9h-.9zM545.5 392.3h.9v.9h-.9zM549.5 383.9h.9v.9h-.9zM598.9 447.4h.9v.9h-.9zM638.0 414.0h.9v.9h-.9zM549.2 443.6h.9v.9h-.9zM607.5 446.3h.9v.9h-.9zM617.0 434.4h.9v.9h-.9zM603.5 442.2h.9v.9h-.9zM623.3 445.8h.9v.9h-.9zM648.8 447.2h.9v.9h-.9zM588.9 435.3h.9v.9h-.9zM634.1 423.9h.9v.9h-.9zM585.8 447.4h.9v.9h-.9zM566.7 432.4h.9v.9h-.9zM597.3 443.6h.9v.9h-.9zM592.8 435.8h.9v.9h-.9zM591.4 447.0h.9v.9h-.9zM591.4 435.4h.9v.9h-.9zM640.0 445.6h.9v.9h-.9zM594.5 447.4h.9v.9h-.9zM613.4 442.3h.9v.9h-.9zM611.8 434.9h.9v.9h-.9zM618.1 434.2h.9v.9h-.9zM602.7 447.0h.9v.9h-.9zM647.2 445.0h.9v.9h-.9zM590.5 418.4h.9v.9h-.9zM572.4 445.8h.9v.9h-.9zM601.3 445.1h.9v.9h-.9zM560.2 396.1h.9v.9h-.9zM597.6 440.6h.9v.9h-.9zM574.7 442.6h.9v.9h-.9zM568.8 411.6h.9v.9h-.9zM589.2 439.1h.9v.9h-.9zM598.2 444.7h.9v.9h-.9zM634.6 418.7h.9v.9h-.9zM555.4 428.4h.9v.9h-.9zM577.7 426.6h.9v.9h-.9zM556.2 446.4h.9v.9h-.9zM624.7 422.5h.9v.9h-.9zM578.9 423.0h.9v.9h-.9zM598.0 442.5h.9v.9h-.9zM582.1 436.0h.9v.9h-.9zM544.1 436.5h.9v.9h-.9zM629.2 418.4h.9v.9h-.9zM610.2 441.5h.9v.9h-.9zM587.6 445.1h.9v.9h-.9zM613.8 427.2h.9v.9h-.9zM558.2 411.6h.9v.9h-.9zM575.4 443.4h.9v.9h-.9zM636.9 445.5h.9v.9h-.9zM603.6 434.6h.9v.9h-.9zM551.6 444.6h.9v.9h-.9zM640.5 408.0h.9v.9h-.9zM606.0 446.1h.9v.9h-.9zM623.4 445.6h.9v.9h-.9zM614.3 447.2h.9v.9h-.9zM599.7 444.9h.9v.9h-.9zM556.6 440.3h.9v.9h-.9zM631.2 425.8h.9v.9h-.9zM600.3 447.4h.9v.9h-.9zM632.6 446.6h.9v.9h-.9zM626.3 444.2h.9v.9h-.9zM586.9 441.6h.9v.9h-.9zM591.3 421.1h.9v.9h-.9zM626.0 447.4h.9v.9h-.9zM603.0 445.6h.9v.9h-.9zM549.0 424.0h.9v.9h-.9zM622.2 447.4h.9v.9h-.9zM623.3 439.6h.9v.9h-.9zM597.0 447.3h.9v.9h-.9zM625.9 446.9h.9v.9h-.9zM632.7 434.7h.9v.9h-.9zM613.4 437.6h.9v.9h-.9zM603.4 361.5h.9v.9h-.9zM582.2 347.6h.9v.9h-.9zM581.4 394.9h.9v.9h-.9zM580.4 389.5h.9v.9h-.9zM580.6 333.5h.9v.9h-.9zM593.2 327.9h.9v.9h-.9zM585.7 390.4h.9v.9h-.9zM592.4 341.1h.9v.9h-.9zM585.0 378.8h.9v.9h-.9zM598.2 324.4h.9v.9h-.9zM603.6 363.4h.9v.9h-.9zM593.5 365.8h.9v.9h-.9zM599.6 369.4h.9v.9h-.9zM584.1 377.0h.9v.9h-.9zM587.6 381.6h.9v.9h-.9zM598.2 353.6h.9v.9h-.9zM586.2 374.4h.9v.9h-.9zM598.9 338.7h.9v.9h-.9zM593.2 341.1h.9v.9h-.9zM601.2 362.2h.9v.9h-.9zM591.4 305.7h.9v.9h-.9zM592.5 305.8h.9v.9h-.9zM624.9 305.8h.9v.9h-.9z" fill="#a6a6a6"/>
<line x1="603.20" y1="283.50" x2="603.20" y2="447.40" stroke="#202020" stroke-width="1.35"/>
<circle cx="627.9" cy="426.9" r="2.0" fill="#1010d0"/>
<circle cx="623.8" cy="434.2" r="2.0" fill="#1010d0"/>
<circle cx="622.0" cy="435.3" r="2.0" fill="#1010d0"/>
<circle cx="622.0" cy="437.2" r="2.0" fill="#1010d0"/>
<circle cx="620.9" cy="437.9" r="2.0" fill="#1010d0"/>
<circle cx="636.9" cy="436.9" r="2.0" fill="#1010d0"/>
<line x1="512.60" y1="283.00" x2="512.60" y2="306.40" stroke="#000" stroke-width="1.5"/>
<line x1="512.60" y1="313.80" x2="512.60" y2="448.15" stroke="#000" stroke-width="1.5"/>
<line x1="512.00" y1="305.80" x2="515.10" y2="305.80" stroke="#000" stroke-width="1.3"/>
<line x1="512.00" y1="314.40" x2="515.10" y2="314.40" stroke="#000" stroke-width="1.3"/>
<line x1="509.40" y1="283.50" x2="512.60" y2="283.50" stroke="#000" stroke-width="1.2"/>
<text x="508.80" y="286.80" font-size="9.1" font-weight="bold" stroke="#000" stroke-width="0.3" text-anchor="end" fill="#000">160</text>
<line x1="509.40" y1="294.60" x2="512.60" y2="294.60" stroke="#000" stroke-width="1.2"/>
<text x="508.80" y="297.90" font-size="9.1" font-weight="bold" stroke="#000" stroke-width="0.3" text-anchor="end" fill="#000">90</text>
<line x1="509.40" y1="305.80" x2="512.60" y2="305.80" stroke="#000" stroke-width="1.2"/>
<text x="508.80" y="309.10" font-size="9.1" font-weight="bold" stroke="#000" stroke-width="0.3" text-anchor="end" fill="#000">20</text>
<line x1="509.40" y1="447.40" x2="512.60" y2="447.40" stroke="#000" stroke-width="1.2"/>
<text x="508.80" y="450.70" font-size="9.1" font-weight="bold" stroke="#000" stroke-width="0.3" text-anchor="end" fill="#000">0</text>
<line x1="509.40" y1="414.15" x2="512.60" y2="414.15" stroke="#000" stroke-width="1.2"/>
<text x="508.80" y="417.45" font-size="9.1" font-weight="bold" stroke="#000" stroke-width="0.3" text-anchor="end" fill="#000">5</text>
<line x1="509.40" y1="380.90" x2="512.60" y2="380.90" stroke="#000" stroke-width="1.2"/>
<text x="508.80" y="384.20" font-size="9.1" font-weight="bold" stroke="#000" stroke-width="0.3" text-anchor="end" fill="#000">10</text>
<line x1="509.40" y1="347.65" x2="512.60" y2="347.65" stroke="#000" stroke-width="1.2"/>
<text x="508.80" y="350.95" font-size="9.1" font-weight="bold" stroke="#000" stroke-width="0.3" text-anchor="end" fill="#000">15</text>
<line x1="509.40" y1="314.40" x2="512.60" y2="314.40" stroke="#000" stroke-width="1.2"/>
<text x="508.80" y="317.70" font-size="9.1" font-weight="bold" stroke="#000" stroke-width="0.3" text-anchor="end" fill="#000">20</text>
<line x1="511.85" y1="447.40" x2="682.70" y2="447.40" stroke="#000" stroke-width="1.5"/>
<line x1="524.20" y1="447.40" x2="524.20" y2="450.20" stroke="#000" stroke-width="1.2"/>
<text x="522.70" y="460.40" font-size="9.1" font-weight="bold" stroke="#000" stroke-width="0.3" text-anchor="middle" fill="#000">-2</text>
<line x1="563.70" y1="447.40" x2="563.70" y2="450.20" stroke="#000" stroke-width="1.2"/>
<text x="562.20" y="460.40" font-size="9.1" font-weight="bold" stroke="#000" stroke-width="0.3" text-anchor="middle" fill="#000">-1</text>
<line x1="603.20" y1="447.40" x2="603.20" y2="450.20" stroke="#000" stroke-width="1.2"/>
<text x="603.20" y="460.40" font-size="9.1" font-weight="bold" stroke="#000" stroke-width="0.3" text-anchor="middle" fill="#000">0</text>
<line x1="642.70" y1="447.40" x2="642.70" y2="450.20" stroke="#000" stroke-width="1.2"/>
<text x="642.70" y="460.40" font-size="9.1" font-weight="bold" stroke="#000" stroke-width="0.3" text-anchor="middle" fill="#000">1</text>
<line x1="682.20" y1="447.40" x2="682.20" y2="450.20" stroke="#000" stroke-width="1.2"/>
<text x="682.20" y="460.40" font-size="9.1" font-weight="bold" stroke="#000" stroke-width="0.3" text-anchor="middle" fill="#000">2</text>
<text x="597.90" y="469.80" font-size="8.95" font-weight="bold" stroke="#000" stroke-width="0.3" text-anchor="middle" fill="#000">Log2FC (10min Ex vs Pre Sed)</text>
<text x="495.20" y="364.95" font-size="8.95" font-weight="bold" stroke="#000" stroke-width="0.3" text-anchor="middle" fill="#000" transform="rotate(-90 495.20 364.95)">-Log10 adj p-value</text>
<text x="25.30" y="505.00" font-size="15.8" font-weight="bold" stroke="#000" stroke-width="0.3" text-anchor="start" fill="#000">E</text>
<text x="273.30" y="506.70" font-size="10.0" font-weight="bold" stroke="#000" stroke-width="0.3" text-anchor="middle" fill="#000" textLength="226" lengthAdjust="spacingAndGlyphs">Top 15 AAE-Regulated NACA Phosphosites</text>
<line x1="157.60" y1="511.80" x2="388.90" y2="511.80" stroke="#000" stroke-width="1.6"/>
<path d="M57.5 574.9L68.2 539.4M57.5 576.2L68.2 552.6M57.5 577.6L68.2 554.6M57.5 578.7L68.2 560.5M57.5 580.0L68.2 562.4M57.5 582.1L68.2 564.4M57.5 587.8L68.2 565.0M57.5 576.5L68.2 557.5" stroke="#b52a2a" stroke-width="0.75" fill="none"/>
<circle cx="57.5" cy="574.9" r="1.55" fill="#a50000"/>
<circle cx="57.5" cy="576.2" r="1.55" fill="#a50000"/>
<circle cx="57.5" cy="577.6" r="1.55" fill="#a50000"/>
<circle cx="57.5" cy="578.7" r="1.55" fill="#a50000"/>
<circle cx="57.5" cy="580.0" r="1.55" fill="#a50000"/>
<circle cx="57.5" cy="582.1" r="1.55" fill="#a50000"/>
<circle cx="57.5" cy="587.8" r="1.55" fill="#a50000"/>
<circle cx="57.5" cy="576.5" r="1.55" fill="#a50000"/>
<path d="M66.7 537.8h3.1v3.1h-3.1zM66.7 551.0h3.1v3.1h-3.1zM66.7 553.1h3.1v3.1h-3.1zM66.7 558.9h3.1v3.1h-3.1zM66.7 560.8h3.1v3.1h-3.1zM66.7 562.8h3.1v3.1h-3.1zM66.7 563.4h3.1v3.1h-3.1zM66.7 556.0h3.1v3.1h-3.1z" fill="#a50000"/>
<line x1="57.25" y1="535.59" x2="68.55" y2="535.59" stroke="#a50000" stroke-width="2.6"/>
<text x="66.00" y="532.89" font-size="7.1" font-weight="bold" stroke="#a50000" stroke-width="0.3" text-anchor="start" fill="#a50000" transform="rotate(-90 66.00 532.89)">p&lt;0.001</text>
<path d="M78.5 563.5L89.1 565.0M78.5 571.0L89.1 567.0M78.5 572.3L89.1 568.9M78.5 575.5L89.1 576.8M78.5 582.1L89.1 581.5M78.5 583.4L89.1 565.7M78.5 586.0L89.1 570.7M78.5 575.1L89.1 567.8" stroke="#2a2ad8" stroke-width="0.75" fill="none"/>
<circle cx="78.5" cy="563.5" r="1.55" fill="#0000c8"/>
<circle cx="78.5" cy="571.0" r="1.55" fill="#0000c8"/>
<circle cx="78.5" cy="572.3" r="1.55" fill="#0000c8"/>
<circle cx="78.5" cy="575.5" r="1.55" fill="#0000c8"/>
<circle cx="78.5" cy="582.1" r="1.55" fill="#0000c8"/>
<circle cx="78.5" cy="583.4" r="1.55" fill="#0000c8"/>
<circle cx="78.5" cy="586.0" r="1.55" fill="#0000c8"/>
<circle cx="78.5" cy="575.1" r="1.55" fill="#0000c8"/>
<path d="M87.5 563.4h3.1v3.1h-3.1zM87.5 565.5h3.1v3.1h-3.1zM87.5 567.4h3.1v3.1h-3.1zM87.5 575.3h3.1v3.1h-3.1zM87.5 580.0h3.1v3.1h-3.1zM87.5 564.2h3.1v3.1h-3.1zM87.5 569.1h3.1v3.1h-3.1zM87.5 566.2h3.1v3.1h-3.1z" fill="#0000c8"/>
<line x1="78.25" y1="559.28" x2="89.35" y2="559.28" stroke="#0000c8" stroke-width="2.6"/>
<text x="86.90" y="556.58" font-size="7.1" font-weight="bold" stroke="#0000c8" stroke-width="0.3" text-anchor="start" fill="#0000c8" transform="rotate(-90 86.90 556.58)">p=0.041</text>
<text x="72.95" y="658.80" font-size="9.1" font-weight="bold" stroke="#000" stroke-width="0.3" text-anchor="middle" fill="#000">S1397</text>
<line x1="94.00" y1="529.60" x2="94.00" y2="648.00" stroke="#000" stroke-width="1.1" stroke-dasharray="1.1,2.1"/>
<path d="M99.5 597.2L110.3 566.4M99.5 601.3L110.3 576.2M99.5 603.2L110.3 580.0M99.5 605.1L110.3 582.1M99.5 607.1L110.3 584.1M99.5 609.2L110.3 590.7M99.5 611.1L110.3 583.1M99.5 613.0L110.3 586.8" stroke="#b52a2a" stroke-width="0.75" fill="none"/>
<circle cx="99.5" cy="597.2" r="1.55" fill="#a50000"/>
<circle cx="99.5" cy="601.3" r="1.55" fill="#a50000"/>
<circle cx="99.5" cy="603.2" r="1.55" fill="#a50000"/>
<circle cx="99.5" cy="605.1" r="1.55" fill="#a50000"/>
<circle cx="99.5" cy="607.1" r="1.55" fill="#a50000"/>
<circle cx="99.5" cy="609.2" r="1.55" fill="#a50000"/>
<circle cx="99.5" cy="611.1" r="1.55" fill="#a50000"/>
<circle cx="99.5" cy="613.0" r="1.55" fill="#a50000"/>
<path d="M108.8 564.9h3.1v3.1h-3.1zM108.8 574.7h3.1v3.1h-3.1zM108.8 578.5h3.1v3.1h-3.1zM108.8 580.5h3.1v3.1h-3.1zM108.8 582.6h3.1v3.1h-3.1zM108.8 589.2h3.1v3.1h-3.1zM108.8 581.6h3.1v3.1h-3.1zM108.8 585.2h3.1v3.1h-3.1z" fill="#a50000"/>
<line x1="99.30" y1="561.33" x2="110.60" y2="561.33" stroke="#a50000" stroke-width="2.6"/>
<text x="108.05" y="558.63" font-size="7.1" font-weight="bold" stroke="#a50000" stroke-width="0.3" text-anchor="start" fill="#a50000" transform="rotate(-90 108.05 558.63)">p&lt;0.001</text>
<path d="M120.5 550.7L131.1 561.8M120.5 552.6L131.1 550.7M120.5 565.7L131.1 554.6M120.5 567.8L131.1 556.5M120.5 572.9L131.1 566.4M120.5 582.8L131.1 574.2M120.5 586.0L131.1 578.7" stroke="#2a2ad8" stroke-width="0.75" fill="none"/>
<circle cx="120.5" cy="550.7" r="1.55" fill="#0000c8"/>
<circle cx="120.5" cy="552.6" r="1.55" fill="#0000c8"/>
<circle cx="120.5" cy="565.7" r="1.55" fill="#0000c8"/>
<circle cx="120.5" cy="567.8" r="1.55" fill="#0000c8"/>
<circle cx="120.5" cy="572.9" r="1.55" fill="#0000c8"/>
<circle cx="120.5" cy="582.8" r="1.55" fill="#0000c8"/>
<circle cx="120.5" cy="586.0" r="1.55" fill="#0000c8"/>
<path d="M129.5 560.2h3.1v3.1h-3.1zM129.5 549.1h3.1v3.1h-3.1zM129.5 553.1h3.1v3.1h-3.1zM129.5 555.0h3.1v3.1h-3.1zM129.5 564.9h3.1v3.1h-3.1zM129.5 572.6h3.1v3.1h-3.1zM129.5 577.2h3.1v3.1h-3.1z" fill="#0000c8"/>
<text x="115.00" y="658.80" font-size="9.1" font-weight="bold" stroke="#000" stroke-width="0.3" text-anchor="middle" fill="#000">T1073</text>
<line x1="136.05" y1="529.60" x2="136.05" y2="648.00" stroke="#000" stroke-width="1.1" stroke-dasharray="1.1,2.1"/>
<path d="M141.6 609.6L152.4 570.7M141.6 611.6L152.4 581.7M141.6 613.1L152.4 591.5M141.6 614.6L152.4 595.8M141.6 616.0L152.4 597.7M141.6 617.2L152.4 600.1M141.6 610.9L152.4 602.9M141.6 613.8L152.4 594.1" stroke="#b52a2a" stroke-width="0.75" fill="none"/>
<circle cx="141.6" cy="609.6" r="1.55" fill="#a50000"/>
<circle cx="141.6" cy="611.6" r="1.55" fill="#a50000"/>
<circle cx="141.6" cy="613.1" r="1.55" fill="#a50000"/>
<circle cx="141.6" cy="614.6" r="1.55" fill="#a50000"/>
<circle cx="141.6" cy="616.0" r="1.55" fill="#a50000"/>
<circle cx="141.6" cy="617.2" r="1.55" fill="#a50000"/>
<circle cx="141.6" cy="610.9" r="1.55" fill="#a50000"/>
<circle cx="141.6" cy="613.8" r="1.55" fill="#a50000"/>
<path d="M150.8 569.1h3.1v3.1h-3.1zM150.8 580.1h3.1v3.1h-3.1zM150.8 589.9h3.1v3.1h-3.1zM150.8 594.3h3.1v3.1h-3.1zM150.8 596.2h3.1v3.1h-3.1zM150.8 598.5h3.1v3.1h-3.1zM150.8 601.3h3.1v3.1h-3.1zM150.8 592.5h3.1v3.1h-3.1z" fill="#a50000"/>
<line x1="141.35" y1="566.30" x2="152.65" y2="566.30" stroke="#a50000" stroke-width="2.6"/>
<text x="150.10" y="563.60" font-size="7.1" font-weight="bold" stroke="#a50000" stroke-width="0.3" text-anchor="start" fill="#a50000" transform="rotate(-90 150.10 563.60)">p&lt;0.001</text>
<path d="M162.6 596.7L173.2 604.8M162.6 606.2L173.2 599.1M162.6 608.0L173.2 611.5M162.6 610.2L173.2 614.3M162.6 612.4L173.2 616.2M162.6 613.4L173.2 607.2M162.6 608.7L173.2 610.2" stroke="#2a2ad8" stroke-width="0.75" fill="none"/>
<circle cx="162.6" cy="596.7" r="1.55" fill="#0000c8"/>
<circle cx="162.6" cy="606.2" r="1.55" fill="#0000c8"/>
<circle cx="162.6" cy="608.0" r="1.55" fill="#0000c8"/>
<circle cx="162.6" cy="610.2" r="1.55" fill="#0000c8"/>
<circle cx="162.6" cy="612.4" r="1.55" fill="#0000c8"/>
<circle cx="162.6" cy="613.4" r="1.55" fill="#0000c8"/>
<circle cx="162.6" cy="608.7" r="1.55" fill="#0000c8"/>
<path d="M171.6 603.2h3.1v3.1h-3.1zM171.6 597.5h3.1v3.1h-3.1zM171.6 609.9h3.1v3.1h-3.1zM171.6 612.7h3.1v3.1h-3.1zM171.6 614.6h3.1v3.1h-3.1zM171.6 605.7h3.1v3.1h-3.1zM171.6 608.6h3.1v3.1h-3.1z" fill="#0000c8"/>
<text x="157.05" y="658.80" font-size="9.1" font-weight="bold" stroke="#000" stroke-width="0.3" text-anchor="middle" fill="#000">S1022</text>
<line x1="178.10" y1="529.60" x2="178.10" y2="648.00" stroke="#000" stroke-width="1.1" stroke-dasharray="1.1,2.1"/>
<path d="M183.6 599.1L194.4 579.2M183.6 609.2L194.4 594.4M183.6 611.5L194.4 597.2M183.6 627.0L194.4 600.1M183.6 633.7L194.4 602.0M183.6 610.2L194.4 609.6M183.6 610.9L194.4 597.0M183.6 613.1L194.4 598.5" stroke="#b52a2a" stroke-width="0.75" fill="none"/>
<circle cx="183.6" cy="599.1" r="1.55" fill="#a50000"/>
<circle cx="183.6" cy="609.2" r="1.55" fill="#a50000"/>
<circle cx="183.6" cy="611.5" r="1.55" fill="#a50000"/>
<circle cx="183.6" cy="627.0" r="1.55" fill="#a50000"/>
<circle cx="183.6" cy="633.7" r="1.55" fill="#a50000"/>
<circle cx="183.6" cy="610.2" r="1.55" fill="#a50000"/>
<circle cx="183.6" cy="610.9" r="1.55" fill="#a50000"/>
<circle cx="183.6" cy="613.1" r="1.55" fill="#a50000"/>
<path d="M192.8 577.6h3.1v3.1h-3.1zM192.8 592.8h3.1v3.1h-3.1zM192.8 595.6h3.1v3.1h-3.1zM192.8 598.5h3.1v3.1h-3.1zM192.8 600.4h3.1v3.1h-3.1zM192.8 608.0h3.1v3.1h-3.1zM192.8 595.5h3.1v3.1h-3.1zM192.8 596.9h3.1v3.1h-3.1z" fill="#a50000"/>
<line x1="183.40" y1="574.49" x2="194.70" y2="574.49" stroke="#a50000" stroke-width="2.6"/>
<text x="192.15" y="571.79" font-size="7.1" font-weight="bold" stroke="#a50000" stroke-width="0.3" text-anchor="start" fill="#a50000" transform="rotate(-90 192.15 571.79)">p=0.006</text>
<path d="M204.6 576.4L215.2 587.7M204.6 579.2L215.2 590.6M204.6 583.0L215.2 593.4M204.6 587.7L215.2 595.3M204.6 594.4L215.2 597.2M204.6 602.0L215.2 589.7M204.6 580.9L215.2 592.6" stroke="#2a2ad8" stroke-width="0.75" fill="none"/>
<circle cx="204.6" cy="576.4" r="1.55" fill="#0000c8"/>
<circle cx="204.6" cy="579.2" r="1.55" fill="#0000c8"/>
<circle cx="204.6" cy="583.0" r="1.55" fill="#0000c8"/>
<circle cx="204.6" cy="587.7" r="1.55" fill="#0000c8"/>
<circle cx="204.6" cy="594.4" r="1.55" fill="#0000c8"/>
<circle cx="204.6" cy="602.0" r="1.55" fill="#0000c8"/>
<circle cx="204.6" cy="580.9" r="1.55" fill="#0000c8"/>
<path d="M213.6 586.1h3.1v3.1h-3.1zM213.6 589.0h3.1v3.1h-3.1zM213.6 591.8h3.1v3.1h-3.1zM213.6 593.7h3.1v3.1h-3.1zM213.6 595.6h3.1v3.1h-3.1zM213.6 588.2h3.1v3.1h-3.1zM213.6 591.1h3.1v3.1h-3.1z" fill="#0000c8"/>
<text x="199.10" y="658.80" font-size="9.1" font-weight="bold" stroke="#000" stroke-width="0.3" text-anchor="middle" fill="#000">T1573</text>
<line x1="220.15" y1="529.60" x2="220.15" y2="648.00" stroke="#000" stroke-width="1.1" stroke-dasharray="1.1,2.1"/>
<path d="M225.6 603.4L236.4 572.0M225.6 605.8L236.4 586.3M225.6 609.6L236.4 593.4M225.6 612.4L236.4 596.3M225.6 614.9L236.4 600.1M225.6 607.2L236.4 602.0M225.6 611.6L236.4 595.6" stroke="#b52a2a" stroke-width="0.75" fill="none"/>
<circle cx="225.6" cy="603.4" r="1.55" fill="#a50000"/>
<circle cx="225.6" cy="605.8" r="1.55" fill="#a50000"/>
<circle cx="225.6" cy="609.6" r="1.55" fill="#a50000"/>
<circle cx="225.6" cy="612.4" r="1.55" fill="#a50000"/>
<circle cx="225.6" cy="614.9" r="1.55" fill="#a50000"/>
<circle cx="225.6" cy="607.2" r="1.55" fill="#a50000"/>
<circle cx="225.6" cy="611.6" r="1.55" fill="#a50000"/>
<path d="M234.9 570.5h3.1v3.1h-3.1zM234.9 584.8h3.1v3.1h-3.1zM234.9 591.8h3.1v3.1h-3.1zM234.9 594.7h3.1v3.1h-3.1zM234.9 598.5h3.1v3.1h-3.1zM234.9 600.4h3.1v3.1h-3.1zM234.9 594.0h3.1v3.1h-3.1z" fill="#a50000"/>
<line x1="225.45" y1="567.76" x2="236.75" y2="567.76" stroke="#a50000" stroke-width="2.6"/>
<text x="234.20" y="565.06" font-size="7.1" font-weight="bold" stroke="#a50000" stroke-width="0.3" text-anchor="start" fill="#a50000" transform="rotate(-90 234.20 565.06)">p&lt;0.001</text>
<path d="M246.6 555.5L257.2 558.3M246.6 559.3L257.2 561.6M246.6 562.1L257.2 568.8M246.6 565.0L257.2 575.4M246.6 567.8L257.2 560.5M246.6 572.6L257.2 563.4M246.6 576.4L257.2 566.3M246.6 581.1L257.2 561.9" stroke="#2a2ad8" stroke-width="0.75" fill="none"/>
<circle cx="246.6" cy="555.5" r="1.55" fill="#0000c8"/>
<circle cx="246.6" cy="559.3" r="1.55" fill="#0000c8"/>
<circle cx="246.6" cy="562.1" r="1.55" fill="#0000c8"/>
<circle cx="246.6" cy="565.0" r="1.55" fill="#0000c8"/>
<circle cx="246.6" cy="567.8" r="1.55" fill="#0000c8"/>
<circle cx="246.6" cy="572.6" r="1.55" fill="#0000c8"/>
<circle cx="246.6" cy="576.4" r="1.55" fill="#0000c8"/>
<circle cx="246.6" cy="581.1" r="1.55" fill="#0000c8"/>
<path d="M255.7 556.7h3.1v3.1h-3.1zM255.7 560.1h3.1v3.1h-3.1zM255.7 567.2h3.1v3.1h-3.1zM255.7 573.8h3.1v3.1h-3.1zM255.7 558.9h3.1v3.1h-3.1zM255.7 561.8h3.1v3.1h-3.1zM255.7 564.8h3.1v3.1h-3.1zM255.7 560.4h3.1v3.1h-3.1z" fill="#0000c8"/>
<text x="241.15" y="658.80" font-size="9.1" font-weight="bold" stroke="#000" stroke-width="0.3" text-anchor="middle" fill="#000">T1362</text>
<line x1="262.20" y1="529.60" x2="262.20" y2="648.00" stroke="#000" stroke-width="1.1" stroke-dasharray="1.1,2.1"/>
<path d="M267.7 597.2L278.5 571.6M267.7 598.6L278.5 577.3M267.7 600.1L278.5 580.2M267.7 601.5L278.5 583.0M267.7 597.7L278.5 585.8M267.7 599.2L278.5 588.7M267.7 600.7L278.5 590.6" stroke="#b52a2a" stroke-width="0.75" fill="none"/>
<circle cx="267.7" cy="597.2" r="1.55" fill="#a50000"/>
<circle cx="267.7" cy="598.6" r="1.55" fill="#a50000"/>
<circle cx="267.7" cy="600.1" r="1.55" fill="#a50000"/>
<circle cx="267.7" cy="601.5" r="1.55" fill="#a50000"/>
<circle cx="267.7" cy="597.7" r="1.55" fill="#a50000"/>
<circle cx="267.7" cy="599.2" r="1.55" fill="#a50000"/>
<circle cx="267.7" cy="600.7" r="1.55" fill="#a50000"/>
<path d="M276.9 570.0h3.1v3.1h-3.1zM276.9 575.7h3.1v3.1h-3.1zM276.9 578.6h3.1v3.1h-3.1zM276.9 581.4h3.1v3.1h-3.1zM276.9 584.2h3.1v3.1h-3.1zM276.9 587.1h3.1v3.1h-3.1zM276.9 589.0h3.1v3.1h-3.1z" fill="#a50000"/>
<line x1="267.50" y1="566.88" x2="278.80" y2="566.88" stroke="#a50000" stroke-width="2.6"/>
<text x="276.25" y="564.18" font-size="7.1" font-weight="bold" stroke="#a50000" stroke-width="0.3" text-anchor="start" fill="#a50000" transform="rotate(-90 276.25 564.18)">p&lt;0.001</text>
<path d="M288.7 568.8L299.3 577.3M288.7 581.1L299.3 573.5M288.7 583.0L299.3 580.2M288.7 587.2L299.3 584.9M288.7 593.4L299.3 576.5M288.7 582.4L299.3 579.5" stroke="#2a2ad8" stroke-width="0.75" fill="none"/>
<circle cx="288.7" cy="568.8" r="1.55" fill="#0000c8"/>
<circle cx="288.7" cy="581.1" r="1.55" fill="#0000c8"/>
<circle cx="288.7" cy="583.0" r="1.55" fill="#0000c8"/>
<circle cx="288.7" cy="587.2" r="1.55" fill="#0000c8"/>
<circle cx="288.7" cy="593.4" r="1.55" fill="#0000c8"/>
<circle cx="288.7" cy="582.4" r="1.55" fill="#0000c8"/>
<path d="M297.8 575.7h3.1v3.1h-3.1zM297.8 571.9h3.1v3.1h-3.1zM297.8 578.6h3.1v3.1h-3.1zM297.8 583.3h3.1v3.1h-3.1zM297.8 575.0h3.1v3.1h-3.1zM297.8 577.9h3.1v3.1h-3.1z" fill="#0000c8"/>
<text x="283.20" y="658.80" font-size="9.1" font-weight="bold" stroke="#000" stroke-width="0.3" text-anchor="middle" fill="#000">S766</text>
<line x1="304.25" y1="529.60" x2="304.25" y2="648.00" stroke="#000" stroke-width="1.1" stroke-dasharray="1.1,2.1"/>
<path d="M309.8 579.2L320.6 558.7M309.8 583.0L320.6 565.0M309.8 584.9L320.6 567.8M309.8 587.7L320.6 573.0M309.8 580.9L320.6 578.3M309.8 583.9L320.6 570.7M309.8 586.8L320.6 566.3" stroke="#b52a2a" stroke-width="0.75" fill="none"/>
<circle cx="309.8" cy="579.2" r="1.55" fill="#a50000"/>
<circle cx="309.8" cy="583.0" r="1.55" fill="#a50000"/>
<circle cx="309.8" cy="584.9" r="1.55" fill="#a50000"/>
<circle cx="309.8" cy="587.7" r="1.55" fill="#a50000"/>
<circle cx="309.8" cy="580.9" r="1.55" fill="#a50000"/>
<circle cx="309.8" cy="583.9" r="1.55" fill="#a50000"/>
<circle cx="309.8" cy="586.8" r="1.55" fill="#a50000"/>
<path d="M319.0 557.1h3.1v3.1h-3.1zM319.0 563.4h3.1v3.1h-3.1zM319.0 566.2h3.1v3.1h-3.1zM319.0 571.5h3.1v3.1h-3.1zM319.0 576.7h3.1v3.1h-3.1zM319.0 569.1h3.1v3.1h-3.1zM319.0 564.8h3.1v3.1h-3.1z" fill="#a50000"/>
<line x1="309.55" y1="553.58" x2="320.85" y2="553.58" stroke="#a50000" stroke-width="2.6"/>
<text x="318.30" y="550.88" font-size="7.1" font-weight="bold" stroke="#a50000" stroke-width="0.3" text-anchor="start" fill="#a50000" transform="rotate(-90 318.30 550.88)">p&lt;0.001</text>
<path d="M330.8 568.8L341.4 568.8M330.8 573.5L341.4 571.6M330.8 575.4L341.4 574.5M330.8 578.7L341.4 570.7M330.8 575.1L341.4 573.6M330.8 572.2L341.4 572.2" stroke="#2a2ad8" stroke-width="0.75" fill="none"/>
<circle cx="330.8" cy="568.8" r="1.55" fill="#0000c8"/>
<circle cx="330.8" cy="573.5" r="1.55" fill="#0000c8"/>
<circle cx="330.8" cy="575.4" r="1.55" fill="#0000c8"/>
<circle cx="330.8" cy="578.7" r="1.55" fill="#0000c8"/>
<circle cx="330.8" cy="575.1" r="1.55" fill="#0000c8"/>
<circle cx="330.8" cy="572.2" r="1.55" fill="#0000c8"/>
<path d="M339.8 567.2h3.1v3.1h-3.1zM339.8 570.0h3.1v3.1h-3.1zM339.8 572.9h3.1v3.1h-3.1zM339.8 569.1h3.1v3.1h-3.1zM339.8 572.1h3.1v3.1h-3.1zM339.8 570.6h3.1v3.1h-3.1z" fill="#0000c8"/>
<text x="325.25" y="658.80" font-size="9.1" font-weight="bold" stroke="#000" stroke-width="0.3" text-anchor="middle" fill="#000">S506</text>
<line x1="346.30" y1="529.60" x2="346.30" y2="648.00" stroke="#000" stroke-width="1.1" stroke-dasharray="1.1,2.1"/>
<path d="M351.8 617.5L362.6 602.9M351.8 621.0L362.6 607.7M351.8 623.8L362.6 614.3M351.8 626.6L362.6 617.2M351.8 629.5L362.6 621.0M351.8 632.3L362.6 631.4M351.8 637.7L362.6 611.6M351.8 624.8L362.6 619.0" stroke="#b52a2a" stroke-width="0.75" fill="none"/>
<circle cx="351.8" cy="617.5" r="1.55" fill="#a50000"/>
<circle cx="351.8" cy="621.0" r="1.55" fill="#a50000"/>
<circle cx="351.8" cy="623.8" r="1.55" fill="#a50000"/>
<circle cx="351.8" cy="626.6" r="1.55" fill="#a50000"/>
<circle cx="351.8" cy="629.5" r="1.55" fill="#a50000"/>
<circle cx="351.8" cy="632.3" r="1.55" fill="#a50000"/>
<circle cx="351.8" cy="637.7" r="1.55" fill="#a50000"/>
<circle cx="351.8" cy="624.8" r="1.55" fill="#a50000"/>
<path d="M361.0 601.3h3.1v3.1h-3.1zM361.0 606.1h3.1v3.1h-3.1zM361.0 612.7h3.1v3.1h-3.1zM361.0 615.6h3.1v3.1h-3.1zM361.0 619.4h3.1v3.1h-3.1zM361.0 629.8h3.1v3.1h-3.1zM361.0 610.1h3.1v3.1h-3.1zM361.0 617.4h3.1v3.1h-3.1z" fill="#a50000"/>
<line x1="351.60" y1="598.18" x2="362.90" y2="598.18" stroke="#a50000" stroke-width="2.6"/>
<text x="360.35" y="595.48" font-size="7.1" font-weight="bold" stroke="#a50000" stroke-width="0.3" text-anchor="start" fill="#a50000" transform="rotate(-90 360.35 595.48)">p=0.007</text>
<path d="M372.8 577.3L383.4 583.9M372.8 583.0L383.4 587.7M372.8 587.7L383.4 590.6M372.8 595.3L383.4 593.4M372.8 602.6L383.4 596.3M372.8 585.3L383.4 589.7" stroke="#2a2ad8" stroke-width="0.75" fill="none"/>
<circle cx="372.8" cy="577.3" r="1.55" fill="#0000c8"/>
<circle cx="372.8" cy="583.0" r="1.55" fill="#0000c8"/>
<circle cx="372.8" cy="587.7" r="1.55" fill="#0000c8"/>
<circle cx="372.8" cy="595.3" r="1.55" fill="#0000c8"/>
<circle cx="372.8" cy="602.6" r="1.55" fill="#0000c8"/>
<circle cx="372.8" cy="585.3" r="1.55" fill="#0000c8"/>
<path d="M381.8 582.3h3.1v3.1h-3.1zM381.8 586.1h3.1v3.1h-3.1zM381.8 589.0h3.1v3.1h-3.1zM381.8 591.8h3.1v3.1h-3.1zM381.8 594.7h3.1v3.1h-3.1zM381.8 588.2h3.1v3.1h-3.1z" fill="#0000c8"/>
<text x="367.30" y="658.80" font-size="9.1" font-weight="bold" stroke="#000" stroke-width="0.3" text-anchor="middle" fill="#000">T887</text>
<line x1="388.35" y1="529.60" x2="388.35" y2="648.00" stroke="#000" stroke-width="1.1" stroke-dasharray="1.1,2.1"/>
<path d="M393.8 601.5L404.6 580.2M393.8 603.9L404.6 589.7M393.8 606.7L404.6 593.4M393.8 609.6L404.6 597.2M393.8 612.4L404.6 601.0M393.8 615.3L404.6 604.8M393.8 605.8L404.6 606.7" stroke="#b52a2a" stroke-width="0.75" fill="none"/>
<circle cx="393.8" cy="601.5" r="1.55" fill="#a50000"/>
<circle cx="393.8" cy="603.9" r="1.55" fill="#a50000"/>
<circle cx="393.8" cy="606.7" r="1.55" fill="#a50000"/>
<circle cx="393.8" cy="609.6" r="1.55" fill="#a50000"/>
<circle cx="393.8" cy="612.4" r="1.55" fill="#a50000"/>
<circle cx="393.8" cy="615.3" r="1.55" fill="#a50000"/>
<circle cx="393.8" cy="605.8" r="1.55" fill="#a50000"/>
<path d="M403.1 578.6h3.1v3.1h-3.1zM403.1 588.2h3.1v3.1h-3.1zM403.1 591.8h3.1v3.1h-3.1zM403.1 595.6h3.1v3.1h-3.1zM403.1 599.4h3.1v3.1h-3.1zM403.1 603.2h3.1v3.1h-3.1zM403.1 605.1h3.1v3.1h-3.1z" fill="#a50000"/>
<line x1="393.65" y1="574.78" x2="404.95" y2="574.78" stroke="#a50000" stroke-width="2.6"/>
<text x="402.40" y="572.08" font-size="7.1" font-weight="bold" stroke="#a50000" stroke-width="0.3" text-anchor="start" fill="#a50000" transform="rotate(-90 402.40 572.08)">p&lt;0.001</text>
<path d="M414.8 569.7L425.4 575.4M414.8 572.6L425.4 583.9M414.8 578.3L425.4 579.2M414.8 583.0L425.4 589.7M414.8 587.7L425.4 580.9M414.8 575.1L425.4 586.8" stroke="#2a2ad8" stroke-width="0.75" fill="none"/>
<circle cx="414.8" cy="569.7" r="1.55" fill="#0000c8"/>
<circle cx="414.8" cy="572.6" r="1.55" fill="#0000c8"/>
<circle cx="414.8" cy="578.3" r="1.55" fill="#0000c8"/>
<circle cx="414.8" cy="583.0" r="1.55" fill="#0000c8"/>
<circle cx="414.8" cy="587.7" r="1.55" fill="#0000c8"/>
<circle cx="414.8" cy="575.1" r="1.55" fill="#0000c8"/>
<path d="M423.9 573.8h3.1v3.1h-3.1zM423.9 582.3h3.1v3.1h-3.1zM423.9 577.6h3.1v3.1h-3.1zM423.9 588.2h3.1v3.1h-3.1zM423.9 579.4h3.1v3.1h-3.1zM423.9 585.2h3.1v3.1h-3.1z" fill="#0000c8"/>
<text x="409.35" y="658.80" font-size="9.1" font-weight="bold" stroke="#000" stroke-width="0.3" text-anchor="middle" fill="#000">T1458</text>
<line x1="430.40" y1="529.60" x2="430.40" y2="648.00" stroke="#000" stroke-width="1.1" stroke-dasharray="1.1,2.1"/>
<path d="M435.9 556.4L446.7 533.2M435.9 559.3L446.7 546.0M435.9 562.1L446.7 551.7M435.9 565.0L446.7 554.5M435.9 567.5L446.7 562.1M435.9 563.4L446.7 564.4M435.9 560.5L446.7 557.5" stroke="#b52a2a" stroke-width="0.75" fill="none"/>
<circle cx="435.9" cy="556.4" r="1.55" fill="#a50000"/>
<circle cx="435.9" cy="559.3" r="1.55" fill="#a50000"/>
<circle cx="435.9" cy="562.1" r="1.55" fill="#a50000"/>
<circle cx="435.9" cy="565.0" r="1.55" fill="#a50000"/>
<circle cx="435.9" cy="567.5" r="1.55" fill="#a50000"/>
<circle cx="435.9" cy="563.4" r="1.55" fill="#a50000"/>
<circle cx="435.9" cy="560.5" r="1.55" fill="#a50000"/>
<path d="M445.1 531.7h3.1v3.1h-3.1zM445.1 544.4h3.1v3.1h-3.1zM445.1 550.1h3.1v3.1h-3.1zM445.1 552.9h3.1v3.1h-3.1zM445.1 560.5h3.1v3.1h-3.1zM445.1 562.8h3.1v3.1h-3.1zM445.1 556.0h3.1v3.1h-3.1z" fill="#a50000"/>
<line x1="435.70" y1="528.28" x2="447.00" y2="528.28" stroke="#a50000" stroke-width="2.6"/>
<text x="444.45" y="525.58" font-size="7.1" font-weight="bold" stroke="#a50000" stroke-width="0.3" text-anchor="start" fill="#a50000" transform="rotate(-90 444.45 525.58)">p=0.018</text>
<path d="M456.9 562.6L467.5 564.0M456.9 565.0L467.5 566.9M456.9 567.8L467.5 569.7M456.9 570.7L467.5 573.5M456.9 572.6L467.5 569.2M456.9 566.3L467.5 566.3" stroke="#2a2ad8" stroke-width="0.75" fill="none"/>
<circle cx="456.9" cy="562.6" r="1.55" fill="#0000c8"/>
<circle cx="456.9" cy="565.0" r="1.55" fill="#0000c8"/>
<circle cx="456.9" cy="567.8" r="1.55" fill="#0000c8"/>
<circle cx="456.9" cy="570.7" r="1.55" fill="#0000c8"/>
<circle cx="456.9" cy="572.6" r="1.55" fill="#0000c8"/>
<circle cx="456.9" cy="566.3" r="1.55" fill="#0000c8"/>
<path d="M465.9 562.4h3.1v3.1h-3.1zM465.9 565.3h3.1v3.1h-3.1zM465.9 568.1h3.1v3.1h-3.1zM465.9 571.9h3.1v3.1h-3.1zM465.9 567.7h3.1v3.1h-3.1zM465.9 564.8h3.1v3.1h-3.1z" fill="#0000c8"/>
<text x="451.40" y="658.80" font-size="9.1" font-weight="bold" stroke="#000" stroke-width="0.3" text-anchor="middle" fill="#000">S1757</text>
<line x1="472.45" y1="529.60" x2="472.45" y2="648.00" stroke="#000" stroke-width="1.1" stroke-dasharray="1.1,2.1"/>
<path d="M477.9 591.5L488.8 580.2M477.9 598.2L488.8 587.7M477.9 602.0L488.8 591.5M477.9 604.8L488.8 597.2M477.9 607.7L488.8 601.0M477.9 614.9L488.8 604.8M477.9 604.3L488.8 594.1" stroke="#b52a2a" stroke-width="0.75" fill="none"/>
<circle cx="477.9" cy="591.5" r="1.55" fill="#a50000"/>
<circle cx="477.9" cy="598.2" r="1.55" fill="#a50000"/>
<circle cx="477.9" cy="602.0" r="1.55" fill="#a50000"/>
<circle cx="477.9" cy="604.8" r="1.55" fill="#a50000"/>
<circle cx="477.9" cy="607.7" r="1.55" fill="#a50000"/>
<circle cx="477.9" cy="614.9" r="1.55" fill="#a50000"/>
<circle cx="477.9" cy="604.3" r="1.55" fill="#a50000"/>
<path d="M487.2 578.6h3.1v3.1h-3.1zM487.2 586.1h3.1v3.1h-3.1zM487.2 589.9h3.1v3.1h-3.1zM487.2 595.6h3.1v3.1h-3.1zM487.2 599.4h3.1v3.1h-3.1zM487.2 603.2h3.1v3.1h-3.1zM487.2 592.5h3.1v3.1h-3.1z" fill="#a50000"/>
<line x1="477.75" y1="575.08" x2="489.05" y2="575.08" stroke="#a50000" stroke-width="2.6"/>
<text x="486.50" y="572.38" font-size="7.1" font-weight="bold" stroke="#a50000" stroke-width="0.3" text-anchor="start" fill="#a50000" transform="rotate(-90 486.50 572.38)">p=0.002</text>
<path d="M498.9 573.5L509.6 576.4M498.9 578.3L509.6 580.2M498.9 581.1L509.6 583.4M498.9 584.9L509.6 578.0M498.9 588.7L509.6 580.9M498.9 582.4L509.6 582.4" stroke="#2a2ad8" stroke-width="0.75" fill="none"/>
<circle cx="498.9" cy="573.5" r="1.55" fill="#0000c8"/>
<circle cx="498.9" cy="578.3" r="1.55" fill="#0000c8"/>
<circle cx="498.9" cy="581.1" r="1.55" fill="#0000c8"/>
<circle cx="498.9" cy="584.9" r="1.55" fill="#0000c8"/>
<circle cx="498.9" cy="588.7" r="1.55" fill="#0000c8"/>
<circle cx="498.9" cy="582.4" r="1.55" fill="#0000c8"/>
<path d="M508.0 574.8h3.1v3.1h-3.1zM508.0 578.6h3.1v3.1h-3.1zM508.0 581.9h3.1v3.1h-3.1zM508.0 576.5h3.1v3.1h-3.1zM508.0 579.4h3.1v3.1h-3.1zM508.0 580.8h3.1v3.1h-3.1z" fill="#0000c8"/>
<text x="493.45" y="658.80" font-size="9.1" font-weight="bold" stroke="#000" stroke-width="0.3" text-anchor="middle" fill="#000">S1474</text>
<line x1="514.50" y1="529.60" x2="514.50" y2="648.00" stroke="#000" stroke-width="1.1" stroke-dasharray="1.1,2.1"/>
<path d="M520.0 574.3L530.8 561.0M520.0 578.1L530.8 567.9M520.0 580.6L530.8 571.9M520.0 583.3L530.8 575.7M520.0 585.8L530.8 580.6M520.0 579.5L530.8 570.7" stroke="#b52a2a" stroke-width="0.75" fill="none"/>
<circle cx="520.0" cy="574.3" r="1.55" fill="#a50000"/>
<circle cx="520.0" cy="578.1" r="1.55" fill="#a50000"/>
<circle cx="520.0" cy="580.6" r="1.55" fill="#a50000"/>
<circle cx="520.0" cy="583.3" r="1.55" fill="#a50000"/>
<circle cx="520.0" cy="585.8" r="1.55" fill="#a50000"/>
<circle cx="520.0" cy="579.5" r="1.55" fill="#a50000"/>
<path d="M529.2 559.5h3.1v3.1h-3.1zM529.2 566.4h3.1v3.1h-3.1zM529.2 570.3h3.1v3.1h-3.1zM529.2 574.1h3.1v3.1h-3.1zM529.2 579.1h3.1v3.1h-3.1zM529.2 569.1h3.1v3.1h-3.1z" fill="#a50000"/>
<line x1="519.80" y1="556.94" x2="531.10" y2="556.94" stroke="#a50000" stroke-width="2.6"/>
<text x="528.55" y="554.24" font-size="7.1" font-weight="bold" stroke="#a50000" stroke-width="0.3" text-anchor="start" fill="#a50000" transform="rotate(-90 528.55 554.24)">p&lt;0.001</text>
<path d="M541.0 583.3L551.6 587.1M541.0 590.9L551.6 592.2M541.0 593.4L551.6 594.8M541.0 597.3L551.6 599.4M541.0 601.8L551.6 589.7M541.0 592.6L551.6 597.0" stroke="#2a2ad8" stroke-width="0.75" fill="none"/>
<circle cx="541.0" cy="583.3" r="1.55" fill="#0000c8"/>
<circle cx="541.0" cy="590.9" r="1.55" fill="#0000c8"/>
<circle cx="541.0" cy="593.4" r="1.55" fill="#0000c8"/>
<circle cx="541.0" cy="597.3" r="1.55" fill="#0000c8"/>
<circle cx="541.0" cy="601.8" r="1.55" fill="#0000c8"/>
<circle cx="541.0" cy="592.6" r="1.55" fill="#0000c8"/>
<path d="M550.1 585.5h3.1v3.1h-3.1zM550.1 590.6h3.1v3.1h-3.1zM550.1 593.3h3.1v3.1h-3.1zM550.1 597.8h3.1v3.1h-3.1zM550.1 588.2h3.1v3.1h-3.1zM550.1 595.5h3.1v3.1h-3.1z" fill="#0000c8"/>
<text x="535.50" y="658.80" font-size="9.1" font-weight="bold" stroke="#000" stroke-width="0.3" text-anchor="middle" fill="#000">S1296</text>
<line x1="556.55" y1="529.60" x2="556.55" y2="648.00" stroke="#000" stroke-width="1.1" stroke-dasharray="1.1,2.1"/>
<path d="M562.0 622.9L572.8 603.7M562.0 625.4L572.8 608.9M562.0 627.4L572.8 615.1M562.0 629.2L572.8 619.0M562.0 626.3L572.8 625.4M562.0 624.8L572.8 628.0M562.0 628.5L572.8 613.1" stroke="#b52a2a" stroke-width="0.75" fill="none"/>
<circle cx="562.0" cy="622.9" r="1.55" fill="#a50000"/>
<circle cx="562.0" cy="625.4" r="1.55" fill="#a50000"/>
<circle cx="562.0" cy="627.4" r="1.55" fill="#a50000"/>
<circle cx="562.0" cy="629.2" r="1.55" fill="#a50000"/>
<circle cx="562.0" cy="626.3" r="1.55" fill="#a50000"/>
<circle cx="562.0" cy="624.8" r="1.55" fill="#a50000"/>
<circle cx="562.0" cy="628.5" r="1.55" fill="#a50000"/>
<path d="M571.3 602.2h3.1v3.1h-3.1zM571.3 607.3h3.1v3.1h-3.1zM571.3 613.6h3.1v3.1h-3.1zM571.3 617.4h3.1v3.1h-3.1zM571.3 623.8h3.1v3.1h-3.1zM571.3 626.5h3.1v3.1h-3.1zM571.3 611.6h3.1v3.1h-3.1z" fill="#a50000"/>
<line x1="561.85" y1="599.94" x2="573.15" y2="599.94" stroke="#a50000" stroke-width="2.6"/>
<text x="570.60" y="597.24" font-size="7.1" font-weight="bold" stroke="#a50000" stroke-width="0.3" text-anchor="start" fill="#a50000" transform="rotate(-90 570.60 597.24)">p&lt;0.001</text>
<text x="577.55" y="658.80" font-size="9.1" font-weight="bold" stroke="#000" stroke-width="0.3" text-anchor="middle" fill="#000">S1557</text>
<line x1="598.60" y1="529.60" x2="598.60" y2="648.00" stroke="#000" stroke-width="1.1" stroke-dasharray="1.1,2.1"/>
<path d="M604.1 622.9L614.9 607.5M604.1 626.7L614.9 615.1M604.1 630.1L614.9 620.4M604.1 631.8L614.9 625.4M604.1 624.8L614.9 617.5M604.1 629.2L614.9 623.3M604.1 627.7L614.9 624.8" stroke="#b52a2a" stroke-width="0.75" fill="none"/>
<circle cx="604.1" cy="622.9" r="1.55" fill="#a50000"/>
<circle cx="604.1" cy="626.7" r="1.55" fill="#a50000"/>
<circle cx="604.1" cy="630.1" r="1.55" fill="#a50000"/>
<circle cx="604.1" cy="631.8" r="1.55" fill="#a50000"/>
<circle cx="604.1" cy="624.8" r="1.55" fill="#a50000"/>
<circle cx="604.1" cy="629.2" r="1.55" fill="#a50000"/>
<circle cx="604.1" cy="627.7" r="1.55" fill="#a50000"/>
<path d="M613.4 606.0h3.1v3.1h-3.1zM613.4 613.6h3.1v3.1h-3.1zM613.4 618.9h3.1v3.1h-3.1zM613.4 623.8h3.1v3.1h-3.1zM613.4 615.9h3.1v3.1h-3.1zM613.4 621.8h3.1v3.1h-3.1zM613.4 623.3h3.1v3.1h-3.1z" fill="#a50000"/>
<line x1="603.90" y1="602.42" x2="615.20" y2="602.42" stroke="#a50000" stroke-width="2.6"/>
<text x="612.65" y="599.72" font-size="7.1" font-weight="bold" stroke="#a50000" stroke-width="0.3" text-anchor="start" fill="#a50000" transform="rotate(-90 612.65 599.72)">p=0.001</text>
<path d="M625.1 590.9L635.7 592.2M625.1 594.8L635.7 594.8M625.1 598.6L635.7 598.6M625.1 602.4L635.7 594.1M625.1 607.0L635.7 597.0M625.1 597.0L635.7 595.6" stroke="#2a2ad8" stroke-width="0.75" fill="none"/>
<circle cx="625.1" cy="590.9" r="1.55" fill="#0000c8"/>
<circle cx="625.1" cy="594.8" r="1.55" fill="#0000c8"/>
<circle cx="625.1" cy="598.6" r="1.55" fill="#0000c8"/>
<circle cx="625.1" cy="602.4" r="1.55" fill="#0000c8"/>
<circle cx="625.1" cy="607.0" r="1.55" fill="#0000c8"/>
<circle cx="625.1" cy="597.0" r="1.55" fill="#0000c8"/>
<path d="M634.2 590.6h3.1v3.1h-3.1zM634.2 593.3h3.1v3.1h-3.1zM634.2 597.1h3.1v3.1h-3.1zM634.2 592.5h3.1v3.1h-3.1zM634.2 595.5h3.1v3.1h-3.1zM634.2 594.0h3.1v3.1h-3.1z" fill="#0000c8"/>
<text x="619.60" y="658.80" font-size="9.1" font-weight="bold" stroke="#000" stroke-width="0.3" text-anchor="middle" fill="#000">S1512</text>
<line x1="640.65" y1="529.60" x2="640.65" y2="648.00" stroke="#000" stroke-width="1.1" stroke-dasharray="1.1,2.1"/>
<path d="M646.1 594.8L656.9 584.0M646.1 599.9L656.9 588.4M646.1 603.7L656.9 592.2M646.1 607.0L656.9 597.3M646.1 609.6L656.9 601.1M646.1 602.9L656.9 586.8M646.1 605.8L656.9 591.2" stroke="#b52a2a" stroke-width="0.75" fill="none"/>
<circle cx="646.1" cy="594.8" r="1.55" fill="#a50000"/>
<circle cx="646.1" cy="599.9" r="1.55" fill="#a50000"/>
<circle cx="646.1" cy="603.7" r="1.55" fill="#a50000"/>
<circle cx="646.1" cy="607.0" r="1.55" fill="#a50000"/>
<circle cx="646.1" cy="609.6" r="1.55" fill="#a50000"/>
<circle cx="646.1" cy="602.9" r="1.55" fill="#a50000"/>
<circle cx="646.1" cy="605.8" r="1.55" fill="#a50000"/>
<path d="M655.4 582.4h3.1v3.1h-3.1zM655.4 586.8h3.1v3.1h-3.1zM655.4 590.6h3.1v3.1h-3.1zM655.4 595.8h3.1v3.1h-3.1zM655.4 599.6h3.1v3.1h-3.1zM655.4 585.2h3.1v3.1h-3.1zM655.4 589.6h3.1v3.1h-3.1z" fill="#a50000"/>
<line x1="645.95" y1="579.46" x2="657.25" y2="579.46" stroke="#a50000" stroke-width="2.6"/>
<text x="654.70" y="576.76" font-size="7.1" font-weight="bold" stroke="#a50000" stroke-width="0.3" text-anchor="start" fill="#a50000" transform="rotate(-90 654.70 576.76)">p&lt;0.001</text>
<path d="M667.1 577.4L677.8 579.5M667.1 581.9L677.8 584.0M667.1 585.8L677.8 588.4M667.1 590.9L677.8 582.4M667.1 597.3L677.8 580.9M667.1 583.9L677.8 585.3" stroke="#2a2ad8" stroke-width="0.75" fill="none"/>
<circle cx="667.1" cy="577.4" r="1.55" fill="#0000c8"/>
<circle cx="667.1" cy="581.9" r="1.55" fill="#0000c8"/>
<circle cx="667.1" cy="585.8" r="1.55" fill="#0000c8"/>
<circle cx="667.1" cy="590.9" r="1.55" fill="#0000c8"/>
<circle cx="667.1" cy="597.3" r="1.55" fill="#0000c8"/>
<circle cx="667.1" cy="583.9" r="1.55" fill="#0000c8"/>
<path d="M676.2 577.9h3.1v3.1h-3.1zM676.2 582.4h3.1v3.1h-3.1zM676.2 586.8h3.1v3.1h-3.1zM676.2 580.8h3.1v3.1h-3.1zM676.2 579.4h3.1v3.1h-3.1zM676.2 583.8h3.1v3.1h-3.1z" fill="#0000c8"/>
<text x="661.65" y="658.80" font-size="9.1" font-weight="bold" stroke="#000" stroke-width="0.3" text-anchor="middle" fill="#000">S271</text>
<text x="587.00" y="640.00" font-size="9.2" font-weight="bold" stroke="#0000c8" stroke-width="0.3" text-anchor="middle" fill="#0000c8">ND</text>
<line x1="52.00" y1="530.70" x2="52.00" y2="649.20" stroke="#000" stroke-width="2.0"/>
<line x1="51.00" y1="648.20" x2="682.70" y2="648.20" stroke="#000" stroke-width="2.0"/>
<line x1="47.50" y1="531.20" x2="52.00" y2="531.20" stroke="#000" stroke-width="1.4"/>
<text x="46.60" y="534.60" font-size="9.4" font-weight="bold" stroke="#000" stroke-width="0.3" text-anchor="end" fill="#000">10</text>
<line x1="47.50" y1="560.45" x2="52.00" y2="560.45" stroke="#000" stroke-width="1.4"/>
<text x="46.60" y="563.85" font-size="9.4" font-weight="bold" stroke="#000" stroke-width="0.3" text-anchor="end" fill="#000">8</text>
<line x1="47.50" y1="589.70" x2="52.00" y2="589.70" stroke="#000" stroke-width="1.4"/>
<text x="46.60" y="593.10" font-size="9.4" font-weight="bold" stroke="#000" stroke-width="0.3" text-anchor="end" fill="#000">6</text>
<line x1="47.50" y1="618.95" x2="52.00" y2="618.95" stroke="#000" stroke-width="1.4"/>
<text x="46.60" y="622.35" font-size="9.4" font-weight="bold" stroke="#000" stroke-width="0.3" text-anchor="end" fill="#000">4</text>
<line x1="47.50" y1="648.20" x2="52.00" y2="648.20" stroke="#000" stroke-width="1.4"/>
<text x="46.60" y="651.60" font-size="9.4" font-weight="bold" stroke="#000" stroke-width="0.3" text-anchor="end" fill="#000">2</text>
<text x="35.90" y="589.70" font-size="8.7" font-weight="bold" stroke="#000" stroke-width="0.3" text-anchor="middle" fill="#000" transform="rotate(-90 35.90 589.70)">Log2 Phospho Intensity</text>
<rect x="563.4" y="503.3" width="63.7" height="47.2" rx="4" fill="#fff" stroke="#000" stroke-width="2"/>
<circle cx="571.4" cy="510.8" r="2.5" fill="#a50000"/>
<text x="581.00" y="513.90" font-size="8.8" font-weight="bold" stroke="#000" stroke-width="0.3" text-anchor="start" fill="#000">Pre AAE</text>
<rect x="569.10" y="519.23" width="4.60" height="4.60" fill="#a50000"/>
<text x="581.00" y="524.63" font-size="8.8" font-weight="bold" stroke="#000" stroke-width="0.3" text-anchor="start" fill="#000">Post AAE</text>
<circle cx="571.4" cy="532.3" r="2.5" fill="#0000c8"/>
<text x="581.00" y="535.36" font-size="8.8" font-weight="bold" stroke="#000" stroke-width="0.3" text-anchor="start" fill="#000">Pre ARE</text>
<rect x="569.10" y="540.69" width="4.60" height="4.60" fill="#0000c8"/>
<text x="581.00" y="546.09" font-size="8.8" font-weight="bold" stroke="#000" stroke-width="0.3" text-anchor="start" fill="#000">Post ARE</text>
<text x="62.50" y="689.30" font-size="15.8" font-weight="bold" stroke="#000" stroke-width="0.3" text-anchor="start" fill="#000">F</text>
<line x1="98.30" y1="732.40" x2="117.50" y2="737.50" stroke="#b52a2a" stroke-width="0.75"/>
<line x1="98.30" y1="733.60" x2="117.50" y2="739.20" stroke="#b52a2a" stroke-width="0.75"/>
<line x1="98.30" y1="738.50" x2="117.50" y2="726.20" stroke="#b52a2a" stroke-width="0.75"/>
<line x1="98.30" y1="740.00" x2="117.50" y2="755.90" stroke="#b52a2a" stroke-width="0.75"/>
<line x1="98.30" y1="739.50" x2="117.50" y2="753.50" stroke="#b52a2a" stroke-width="0.75"/>
<line x1="98.30" y1="746.60" x2="117.50" y2="747.30" stroke="#b52a2a" stroke-width="0.75"/>
<line x1="98.30" y1="746.60" x2="117.50" y2="757.80" stroke="#b52a2a" stroke-width="0.75"/>
<line x1="98.30" y1="769.60" x2="117.50" y2="755.90" stroke="#b52a2a" stroke-width="0.75"/>
<line x1="98.30" y1="771.50" x2="117.50" y2="767.70" stroke="#b52a2a" stroke-width="0.75"/>
<line x1="136.90" y1="738.00" x2="156.30" y2="734.20" stroke="#2a2ad8" stroke-width="0.75"/>
<line x1="136.90" y1="741.00" x2="156.30" y2="747.90" stroke="#2a2ad8" stroke-width="0.75"/>
<line x1="136.90" y1="739.80" x2="156.30" y2="755.70" stroke="#2a2ad8" stroke-width="0.75"/>
<line x1="136.90" y1="738.50" x2="156.30" y2="775.20" stroke="#2a2ad8" stroke-width="0.75"/>
<line x1="136.90" y1="749.50" x2="156.30" y2="740.80" stroke="#2a2ad8" stroke-width="0.75"/>
<line x1="136.90" y1="740.00" x2="156.30" y2="752.00" stroke="#2a2ad8" stroke-width="0.75"/>
<line x1="136.90" y1="749.50" x2="156.30" y2="752.00" stroke="#2a2ad8" stroke-width="0.75"/>
<circle cx="98.3" cy="732.4" r="1.55" fill="#a50000"/>
<rect x="115.90" y="735.90" width="3.20" height="3.20" fill="#a50000"/>
<circle cx="98.3" cy="733.6" r="1.55" fill="#a50000"/>
<rect x="115.90" y="737.60" width="3.20" height="3.20" fill="#a50000"/>
<circle cx="98.3" cy="738.5" r="1.55" fill="#a50000"/>
<rect x="115.90" y="724.60" width="3.20" height="3.20" fill="#a50000"/>
<circle cx="98.3" cy="740.0" r="1.55" fill="#a50000"/>
<rect x="115.90" y="754.30" width="3.20" height="3.20" fill="#a50000"/>
<circle cx="98.3" cy="739.5" r="1.55" fill="#a50000"/>
<rect x="115.90" y="751.90" width="3.20" height="3.20" fill="#a50000"/>
<circle cx="98.3" cy="746.6" r="1.55" fill="#a50000"/>
<rect x="115.90" y="745.70" width="3.20" height="3.20" fill="#a50000"/>
<circle cx="98.3" cy="746.6" r="1.55" fill="#a50000"/>
<rect x="115.90" y="756.20" width="3.20" height="3.20" fill="#a50000"/>
<circle cx="98.3" cy="769.6" r="1.55" fill="#a50000"/>
<rect x="115.90" y="754.30" width="3.20" height="3.20" fill="#a50000"/>
<circle cx="98.3" cy="771.5" r="1.55" fill="#a50000"/>
<rect x="115.90" y="766.10" width="3.20" height="3.20" fill="#a50000"/>
<circle cx="136.9" cy="738.0" r="1.55" fill="#0000c8"/>
<rect x="154.70" y="732.60" width="3.20" height="3.20" fill="#0000c8"/>
<circle cx="136.9" cy="741.0" r="1.55" fill="#0000c8"/>
<rect x="154.70" y="746.30" width="3.20" height="3.20" fill="#0000c8"/>
<circle cx="136.9" cy="739.8" r="1.55" fill="#0000c8"/>
<rect x="154.70" y="754.10" width="3.20" height="3.20" fill="#0000c8"/>
<circle cx="136.9" cy="738.5" r="1.55" fill="#0000c8"/>
<rect x="154.70" y="773.60" width="3.20" height="3.20" fill="#0000c8"/>
<circle cx="136.9" cy="749.5" r="1.55" fill="#0000c8"/>
<rect x="154.70" y="739.20" width="3.20" height="3.20" fill="#0000c8"/>
<circle cx="136.9" cy="740.0" r="1.55" fill="#0000c8"/>
<rect x="154.70" y="750.40" width="3.20" height="3.20" fill="#0000c8"/>
<circle cx="136.9" cy="749.5" r="1.55" fill="#0000c8"/>
<rect x="154.70" y="750.40" width="3.20" height="3.20" fill="#0000c8"/>
<line x1="88.50" y1="700.00" x2="88.50" y2="810.60" stroke="#000" stroke-width="2.0"/>
<line x1="87.50" y1="809.60" x2="166.40" y2="809.60" stroke="#000" stroke-width="2.0"/>
<line x1="84.20" y1="711.80" x2="88.50" y2="711.80" stroke="#000" stroke-width="1.4"/>
<text x="83.30" y="714.70" font-size="8.2" font-weight="bold" stroke="#000" stroke-width="0.3" text-anchor="end" fill="#000">70</text>
<line x1="84.20" y1="733.40" x2="88.50" y2="733.40" stroke="#000" stroke-width="1.4"/>
<text x="83.30" y="736.30" font-size="8.2" font-weight="bold" stroke="#000" stroke-width="0.3" text-anchor="end" fill="#000">60</text>
<line x1="84.20" y1="755.30" x2="88.50" y2="755.30" stroke="#000" stroke-width="1.4"/>
<text x="83.30" y="758.20" font-size="8.2" font-weight="bold" stroke="#000" stroke-width="0.3" text-anchor="end" fill="#000">50</text>
<line x1="84.20" y1="776.90" x2="88.50" y2="776.90" stroke="#000" stroke-width="1.4"/>
<text x="83.30" y="779.80" font-size="8.2" font-weight="bold" stroke="#000" stroke-width="0.3" text-anchor="end" fill="#000">40</text>
<line x1="84.20" y1="798.50" x2="88.50" y2="798.50" stroke="#000" stroke-width="1.4"/>
<text x="83.30" y="801.40" font-size="8.2" font-weight="bold" stroke="#000" stroke-width="0.3" text-anchor="end" fill="#000">30</text>
<text x="108.00" y="820.60" font-size="9.6" font-weight="bold" stroke="#000" stroke-width="0.3" text-anchor="middle" fill="#000">AAE</text>
<text x="146.90" y="820.60" font-size="9.6" font-weight="bold" stroke="#000" stroke-width="0.3" text-anchor="middle" fill="#000">ARE</text>
<text x="60.40" y="755.10" font-size="9.7" font-weight="bold" stroke="#000" stroke-width="0.3" text-anchor="middle" fill="#000" transform="rotate(-90 60.40 755.10)" textLength="103" lengthAdjust="spacingAndGlyphs">NACA mRNA (RPKMs)</text>
<rect x="103.1" y="681.4" width="65.90" height="34.40" rx="3.5" fill="#fff" stroke="#000" stroke-width="1.8"/>
<circle cx="107.5" cy="686.0" r="2.4" fill="#a50000"/>
<text x="112.40" y="688.50" font-size="7.1" font-weight="bold" stroke="#000" stroke-width="0.3" text-anchor="start" fill="#000">Pre AAE</text>
<rect x="105.30" y="692.00" width="4.40" height="4.40" fill="#a50000"/>
<text x="112.40" y="696.70" font-size="7.1" font-weight="bold" stroke="#000" stroke-width="0.3" text-anchor="start" fill="#000">60min Post AAE</text>
<circle cx="107.5" cy="702.4" r="2.4" fill="#0000c8"/>
<text x="112.40" y="704.90" font-size="7.1" font-weight="bold" stroke="#000" stroke-width="0.3" text-anchor="start" fill="#000">Pre ARE</text>
<rect x="105.30" y="708.10" width="4.40" height="4.40" fill="#0000c8"/>
<text x="112.40" y="712.80" font-size="7.1" font-weight="bold" stroke="#000" stroke-width="0.3" text-anchor="start" fill="#000">60min Post ARE</text>
<text x="197.60" y="686.30" font-size="15.8" font-weight="bold" stroke="#000" stroke-width="0.3" text-anchor="start" fill="#000">G</text>
<line x1="256.30" y1="736.30" x2="275.60" y2="736.30" stroke="#b52a2a" stroke-width="0.75"/>
<line x1="256.30" y1="741.50" x2="275.60" y2="718.20" stroke="#b52a2a" stroke-width="0.75"/>
<line x1="256.30" y1="742.70" x2="275.60" y2="742.70" stroke="#b52a2a" stroke-width="0.75"/>
<line x1="256.30" y1="745.00" x2="275.60" y2="744.50" stroke="#b52a2a" stroke-width="0.75"/>
<line x1="256.30" y1="748.50" x2="275.60" y2="738.00" stroke="#b52a2a" stroke-width="0.75"/>
<line x1="256.30" y1="742.70" x2="275.60" y2="760.80" stroke="#b52a2a" stroke-width="0.75"/>
<line x1="256.30" y1="759.30" x2="275.60" y2="759.60" stroke="#b52a2a" stroke-width="0.75"/>
<line x1="295.00" y1="745.00" x2="314.10" y2="745.00" stroke="#2a2ad8" stroke-width="0.75"/>
<line x1="295.00" y1="750.30" x2="314.10" y2="753.20" stroke="#2a2ad8" stroke-width="0.75"/>
<line x1="295.00" y1="750.30" x2="314.10" y2="757.00" stroke="#2a2ad8" stroke-width="0.75"/>
<line x1="295.00" y1="752.30" x2="314.10" y2="761.40" stroke="#2a2ad8" stroke-width="0.75"/>
<line x1="295.00" y1="763.10" x2="314.10" y2="761.40" stroke="#2a2ad8" stroke-width="0.75"/>
<line x1="295.00" y1="764.30" x2="314.10" y2="769.60" stroke="#2a2ad8" stroke-width="0.75"/>
<line x1="295.00" y1="763.10" x2="314.10" y2="775.60" stroke="#2a2ad8" stroke-width="0.75"/>
<line x1="295.00" y1="770.70" x2="314.10" y2="776.80" stroke="#2a2ad8" stroke-width="0.75"/>
<circle cx="256.3" cy="736.3" r="1.55" fill="#a50000"/>
<rect x="274.00" y="734.70" width="3.20" height="3.20" fill="#a50000"/>
<circle cx="256.3" cy="741.5" r="1.55" fill="#a50000"/>
<rect x="274.00" y="716.60" width="3.20" height="3.20" fill="#a50000"/>
<circle cx="256.3" cy="742.7" r="1.55" fill="#a50000"/>
<rect x="274.00" y="741.10" width="3.20" height="3.20" fill="#a50000"/>
<circle cx="256.3" cy="745.0" r="1.55" fill="#a50000"/>
<rect x="274.00" y="742.90" width="3.20" height="3.20" fill="#a50000"/>
<circle cx="256.3" cy="748.5" r="1.55" fill="#a50000"/>
<rect x="274.00" y="736.40" width="3.20" height="3.20" fill="#a50000"/>
<circle cx="256.3" cy="742.7" r="1.55" fill="#a50000"/>
<rect x="274.00" y="759.20" width="3.20" height="3.20" fill="#a50000"/>
<circle cx="256.3" cy="759.3" r="1.55" fill="#a50000"/>
<rect x="274.00" y="758.00" width="3.20" height="3.20" fill="#a50000"/>
<circle cx="295.0" cy="745.0" r="1.55" fill="#0000c8"/>
<rect x="312.50" y="743.40" width="3.20" height="3.20" fill="#0000c8"/>
<circle cx="295.0" cy="750.3" r="1.55" fill="#0000c8"/>
<rect x="312.50" y="751.60" width="3.20" height="3.20" fill="#0000c8"/>
<circle cx="295.0" cy="750.3" r="1.55" fill="#0000c8"/>
<rect x="312.50" y="755.40" width="3.20" height="3.20" fill="#0000c8"/>
<circle cx="295.0" cy="752.3" r="1.55" fill="#0000c8"/>
<rect x="312.50" y="759.80" width="3.20" height="3.20" fill="#0000c8"/>
<circle cx="295.0" cy="763.1" r="1.55" fill="#0000c8"/>
<rect x="312.50" y="759.80" width="3.20" height="3.20" fill="#0000c8"/>
<circle cx="295.0" cy="764.3" r="1.55" fill="#0000c8"/>
<rect x="312.50" y="768.00" width="3.20" height="3.20" fill="#0000c8"/>
<circle cx="295.0" cy="763.1" r="1.55" fill="#0000c8"/>
<rect x="312.50" y="774.00" width="3.20" height="3.20" fill="#0000c8"/>
<circle cx="295.0" cy="770.7" r="1.55" fill="#0000c8"/>
<rect x="312.50" y="775.20" width="3.20" height="3.20" fill="#0000c8"/>
<line x1="247.00" y1="699.80" x2="247.00" y2="809.50" stroke="#000" stroke-width="2.0"/>
<line x1="246.00" y1="808.50" x2="324.00" y2="808.50" stroke="#000" stroke-width="2.0"/>
<line x1="242.70" y1="700.80" x2="247.00" y2="700.80" stroke="#000" stroke-width="1.4"/>
<text x="241.80" y="703.70" font-size="8.2" font-weight="bold" stroke="#000" stroke-width="0.3" text-anchor="end" fill="#000">13.5</text>
<line x1="242.70" y1="736.50" x2="247.00" y2="736.50" stroke="#000" stroke-width="1.4"/>
<text x="241.80" y="739.40" font-size="8.2" font-weight="bold" stroke="#000" stroke-width="0.3" text-anchor="end" fill="#000">13.0</text>
<line x1="242.70" y1="772.50" x2="247.00" y2="772.50" stroke="#000" stroke-width="1.4"/>
<text x="241.80" y="775.40" font-size="8.2" font-weight="bold" stroke="#000" stroke-width="0.3" text-anchor="end" fill="#000">12.5</text>
<line x1="242.70" y1="808.50" x2="247.00" y2="808.50" stroke="#000" stroke-width="1.4"/>
<text x="241.80" y="811.40" font-size="8.2" font-weight="bold" stroke="#000" stroke-width="0.3" text-anchor="end" fill="#000">12.0</text>
<text x="266.10" y="819.50" font-size="9.6" font-weight="bold" stroke="#000" stroke-width="0.3" text-anchor="middle" fill="#000">AAE</text>
<text x="304.60" y="819.50" font-size="9.6" font-weight="bold" stroke="#000" stroke-width="0.3" text-anchor="middle" fill="#000">ARE</text>
<text x="218.80" y="755.50" font-size="9.7" font-weight="bold" stroke="#000" stroke-width="0.3" text-anchor="middle" fill="#000" transform="rotate(-90 218.80 755.50)" textLength="139" lengthAdjust="spacingAndGlyphs">NACA Protein (Log2 Intensity)</text>
<rect x="254.0" y="679.0" width="46.60" height="34.90" rx="3.5" fill="#fff" stroke="#000" stroke-width="1.8"/>
<circle cx="258.9" cy="684.1" r="2.4" fill="#a50000"/>
<text x="263.90" y="686.60" font-size="6.9" font-weight="bold" stroke="#000" stroke-width="0.3" text-anchor="start" fill="#000">Pre AAE</text>
<rect x="256.70" y="689.90" width="4.40" height="4.40" fill="#a50000"/>
<text x="263.90" y="694.60" font-size="6.9" font-weight="bold" stroke="#000" stroke-width="0.3" text-anchor="start" fill="#000">Post AAE</text>
<circle cx="258.9" cy="700.3" r="2.4" fill="#0000c8"/>
<text x="263.90" y="702.80" font-size="6.9" font-weight="bold" stroke="#000" stroke-width="0.3" text-anchor="start" fill="#000">Pre ARE</text>
<rect x="256.70" y="706.30" width="4.40" height="4.40" fill="#0000c8"/>
<text x="263.90" y="711.00" font-size="6.9" font-weight="bold" stroke="#000" stroke-width="0.3" text-anchor="start" fill="#000">Post ARE</text>
<text x="79.80" y="868.50" font-size="15.8" font-weight="bold" stroke="#000" stroke-width="0.3" text-anchor="start" fill="#000">I</text>
<rect x="113.70" y="897.57" width="11.19" height="80.03" fill="#0000ff" stroke="#000" stroke-width="0.6"/>
<rect x="124.89" y="899.17" width="11.19" height="78.43" fill="#0000ff" stroke="#000" stroke-width="0.6"/>
<rect x="136.08" y="899.62" width="11.19" height="77.98" fill="#0000ff" stroke="#000" stroke-width="0.6"/>
<rect x="147.27" y="902.36" width="11.19" height="75.24" fill="#0000ff" stroke="#000" stroke-width="0.6"/>
<rect x="158.46" y="902.36" width="11.19" height="75.24" fill="#0000ff" stroke="#000" stroke-width="0.6"/>
<rect x="169.65" y="903.27" width="11.19" height="74.33" fill="#0000ff" stroke="#000" stroke-width="0.6"/>
<rect x="180.84" y="905.55" width="11.19" height="72.05" fill="#0000ff" stroke="#000" stroke-width="0.6"/>
<rect x="192.03" y="907.38" width="11.19" height="70.22" fill="#0000ff" stroke="#000" stroke-width="0.6"/>
<rect x="203.22" y="907.83" width="11.19" height="69.77" fill="#0000ff" stroke="#000" stroke-width="0.6"/>
<rect x="214.41" y="908.29" width="11.19" height="69.31" fill="#0000ff" stroke="#000" stroke-width="0.6"/>
<rect x="225.60" y="924.70" width="11.19" height="52.90" fill="#0000ff" stroke="#000" stroke-width="0.6"/>
<rect x="236.79" y="936.56" width="11.19" height="41.04" fill="#0000ff" stroke="#000" stroke-width="0.6"/>
<rect x="247.98" y="941.12" width="11.19" height="36.48" fill="#0000ff" stroke="#000" stroke-width="0.6"/>
<rect x="259.17" y="946.14" width="11.19" height="31.46" fill="#0000ff" stroke="#000" stroke-width="0.6"/>
<rect x="270.36" y="907.38" width="11.19" height="70.22" fill="#ffff00" stroke="#000" stroke-width="0.6"/>
<rect x="281.55" y="945.22" width="11.19" height="32.38" fill="#ff0000" stroke="#000" stroke-width="0.6"/>
<rect x="292.74" y="926.07" width="11.19" height="51.53" fill="#00b800" stroke="#000" stroke-width="0.6"/>
<rect x="303.93" y="936.10" width="11.19" height="41.50" fill="#00b800" stroke="#000" stroke-width="0.6"/>
<rect x="315.12" y="931.09" width="11.19" height="46.51" fill="#aa00e6" stroke="#000" stroke-width="0.6"/>
<rect x="326.31" y="937.02" width="11.19" height="40.58" fill="#aa00e6" stroke="#000" stroke-width="0.6"/>
<rect x="337.50" y="940.66" width="11.19" height="36.94" fill="#ff8000" stroke="#000" stroke-width="0.6"/>
<rect x="348.69" y="941.12" width="11.19" height="36.48" fill="#000000" stroke="#000" stroke-width="0.6"/>
<rect x="359.88" y="948.42" width="11.19" height="29.18" fill="#996633" stroke="#000" stroke-width="0.6"/>
<rect x="371.07" y="910.11" width="11.19" height="67.49" fill="#c3be00" stroke="#000" stroke-width="0.6"/>
<rect x="382.26" y="914.22" width="11.19" height="63.38" fill="#c3be00" stroke="#000" stroke-width="0.6"/>
<rect x="393.45" y="915.58" width="11.19" height="62.02" fill="#c3be00" stroke="#000" stroke-width="0.6"/>
<rect x="404.64" y="916.50" width="11.19" height="61.10" fill="#c3be00" stroke="#000" stroke-width="0.6"/>
<rect x="415.83" y="919.23" width="11.19" height="58.37" fill="#c3be00" stroke="#000" stroke-width="0.6"/>
<rect x="427.02" y="920.14" width="11.19" height="57.46" fill="#c3be00" stroke="#000" stroke-width="0.6"/>
<rect x="438.21" y="920.14" width="11.19" height="57.46" fill="#c3be00" stroke="#000" stroke-width="0.6"/>
<rect x="449.40" y="921.97" width="11.19" height="55.63" fill="#c3be00" stroke="#000" stroke-width="0.6"/>
<rect x="460.59" y="925.16" width="11.19" height="52.44" fill="#c3be00" stroke="#000" stroke-width="0.6"/>
<rect x="471.78" y="933.37" width="11.19" height="44.23" fill="#c3be00" stroke="#000" stroke-width="0.6"/>
<rect x="482.97" y="977.60" width="11.19" height="47.42" fill="#c3be00" stroke="#000" stroke-width="0.6"/>
<rect x="494.16" y="977.60" width="11.19" height="52.44" fill="#c3be00" stroke="#000" stroke-width="0.6"/>
<rect x="505.35" y="977.60" width="11.19" height="55.18" fill="#c3be00" stroke="#000" stroke-width="0.6"/>
<rect x="516.54" y="977.60" width="11.19" height="57.91" fill="#c3be00" stroke="#000" stroke-width="0.6"/>
<rect x="527.73" y="977.60" width="11.19" height="60.19" fill="#c3be00" stroke="#000" stroke-width="0.6"/>
<rect x="538.92" y="977.60" width="11.19" height="62.47" fill="#c3be00" stroke="#000" stroke-width="0.6"/>
<rect x="550.11" y="977.60" width="11.19" height="73.87" fill="#c3be00" stroke="#000" stroke-width="0.6"/>
<rect x="561.30" y="941.12" width="11.19" height="36.48" fill="#800080" stroke="#000" stroke-width="0.6"/>
<rect x="572.49" y="946.59" width="11.19" height="31.01" fill="#800080" stroke="#000" stroke-width="0.6"/>
<rect x="583.68" y="977.60" width="11.19" height="72.50" fill="#800080" stroke="#000" stroke-width="0.6"/>
<rect x="594.87" y="977.60" width="11.19" height="41.50" fill="#005a00" stroke="#000" stroke-width="0.6"/>
<rect x="606.06" y="977.60" width="11.19" height="43.32" fill="#005a00" stroke="#000" stroke-width="0.6"/>
<rect x="617.25" y="977.60" width="11.19" height="59.28" fill="#005a00" stroke="#000" stroke-width="0.6"/>
<rect x="628.44" y="977.60" width="11.19" height="59.28" fill="#005a00" stroke="#000" stroke-width="0.6"/>
<rect x="639.63" y="977.60" width="11.19" height="35.57" fill="#a00000" stroke="#000" stroke-width="0.6"/>
<rect x="650.82" y="977.60" width="11.19" height="59.28" fill="#f5b97d" stroke="#000" stroke-width="0.6"/>
<line x1="112.70" y1="977.60" x2="663.50" y2="977.60" stroke="#000" stroke-width="2.1"/>
<line x1="112.70" y1="1068.80" x2="663.50" y2="1068.80" stroke="#000" stroke-width="2.1"/>
<line x1="113.70" y1="886.40" x2="113.70" y2="1069.80" stroke="#000" stroke-width="2.1"/>
<line x1="107.20" y1="886.40" x2="113.70" y2="886.40" stroke="#000" stroke-width="1.6"/>
<text x="105.90" y="886.40" font-size="10.2" font-weight="bold" stroke="#000" stroke-width="0.3" text-anchor="middle" fill="#000" transform="rotate(-90 105.90 886.40)">2</text>
<line x1="107.20" y1="932.00" x2="113.70" y2="932.00" stroke="#000" stroke-width="1.6"/>
<text x="105.90" y="932.00" font-size="10.2" font-weight="bold" stroke="#000" stroke-width="0.3" text-anchor="middle" fill="#000" transform="rotate(-90 105.90 932.00)">1</text>
<line x1="107.20" y1="977.60" x2="113.70" y2="977.60" stroke="#000" stroke-width="1.6"/>
<text x="105.90" y="977.60" font-size="10.2" font-weight="bold" stroke="#000" stroke-width="0.3" text-anchor="middle" fill="#000" transform="rotate(-90 105.90 977.60)">0</text>
<line x1="107.20" y1="1023.20" x2="113.70" y2="1023.20" stroke="#000" stroke-width="1.6"/>
<text x="105.90" y="1023.20" font-size="10.2" font-weight="bold" stroke="#000" stroke-width="0.3" text-anchor="middle" fill="#000" transform="rotate(-90 105.90 1023.20)">-1</text>
<line x1="107.20" y1="1068.80" x2="113.70" y2="1068.80" stroke="#000" stroke-width="1.6"/>
<text x="105.90" y="1068.80" font-size="10.2" font-weight="bold" stroke="#000" stroke-width="0.3" text-anchor="middle" fill="#000" transform="rotate(-90 105.90 1068.80)">-2</text>
<line x1="119.30" y1="1068.80" x2="119.30" y2="1075.00" stroke="#000" stroke-width="1.5"/>
<text x="122.50" y="1078.00" font-size="8.9" font-weight="bold" stroke="#000" stroke-width="0.3" text-anchor="end" fill="#000" transform="rotate(-90 122.50 1078.00)">P38G</text>
<line x1="130.49" y1="1068.80" x2="130.49" y2="1075.00" stroke="#000" stroke-width="1.5"/>
<text x="133.69" y="1078.00" font-size="8.9" font-weight="bold" stroke="#000" stroke-width="0.3" text-anchor="end" fill="#000" transform="rotate(-90 133.69 1078.00)">JNK2</text>
<line x1="141.68" y1="1068.80" x2="141.68" y2="1075.00" stroke="#000" stroke-width="1.5"/>
<text x="144.88" y="1078.00" font-size="8.9" font-weight="bold" stroke="#000" stroke-width="0.3" text-anchor="end" fill="#000" transform="rotate(-90 144.88 1078.00)">ERK1</text>
<line x1="152.87" y1="1068.80" x2="152.87" y2="1075.00" stroke="#000" stroke-width="1.5"/>
<text x="156.06" y="1078.00" font-size="8.9" font-weight="bold" stroke="#000" stroke-width="0.3" text-anchor="end" fill="#000" transform="rotate(-90 156.06 1078.00)">JNK3</text>
<line x1="164.06" y1="1068.80" x2="164.06" y2="1075.00" stroke="#000" stroke-width="1.5"/>
<text x="167.25" y="1078.00" font-size="8.9" font-weight="bold" stroke="#000" stroke-width="0.3" text-anchor="end" fill="#000" transform="rotate(-90 167.25 1078.00)">JNK1</text>
<line x1="175.25" y1="1068.80" x2="175.25" y2="1075.00" stroke="#000" stroke-width="1.5"/>
<text x="178.44" y="1078.00" font-size="8.9" font-weight="bold" stroke="#000" stroke-width="0.3" text-anchor="end" fill="#000" transform="rotate(-90 178.44 1078.00)">ERK2</text>
<line x1="186.44" y1="1068.80" x2="186.44" y2="1075.00" stroke="#000" stroke-width="1.5"/>
<text x="189.63" y="1078.00" font-size="8.9" font-weight="bold" stroke="#000" stroke-width="0.3" text-anchor="end" fill="#000" transform="rotate(-90 189.63 1078.00)">P38B</text>
<line x1="197.62" y1="1068.80" x2="197.62" y2="1075.00" stroke="#000" stroke-width="1.5"/>
<text x="200.82" y="1078.00" font-size="8.9" font-weight="bold" stroke="#000" stroke-width="0.3" text-anchor="end" fill="#000" transform="rotate(-90 200.82 1078.00)">P38D</text>
<line x1="208.81" y1="1068.80" x2="208.81" y2="1075.00" stroke="#000" stroke-width="1.5"/>
<text x="212.01" y="1078.00" font-size="8.9" font-weight="bold" stroke="#000" stroke-width="0.3" text-anchor="end" fill="#000" transform="rotate(-90 212.01 1078.00)">P38A</text>
<line x1="220.00" y1="1068.80" x2="220.00" y2="1075.00" stroke="#000" stroke-width="1.5"/>
<text x="223.20" y="1078.00" font-size="8.9" font-weight="bold" stroke="#000" stroke-width="0.3" text-anchor="end" fill="#000" transform="rotate(-90 223.20 1078.00)">NLK</text>
<line x1="231.19" y1="1068.80" x2="231.19" y2="1075.00" stroke="#000" stroke-width="1.5"/>
<text x="234.39" y="1078.00" font-size="8.9" font-weight="bold" stroke="#000" stroke-width="0.3" text-anchor="end" fill="#000" transform="rotate(-90 234.39 1078.00)">ERK5</text>
<line x1="242.38" y1="1068.80" x2="242.38" y2="1075.00" stroke="#000" stroke-width="1.5"/>
<text x="245.58" y="1078.00" font-size="8.9" font-weight="bold" stroke="#000" stroke-width="0.3" text-anchor="end" fill="#000" transform="rotate(-90 245.58 1078.00)">ERK7</text>
<line x1="253.57" y1="1068.80" x2="253.57" y2="1075.00" stroke="#000" stroke-width="1.5"/>
<text x="256.77" y="1078.00" font-size="8.9" font-weight="bold" stroke="#000" stroke-width="0.3" text-anchor="end" fill="#000" transform="rotate(-90 256.77 1078.00)">MAPKAPK2</text>
<line x1="264.76" y1="1068.80" x2="264.76" y2="1075.00" stroke="#000" stroke-width="1.5"/>
<text x="267.96" y="1078.00" font-size="8.9" font-weight="bold" stroke="#000" stroke-width="0.3" text-anchor="end" fill="#000" transform="rotate(-90 267.96 1078.00)">MOK</text>
<line x1="275.95" y1="1068.80" x2="275.95" y2="1075.00" stroke="#000" stroke-width="1.5"/>
<text x="279.15" y="1078.00" font-size="8.9" font-weight="bold" stroke="#000" stroke-width="0.3" text-anchor="end" fill="#000" transform="rotate(-90 279.15 1078.00)">RSK4</text>
<line x1="287.14" y1="1068.80" x2="287.14" y2="1075.00" stroke="#000" stroke-width="1.5"/>
<text x="290.34" y="1078.00" font-size="8.9" font-weight="bold" stroke="#000" stroke-width="0.3" text-anchor="end" fill="#000" transform="rotate(-90 290.34 1078.00)">MTOR</text>
<line x1="298.33" y1="1068.80" x2="298.33" y2="1075.00" stroke="#000" stroke-width="1.5"/>
<text x="301.53" y="1078.00" font-size="8.9" font-weight="bold" stroke="#000" stroke-width="0.3" text-anchor="end" fill="#000" transform="rotate(-90 301.53 1078.00)">GSK3A</text>
<line x1="309.52" y1="1068.80" x2="309.52" y2="1075.00" stroke="#000" stroke-width="1.5"/>
<text x="312.72" y="1078.00" font-size="8.9" font-weight="bold" stroke="#000" stroke-width="0.3" text-anchor="end" fill="#000" transform="rotate(-90 312.72 1078.00)">GSK3B</text>
<line x1="320.71" y1="1068.80" x2="320.71" y2="1075.00" stroke="#000" stroke-width="1.5"/>
<text x="323.91" y="1078.00" font-size="8.9" font-weight="bold" stroke="#000" stroke-width="0.3" text-anchor="end" fill="#000" transform="rotate(-90 323.91 1078.00)">MAK</text>
<line x1="331.90" y1="1068.80" x2="331.90" y2="1075.00" stroke="#000" stroke-width="1.5"/>
<text x="335.10" y="1078.00" font-size="8.9" font-weight="bold" stroke="#000" stroke-width="0.3" text-anchor="end" fill="#000" transform="rotate(-90 335.10 1078.00)">ICK</text>
<line x1="343.09" y1="1068.80" x2="343.09" y2="1075.00" stroke="#000" stroke-width="1.5"/>
<text x="346.29" y="1078.00" font-size="8.9" font-weight="bold" stroke="#000" stroke-width="0.3" text-anchor="end" fill="#000" transform="rotate(-90 346.29 1078.00)">KIS</text>
<line x1="354.28" y1="1068.80" x2="354.28" y2="1075.00" stroke="#000" stroke-width="1.5"/>
<text x="357.48" y="1078.00" font-size="8.9" font-weight="bold" stroke="#000" stroke-width="0.3" text-anchor="end" fill="#000" transform="rotate(-90 357.48 1078.00)">NDR2</text>
<line x1="365.47" y1="1068.80" x2="365.47" y2="1075.00" stroke="#000" stroke-width="1.5"/>
<text x="368.67" y="1078.00" font-size="8.9" font-weight="bold" stroke="#000" stroke-width="0.3" text-anchor="end" fill="#000" transform="rotate(-90 368.67 1078.00)">LATS2</text>
<line x1="376.66" y1="1068.80" x2="376.66" y2="1075.00" stroke="#000" stroke-width="1.5"/>
<text x="379.86" y="1078.00" font-size="8.9" font-weight="bold" stroke="#000" stroke-width="0.3" text-anchor="end" fill="#000" transform="rotate(-90 379.86 1078.00)">CDK5</text>
<line x1="387.85" y1="1068.80" x2="387.85" y2="1075.00" stroke="#000" stroke-width="1.5"/>
<text x="391.05" y="1078.00" font-size="8.9" font-weight="bold" stroke="#000" stroke-width="0.3" text-anchor="end" fill="#000" transform="rotate(-90 391.05 1078.00)">CDK3</text>
<line x1="399.04" y1="1068.80" x2="399.04" y2="1075.00" stroke="#000" stroke-width="1.5"/>
<text x="402.24" y="1078.00" font-size="8.9" font-weight="bold" stroke="#000" stroke-width="0.3" text-anchor="end" fill="#000" transform="rotate(-90 402.24 1078.00)">CDK8</text>
<line x1="410.23" y1="1068.80" x2="410.23" y2="1075.00" stroke="#000" stroke-width="1.5"/>
<text x="413.43" y="1078.00" font-size="8.9" font-weight="bold" stroke="#000" stroke-width="0.3" text-anchor="end" fill="#000" transform="rotate(-90 413.43 1078.00)">CDK1</text>
<line x1="421.42" y1="1068.80" x2="421.42" y2="1075.00" stroke="#000" stroke-width="1.5"/>
<text x="424.62" y="1078.00" font-size="8.9" font-weight="bold" stroke="#000" stroke-width="0.3" text-anchor="end" fill="#000" transform="rotate(-90 424.62 1078.00)">CDK2</text>
<line x1="432.61" y1="1068.80" x2="432.61" y2="1075.00" stroke="#000" stroke-width="1.5"/>
<text x="435.81" y="1078.00" font-size="8.9" font-weight="bold" stroke="#000" stroke-width="0.3" text-anchor="end" fill="#000" transform="rotate(-90 435.81 1078.00)">CDK6</text>
<line x1="443.80" y1="1068.80" x2="443.80" y2="1075.00" stroke="#000" stroke-width="1.5"/>
<text x="447.00" y="1078.00" font-size="8.9" font-weight="bold" stroke="#000" stroke-width="0.3" text-anchor="end" fill="#000" transform="rotate(-90 447.00 1078.00)">CDK19</text>
<line x1="454.99" y1="1068.80" x2="454.99" y2="1075.00" stroke="#000" stroke-width="1.5"/>
<text x="458.19" y="1078.00" font-size="8.9" font-weight="bold" stroke="#000" stroke-width="0.3" text-anchor="end" fill="#000" transform="rotate(-90 458.19 1078.00)">CDK4</text>
<line x1="466.18" y1="1068.80" x2="466.18" y2="1075.00" stroke="#000" stroke-width="1.5"/>
<text x="469.38" y="1078.00" font-size="8.9" font-weight="bold" stroke="#000" stroke-width="0.3" text-anchor="end" fill="#000" transform="rotate(-90 469.38 1078.00)">CDK7</text>
<line x1="477.38" y1="1068.80" x2="477.38" y2="1075.00" stroke="#000" stroke-width="1.5"/>
<text x="480.57" y="1078.00" font-size="8.9" font-weight="bold" stroke="#000" stroke-width="0.3" text-anchor="end" fill="#000" transform="rotate(-90 480.57 1078.00)">CDK13</text>
<line x1="488.56" y1="1068.80" x2="488.56" y2="1075.00" stroke="#000" stroke-width="1.5"/>
<text x="491.76" y="1078.00" font-size="8.9" font-weight="bold" stroke="#000" stroke-width="0.3" text-anchor="end" fill="#000" transform="rotate(-90 491.76 1078.00)">CDK16</text>
<line x1="499.75" y1="1068.80" x2="499.75" y2="1075.00" stroke="#000" stroke-width="1.5"/>
<text x="502.95" y="1078.00" font-size="8.9" font-weight="bold" stroke="#000" stroke-width="0.3" text-anchor="end" fill="#000" transform="rotate(-90 502.95 1078.00)">CDK12</text>
<line x1="510.94" y1="1068.80" x2="510.94" y2="1075.00" stroke="#000" stroke-width="1.5"/>
<text x="514.14" y="1078.00" font-size="8.9" font-weight="bold" stroke="#000" stroke-width="0.3" text-anchor="end" fill="#000" transform="rotate(-90 514.14 1078.00)">CDK17</text>
<line x1="522.13" y1="1068.80" x2="522.13" y2="1075.00" stroke="#000" stroke-width="1.5"/>
<text x="525.34" y="1078.00" font-size="8.9" font-weight="bold" stroke="#000" stroke-width="0.3" text-anchor="end" fill="#000" transform="rotate(-90 525.34 1078.00)">CDK18</text>
<line x1="533.33" y1="1068.80" x2="533.33" y2="1075.00" stroke="#000" stroke-width="1.5"/>
<text x="536.53" y="1078.00" font-size="8.9" font-weight="bold" stroke="#000" stroke-width="0.3" text-anchor="end" fill="#000" transform="rotate(-90 536.53 1078.00)">CDK9</text>
<line x1="544.51" y1="1068.80" x2="544.51" y2="1075.00" stroke="#000" stroke-width="1.5"/>
<text x="547.72" y="1078.00" font-size="8.9" font-weight="bold" stroke="#000" stroke-width="0.3" text-anchor="end" fill="#000" transform="rotate(-90 547.72 1078.00)">CDK14</text>
<line x1="555.71" y1="1068.80" x2="555.71" y2="1075.00" stroke="#000" stroke-width="1.5"/>
<text x="558.91" y="1078.00" font-size="8.9" font-weight="bold" stroke="#000" stroke-width="0.3" text-anchor="end" fill="#000" transform="rotate(-90 558.91 1078.00)">CDK10</text>
<line x1="566.89" y1="1068.80" x2="566.89" y2="1075.00" stroke="#000" stroke-width="1.5"/>
<text x="570.10" y="1078.00" font-size="8.9" font-weight="bold" stroke="#000" stroke-width="0.3" text-anchor="end" fill="#000" transform="rotate(-90 570.10 1078.00)">HIPK4</text>
<line x1="578.09" y1="1068.80" x2="578.09" y2="1075.00" stroke="#000" stroke-width="1.5"/>
<text x="581.29" y="1078.00" font-size="8.9" font-weight="bold" stroke="#000" stroke-width="0.3" text-anchor="end" fill="#000" transform="rotate(-90 581.29 1078.00)">HIPK2</text>
<line x1="589.27" y1="1068.80" x2="589.27" y2="1075.00" stroke="#000" stroke-width="1.5"/>
<text x="592.48" y="1078.00" font-size="8.9" font-weight="bold" stroke="#000" stroke-width="0.3" text-anchor="end" fill="#000" transform="rotate(-90 592.48 1078.00)">HIPK3</text>
<line x1="600.47" y1="1068.80" x2="600.47" y2="1075.00" stroke="#000" stroke-width="1.5"/>
<text x="603.67" y="1078.00" font-size="8.9" font-weight="bold" stroke="#000" stroke-width="0.3" text-anchor="end" fill="#000" transform="rotate(-90 603.67 1078.00)">DYRK4</text>
<line x1="611.65" y1="1068.80" x2="611.65" y2="1075.00" stroke="#000" stroke-width="1.5"/>
<text x="614.86" y="1078.00" font-size="8.9" font-weight="bold" stroke="#000" stroke-width="0.3" text-anchor="end" fill="#000" transform="rotate(-90 614.86 1078.00)">PRP4</text>
<line x1="622.85" y1="1068.80" x2="622.85" y2="1075.00" stroke="#000" stroke-width="1.5"/>
<text x="626.05" y="1078.00" font-size="8.9" font-weight="bold" stroke="#000" stroke-width="0.3" text-anchor="end" fill="#000" transform="rotate(-90 626.05 1078.00)">DYRK3</text>
<line x1="634.03" y1="1068.80" x2="634.03" y2="1075.00" stroke="#000" stroke-width="1.5"/>
<text x="637.24" y="1078.00" font-size="8.9" font-weight="bold" stroke="#000" stroke-width="0.3" text-anchor="end" fill="#000" transform="rotate(-90 637.24 1078.00)">DYRK1A</text>
<line x1="645.23" y1="1068.80" x2="645.23" y2="1075.00" stroke="#000" stroke-width="1.5"/>
<text x="648.43" y="1078.00" font-size="8.9" font-weight="bold" stroke="#000" stroke-width="0.3" text-anchor="end" fill="#000" transform="rotate(-90 648.43 1078.00)">PINK1</text>
<line x1="656.42" y1="1068.80" x2="656.42" y2="1075.00" stroke="#000" stroke-width="1.5"/>
<text x="659.62" y="1078.00" font-size="8.9" font-weight="bold" stroke="#000" stroke-width="0.3" text-anchor="end" fill="#000" transform="rotate(-90 659.62 1078.00)">CLK1</text>
<line x1="89.50" y1="894.00" x2="89.50" y2="973.20" stroke="#000" stroke-width="2.0"/>
<path d="M89.5 883.5L94.4 895.2H84.6Z" fill="#000"/>
<line x1="89.50" y1="981.00" x2="89.50" y2="1059.00" stroke="#000" stroke-width="2.0"/>
<path d="M89.5 1070L94.4 1058.3H84.6Z" fill="#000"/>
<text x="85.00" y="931.40" font-size="8.5" stroke="#000" stroke-width="0.18" text-anchor="middle" fill="#000" transform="rotate(-90 85.00 931.40)" textLength="69.9" lengthAdjust="spacingAndGlyphs">Kinase Activation</text>
<text x="85.00" y="1016.80" font-size="8.5" stroke="#000" stroke-width="0.18" text-anchor="middle" fill="#000" transform="rotate(-90 85.00 1016.80)" textLength="71.6" lengthAdjust="spacingAndGlyphs">Kinase Inhibition</text>
<text x="71.80" y="977.30" font-size="11.5" font-weight="bold" stroke="#000" stroke-width="0.3" text-anchor="middle" fill="#000" transform="rotate(-90 71.80 977.30)" textLength="172" lengthAdjust="spacingAndGlyphs">Kinase Enrichment Value (log2)</text>
<path d="M114.9 886.9L114.9 881.2L268.3 881.2L268.3 929.8" fill="none" stroke="#000" stroke-width="1.9" stroke-linejoin="miter"/>
<text x="198.00" y="876.70" font-size="10.3" font-weight="bold" stroke="#000" stroke-width="0.3" text-anchor="middle" fill="#000">MAPK Family</text>
<path d="M295.0 922.6L295.0 916.8L313.5 916.8L313.5 922.6" fill="none" stroke="#000" stroke-width="1.8" stroke-linejoin="miter"/>
<path d="M317.3 926.8L317.3 921.0L335.8 921.0L335.8 926.8" fill="none" stroke="#000" stroke-width="1.8" stroke-linejoin="miter"/>
<text x="308.00" y="876.00" font-size="10.3" font-weight="bold" stroke="#000" stroke-width="0.3" text-anchor="middle" fill="#000" transform="rotate(-90 308.00 876.00)" textLength="75" lengthAdjust="spacingAndGlyphs">GSK Subfamily</text>
<text x="329.40" y="879.00" font-size="10.3" font-weight="bold" stroke="#000" stroke-width="0.3" text-anchor="middle" fill="#000" transform="rotate(-90 329.40 879.00)" textLength="75" lengthAdjust="spacingAndGlyphs">MAK Subfamily</text>
<path d="M372.2 907.7L372.2 892.6L559.0 892.6L559.0 971.2" fill="none" stroke="#000" stroke-width="1.9" stroke-linejoin="miter"/>
<text x="465.60" y="888.20" font-size="10.3" font-weight="bold" stroke="#000" stroke-width="0.3" text-anchor="middle" fill="#000">CDK Family</text>
<path d="M562.3 892.9L562.3 871.4L638.6 871.4L638.6 970.2" fill="none" stroke="#000" stroke-width="1.9" stroke-linejoin="miter"/>
<text x="600.30" y="866.60" font-size="10.3" font-weight="bold" stroke="#000" stroke-width="0.3" text-anchor="middle" fill="#000">DYRK Family</text>
<path d="M562.3 936.3L562.3 930.1L594.4 930.1L594.4 971.2" fill="none" stroke="#000" stroke-width="1.9" stroke-linejoin="miter"/>
<text x="575.20" y="912.00" font-size="10.3" font-weight="bold" stroke="#000" stroke-width="0.3" text-anchor="middle" fill="#000" transform="rotate(-90 575.20 912.00)">HIPK</text>
<text x="588.30" y="899.30" font-size="10.3" font-weight="bold" stroke="#000" stroke-width="0.3" text-anchor="middle" fill="#000" transform="rotate(-90 588.30 899.30)">Subfamily</text>
<text x="371.00" y="689.50" font-size="15.8" font-weight="bold" stroke="#000" stroke-width="0.3" text-anchor="start" fill="#000">H</text>
<g fill="none" stroke="#a3b4d4" stroke-width="1.9" stroke-linecap="round">
<path d="M404.5 820.5 C398 818.5 392 816 393.2 812 C395 807.5 405 804 418 801 C435 797.5 455 795.2 475 794.7 L493 795 C500 795.3 502.5 797.8 501.8 800.6 C501 803.2 497 803.8 492 803.7 L462 803.5 C456.5 803.5 454.5 805.5 455 807.8 C455.5 810 458.5 810.8 463 810.7 C480 810.8 505 813.2 521 816.2 C529 817.8 533.5 818.5 532.5 816 C529 811.5 516 806.5 509 802 C505.8 799.6 507 797.6 510.8 798.3 C525 801 545 808.5 556 815.8 C559.5 818.3 561 820 561.5 822"/>
<path d="M416 819.8 C413 819.5 412.2 816.2 414.6 813.6 C420 810.6 432 806.8 442.8 805.5 C446.6 805.3 447.6 809.2 444.2 812 C437 815.2 425 818.6 416 819.8Z"/>
<path d="M424 822 C440 819.8 462 818.2 489 818.7"/>
</g>
<rect x="385" y="822.2" width="185" height="12" fill="#fff"/>
<ellipse cx="411.3" cy="804.8000000000001" rx="3.6" ry="1.8" fill="#bfe2ec"/><path d="M407.0 804.0 C407.2 800.8000000000001 409.5 799.5 412.0 799.5 C414.90000000000003 799.8000000000001 415.90000000000003 802.2 415.40000000000003 804.2 Z" fill="#b3d9b3"/>
<ellipse cx="447.5" cy="794.0" rx="3.6" ry="1.8" fill="#bfe2ec"/><path d="M443.2 793.1999999999999 C443.4 790.0 445.7 788.6999999999999 448.2 788.6999999999999 C451.1 789.0 452.1 791.4 451.6 793.4 Z" fill="#b3d9b3"/>
<ellipse cx="498.5" cy="806.2" rx="3.6" ry="1.8" fill="#bfe2ec"/><path d="M494.2 805.4 C494.4 802.2 496.7 800.9 499.2 800.9 C502.1 801.2 503.1 803.6 502.6 805.6 Z" fill="#b3d9b3"/>
<ellipse cx="525.6" cy="802.2" rx="3.6" ry="1.8" fill="#bfe2ec"/><path d="M521.3000000000001 801.4 C521.5 798.2 523.8000000000001 796.9 526.3000000000001 796.9 C529.2 797.2 530.2 799.6 529.7 801.6 Z" fill="#b3d9b3"/>
<ellipse cx="551" cy="811.4" rx="3.6" ry="1.8" fill="#bfe2ec"/><path d="M546.7 810.5999999999999 C546.9 807.4 549.2 806.0999999999999 551.7 806.0999999999999 C554.6 806.4 555.6 808.8 555.1 810.8 Z" fill="#b3d9b3"/>
<path d="M382.8 781.3l-0.5 -4.4M385.2 780.9l-0.7 -4.4M387.5 780.5l-0.9 -4.3M389.9 779.9l-1.0 -4.3M392.2 779.3l-1.3 -4.2M394.5 778.6l-1.4 -4.2M396.7 777.7l-1.6 -4.1M398.9 776.8l-1.8 -4.0M401.1 775.8l-1.9 -4.0M403.3 774.8l-2.0 -3.9M405.4 773.6l-2.1 -3.9M407.5 772.5l-2.2 -3.8M409.6 771.2l-2.2 -3.8M411.6 770.0l-2.3 -3.8M413.7 768.8l-2.2 -3.8M415.8 767.6l-2.1 -3.9M417.9 766.5l-2.0 -3.9" stroke="#1b5a92" stroke-width="1.0" fill="none"/>
<path d="M455.9 757.8l-2.7 -3.5M457.8 756.4l-2.6 -3.5M459.7 755.0l-2.5 -3.6M461.7 753.7l-2.4 -3.7M463.7 752.4l-2.4 -3.7M465.6 751.2l-2.3 -3.8M467.7 750.0l-2.2 -3.8M469.7 748.8l-2.1 -3.8M471.8 747.7l-2.0 -3.9M473.9 746.7l-1.9 -4.0M476.0 745.7l-1.9 -4.0M478.2 744.7l-1.7 -4.0M480.3 743.8l-1.7 -4.1M482.5 742.9l-1.6 -4.1M484.7 742.1l-1.5 -4.2M486.9 741.3l-1.4 -4.2M489.2 740.6l-1.3 -4.2M491.4 739.9l-1.2 -4.2M493.7 739.3l-1.1 -4.3M496.0 738.7l-1.1 -4.3M498.2 738.2l-1.0 -4.3M500.5 737.7l-0.9 -4.3M502.8 737.2l-0.8 -4.3" stroke="#1b5a92" stroke-width="1.0" fill="none"/>
<path d="M547.4 738.3l-0.2 -4.6M550.2 738.7l1.4 -4.4M552.5 740.4l3.4 -3.1M553.9 742.9l4.4 -1.5M554.4 745.7l4.6 -0.5M554.5 748.5l4.6 0.3M554.1 751.4l4.5 0.9M553.4 754.1l4.4 1.3M552.5 756.9l4.3 1.6M551.3 759.5l4.2 1.9M550.0 762.0l4.2 1.8M549.0 764.7l4.4 1.4M548.2 767.4l4.5 1.0M547.8 770.3l4.6 0.6M547.6 773.1l4.6 0.2M547.6 776.0l4.6 -0.4M548.0 778.8l4.5 -0.8M548.6 781.6l4.4 -1.3M549.4 784.4l4.3 -1.7M550.5 787.0l4.2 -1.9M551.9 789.5l4.0 -2.2M553.4 792.0l3.8 -2.6M555.1 794.2l3.5 -3.0M557.1 796.4l3.2 -3.3M559.1 798.3l3.1 -3.4M561.4 800.1l2.7 -3.7" stroke="#1b5a92" stroke-width="1.0" fill="none"/>
<path d="M381.6 781.4L383.4 781.2L385.2 780.9L386.9 780.6L388.5 780.3L390.1 779.9L391.7 779.5L393.2 779.0L394.7 778.5L396.1 778.0L397.5 777.5L398.8 776.9L400.1 776.3L401.4 775.7L402.6 775.1L403.8 774.5L405.0 773.9L406.1 773.2L407.2 772.6L408.3 772.0L409.4 771.3L410.4 770.7L411.4 770.1L412.4 769.5L413.4 769.0L414.4 768.4L415.3 767.9L416.3 767.4L417.2 766.9L418.1 766.4L419.0 766.0C428 763.5 440 763.5 455 758.5L455.0 758.5L456.5 757.4L458.0 756.3L459.5 755.2L461.0 754.2L462.5 753.2L464.0 752.2L465.6 751.2L467.1 750.3L468.6 749.4L470.1 748.6L471.7 747.8L473.3 747.0L474.8 746.2L476.4 745.5L478.0 744.8L479.6 744.1L481.2 743.4L482.9 742.8L484.5 742.2L486.2 741.6L487.9 741.0L489.6 740.5L491.3 740.0L493.0 739.5L494.8 739.0L496.6 738.6L498.4 738.1L500.3 737.7L502.1 737.4L504.0 737.0C518 734.5 532 740 546 738.5L546.0 738.5L547.0 738.4L547.9 738.3L548.7 738.3L549.5 738.5L550.3 738.7L550.9 739.0L551.5 739.4L552.1 739.9L552.6 740.4L553.0 741.0L553.4 741.7L553.7 742.5L554.0 743.2L554.2 744.1L554.4 745.0L554.5 745.9L554.5 746.9L554.5 748.0L554.4 749.0L554.3 750.1L554.1 751.3L553.9 752.4L553.6 753.6L553.2 754.8L552.8 756.0L552.4 757.2L551.9 758.4L551.3 759.6L550.7 760.8L550.0 762.0L550.0 762.0L549.5 763.1L549.1 764.3L548.7 765.5L548.4 766.7L548.1 767.9L547.9 769.2L547.7 770.5L547.6 771.9L547.6 773.2L547.6 774.6L547.6 775.9L547.8 777.3L548.0 778.7L548.2 780.1L548.6 781.5L549.0 782.9L549.4 784.3L550.0 785.7L550.6 787.1L551.3 788.4L552.0 789.8L552.9 791.1L553.8 792.5L554.8 793.8L555.8 795.1L557.0 796.3L558.2 797.5L559.6 798.7L561.0 799.9L562.5 801.0" fill="none" stroke="#1b5a92" stroke-width="2.3" stroke-linecap="round"/>
<path d="M415.1 758.1C414.9 755.8 416.0 752.6 417.3 750.0C418.6 747.4 421.0 744.9 423.2 742.7C425.4 740.5 427.8 738.1 430.5 736.9C433.2 735.6 436.0 735.2 439.2 735.2C442.4 735.2 446.9 735.5 449.5 736.6C452.1 737.7 453.6 739.8 454.6 742.0C455.6 744.2 455.6 747.5 455.5 750.0C455.4 752.5 455.2 754.9 454.0 757.0C452.8 759.1 451.4 761.3 448.0 762.6C444.6 763.9 438.3 764.4 433.4 764.6C428.5 764.8 421.9 764.7 418.8 763.6C415.8 762.5 415.4 760.4 415.1 758.1Z" fill="#aad6ab"/>
<path d="M417.5 766.5C416.0 767.5 417.9 768.9 418.8 770.5C419.8 772.1 420.8 774.8 423.2 776.3C425.6 777.8 430.0 779.0 433.4 779.2C436.8 779.5 440.2 778.8 443.6 777.8C447.0 776.8 451.1 775.6 453.8 773.4C456.5 771.2 459.0 767.0 459.7 764.6C460.4 762.2 459.4 759.6 458.2 758.8C457.0 757.9 455.4 758.8 452.4 759.5C449.4 760.2 444.1 762.3 440.0 763.2C435.9 764.1 431.8 764.2 428.0 764.8C424.2 765.3 419.0 765.5 417.5 766.5Z" fill="#aad6e6"/>
<path d="M504.3 732.6C504.1 730.4 504.2 726.9 505.2 724.7C506.2 722.5 507.9 720.9 510.4 719.4C512.9 717.9 516.7 716.8 520.1 715.9C523.5 715.0 527.2 714.2 530.6 714.2C534.0 714.2 537.7 714.6 540.2 715.9C542.7 717.2 544.5 719.5 545.5 722.0C546.5 724.5 546.5 728.3 546.4 730.8C546.2 733.3 548.2 736.1 544.6 737.2C541.0 738.3 531.4 737.4 525.0 737.6C518.6 737.8 509.6 739.0 506.1 738.2C502.7 737.4 504.5 734.9 504.3 732.6Z" fill="#aad6ab"/>
<path d="M504.8 740.5C502.4 741.8 504.8 744.9 505.5 747.0C506.2 749.1 506.9 751.5 509.0 753.0C511.1 754.5 514.5 755.7 518.0 756.2C521.5 756.7 526.3 756.2 530.0 755.8C533.7 755.4 537.4 755.3 540.0 754.0C542.6 752.7 544.5 750.2 545.5 748.0C546.5 745.8 547.8 742.4 546.0 741.0C544.2 739.6 539.3 740.1 535.0 739.8C530.7 739.5 525.0 739.1 520.0 739.2C515.0 739.3 507.2 739.2 504.8 740.5Z" fill="#aad6e6"/>
<path d="M418 766.2 C428 763.6 440 763.4 455.5 758.5" fill="none" stroke="#1b5a92" stroke-width="2"/>
<path d="M418 766.2 C428 763.6 440 763.4 455.5 758.5" fill="none" stroke="#fff" stroke-width="0.9" stroke-dasharray="1.7,1.3"/>
<path d="M504.5 738.3 C518 736.5 532 739.8 546 738.8" fill="none" stroke="#1b5a92" stroke-width="2"/>
<path d="M504.5 738.3 C518 736.5 532 739.8 546 738.8" fill="none" stroke="#fff" stroke-width="0.9" stroke-dasharray="1.7,1.3"/>
<path d="M440 722.5 C443 719.5 448 720 449 724 C450.5 729 450 735 446 737.2 C443 738.5 440 736.5 441 733.5 C442 731 444 729 442.5 727 C441 725.5 438 725 440 722.5Z" fill="#e6e9f9" stroke="#98a6dc" stroke-width="0.8"/>
<path d="M539 705 C542 703 546 705 546.5 710 C547 715 545 719.5 541 720 C538 720.3 537 718 538.5 716 C540 713.5 540.5 711 539 709 C537.5 707.5 537 706 539 705Z" fill="#e6e9f9" stroke="#98a6dc" stroke-width="0.8"/>
<line x1="446.00" y1="723.00" x2="449.40" y2="719.20" stroke="#777" stroke-width="0.8"/>
<circle cx="450.3" cy="716.9" r="3.1" fill="#b8308a"/>
<path d="M433.5 723.8 C437 726 440 728.5 437 731 C434 733 430.5 735 431 738 C431.2 740 432 741.5 432.2 742.2" fill="none" stroke="#e8862a" stroke-width="1.7" stroke-linecap="round"/>
<path d="M530.5 715 C527 711 520 709 516.5 704.5 C514 700 519 698 525 697 C531 696 536 697 539.5 698.6 M527 697 C524 694 521 689.5 523.5 686.5 C526 684 531.5 684.5 536 686 C539 687.5 537 691 533 693 C530 694.5 528.5 696 527.5 698" fill="none" stroke="#e8862a" stroke-width="1.7" stroke-linecap="round"/>
<path d="M566.6 742.0C567.2 741.7 569.0 739.9 570.1 740.2C571.2 740.5 572.8 742.3 573.0 743.7C573.2 745.1 572.0 746.8 571.3 748.4C570.6 750.0 568.8 751.5 568.9 753.1C569.0 754.7 570.7 757.3 571.9 757.7C573.1 758.1 575.1 757.0 575.9 755.4C576.7 753.8 576.3 751.1 576.5 748.4C576.7 745.7 576.5 741.3 577.1 739.0C577.7 736.7 578.8 734.8 580.0 734.4C581.2 734.0 583.5 735.3 584.1 736.7C584.7 738.1 584.1 740.7 583.5 742.6C582.9 744.5 581.5 746.3 580.6 748.4C579.7 750.5 578.7 753.3 578.3 755.4C577.9 757.5 577.8 759.9 578.3 761.2C578.8 762.5 580.3 763.6 581.2 763.2C582.1 762.8 583.1 760.6 583.5 758.9C583.9 757.2 583.1 755.1 583.5 753.1C583.9 751.1 584.9 747.8 585.9 746.6C586.9 745.5 588.9 745.5 589.6 746.2C590.4 746.9 590.8 749.2 590.4 750.7C590.0 752.2 588.3 754.4 587.0 755.2C585.7 756.0 583.3 755.5 582.6 755.6" fill="none" stroke="#e8862a" stroke-width="2.1" stroke-linecap="round" stroke-linejoin="round"/>
<g stroke="#a8322a" stroke-width="1.4" fill="none" stroke-linecap="round"><path d="M388 693.6 H392 M390.2 693.8 L397.4 703.2 L409.7 703.5 M397.4 703.2 L407.8 692.5 L409.2 688 M406 688.2 L410.5 686.4"/><circle cx="409.7" cy="703.5" r="4.1" stroke-width="1.5"/><circle cx="409.7" cy="703.5" r="1.4"/><path d="M385.5 710.4 H418.4 M390.5 710.4 L397.4 703.5 M412.5 707.8 L414 710.4" stroke-width="1.6"/></g>
<circle cx="404.5" cy="681.9" r="2.9" fill="#d9826b"/>
<g stroke="#d9826b" fill="none" stroke-linecap="round" stroke-linejoin="round"><path d="M392.6 690.8 C395 687.5 399 686 403.6 685.6" stroke-width="5"/><path d="M403.6 685.6 L409.2 687.4" stroke-width="2"/><path d="M392.8 691.2 L399.6 695.8 L397.6 703.6" stroke-width="3.4"/></g>
<text x="402.30" y="720.00" font-size="9.4" font-weight="bold" stroke="#a83232" stroke-width="0.3" text-anchor="middle" fill="#a83232">AAE</text>
<text x="416.00" y="686.20" font-size="9.3" stroke="#333" stroke-width="0.18" text-anchor="start" fill="#333" textLength="25.1" lengthAdjust="spacingAndGlyphs">NACA</text>
<text x="422.80" y="696.20" font-size="9.3" stroke="#333" stroke-width="0.18" text-anchor="start" fill="#333" textLength="68.6" lengthAdjust="spacingAndGlyphs">phosphorylation</text>
<path d="M421.4 700.8 C432 698 440 703 443.5 709.5" fill="none" stroke="#222" stroke-width="1"/><path d="M444.8 713.2 L441.2 709.8 L445.4 708.2Z" fill="#222"/>
<text x="383.80" y="732.50" font-size="8.8" font-weight="bold" stroke="#000" stroke-width="0.3" text-anchor="start" fill="#000" textLength="34.3" lengthAdjust="spacingAndGlyphs">Nascent</text>
<text x="376.50" y="742.70" font-size="8.8" font-weight="bold" stroke="#000" stroke-width="0.3" text-anchor="start" fill="#000" textLength="48.9" lengthAdjust="spacingAndGlyphs">Polypeptide</text>
<text x="450.60" y="729.60" font-size="8.8" font-weight="bold" stroke="#000" stroke-width="0.3" text-anchor="start" fill="#000" textLength="24.6" lengthAdjust="spacingAndGlyphs">NACA</text>
<text x="417.30" y="784.40" font-size="8.8" font-weight="bold" stroke="#000" stroke-width="0.3" text-anchor="start" fill="#000" textLength="40.9" lengthAdjust="spacingAndGlyphs">Ribosome</text>
<text x="382.00" y="789.70" font-size="8.8" font-weight="bold" stroke="#000" stroke-width="0.3" text-anchor="start" fill="#000" textLength="26.6" lengthAdjust="spacingAndGlyphs">mRNA</text>
<path d="M461.4 757.4 C470 751 481 747 490.5 745.5" fill="none" stroke="#4aa84a" stroke-width="0.9"/><path d="M494.2 744.7 L489.6 743 L490.4 747.4Z" fill="#4aa84a"/>
<text x="487.3" y="758.4" font-size="10" fill="#5cb85c" text-anchor="middle" transform="rotate(-16 487.3 758.4)" textLength="31" lengthAdjust="spacingAndGlyphs">Cytosol</text>
<path d="M460.5 759.8 C470 765 476 772 477.6 781" fill="none" stroke="#c0392b" stroke-width="0.9"/><path d="M478 785.3 L475.6 780.6 L479.8 780.4Z" fill="#c0392b"/>
<text x="476.30" y="776.50" font-size="9.6" stroke="#d04848" stroke-width="0.18" text-anchor="start" fill="#d04848">ER</text>
<text x="481.30" y="786.10" font-size="9.6" stroke="#d04848" stroke-width="0.18" text-anchor="start" fill="#d04848" textLength="55.4" lengthAdjust="spacingAndGlyphs">translocation</text>
<path d="M475 789 L485.2 799 M485.2 789 L475 799" stroke="#c0392b" stroke-width="1.5"/>
<path d="M548.5 697.6 C562 700 569 710 571.5 724" fill="none" stroke="#222" stroke-width="1"/><path d="M571.9 728.6 L569.3 723.6 L573.9 723.2Z" fill="#222"/>
<text x="553.80" y="774.20" font-size="8.8" font-weight="bold" stroke="#000" stroke-width="0.3" text-anchor="start" fill="#000" textLength="51.3" lengthAdjust="spacingAndGlyphs">Cytoplasmic</text>
<text x="564.30" y="784.70" font-size="8.8" font-weight="bold" stroke="#000" stroke-width="0.3" text-anchor="start" fill="#000" textLength="29.7" lengthAdjust="spacingAndGlyphs">Protein</text>
<g fill="none" stroke="#222" stroke-width="1"><path d="M584 732 C587 722 592 714 599.5 708.4"/><path d="M594 746.6 L616.8 741"/><path d="M595.2 760 L615.6 772.5"/><path d="M580 788.8 C586 797 593 803 602 806"/></g>
<g fill="#222"><path d="M602.4 706.2 L596.8 707.2 L600.2 711Z"/><path d="M621 740.1 L615.7 738.6 L616.6 743.3Z"/><path d="M619.4 774.9 L616.5 770.1 L614 774.2Z"/><path d="M606 807.4 L601 804 L600.6 808.6Z"/></g>
<text x="599.40" y="690.00" font-size="9.4" stroke="#222" stroke-width="0.18" text-anchor="start" fill="#222" textLength="56.7" lengthAdjust="spacingAndGlyphs">Mitochondria</text>
<ellipse cx="630.4" cy="702" rx="22.2" ry="9.6" fill="#fdf1ee" stroke="#eab6aa" stroke-width="1"/>
<path d="M612 703 C614 699 616 699 617 702 C618 706 620 706 621 702 C622 698 624 697 625 701 C626 705 628 706 629 701 C630 697 632 697 633 701 C634 705 636 706 637 702 C638 698 640 698 641 702 C642 706 644 706 645 702 C646 699 648 699 649 702" fill="none" stroke="#eab6aa" stroke-width="0.8"/>
<text x="613.40" y="730.40" font-size="9.4" stroke="#222" stroke-width="0.18" text-anchor="start" fill="#222" textLength="50.8" lengthAdjust="spacingAndGlyphs">Peroxisome</text>
<circle cx="639.9" cy="744.7" r="12.6" fill="#efb43a"/><circle cx="639.9" cy="744.7" r="9.6" fill="#fbe7a6"/><path d="M634 742 C635 738 641 737 644.5 739.5 C647 742 646 748 642 750 C638 751.5 633.5 748 634 742Z" fill="#ebbd45"/>
<text x="627.00" y="768.20" font-size="9.4" stroke="#222" stroke-width="0.18" text-anchor="start" fill="#222" textLength="35" lengthAdjust="spacingAndGlyphs">Nucleus</text>
<circle cx="644.5" cy="785.8" r="16.4" fill="#cdd3f3" stroke="#8190dc" stroke-width="1.1" stroke-dasharray="4,1.6"/><circle cx="640.4" cy="784.4" r="4.8" fill="#8e9be2"/>
<g fill="#b4bdec"><circle cx="650" cy="778" r="0.7"/><circle cx="636" cy="792" r="0.7"/><circle cx="652" cy="792" r="0.7"/><circle cx="645" cy="775" r="0.7"/><circle cx="655" cy="786" r="0.7"/><circle cx="633" cy="780" r="0.7"/></g>
<text x="606.70" y="816.90" font-size="9.4" stroke="#222" stroke-width="0.18" text-anchor="start" fill="#222" textLength="32.3" lengthAdjust="spacingAndGlyphs">Cytosol</text>
</svg></body></html>
